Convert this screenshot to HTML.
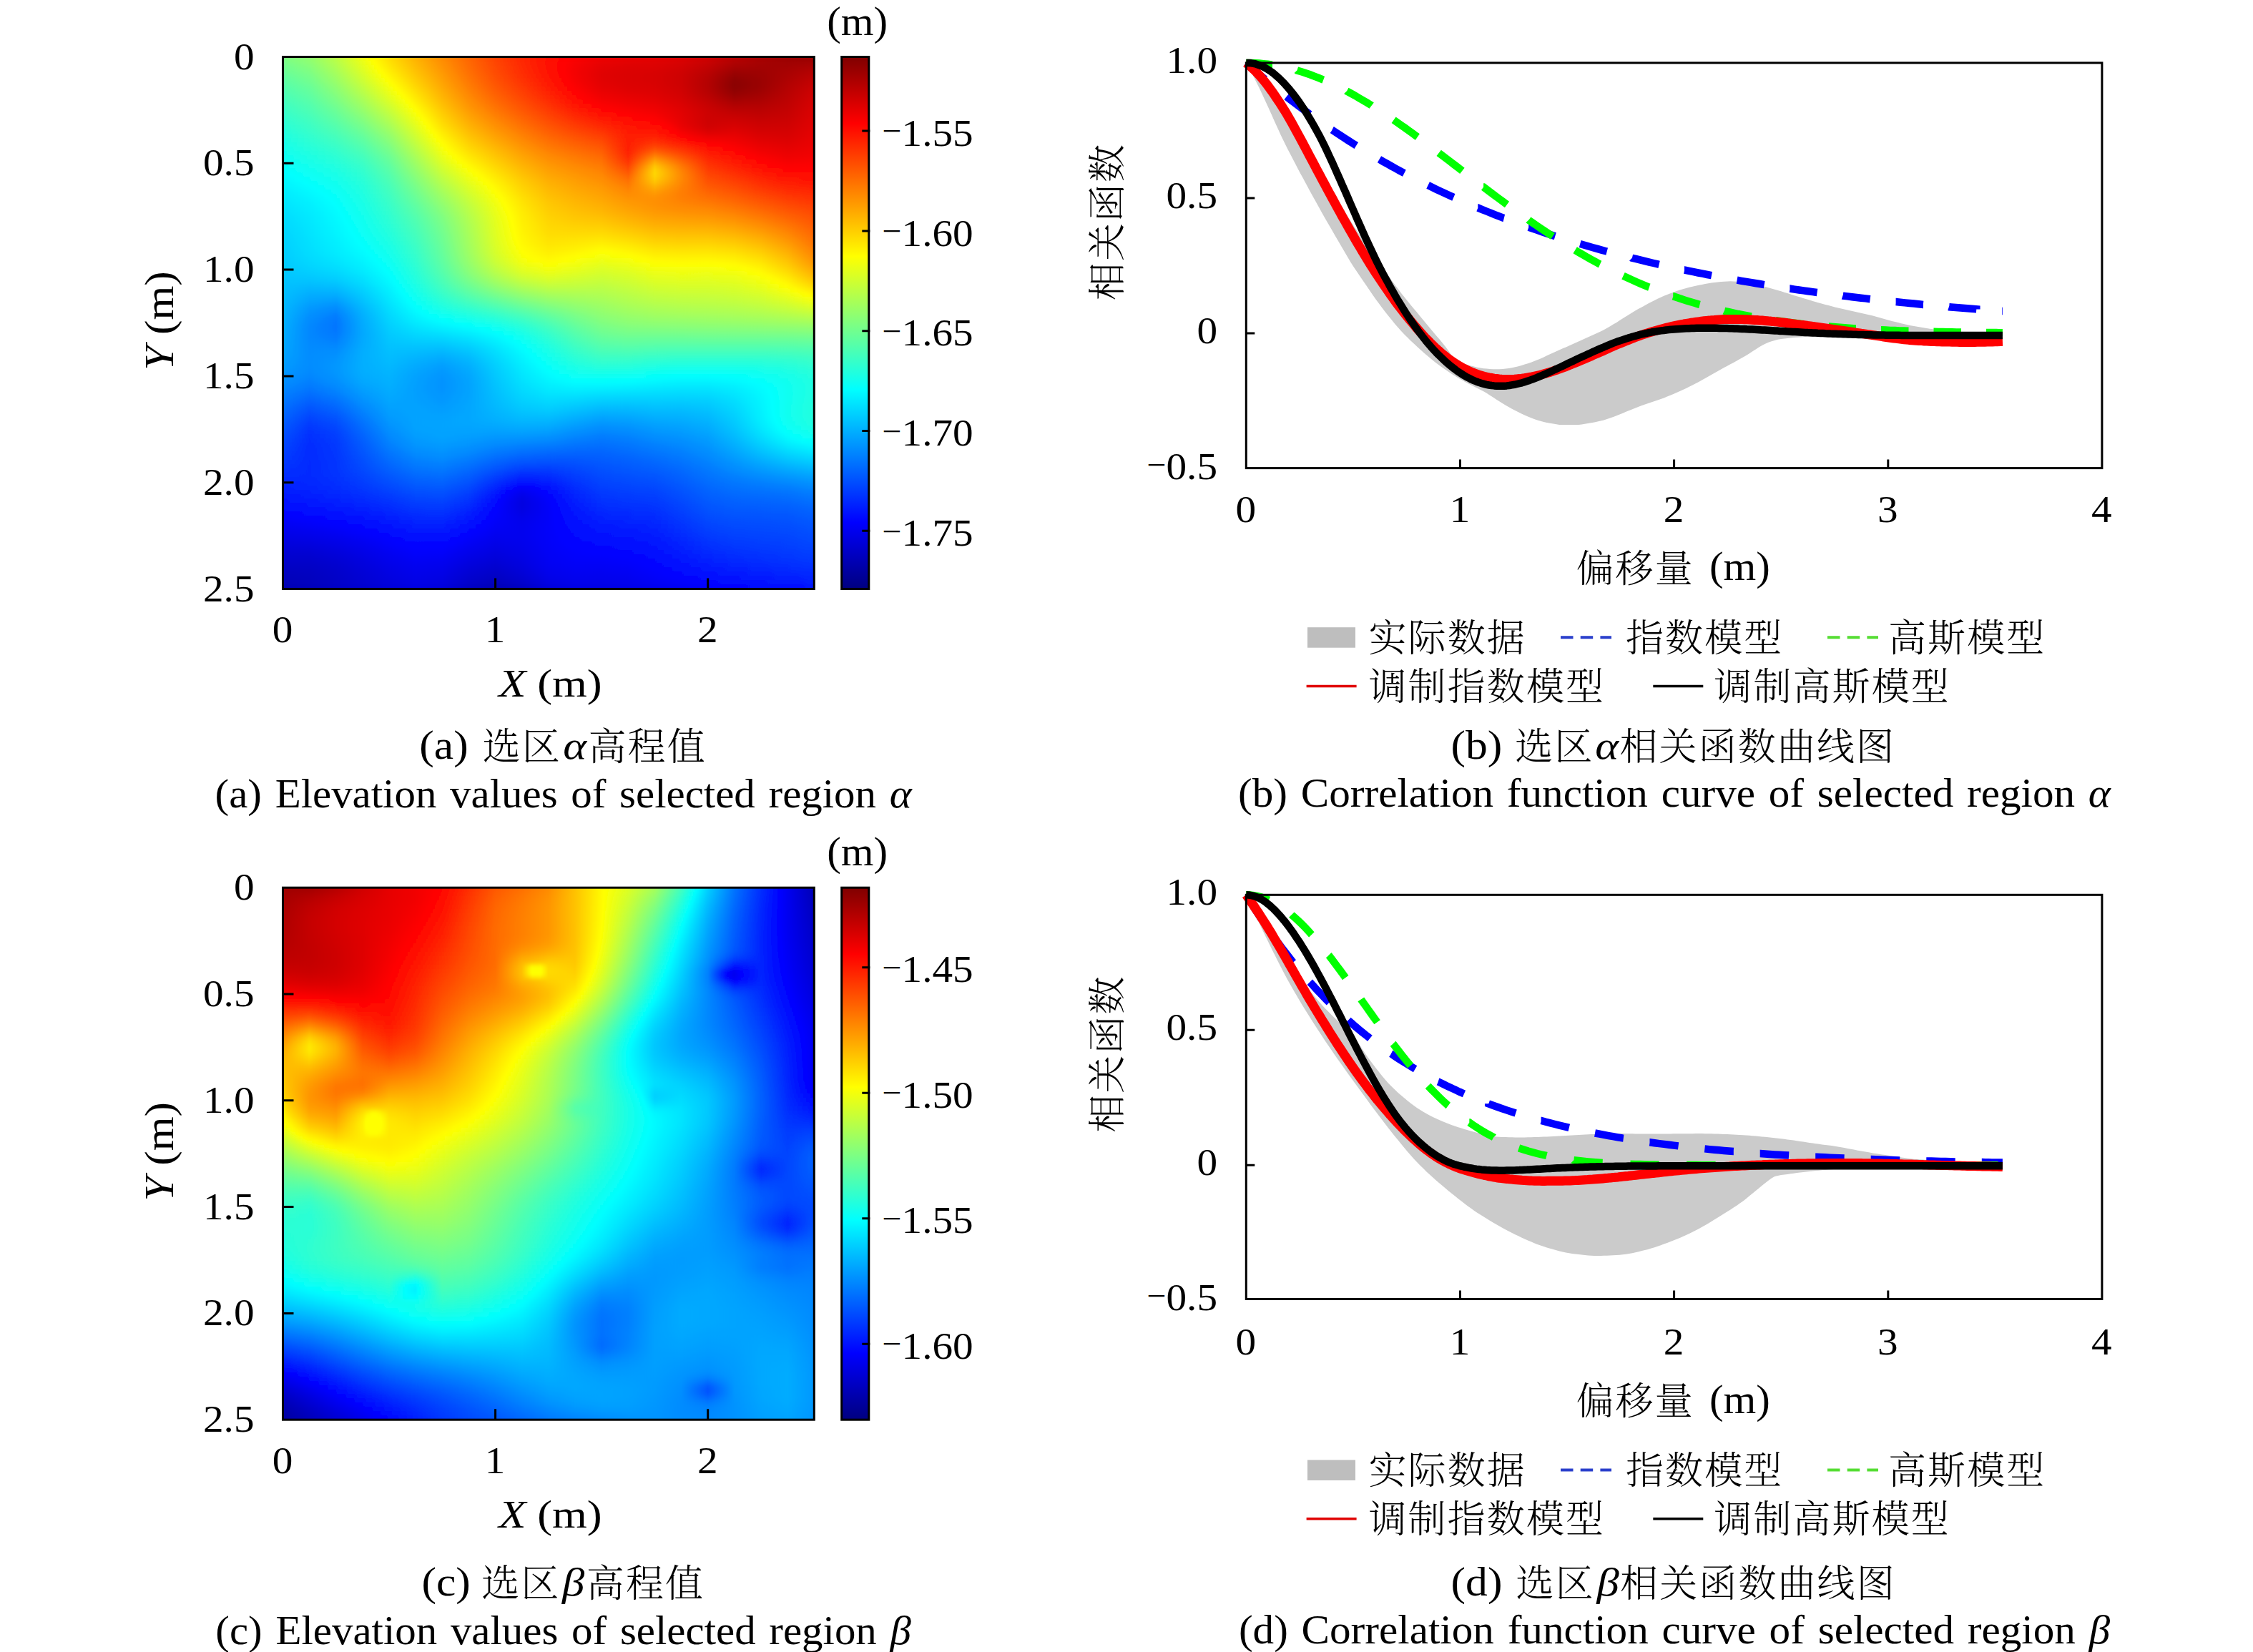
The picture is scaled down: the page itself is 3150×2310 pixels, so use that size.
<!DOCTYPE html>
<html lang="zh"><head><meta charset="utf-8"><title>Figure</title>
<style>html,body{margin:0;padding:0;background:#fff}svg{display:block}text{font-family:"Liberation Serif","Noto Serif CJK SC",serif;font-size:56px;fill:#000}.cj{font-family:"Noto Serif CJK SC","Liberation Serif",serif;font-size:53px;letter-spacing:2.1px;font-weight:300}</style></head><body>
<svg width="3150" height="2310" viewBox="0 0 3150 2310">
<rect width="3150" height="2310" fill="#fff"/>
<defs><linearGradient id="jetv" x1="0" y1="0" x2="0" y2="1"><stop offset="0" stop-color="#800000"/><stop offset="0.0312" stop-color="#9f0000"/><stop offset="0.0625" stop-color="#bf0000"/><stop offset="0.0938" stop-color="#df0000"/><stop offset="0.125" stop-color="#f00"/><stop offset="0.1562" stop-color="#ff2000"/><stop offset="0.1875" stop-color="#ff4000"/><stop offset="0.2188" stop-color="#ff6000"/><stop offset="0.25" stop-color="#ff8000"/><stop offset="0.2812" stop-color="#ff9f00"/><stop offset="0.3125" stop-color="#ffbf00"/><stop offset="0.3438" stop-color="#ffdf00"/><stop offset="0.375" stop-color="#ff0"/><stop offset="0.4062" stop-color="#dfff20"/><stop offset="0.4375" stop-color="#bfff40"/><stop offset="0.4688" stop-color="#9fff60"/><stop offset="0.5" stop-color="#80ff80"/><stop offset="0.5312" stop-color="#60ff9f"/><stop offset="0.5625" stop-color="#40ffbf"/><stop offset="0.5938" stop-color="#20ffdf"/><stop offset="0.625" stop-color="#0ff"/><stop offset="0.6562" stop-color="#00dfff"/><stop offset="0.6875" stop-color="#00bfff"/><stop offset="0.7188" stop-color="#009fff"/><stop offset="0.75" stop-color="#0080ff"/><stop offset="0.7812" stop-color="#0060ff"/><stop offset="0.8125" stop-color="#0040ff"/><stop offset="0.8438" stop-color="#0020ff"/><stop offset="0.875" stop-color="#00f"/><stop offset="0.9062" stop-color="#0000df"/><stop offset="0.9375" stop-color="#0000bf"/><stop offset="0.9688" stop-color="#00009f"/><stop offset="1" stop-color="#000080"/></linearGradient></defs>
<defs><linearGradient id="a0"><stop offset="0" stop-color="#7cff83"/><stop offset="0.05" stop-color="#90ff6f"/><stop offset="0.1" stop-color="#baff45"/><stop offset="0.15" stop-color="#edff12"/><stop offset="0.167" stop-color="#ff0"/><stop offset="0.2" stop-color="#ffde00"/><stop offset="0.25" stop-color="#ffb200"/><stop offset="0.3" stop-color="#ff8b00"/><stop offset="0.35" stop-color="#f60"/><stop offset="0.4" stop-color="#ff4300"/><stop offset="0.45" stop-color="#ff2600"/><stop offset="0.5" stop-color="#ff0f00"/><stop offset="0.536" stop-color="#f00"/><stop offset="0.55" stop-color="#fa0000"/><stop offset="0.6" stop-color="#ec0000"/><stop offset="0.65" stop-color="#e60000"/><stop offset="0.7" stop-color="#e30000"/><stop offset="0.75" stop-color="#db0000"/><stop offset="0.8" stop-color="#c00"/><stop offset="0.85" stop-color="#b60000"/><stop offset="0.9" stop-color="#a60000"/><stop offset="0.95" stop-color="#9b0000"/><stop offset="1" stop-color="#900"/></linearGradient><linearGradient id="a1"><stop offset="0" stop-color="#75ff8a"/><stop offset="0.05" stop-color="#8aff75"/><stop offset="0.1" stop-color="#b3ff4c"/><stop offset="0.15" stop-color="#e7ff18"/><stop offset="0.172" stop-color="#ff0"/><stop offset="0.2" stop-color="#ffe300"/><stop offset="0.25" stop-color="#ffb700"/><stop offset="0.3" stop-color="#ff8f00"/><stop offset="0.35" stop-color="#ff6800"/><stop offset="0.4" stop-color="#f40"/><stop offset="0.45" stop-color="#ff2700"/><stop offset="0.5" stop-color="#ff0e00"/><stop offset="0.531" stop-color="#f00"/><stop offset="0.55" stop-color="#f70000"/><stop offset="0.6" stop-color="#e70000"/><stop offset="0.65" stop-color="#e10000"/><stop offset="0.7" stop-color="#de0000"/><stop offset="0.75" stop-color="#d60000"/><stop offset="0.8" stop-color="#c60000"/><stop offset="0.85" stop-color="#ae0000"/><stop offset="0.9" stop-color="#a40000"/><stop offset="0.95" stop-color="#9f0000"/><stop offset="1" stop-color="#a30000"/></linearGradient><linearGradient id="a2"><stop offset="0" stop-color="#6fff90"/><stop offset="0.05" stop-color="#83ff7c"/><stop offset="0.1" stop-color="#adff52"/><stop offset="0.15" stop-color="#e1ff1e"/><stop offset="0.178" stop-color="#ff0"/><stop offset="0.2" stop-color="#ffe900"/><stop offset="0.25" stop-color="#ffbc00"/><stop offset="0.3" stop-color="#ff9300"/><stop offset="0.35" stop-color="#ff6b00"/><stop offset="0.4" stop-color="#ff4700"/><stop offset="0.45" stop-color="#ff2900"/><stop offset="0.5" stop-color="#ff0f00"/><stop offset="0.529" stop-color="#f00"/><stop offset="0.55" stop-color="#f50000"/><stop offset="0.6" stop-color="#e30000"/><stop offset="0.65" stop-color="#d00"/><stop offset="0.7" stop-color="#db0000"/><stop offset="0.75" stop-color="#d20000"/><stop offset="0.8" stop-color="#c00000"/><stop offset="0.85" stop-color="#a60000"/><stop offset="0.9" stop-color="#a10000"/><stop offset="0.95" stop-color="#a30000"/><stop offset="1" stop-color="#ac0000"/></linearGradient><linearGradient id="a3"><stop offset="0" stop-color="#69ff96"/><stop offset="0.05" stop-color="#7dff82"/><stop offset="0.1" stop-color="#a6ff59"/><stop offset="0.15" stop-color="#daff25"/><stop offset="0.184" stop-color="#ff0"/><stop offset="0.2" stop-color="#ffef00"/><stop offset="0.25" stop-color="#ffc100"/><stop offset="0.3" stop-color="#ff9700"/><stop offset="0.35" stop-color="#ff6e00"/><stop offset="0.4" stop-color="#ff4900"/><stop offset="0.45" stop-color="#ff2b00"/><stop offset="0.5" stop-color="#ff1000"/><stop offset="0.529" stop-color="#f00"/><stop offset="0.55" stop-color="#f40000"/><stop offset="0.6" stop-color="#e10000"/><stop offset="0.65" stop-color="#db0000"/><stop offset="0.7" stop-color="#d80000"/><stop offset="0.75" stop-color="#cf0000"/><stop offset="0.8" stop-color="#b00"/><stop offset="0.85" stop-color="#9c0000"/><stop offset="0.9" stop-color="#9e0000"/><stop offset="0.95" stop-color="#a70000"/><stop offset="1" stop-color="#b40000"/></linearGradient><linearGradient id="a4"><stop offset="0" stop-color="#62ff9d"/><stop offset="0.05" stop-color="#7f8"/><stop offset="0.1" stop-color="#9fff60"/><stop offset="0.15" stop-color="#d3ff2c"/><stop offset="0.191" stop-color="#ff0"/><stop offset="0.2" stop-color="#fff600"/><stop offset="0.25" stop-color="#ffc700"/><stop offset="0.3" stop-color="#ff9c00"/><stop offset="0.35" stop-color="#ff7200"/><stop offset="0.4" stop-color="#ff4d00"/><stop offset="0.45" stop-color="#ff2e00"/><stop offset="0.5" stop-color="#ff1200"/><stop offset="0.531" stop-color="#f00"/><stop offset="0.55" stop-color="#f50000"/><stop offset="0.6" stop-color="#e00000"/><stop offset="0.65" stop-color="#da0000"/><stop offset="0.7" stop-color="#d70000"/><stop offset="0.75" stop-color="#cd0000"/><stop offset="0.8" stop-color="#b60000"/><stop offset="0.85" stop-color="#930000"/><stop offset="0.9" stop-color="#9c0000"/><stop offset="0.95" stop-color="#a00"/><stop offset="1" stop-color="#b00"/></linearGradient><linearGradient id="a5"><stop offset="0" stop-color="#5cffa3"/><stop offset="0.05" stop-color="#71ff8e"/><stop offset="0.1" stop-color="#9f6"/><stop offset="0.15" stop-color="#cf3"/><stop offset="0.198" stop-color="#ff0"/><stop offset="0.2" stop-color="#fffd00"/><stop offset="0.25" stop-color="#ffcd00"/><stop offset="0.3" stop-color="#ffa000"/><stop offset="0.35" stop-color="#ff7600"/><stop offset="0.4" stop-color="#ff5000"/><stop offset="0.45" stop-color="#ff3100"/><stop offset="0.5" stop-color="#ff1500"/><stop offset="0.535" stop-color="#f00"/><stop offset="0.55" stop-color="#f60000"/><stop offset="0.6" stop-color="#e10000"/><stop offset="0.65" stop-color="#da0000"/><stop offset="0.7" stop-color="#d70000"/><stop offset="0.75" stop-color="#cd0000"/><stop offset="0.8" stop-color="#b40000"/><stop offset="0.85" stop-color="#8d0000"/><stop offset="0.9" stop-color="#9a0000"/><stop offset="0.95" stop-color="#ad0000"/><stop offset="1" stop-color="#c10000"/></linearGradient><linearGradient id="a6"><stop offset="0" stop-color="#57ffa8"/><stop offset="0.05" stop-color="#6bff94"/><stop offset="0.1" stop-color="#92ff6d"/><stop offset="0.15" stop-color="#c4ff3b"/><stop offset="0.2" stop-color="#f9ff06"/><stop offset="0.206" stop-color="#ff0"/><stop offset="0.25" stop-color="#ffd300"/><stop offset="0.3" stop-color="#ffa500"/><stop offset="0.35" stop-color="#ff7a00"/><stop offset="0.4" stop-color="#f50"/><stop offset="0.45" stop-color="#ff3500"/><stop offset="0.5" stop-color="#ff1800"/><stop offset="0.54" stop-color="#f00"/><stop offset="0.55" stop-color="#f90000"/><stop offset="0.6" stop-color="#e30000"/><stop offset="0.65" stop-color="#dc0000"/><stop offset="0.7" stop-color="#d80000"/><stop offset="0.75" stop-color="#cd0000"/><stop offset="0.8" stop-color="#b30000"/><stop offset="0.85" stop-color="#8a0000"/><stop offset="0.9" stop-color="#9a0000"/><stop offset="0.95" stop-color="#b10000"/><stop offset="1" stop-color="#c60000"/></linearGradient><linearGradient id="a7"><stop offset="0" stop-color="#51ffae"/><stop offset="0.05" stop-color="#65ff9a"/><stop offset="0.1" stop-color="#8bff74"/><stop offset="0.15" stop-color="#bcff43"/><stop offset="0.2" stop-color="#f1ff0e"/><stop offset="0.213" stop-color="#ff0"/><stop offset="0.25" stop-color="#ffda00"/><stop offset="0.3" stop-color="#fa0"/><stop offset="0.35" stop-color="#ff7f00"/><stop offset="0.4" stop-color="#ff5900"/><stop offset="0.45" stop-color="#ff3a00"/><stop offset="0.5" stop-color="#ff1c00"/><stop offset="0.546" stop-color="#f00"/><stop offset="0.55" stop-color="#fd0000"/><stop offset="0.6" stop-color="#e60000"/><stop offset="0.65" stop-color="#de0000"/><stop offset="0.7" stop-color="#da0000"/><stop offset="0.75" stop-color="#cf0000"/><stop offset="0.8" stop-color="#b40000"/><stop offset="0.85" stop-color="#8c0000"/><stop offset="0.9" stop-color="#9c0000"/><stop offset="0.95" stop-color="#b40000"/><stop offset="1" stop-color="#cb0000"/></linearGradient><linearGradient id="a8"><stop offset="0" stop-color="#4cffb3"/><stop offset="0.05" stop-color="#60ff9f"/><stop offset="0.1" stop-color="#85ff7a"/><stop offset="0.15" stop-color="#b5ff4a"/><stop offset="0.2" stop-color="#e9ff16"/><stop offset="0.221" stop-color="#ff0"/><stop offset="0.25" stop-color="#ffe100"/><stop offset="0.3" stop-color="#ffb000"/><stop offset="0.35" stop-color="#ff8400"/><stop offset="0.4" stop-color="#ff5e00"/><stop offset="0.45" stop-color="#ff3f00"/><stop offset="0.5" stop-color="#ff2100"/><stop offset="0.55" stop-color="#ff0300"/><stop offset="0.555" stop-color="#f00"/><stop offset="0.6" stop-color="#eb0000"/><stop offset="0.65" stop-color="#e20000"/><stop offset="0.7" stop-color="#d00"/><stop offset="0.75" stop-color="#d10000"/><stop offset="0.8" stop-color="#b70000"/><stop offset="0.85" stop-color="#930000"/><stop offset="0.9" stop-color="#a10000"/><stop offset="0.95" stop-color="#b70000"/><stop offset="1" stop-color="#cf0000"/></linearGradient><linearGradient id="a9"><stop offset="0" stop-color="#47ffb8"/><stop offset="0.05" stop-color="#5bffa4"/><stop offset="0.1" stop-color="#7eff81"/><stop offset="0.15" stop-color="#acff53"/><stop offset="0.2" stop-color="#e1ff1e"/><stop offset="0.228" stop-color="#ff0"/><stop offset="0.25" stop-color="#ffe800"/><stop offset="0.3" stop-color="#ffb500"/><stop offset="0.35" stop-color="#ff8900"/><stop offset="0.4" stop-color="#ff6400"/><stop offset="0.45" stop-color="#f40"/><stop offset="0.5" stop-color="#ff2600"/><stop offset="0.55" stop-color="#ff0800"/><stop offset="0.565" stop-color="#f00"/><stop offset="0.6" stop-color="#f00000"/><stop offset="0.65" stop-color="#e70000"/><stop offset="0.7" stop-color="#e10000"/><stop offset="0.75" stop-color="#d40000"/><stop offset="0.8" stop-color="#bc0000"/><stop offset="0.85" stop-color="#9c0000"/><stop offset="0.9" stop-color="#a70000"/><stop offset="0.95" stop-color="#ba0000"/><stop offset="1" stop-color="#d20000"/></linearGradient><linearGradient id="a10"><stop offset="0" stop-color="#42ffbd"/><stop offset="0.05" stop-color="#5fa"/><stop offset="0.1" stop-color="#78ff87"/><stop offset="0.15" stop-color="#a4ff5b"/><stop offset="0.2" stop-color="#d8ff27"/><stop offset="0.236" stop-color="#ff0"/><stop offset="0.25" stop-color="#ffef00"/><stop offset="0.3" stop-color="#fb0"/><stop offset="0.35" stop-color="#ff8f00"/><stop offset="0.4" stop-color="#ff6900"/><stop offset="0.45" stop-color="#ff4a00"/><stop offset="0.5" stop-color="#ff2c00"/><stop offset="0.55" stop-color="#ff0e00"/><stop offset="0.577" stop-color="#f00"/><stop offset="0.6" stop-color="#f60000"/><stop offset="0.65" stop-color="#ec0000"/><stop offset="0.7" stop-color="#e50000"/><stop offset="0.75" stop-color="#d80000"/><stop offset="0.8" stop-color="#c20000"/><stop offset="0.85" stop-color="#a80000"/><stop offset="0.9" stop-color="#ad0000"/><stop offset="0.95" stop-color="#bd0000"/><stop offset="1" stop-color="#d50000"/></linearGradient><linearGradient id="a11"><stop offset="0" stop-color="#3dffc2"/><stop offset="0.05" stop-color="#50ffaf"/><stop offset="0.1" stop-color="#71ff8e"/><stop offset="0.15" stop-color="#9cff63"/><stop offset="0.2" stop-color="#cfff30"/><stop offset="0.243" stop-color="#ff0"/><stop offset="0.25" stop-color="#fff700"/><stop offset="0.3" stop-color="#ffc100"/><stop offset="0.35" stop-color="#ff9400"/><stop offset="0.4" stop-color="#ff7000"/><stop offset="0.45" stop-color="#ff5000"/><stop offset="0.5" stop-color="#ff3200"/><stop offset="0.55" stop-color="#ff1500"/><stop offset="0.595" stop-color="#f00"/><stop offset="0.6" stop-color="#fd0000"/><stop offset="0.65" stop-color="#f20000"/><stop offset="0.7" stop-color="#eb0000"/><stop offset="0.75" stop-color="#dc0000"/><stop offset="0.8" stop-color="#c70000"/><stop offset="0.85" stop-color="#b20000"/><stop offset="0.9" stop-color="#b40000"/><stop offset="0.95" stop-color="#c00000"/><stop offset="1" stop-color="#d80000"/></linearGradient><linearGradient id="a12"><stop offset="0" stop-color="#38ffc7"/><stop offset="0.05" stop-color="#4cffb3"/><stop offset="0.1" stop-color="#6aff95"/><stop offset="0.15" stop-color="#94ff6b"/><stop offset="0.2" stop-color="#c6ff39"/><stop offset="0.25" stop-color="#ff0"/><stop offset="0.3" stop-color="#ffc800"/><stop offset="0.35" stop-color="#ff9a00"/><stop offset="0.4" stop-color="#ff7600"/><stop offset="0.45" stop-color="#ff5600"/><stop offset="0.5" stop-color="#ff3900"/><stop offset="0.55" stop-color="#ff1c00"/><stop offset="0.6" stop-color="#ff0600"/><stop offset="0.62" stop-color="#f00"/><stop offset="0.65" stop-color="#f90000"/><stop offset="0.7" stop-color="#f00000"/><stop offset="0.75" stop-color="#e00000"/><stop offset="0.8" stop-color="#cb0000"/><stop offset="0.85" stop-color="#bc0000"/><stop offset="0.9" stop-color="#ba0000"/><stop offset="0.95" stop-color="#c30000"/><stop offset="1" stop-color="#da0000"/></linearGradient><linearGradient id="a13"><stop offset="0" stop-color="#34ffcb"/><stop offset="0.05" stop-color="#47ffb8"/><stop offset="0.1" stop-color="#64ff9b"/><stop offset="0.15" stop-color="#8bff74"/><stop offset="0.2" stop-color="#bdff42"/><stop offset="0.25" stop-color="#f7ff08"/><stop offset="0.256" stop-color="#feff01"/><stop offset="0.3" stop-color="#ffce00"/><stop offset="0.35" stop-color="#ffa100"/><stop offset="0.4" stop-color="#ff7d00"/><stop offset="0.45" stop-color="#ff5d00"/><stop offset="0.5" stop-color="#ff4000"/><stop offset="0.55" stop-color="#ff2400"/><stop offset="0.6" stop-color="#ff0e00"/><stop offset="0.65" stop-color="#ff0100"/><stop offset="0.654" stop-color="#f00"/><stop offset="0.7" stop-color="#f60000"/><stop offset="0.75" stop-color="#e20000"/><stop offset="0.8" stop-color="#cd0000"/><stop offset="0.85" stop-color="#c40000"/><stop offset="0.9" stop-color="#bf0000"/><stop offset="0.95" stop-color="#c60000"/><stop offset="1" stop-color="#dc0000"/></linearGradient><linearGradient id="a14"><stop offset="0" stop-color="#2fffd0"/><stop offset="0.05" stop-color="#42ffbd"/><stop offset="0.1" stop-color="#5effa1"/><stop offset="0.15" stop-color="#83ff7c"/><stop offset="0.2" stop-color="#b4ff4b"/><stop offset="0.25" stop-color="#efff10"/><stop offset="0.263" stop-color="#ff0"/><stop offset="0.3" stop-color="#ffd500"/><stop offset="0.35" stop-color="#ffa700"/><stop offset="0.4" stop-color="#ff8400"/><stop offset="0.45" stop-color="#ff6400"/><stop offset="0.5" stop-color="#ff4700"/><stop offset="0.55" stop-color="#ff2c00"/><stop offset="0.6" stop-color="#ff1700"/><stop offset="0.65" stop-color="#ff0800"/><stop offset="0.691" stop-color="#f00"/><stop offset="0.7" stop-color="#fd0000"/><stop offset="0.75" stop-color="#e40000"/><stop offset="0.8" stop-color="#cd0000"/><stop offset="0.85" stop-color="#c00"/><stop offset="0.9" stop-color="#c50000"/><stop offset="0.95" stop-color="#c90000"/><stop offset="1" stop-color="#de0000"/></linearGradient><linearGradient id="a15"><stop offset="0" stop-color="#2bffd4"/><stop offset="0.05" stop-color="#3dffc2"/><stop offset="0.1" stop-color="#57ffa8"/><stop offset="0.15" stop-color="#7bff84"/><stop offset="0.2" stop-color="#abff54"/><stop offset="0.25" stop-color="#e7ff18"/><stop offset="0.269" stop-color="#ff0"/><stop offset="0.3" stop-color="#ffdb00"/><stop offset="0.35" stop-color="#ffae00"/><stop offset="0.4" stop-color="#ff8b00"/><stop offset="0.45" stop-color="#ff6b00"/><stop offset="0.5" stop-color="#ff4e00"/><stop offset="0.55" stop-color="#ff3500"/><stop offset="0.6" stop-color="#ff2000"/><stop offset="0.65" stop-color="#ff0e00"/><stop offset="0.7" stop-color="#ff0500"/><stop offset="0.715" stop-color="#f00"/><stop offset="0.75" stop-color="#e60000"/><stop offset="0.8" stop-color="#ce0000"/><stop offset="0.85" stop-color="#d20000"/><stop offset="0.9" stop-color="#ca0000"/><stop offset="0.95" stop-color="#cd0000"/><stop offset="1" stop-color="#e00000"/></linearGradient><linearGradient id="a16"><stop offset="0" stop-color="#27ffd8"/><stop offset="0.05" stop-color="#39ffc6"/><stop offset="0.1" stop-color="#51ffae"/><stop offset="0.15" stop-color="#73ff8c"/><stop offset="0.2" stop-color="#a2ff5d"/><stop offset="0.25" stop-color="#dfff20"/><stop offset="0.275" stop-color="#ff0"/><stop offset="0.3" stop-color="#ffe200"/><stop offset="0.35" stop-color="#ffb500"/><stop offset="0.4" stop-color="#ff9200"/><stop offset="0.45" stop-color="#ff7200"/><stop offset="0.5" stop-color="#ff5600"/><stop offset="0.55" stop-color="#ff3d00"/><stop offset="0.6" stop-color="#ff2900"/><stop offset="0.65" stop-color="#ff1400"/><stop offset="0.7" stop-color="#ff0c00"/><stop offset="0.729" stop-color="#f00"/><stop offset="0.75" stop-color="#eb0000"/><stop offset="0.8" stop-color="#d10000"/><stop offset="0.85" stop-color="#d90000"/><stop offset="0.9" stop-color="#cf0000"/><stop offset="0.95" stop-color="#d00000"/><stop offset="1" stop-color="#e20000"/></linearGradient><linearGradient id="a17"><stop offset="0" stop-color="#2fd"/><stop offset="0.05" stop-color="#35ffca"/><stop offset="0.1" stop-color="#4bffb4"/><stop offset="0.15" stop-color="#6bff94"/><stop offset="0.2" stop-color="#9f6"/><stop offset="0.25" stop-color="#d7ff28"/><stop offset="0.282" stop-color="#fffe00"/><stop offset="0.3" stop-color="#ffea00"/><stop offset="0.35" stop-color="#ffbc00"/><stop offset="0.4" stop-color="#f90"/><stop offset="0.45" stop-color="#ff7a00"/><stop offset="0.5" stop-color="#ff5d00"/><stop offset="0.55" stop-color="#ff4600"/><stop offset="0.6" stop-color="#f30"/><stop offset="0.65" stop-color="#ff1800"/><stop offset="0.7" stop-color="#ff1400"/><stop offset="0.74" stop-color="#f00"/><stop offset="0.75" stop-color="#f40000"/><stop offset="0.8" stop-color="#da0000"/><stop offset="0.85" stop-color="#e00000"/><stop offset="0.9" stop-color="#d40000"/><stop offset="0.95" stop-color="#d40000"/><stop offset="1" stop-color="#e40000"/></linearGradient><linearGradient id="a18"><stop offset="0" stop-color="#1effe1"/><stop offset="0.05" stop-color="#30ffcf"/><stop offset="0.1" stop-color="#45ffba"/><stop offset="0.15" stop-color="#63ff9c"/><stop offset="0.2" stop-color="#90ff6f"/><stop offset="0.25" stop-color="#cfff30"/><stop offset="0.288" stop-color="#ff0"/><stop offset="0.3" stop-color="#fff100"/><stop offset="0.35" stop-color="#ffc300"/><stop offset="0.4" stop-color="#ffa100"/><stop offset="0.45" stop-color="#ff8100"/><stop offset="0.5" stop-color="#ff6500"/><stop offset="0.55" stop-color="#ff4f00"/><stop offset="0.6" stop-color="#ff3c00"/><stop offset="0.65" stop-color="#ff1b00"/><stop offset="0.7" stop-color="#ff1e00"/><stop offset="0.75" stop-color="#ff0100"/><stop offset="0.751" stop-color="#f00"/><stop offset="0.8" stop-color="#e70000"/><stop offset="0.85" stop-color="#e70000"/><stop offset="0.9" stop-color="#da0000"/><stop offset="0.95" stop-color="#d70000"/><stop offset="1" stop-color="#e60000"/></linearGradient><linearGradient id="a19"><stop offset="0" stop-color="#1affe5"/><stop offset="0.05" stop-color="#2cffd3"/><stop offset="0.1" stop-color="#3fffc0"/><stop offset="0.15" stop-color="#5cffa3"/><stop offset="0.2" stop-color="#8f7"/><stop offset="0.25" stop-color="#c7ff38"/><stop offset="0.294" stop-color="#ff0"/><stop offset="0.3" stop-color="#fff900"/><stop offset="0.35" stop-color="#ffcb00"/><stop offset="0.4" stop-color="#ffa800"/><stop offset="0.45" stop-color="#f80"/><stop offset="0.5" stop-color="#ff6d00"/><stop offset="0.55" stop-color="#ff5800"/><stop offset="0.6" stop-color="#ff4600"/><stop offset="0.65" stop-color="#ff1c00"/><stop offset="0.7" stop-color="#ff2a00"/><stop offset="0.75" stop-color="#ff1000"/><stop offset="0.768" stop-color="#f00"/><stop offset="0.8" stop-color="#f60000"/><stop offset="0.85" stop-color="#ef0000"/><stop offset="0.9" stop-color="#e00000"/><stop offset="0.95" stop-color="#dc0000"/><stop offset="1" stop-color="#e80000"/></linearGradient><linearGradient id="a20"><stop offset="0" stop-color="#16ffe9"/><stop offset="0.05" stop-color="#28ffd7"/><stop offset="0.1" stop-color="#3affc5"/><stop offset="0.15" stop-color="#5fa"/><stop offset="0.2" stop-color="#80ff7f"/><stop offset="0.25" stop-color="#bfff40"/><stop offset="0.3" stop-color="#feff01"/><stop offset="0.301" stop-color="#ff0"/><stop offset="0.35" stop-color="#ffd200"/><stop offset="0.4" stop-color="#ffb000"/><stop offset="0.45" stop-color="#ff9000"/><stop offset="0.5" stop-color="#ff7400"/><stop offset="0.55" stop-color="#ff6100"/><stop offset="0.6" stop-color="#ff4f00"/><stop offset="0.65" stop-color="#ff1d00"/><stop offset="0.7" stop-color="#ff3900"/><stop offset="0.75" stop-color="#ff1f00"/><stop offset="0.8" stop-color="#ff0500"/><stop offset="0.823" stop-color="#f00"/><stop offset="0.85" stop-color="#f60000"/><stop offset="0.9" stop-color="#e60000"/><stop offset="0.95" stop-color="#e00000"/><stop offset="1" stop-color="#ea0000"/></linearGradient><linearGradient id="a21"><stop offset="0" stop-color="#13ffec"/><stop offset="0.05" stop-color="#23ffdc"/><stop offset="0.1" stop-color="#34ffcb"/><stop offset="0.15" stop-color="#4effb1"/><stop offset="0.2" stop-color="#78ff87"/><stop offset="0.25" stop-color="#b7ff48"/><stop offset="0.3" stop-color="#f6ff09"/><stop offset="0.308" stop-color="#ff0"/><stop offset="0.35" stop-color="#ffda00"/><stop offset="0.4" stop-color="#ffb800"/><stop offset="0.45" stop-color="#ff9700"/><stop offset="0.5" stop-color="#ff7c00"/><stop offset="0.55" stop-color="#ff6900"/><stop offset="0.6" stop-color="#ff5800"/><stop offset="0.65" stop-color="#ff1e00"/><stop offset="0.7" stop-color="#ff4e00"/><stop offset="0.75" stop-color="#ff3000"/><stop offset="0.8" stop-color="#ff1000"/><stop offset="0.848" stop-color="#f00"/><stop offset="0.85" stop-color="#fe0000"/><stop offset="0.9" stop-color="#ed0000"/><stop offset="0.95" stop-color="#e50000"/><stop offset="1" stop-color="#ed0000"/></linearGradient><linearGradient id="a22"><stop offset="0" stop-color="#0ffff0"/><stop offset="0.05" stop-color="#1fffe0"/><stop offset="0.1" stop-color="#2fffd0"/><stop offset="0.15" stop-color="#47ffb8"/><stop offset="0.2" stop-color="#71ff8e"/><stop offset="0.25" stop-color="#afff50"/><stop offset="0.3" stop-color="#ef1"/><stop offset="0.316" stop-color="#ff0"/><stop offset="0.35" stop-color="#ffe200"/><stop offset="0.4" stop-color="#ffc000"/><stop offset="0.45" stop-color="#ff9f00"/><stop offset="0.5" stop-color="#ff8400"/><stop offset="0.55" stop-color="#ff7200"/><stop offset="0.6" stop-color="#ff6100"/><stop offset="0.65" stop-color="#f20"/><stop offset="0.7" stop-color="#ff6900"/><stop offset="0.75" stop-color="#ff4100"/><stop offset="0.8" stop-color="#ff1a00"/><stop offset="0.85" stop-color="#ff0700"/><stop offset="0.867" stop-color="#f00"/><stop offset="0.9" stop-color="#f30000"/><stop offset="0.95" stop-color="#ea0000"/><stop offset="1" stop-color="#f00000"/></linearGradient><linearGradient id="a23"><stop offset="0" stop-color="#0bfff4"/><stop offset="0.05" stop-color="#1bffe4"/><stop offset="0.1" stop-color="#2affd5"/><stop offset="0.15" stop-color="#41ffbe"/><stop offset="0.2" stop-color="#69ff96"/><stop offset="0.25" stop-color="#a7ff58"/><stop offset="0.3" stop-color="#e6ff19"/><stop offset="0.325" stop-color="#ff0"/><stop offset="0.35" stop-color="#ffea00"/><stop offset="0.4" stop-color="#ffc700"/><stop offset="0.45" stop-color="#ffa600"/><stop offset="0.5" stop-color="#ff8b00"/><stop offset="0.55" stop-color="#ff7a00"/><stop offset="0.6" stop-color="#ff6900"/><stop offset="0.65" stop-color="#ff2900"/><stop offset="0.7" stop-color="#ff8900"/><stop offset="0.75" stop-color="#ff5400"/><stop offset="0.8" stop-color="#ff2300"/><stop offset="0.85" stop-color="#ff0f00"/><stop offset="0.887" stop-color="#f00"/><stop offset="0.9" stop-color="#fb0000"/><stop offset="0.95" stop-color="#ef0000"/><stop offset="1" stop-color="#f40000"/></linearGradient><linearGradient id="a24"><stop offset="0" stop-color="#07fff8"/><stop offset="0.05" stop-color="#17ffe8"/><stop offset="0.1" stop-color="#25ffda"/><stop offset="0.15" stop-color="#3bffc4"/><stop offset="0.2" stop-color="#63ff9c"/><stop offset="0.25" stop-color="#9fff60"/><stop offset="0.3" stop-color="#deff21"/><stop offset="0.334" stop-color="#ff0"/><stop offset="0.35" stop-color="#fff200"/><stop offset="0.4" stop-color="#ffcf00"/><stop offset="0.45" stop-color="#ffad00"/><stop offset="0.5" stop-color="#ff9200"/><stop offset="0.55" stop-color="#ff8100"/><stop offset="0.6" stop-color="#ff7100"/><stop offset="0.65" stop-color="#f30"/><stop offset="0.7" stop-color="#ffa800"/><stop offset="0.75" stop-color="#ff6700"/><stop offset="0.8" stop-color="#ff2c00"/><stop offset="0.85" stop-color="#ff1700"/><stop offset="0.9" stop-color="#ff0300"/><stop offset="0.908" stop-color="#f00"/><stop offset="0.95" stop-color="#f50000"/><stop offset="1" stop-color="#f80000"/></linearGradient><linearGradient id="a25"><stop offset="0" stop-color="#03fffc"/><stop offset="0.05" stop-color="#12ffed"/><stop offset="0.1" stop-color="#20ffdf"/><stop offset="0.15" stop-color="#36ffc9"/><stop offset="0.2" stop-color="#5dffa2"/><stop offset="0.25" stop-color="#98ff67"/><stop offset="0.3" stop-color="#d5ff2a"/><stop offset="0.344" stop-color="#ff0"/><stop offset="0.35" stop-color="#fffa00"/><stop offset="0.4" stop-color="#ffd600"/><stop offset="0.45" stop-color="#ffb400"/><stop offset="0.5" stop-color="#f90"/><stop offset="0.55" stop-color="#f80"/><stop offset="0.6" stop-color="#ff7900"/><stop offset="0.65" stop-color="#ff4000"/><stop offset="0.7" stop-color="#ffc300"/><stop offset="0.75" stop-color="#f70"/><stop offset="0.8" stop-color="#ff3400"/><stop offset="0.85" stop-color="#ff1f00"/><stop offset="0.9" stop-color="#ff0a00"/><stop offset="0.934" stop-color="#f00"/><stop offset="0.95" stop-color="#fc0000"/><stop offset="1" stop-color="#fd0000"/></linearGradient><linearGradient id="a26"><stop offset="0" stop-color="#00feff"/><stop offset="0.003" stop-color="#0ff"/><stop offset="0.05" stop-color="#0efff1"/><stop offset="0.1" stop-color="#1cffe3"/><stop offset="0.15" stop-color="#31ffce"/><stop offset="0.2" stop-color="#57ffa8"/><stop offset="0.25" stop-color="#91ff6e"/><stop offset="0.3" stop-color="#cdff32"/><stop offset="0.35" stop-color="#fbff04"/><stop offset="0.355" stop-color="#ff0"/><stop offset="0.4" stop-color="#ffde00"/><stop offset="0.45" stop-color="#fb0"/><stop offset="0.5" stop-color="#ff9f00"/><stop offset="0.55" stop-color="#ff8f00"/><stop offset="0.6" stop-color="#ff8000"/><stop offset="0.65" stop-color="#ff4f00"/><stop offset="0.7" stop-color="#ffd300"/><stop offset="0.75" stop-color="#ff8200"/><stop offset="0.8" stop-color="#ff3c00"/><stop offset="0.85" stop-color="#ff2700"/><stop offset="0.9" stop-color="#ff1200"/><stop offset="0.95" stop-color="#ff0400"/><stop offset="1" stop-color="#ff0300"/></linearGradient><linearGradient id="a27"><stop offset="0" stop-color="#00fbff"/><stop offset="0.015" stop-color="#0ff"/><stop offset="0.05" stop-color="#0afff5"/><stop offset="0.1" stop-color="#18ffe7"/><stop offset="0.15" stop-color="#2dffd2"/><stop offset="0.2" stop-color="#52ffad"/><stop offset="0.25" stop-color="#8aff75"/><stop offset="0.3" stop-color="#c5ff3a"/><stop offset="0.35" stop-color="#f3ff0c"/><stop offset="0.365" stop-color="#ff0"/><stop offset="0.4" stop-color="#ffe500"/><stop offset="0.45" stop-color="#ffc100"/><stop offset="0.5" stop-color="#ffa500"/><stop offset="0.55" stop-color="#ff9500"/><stop offset="0.6" stop-color="#ff8600"/><stop offset="0.65" stop-color="#ff5d00"/><stop offset="0.7" stop-color="#ffd600"/><stop offset="0.75" stop-color="#ff8700"/><stop offset="0.8" stop-color="#f40"/><stop offset="0.85" stop-color="#ff3000"/><stop offset="0.9" stop-color="#ff1a00"/><stop offset="0.95" stop-color="#ff0b00"/><stop offset="1" stop-color="#ff0900"/></linearGradient><linearGradient id="a28"><stop offset="0" stop-color="#00f7ff"/><stop offset="0.028" stop-color="#0ff"/><stop offset="0.05" stop-color="#06fff9"/><stop offset="0.1" stop-color="#14ffeb"/><stop offset="0.15" stop-color="#29ffd6"/><stop offset="0.2" stop-color="#4dffb2"/><stop offset="0.25" stop-color="#83ff7c"/><stop offset="0.3" stop-color="#bcff43"/><stop offset="0.35" stop-color="#ebff14"/><stop offset="0.375" stop-color="#ff0"/><stop offset="0.4" stop-color="#ffec00"/><stop offset="0.45" stop-color="#ffc800"/><stop offset="0.5" stop-color="#ffab00"/><stop offset="0.55" stop-color="#ff9b00"/><stop offset="0.6" stop-color="#ff8c00"/><stop offset="0.65" stop-color="#ff6b00"/><stop offset="0.7" stop-color="#ffcd00"/><stop offset="0.75" stop-color="#ff8700"/><stop offset="0.8" stop-color="#ff4c00"/><stop offset="0.85" stop-color="#ff3800"/><stop offset="0.9" stop-color="#ff2300"/><stop offset="0.95" stop-color="#ff1300"/><stop offset="1" stop-color="#ff1000"/></linearGradient><linearGradient id="a29"><stop offset="0" stop-color="#00f3ff"/><stop offset="0.043" stop-color="#0ff"/><stop offset="0.05" stop-color="#02fffd"/><stop offset="0.1" stop-color="#10ffef"/><stop offset="0.15" stop-color="#25ffda"/><stop offset="0.2" stop-color="#48ffb7"/><stop offset="0.25" stop-color="#7cff83"/><stop offset="0.3" stop-color="#b4ff4b"/><stop offset="0.35" stop-color="#e3ff1c"/><stop offset="0.384" stop-color="#ff0"/><stop offset="0.4" stop-color="#fff300"/><stop offset="0.45" stop-color="#ffce00"/><stop offset="0.5" stop-color="#ffb100"/><stop offset="0.55" stop-color="#ffa000"/><stop offset="0.6" stop-color="#ff9200"/><stop offset="0.65" stop-color="#ff7600"/><stop offset="0.7" stop-color="#ffbd00"/><stop offset="0.75" stop-color="#ff8400"/><stop offset="0.8" stop-color="#ff5300"/><stop offset="0.85" stop-color="#ff4100"/><stop offset="0.9" stop-color="#ff2c00"/><stop offset="0.95" stop-color="#ff1b00"/><stop offset="1" stop-color="#ff1700"/></linearGradient><linearGradient id="a30"><stop offset="0" stop-color="#00f0ff"/><stop offset="0.05" stop-color="#00fdff"/><stop offset="0.058" stop-color="#0ff"/><stop offset="0.1" stop-color="#0dfff2"/><stop offset="0.15" stop-color="#2fd"/><stop offset="0.2" stop-color="#4fb"/><stop offset="0.25" stop-color="#76ff89"/><stop offset="0.3" stop-color="#acff53"/><stop offset="0.35" stop-color="#dbff24"/><stop offset="0.393" stop-color="#ff0"/><stop offset="0.4" stop-color="#fff900"/><stop offset="0.45" stop-color="#ffd300"/><stop offset="0.5" stop-color="#ffb600"/><stop offset="0.55" stop-color="#ffa500"/><stop offset="0.6" stop-color="#ff9800"/><stop offset="0.65" stop-color="#ff7f00"/><stop offset="0.7" stop-color="#ffab00"/><stop offset="0.75" stop-color="#ff8000"/><stop offset="0.8" stop-color="#ff5b00"/><stop offset="0.85" stop-color="#ff4900"/><stop offset="0.9" stop-color="#ff3400"/><stop offset="0.95" stop-color="#ff2400"/><stop offset="1" stop-color="#ff1e00"/></linearGradient><linearGradient id="a31"><stop offset="0" stop-color="#00ecff"/><stop offset="0.05" stop-color="#00f9ff"/><stop offset="0.071" stop-color="#0ff"/><stop offset="0.1" stop-color="#09fff6"/><stop offset="0.15" stop-color="#1fffe0"/><stop offset="0.2" stop-color="#40ffbf"/><stop offset="0.25" stop-color="#70ff8f"/><stop offset="0.3" stop-color="#a4ff5b"/><stop offset="0.35" stop-color="#d4ff2b"/><stop offset="0.4" stop-color="#ff0"/><stop offset="0.45" stop-color="#ffd800"/><stop offset="0.5" stop-color="#fb0"/><stop offset="0.55" stop-color="#fa0"/><stop offset="0.6" stop-color="#ff9d00"/><stop offset="0.65" stop-color="#ff8700"/><stop offset="0.7" stop-color="#ff9c00"/><stop offset="0.75" stop-color="#ff7d00"/><stop offset="0.8" stop-color="#ff6300"/><stop offset="0.85" stop-color="#ff5200"/><stop offset="0.9" stop-color="#ff3d00"/><stop offset="0.95" stop-color="#ff2c00"/><stop offset="1" stop-color="#ff2500"/></linearGradient><linearGradient id="a32"><stop offset="0" stop-color="#00e9ff"/><stop offset="0.05" stop-color="#00f6ff"/><stop offset="0.082" stop-color="#0ff"/><stop offset="0.1" stop-color="#06fff9"/><stop offset="0.15" stop-color="#1cffe3"/><stop offset="0.2" stop-color="#3dffc2"/><stop offset="0.25" stop-color="#6aff95"/><stop offset="0.3" stop-color="#9dff62"/><stop offset="0.35" stop-color="#cdff32"/><stop offset="0.4" stop-color="#f9ff06"/><stop offset="0.407" stop-color="#ff0"/><stop offset="0.45" stop-color="#fd0"/><stop offset="0.5" stop-color="#ffbf00"/><stop offset="0.55" stop-color="#ffaf00"/><stop offset="0.6" stop-color="#ffa200"/><stop offset="0.65" stop-color="#ff8e00"/><stop offset="0.7" stop-color="#ff9200"/><stop offset="0.75" stop-color="#ff7d00"/><stop offset="0.8" stop-color="#ff6b00"/><stop offset="0.85" stop-color="#ff5b00"/><stop offset="0.9" stop-color="#ff4700"/><stop offset="0.95" stop-color="#ff3500"/><stop offset="1" stop-color="#ff2c00"/></linearGradient><linearGradient id="a33"><stop offset="0" stop-color="#00e6ff"/><stop offset="0.05" stop-color="#00f2ff"/><stop offset="0.091" stop-color="#0ff"/><stop offset="0.1" stop-color="#03fffc"/><stop offset="0.15" stop-color="#1affe5"/><stop offset="0.2" stop-color="#39ffc6"/><stop offset="0.25" stop-color="#65ff9a"/><stop offset="0.3" stop-color="#96ff69"/><stop offset="0.35" stop-color="#c6ff39"/><stop offset="0.4" stop-color="#f4ff0b"/><stop offset="0.413" stop-color="#ff0"/><stop offset="0.45" stop-color="#ffe200"/><stop offset="0.5" stop-color="#ffc400"/><stop offset="0.55" stop-color="#ffb400"/><stop offset="0.6" stop-color="#ffa700"/><stop offset="0.65" stop-color="#ff9500"/><stop offset="0.7" stop-color="#ff8f00"/><stop offset="0.75" stop-color="#ff8000"/><stop offset="0.8" stop-color="#ff7300"/><stop offset="0.85" stop-color="#ff6400"/><stop offset="0.9" stop-color="#ff5000"/><stop offset="0.95" stop-color="#ff3e00"/><stop offset="1" stop-color="#f30"/></linearGradient><linearGradient id="a34"><stop offset="0" stop-color="#00e3ff"/><stop offset="0.05" stop-color="#00efff"/><stop offset="0.098" stop-color="#0ff"/><stop offset="0.1" stop-color="#01fffe"/><stop offset="0.15" stop-color="#17ffe8"/><stop offset="0.2" stop-color="#36ffc9"/><stop offset="0.25" stop-color="#5fffa0"/><stop offset="0.3" stop-color="#8fff70"/><stop offset="0.35" stop-color="#c0ff3f"/><stop offset="0.4" stop-color="#efff10"/><stop offset="0.418" stop-color="#ff0"/><stop offset="0.45" stop-color="#ffe500"/><stop offset="0.5" stop-color="#ffc800"/><stop offset="0.55" stop-color="#ffb800"/><stop offset="0.6" stop-color="#ffad00"/><stop offset="0.65" stop-color="#ff9b00"/><stop offset="0.7" stop-color="#ff9000"/><stop offset="0.75" stop-color="#ff8500"/><stop offset="0.8" stop-color="#ff7c00"/><stop offset="0.85" stop-color="#ff6d00"/><stop offset="0.9" stop-color="#ff5a00"/><stop offset="0.95" stop-color="#ff4700"/><stop offset="1" stop-color="#ff3b00"/></linearGradient><linearGradient id="a35"><stop offset="0" stop-color="#00e0ff"/><stop offset="0.05" stop-color="#00edff"/><stop offset="0.1" stop-color="#00fdff"/><stop offset="0.104" stop-color="#0ff"/><stop offset="0.15" stop-color="#15ffea"/><stop offset="0.2" stop-color="#3fc"/><stop offset="0.25" stop-color="#5affa5"/><stop offset="0.3" stop-color="#89ff76"/><stop offset="0.35" stop-color="#bf4"/><stop offset="0.4" stop-color="#ebff14"/><stop offset="0.422" stop-color="#ff0"/><stop offset="0.45" stop-color="#ffe900"/><stop offset="0.5" stop-color="#ffcb00"/><stop offset="0.55" stop-color="#ffbd00"/><stop offset="0.6" stop-color="#ffb200"/><stop offset="0.65" stop-color="#ffa100"/><stop offset="0.7" stop-color="#ff9400"/><stop offset="0.75" stop-color="#ff8b00"/><stop offset="0.8" stop-color="#ff8500"/><stop offset="0.85" stop-color="#f70"/><stop offset="0.9" stop-color="#ff6400"/><stop offset="0.95" stop-color="#ff5000"/><stop offset="1" stop-color="#ff4200"/></linearGradient><linearGradient id="a36"><stop offset="0" stop-color="#00deff"/><stop offset="0.05" stop-color="#00eaff"/><stop offset="0.1" stop-color="#00fbff"/><stop offset="0.109" stop-color="#0ff"/><stop offset="0.15" stop-color="#13ffec"/><stop offset="0.2" stop-color="#30ffcf"/><stop offset="0.25" stop-color="#56ffa9"/><stop offset="0.3" stop-color="#83ff7c"/><stop offset="0.35" stop-color="#b6ff49"/><stop offset="0.4" stop-color="#e8ff17"/><stop offset="0.426" stop-color="#ff0"/><stop offset="0.45" stop-color="#ffec00"/><stop offset="0.5" stop-color="#ffcf00"/><stop offset="0.55" stop-color="#ffc200"/><stop offset="0.6" stop-color="#ffb800"/><stop offset="0.65" stop-color="#ffa800"/><stop offset="0.7" stop-color="#ff9a00"/><stop offset="0.75" stop-color="#ff9300"/><stop offset="0.8" stop-color="#ff8d00"/><stop offset="0.85" stop-color="#ff8100"/><stop offset="0.9" stop-color="#ff6e00"/><stop offset="0.95" stop-color="#ff5a00"/><stop offset="1" stop-color="#ff4900"/></linearGradient><linearGradient id="a37"><stop offset="0" stop-color="#00dbff"/><stop offset="0.05" stop-color="#00e8ff"/><stop offset="0.1" stop-color="#00f9ff"/><stop offset="0.114" stop-color="#0ff"/><stop offset="0.15" stop-color="#10ffef"/><stop offset="0.2" stop-color="#2dffd2"/><stop offset="0.25" stop-color="#51ffae"/><stop offset="0.3" stop-color="#7eff81"/><stop offset="0.35" stop-color="#b2ff4d"/><stop offset="0.4" stop-color="#e5ff1a"/><stop offset="0.429" stop-color="#ff0"/><stop offset="0.45" stop-color="#fe0"/><stop offset="0.5" stop-color="#ffd200"/><stop offset="0.55" stop-color="#ffc600"/><stop offset="0.6" stop-color="#ffbf00"/><stop offset="0.65" stop-color="#ffaf00"/><stop offset="0.7" stop-color="#ffa100"/><stop offset="0.75" stop-color="#ff9b00"/><stop offset="0.8" stop-color="#ff9700"/><stop offset="0.85" stop-color="#ff8b00"/><stop offset="0.9" stop-color="#ff7800"/><stop offset="0.95" stop-color="#ff6300"/><stop offset="1" stop-color="#ff4f00"/></linearGradient><linearGradient id="a38"><stop offset="0" stop-color="#00d9ff"/><stop offset="0.05" stop-color="#00e7ff"/><stop offset="0.1" stop-color="#00f8ff"/><stop offset="0.118" stop-color="#0ff"/><stop offset="0.15" stop-color="#0efff1"/><stop offset="0.2" stop-color="#2affd5"/><stop offset="0.25" stop-color="#4dffb2"/><stop offset="0.3" stop-color="#7aff85"/><stop offset="0.35" stop-color="#aeff51"/><stop offset="0.4" stop-color="#e2ff1d"/><stop offset="0.431" stop-color="#ff0"/><stop offset="0.45" stop-color="#fff000"/><stop offset="0.5" stop-color="#ffd500"/><stop offset="0.55" stop-color="#ffcb00"/><stop offset="0.6" stop-color="#ffc600"/><stop offset="0.65" stop-color="#ffb700"/><stop offset="0.7" stop-color="#ffa900"/><stop offset="0.75" stop-color="#ffa400"/><stop offset="0.8" stop-color="#ffa000"/><stop offset="0.85" stop-color="#ff9500"/><stop offset="0.9" stop-color="#ff8300"/><stop offset="0.95" stop-color="#ff6c00"/><stop offset="1" stop-color="#f50"/></linearGradient><linearGradient id="a39"><stop offset="0" stop-color="#00d7ff"/><stop offset="0.05" stop-color="#00e5ff"/><stop offset="0.1" stop-color="#00f6ff"/><stop offset="0.123" stop-color="#0ff"/><stop offset="0.15" stop-color="#0cfff3"/><stop offset="0.2" stop-color="#27ffd8"/><stop offset="0.25" stop-color="#4affb5"/><stop offset="0.3" stop-color="#76ff89"/><stop offset="0.35" stop-color="#abff54"/><stop offset="0.4" stop-color="#e1ff1e"/><stop offset="0.433" stop-color="#ff0"/><stop offset="0.45" stop-color="#fff200"/><stop offset="0.5" stop-color="#ffd800"/><stop offset="0.55" stop-color="#ffd100"/><stop offset="0.6" stop-color="#ffcd00"/><stop offset="0.65" stop-color="#ffbf00"/><stop offset="0.7" stop-color="#ffb100"/><stop offset="0.75" stop-color="#ffac00"/><stop offset="0.8" stop-color="#fa0"/><stop offset="0.85" stop-color="#ffa000"/><stop offset="0.9" stop-color="#ff8d00"/><stop offset="0.95" stop-color="#ff7600"/><stop offset="1" stop-color="#ff5b00"/></linearGradient><linearGradient id="a40"><stop offset="0" stop-color="#00d5ff"/><stop offset="0.05" stop-color="#00e4ff"/><stop offset="0.1" stop-color="#00f5ff"/><stop offset="0.127" stop-color="#0ff"/><stop offset="0.15" stop-color="#0afff5"/><stop offset="0.2" stop-color="#24ffdb"/><stop offset="0.25" stop-color="#46ffb9"/><stop offset="0.3" stop-color="#73ff8c"/><stop offset="0.35" stop-color="#a9ff56"/><stop offset="0.4" stop-color="#dfff20"/><stop offset="0.435" stop-color="#ff0"/><stop offset="0.45" stop-color="#fff300"/><stop offset="0.5" stop-color="#ffda00"/><stop offset="0.55" stop-color="#ffd600"/><stop offset="0.6" stop-color="#ffd500"/><stop offset="0.65" stop-color="#ffc800"/><stop offset="0.7" stop-color="#ffba00"/><stop offset="0.75" stop-color="#ffb600"/><stop offset="0.8" stop-color="#ffb400"/><stop offset="0.85" stop-color="#fa0"/><stop offset="0.9" stop-color="#ff9800"/><stop offset="0.95" stop-color="#ff7f00"/><stop offset="1" stop-color="#ff6100"/></linearGradient><linearGradient id="a41"><stop offset="0" stop-color="#00d3ff"/><stop offset="0.05" stop-color="#00e3ff"/><stop offset="0.1" stop-color="#00f3ff"/><stop offset="0.132" stop-color="#0ff"/><stop offset="0.15" stop-color="#08fff7"/><stop offset="0.2" stop-color="#21ffde"/><stop offset="0.25" stop-color="#43ffbc"/><stop offset="0.3" stop-color="#6fff90"/><stop offset="0.35" stop-color="#a6ff59"/><stop offset="0.4" stop-color="#deff21"/><stop offset="0.437" stop-color="#ff0"/><stop offset="0.45" stop-color="#fff500"/><stop offset="0.5" stop-color="#fd0"/><stop offset="0.55" stop-color="#ffdc00"/><stop offset="0.6" stop-color="#fd0"/><stop offset="0.65" stop-color="#ffd100"/><stop offset="0.7" stop-color="#ffc300"/><stop offset="0.75" stop-color="#ffbf00"/><stop offset="0.8" stop-color="#ffbe00"/><stop offset="0.85" stop-color="#ffb500"/><stop offset="0.9" stop-color="#ffa300"/><stop offset="0.95" stop-color="#f80"/><stop offset="1" stop-color="#ff6700"/></linearGradient><linearGradient id="a42"><stop offset="0" stop-color="#00d2ff"/><stop offset="0.05" stop-color="#00e1ff"/><stop offset="0.1" stop-color="#00f1ff"/><stop offset="0.138" stop-color="#0ff"/><stop offset="0.15" stop-color="#05fffa"/><stop offset="0.2" stop-color="#1effe1"/><stop offset="0.25" stop-color="#40ffbf"/><stop offset="0.3" stop-color="#6dff92"/><stop offset="0.35" stop-color="#a4ff5b"/><stop offset="0.4" stop-color="#dcff23"/><stop offset="0.439" stop-color="#ff0"/><stop offset="0.45" stop-color="#fff700"/><stop offset="0.5" stop-color="#ffe100"/><stop offset="0.55" stop-color="#ffe200"/><stop offset="0.6" stop-color="#ffe500"/><stop offset="0.65" stop-color="#ffda00"/><stop offset="0.7" stop-color="#fc0"/><stop offset="0.75" stop-color="#ffc800"/><stop offset="0.8" stop-color="#ffc800"/><stop offset="0.85" stop-color="#ffc000"/><stop offset="0.9" stop-color="#ffae00"/><stop offset="0.95" stop-color="#ff9100"/><stop offset="1" stop-color="#ff6d00"/></linearGradient><linearGradient id="a43"><stop offset="0" stop-color="#00d0ff"/><stop offset="0.05" stop-color="#00e0ff"/><stop offset="0.1" stop-color="#00efff"/><stop offset="0.144" stop-color="#0ff"/><stop offset="0.15" stop-color="#02fffd"/><stop offset="0.2" stop-color="#1bffe4"/><stop offset="0.25" stop-color="#3cffc3"/><stop offset="0.3" stop-color="#6aff95"/><stop offset="0.35" stop-color="#a2ff5d"/><stop offset="0.4" stop-color="#daff25"/><stop offset="0.442" stop-color="#ff0"/><stop offset="0.45" stop-color="#fff900"/><stop offset="0.5" stop-color="#ffe400"/><stop offset="0.55" stop-color="#ffe800"/><stop offset="0.6" stop-color="#fe0"/><stop offset="0.65" stop-color="#ffe400"/><stop offset="0.7" stop-color="#ffd500"/><stop offset="0.75" stop-color="#ffd200"/><stop offset="0.8" stop-color="#ffd200"/><stop offset="0.85" stop-color="#ffca00"/><stop offset="0.9" stop-color="#ffb800"/><stop offset="0.95" stop-color="#ff9b00"/><stop offset="1" stop-color="#ff7300"/></linearGradient><linearGradient id="a44"><stop offset="0" stop-color="#00cfff"/><stop offset="0.05" stop-color="#00dfff"/><stop offset="0.1" stop-color="#00edff"/><stop offset="0.15" stop-color="#0ff"/><stop offset="0.151" stop-color="#0ff"/><stop offset="0.2" stop-color="#17ffe8"/><stop offset="0.25" stop-color="#39ffc6"/><stop offset="0.3" stop-color="#67ff98"/><stop offset="0.35" stop-color="#a0ff5f"/><stop offset="0.4" stop-color="#d8ff27"/><stop offset="0.446" stop-color="#ff0"/><stop offset="0.45" stop-color="#fffc00"/><stop offset="0.5" stop-color="#ffe900"/><stop offset="0.55" stop-color="#fe0"/><stop offset="0.6" stop-color="#fff700"/><stop offset="0.65" stop-color="#ffed00"/><stop offset="0.7" stop-color="#ffdf00"/><stop offset="0.75" stop-color="#ffdb00"/><stop offset="0.8" stop-color="#ffdc00"/><stop offset="0.85" stop-color="#ffd500"/><stop offset="0.9" stop-color="#ffc300"/><stop offset="0.95" stop-color="#ffa400"/><stop offset="1" stop-color="#ff7a00"/></linearGradient><linearGradient id="a45"><stop offset="0" stop-color="#00cdff"/><stop offset="0.05" stop-color="#0df"/><stop offset="0.1" stop-color="#00ebff"/><stop offset="0.15" stop-color="#00fbff"/><stop offset="0.159" stop-color="#0ff"/><stop offset="0.2" stop-color="#14ffeb"/><stop offset="0.25" stop-color="#36ffc9"/><stop offset="0.3" stop-color="#65ff9a"/><stop offset="0.35" stop-color="#9dff62"/><stop offset="0.4" stop-color="#d5ff2a"/><stop offset="0.45" stop-color="#feff01"/><stop offset="0.451" stop-color="#ff0"/><stop offset="0.5" stop-color="#fe0"/><stop offset="0.55" stop-color="#fff500"/><stop offset="0.592" stop-color="#ff0"/><stop offset="0.6" stop-color="#feff01"/><stop offset="0.613" stop-color="#ff0"/><stop offset="0.65" stop-color="#fff600"/><stop offset="0.7" stop-color="#ffe800"/><stop offset="0.75" stop-color="#ffe500"/><stop offset="0.8" stop-color="#ffe500"/><stop offset="0.85" stop-color="#ffdf00"/><stop offset="0.9" stop-color="#ffcd00"/><stop offset="0.95" stop-color="#ffae00"/><stop offset="1" stop-color="#ff8100"/></linearGradient><linearGradient id="a46"><stop offset="0" stop-color="#0cf"/><stop offset="0.05" stop-color="#00dbff"/><stop offset="0.1" stop-color="#00e8ff"/><stop offset="0.15" stop-color="#00f8ff"/><stop offset="0.167" stop-color="#0ff"/><stop offset="0.2" stop-color="#1fe"/><stop offset="0.25" stop-color="#3fc"/><stop offset="0.3" stop-color="#62ff9d"/><stop offset="0.35" stop-color="#9aff65"/><stop offset="0.4" stop-color="#d1ff2e"/><stop offset="0.45" stop-color="#faff05"/><stop offset="0.46" stop-color="#ff0"/><stop offset="0.5" stop-color="#fff300"/><stop offset="0.55" stop-color="#fffd00"/><stop offset="0.557" stop-color="#ff0"/><stop offset="0.6" stop-color="#f6ff09"/><stop offset="0.65" stop-color="#feff01"/><stop offset="0.652" stop-color="#ff0"/><stop offset="0.7" stop-color="#fff100"/><stop offset="0.75" stop-color="#fe0"/><stop offset="0.8" stop-color="#ffef00"/><stop offset="0.85" stop-color="#ffe900"/><stop offset="0.9" stop-color="#ffd700"/><stop offset="0.95" stop-color="#ffb700"/><stop offset="1" stop-color="#ff8900"/></linearGradient><linearGradient id="a47"><stop offset="0" stop-color="#00caff"/><stop offset="0.05" stop-color="#00d8ff"/><stop offset="0.1" stop-color="#00e4ff"/><stop offset="0.15" stop-color="#00f4ff"/><stop offset="0.175" stop-color="#0ff"/><stop offset="0.2" stop-color="#0dfff2"/><stop offset="0.25" stop-color="#30ffcf"/><stop offset="0.3" stop-color="#5fffa0"/><stop offset="0.35" stop-color="#96ff69"/><stop offset="0.4" stop-color="#cf3"/><stop offset="0.45" stop-color="#f4ff0b"/><stop offset="0.474" stop-color="#ff0"/><stop offset="0.5" stop-color="#fffa00"/><stop offset="0.532" stop-color="#ff0"/><stop offset="0.55" stop-color="#f9ff06"/><stop offset="0.6" stop-color="#edff12"/><stop offset="0.65" stop-color="#f5ff0a"/><stop offset="0.68" stop-color="#ff0"/><stop offset="0.7" stop-color="#fffa00"/><stop offset="0.75" stop-color="#fff700"/><stop offset="0.8" stop-color="#fff800"/><stop offset="0.85" stop-color="#fff200"/><stop offset="0.9" stop-color="#ffe100"/><stop offset="0.95" stop-color="#ffc100"/><stop offset="1" stop-color="#ff9100"/></linearGradient><linearGradient id="a48"><stop offset="0" stop-color="#00c9ff"/><stop offset="0.05" stop-color="#00d5ff"/><stop offset="0.1" stop-color="#00e0ff"/><stop offset="0.15" stop-color="#00f0ff"/><stop offset="0.183" stop-color="#0ff"/><stop offset="0.2" stop-color="#09fff6"/><stop offset="0.25" stop-color="#2dffd2"/><stop offset="0.3" stop-color="#5bffa4"/><stop offset="0.35" stop-color="#91ff6e"/><stop offset="0.4" stop-color="#c5ff3a"/><stop offset="0.45" stop-color="#ecff13"/><stop offset="0.5" stop-color="#fcff03"/><stop offset="0.55" stop-color="#f1ff0e"/><stop offset="0.6" stop-color="#e4ff1b"/><stop offset="0.65" stop-color="#edff12"/><stop offset="0.7" stop-color="#fbff04"/><stop offset="0.75" stop-color="#feff01"/><stop offset="0.8" stop-color="#fdff02"/><stop offset="0.83" stop-color="#ff0"/><stop offset="0.85" stop-color="#fffc00"/><stop offset="0.9" stop-color="#ffeb00"/><stop offset="0.95" stop-color="#ffca00"/><stop offset="1" stop-color="#ff9a00"/></linearGradient><linearGradient id="a49"><stop offset="0" stop-color="#00c7ff"/><stop offset="0.05" stop-color="#00d1ff"/><stop offset="0.1" stop-color="#00dbff"/><stop offset="0.15" stop-color="#00ecff"/><stop offset="0.191" stop-color="#0ff"/><stop offset="0.2" stop-color="#05fffa"/><stop offset="0.25" stop-color="#29ffd6"/><stop offset="0.3" stop-color="#57ffa8"/><stop offset="0.35" stop-color="#8bff74"/><stop offset="0.4" stop-color="#bdff42"/><stop offset="0.45" stop-color="#e3ff1c"/><stop offset="0.5" stop-color="#f3ff0c"/><stop offset="0.55" stop-color="#e8ff17"/><stop offset="0.6" stop-color="#dcff23"/><stop offset="0.65" stop-color="#e4ff1b"/><stop offset="0.7" stop-color="#f3ff0c"/><stop offset="0.75" stop-color="#f6ff09"/><stop offset="0.8" stop-color="#f5ff0a"/><stop offset="0.85" stop-color="#faff05"/><stop offset="0.871" stop-color="#ff0"/><stop offset="0.9" stop-color="#fff400"/><stop offset="0.95" stop-color="#ffd400"/><stop offset="1" stop-color="#ffa500"/></linearGradient><linearGradient id="a50"><stop offset="0" stop-color="#00c6ff"/><stop offset="0.05" stop-color="#0cf"/><stop offset="0.1" stop-color="#00d5ff"/><stop offset="0.15" stop-color="#00e7ff"/><stop offset="0.198" stop-color="#0ff"/><stop offset="0.2" stop-color="#01fffe"/><stop offset="0.25" stop-color="#26ffd9"/><stop offset="0.3" stop-color="#53ffac"/><stop offset="0.35" stop-color="#85ff7a"/><stop offset="0.4" stop-color="#b4ff4b"/><stop offset="0.45" stop-color="#d9ff26"/><stop offset="0.5" stop-color="#e8ff17"/><stop offset="0.55" stop-color="#dfff20"/><stop offset="0.6" stop-color="#d4ff2b"/><stop offset="0.65" stop-color="#dcff23"/><stop offset="0.7" stop-color="#eaff15"/><stop offset="0.75" stop-color="#ef1"/><stop offset="0.8" stop-color="#edff12"/><stop offset="0.85" stop-color="#f1ff0e"/><stop offset="0.895" stop-color="#ff0"/><stop offset="0.9" stop-color="#fffd00"/><stop offset="0.95" stop-color="#ffde00"/><stop offset="1" stop-color="#ffb000"/></linearGradient><linearGradient id="a51"><stop offset="0" stop-color="#00c4ff"/><stop offset="0.05" stop-color="#00c7ff"/><stop offset="0.1" stop-color="#00cfff"/><stop offset="0.15" stop-color="#00e1ff"/><stop offset="0.2" stop-color="#00fcff"/><stop offset="0.204" stop-color="#0ff"/><stop offset="0.25" stop-color="#2fd"/><stop offset="0.3" stop-color="#4dffb2"/><stop offset="0.35" stop-color="#7dff82"/><stop offset="0.4" stop-color="#a9ff56"/><stop offset="0.45" stop-color="#cdff32"/><stop offset="0.5" stop-color="#dcff23"/><stop offset="0.55" stop-color="#d5ff2a"/><stop offset="0.6" stop-color="#cf3"/><stop offset="0.65" stop-color="#d5ff2a"/><stop offset="0.7" stop-color="#e3ff1c"/><stop offset="0.75" stop-color="#e6ff19"/><stop offset="0.8" stop-color="#e5ff1a"/><stop offset="0.85" stop-color="#eaff15"/><stop offset="0.9" stop-color="#f9ff06"/><stop offset="0.914" stop-color="#ff0"/><stop offset="0.95" stop-color="#ffe900"/><stop offset="1" stop-color="#ffbc00"/></linearGradient><linearGradient id="a52"><stop offset="0" stop-color="#00c2ff"/><stop offset="0.05" stop-color="#00c1ff"/><stop offset="0.1" stop-color="#00c7ff"/><stop offset="0.15" stop-color="#00dcff"/><stop offset="0.2" stop-color="#00f8ff"/><stop offset="0.21" stop-color="#0ff"/><stop offset="0.25" stop-color="#1effe1"/><stop offset="0.3" stop-color="#48ffb7"/><stop offset="0.35" stop-color="#74ff8b"/><stop offset="0.4" stop-color="#9eff61"/><stop offset="0.45" stop-color="#bfff40"/><stop offset="0.5" stop-color="#d0ff2f"/><stop offset="0.55" stop-color="#cbff34"/><stop offset="0.6" stop-color="#c5ff3a"/><stop offset="0.65" stop-color="#ceff31"/><stop offset="0.7" stop-color="#dbff24"/><stop offset="0.75" stop-color="#dfff20"/><stop offset="0.8" stop-color="#deff21"/><stop offset="0.85" stop-color="#e2ff1d"/><stop offset="0.9" stop-color="#f0ff0f"/><stop offset="0.931" stop-color="#ff0"/><stop offset="0.95" stop-color="#fff300"/><stop offset="1" stop-color="#ffc900"/></linearGradient><linearGradient id="a53"><stop offset="0" stop-color="#00c0ff"/><stop offset="0.05" stop-color="#00baff"/><stop offset="0.1" stop-color="#00beff"/><stop offset="0.15" stop-color="#00d6ff"/><stop offset="0.2" stop-color="#00f4ff"/><stop offset="0.216" stop-color="#0ff"/><stop offset="0.25" stop-color="#19ffe6"/><stop offset="0.3" stop-color="#42ffbd"/><stop offset="0.35" stop-color="#6aff95"/><stop offset="0.4" stop-color="#91ff6e"/><stop offset="0.45" stop-color="#b1ff4e"/><stop offset="0.5" stop-color="#c2ff3d"/><stop offset="0.55" stop-color="#c1ff3e"/><stop offset="0.6" stop-color="#bdff42"/><stop offset="0.65" stop-color="#c7ff38"/><stop offset="0.7" stop-color="#d3ff2c"/><stop offset="0.75" stop-color="#d7ff28"/><stop offset="0.8" stop-color="#d7ff28"/><stop offset="0.85" stop-color="#dbff24"/><stop offset="0.9" stop-color="#e8ff17"/><stop offset="0.947" stop-color="#ff0"/><stop offset="0.95" stop-color="#fffd00"/><stop offset="1" stop-color="#ffd700"/></linearGradient><linearGradient id="a54"><stop offset="0" stop-color="#00bfff"/><stop offset="0.05" stop-color="#00b3ff"/><stop offset="0.1" stop-color="#00b5ff"/><stop offset="0.15" stop-color="#00cfff"/><stop offset="0.2" stop-color="#00efff"/><stop offset="0.222" stop-color="#0ff"/><stop offset="0.25" stop-color="#15ffea"/><stop offset="0.3" stop-color="#3bffc4"/><stop offset="0.35" stop-color="#60ff9f"/><stop offset="0.4" stop-color="#83ff7c"/><stop offset="0.45" stop-color="#a1ff5e"/><stop offset="0.5" stop-color="#b4ff4b"/><stop offset="0.55" stop-color="#b6ff49"/><stop offset="0.6" stop-color="#b6ff49"/><stop offset="0.65" stop-color="#c0ff3f"/><stop offset="0.7" stop-color="#cf3"/><stop offset="0.75" stop-color="#d0ff2f"/><stop offset="0.8" stop-color="#d0ff2f"/><stop offset="0.85" stop-color="#d4ff2b"/><stop offset="0.9" stop-color="#e0ff1f"/><stop offset="0.95" stop-color="#f6ff09"/><stop offset="0.965" stop-color="#ff0"/><stop offset="1" stop-color="#ffe600"/></linearGradient><linearGradient id="a55"><stop offset="0" stop-color="#00bdff"/><stop offset="0.05" stop-color="#00acff"/><stop offset="0.1" stop-color="#00abff"/><stop offset="0.15" stop-color="#00c9ff"/><stop offset="0.2" stop-color="#00ebff"/><stop offset="0.228" stop-color="#0ff"/><stop offset="0.25" stop-color="#10ffef"/><stop offset="0.3" stop-color="#34ffcb"/><stop offset="0.35" stop-color="#5fa"/><stop offset="0.4" stop-color="#75ff8a"/><stop offset="0.45" stop-color="#92ff6d"/><stop offset="0.5" stop-color="#a5ff5a"/><stop offset="0.55" stop-color="#abff54"/><stop offset="0.6" stop-color="#afff50"/><stop offset="0.65" stop-color="#b9ff46"/><stop offset="0.7" stop-color="#c4ff3b"/><stop offset="0.75" stop-color="#c8ff37"/><stop offset="0.8" stop-color="#c9ff36"/><stop offset="0.85" stop-color="#cdff32"/><stop offset="0.9" stop-color="#d7ff28"/><stop offset="0.95" stop-color="#ebff14"/><stop offset="0.984" stop-color="#ff0"/><stop offset="1" stop-color="#fff500"/></linearGradient><linearGradient id="a56"><stop offset="0" stop-color="#0bf"/><stop offset="0.05" stop-color="#00a6ff"/><stop offset="0.1" stop-color="#00a1ff"/><stop offset="0.15" stop-color="#00c3ff"/><stop offset="0.2" stop-color="#00e7ff"/><stop offset="0.235" stop-color="#0ff"/><stop offset="0.25" stop-color="#0bfff4"/><stop offset="0.3" stop-color="#2cffd3"/><stop offset="0.35" stop-color="#4affb5"/><stop offset="0.4" stop-color="#6f9"/><stop offset="0.45" stop-color="#82ff7d"/><stop offset="0.5" stop-color="#97ff68"/><stop offset="0.55" stop-color="#a1ff5e"/><stop offset="0.6" stop-color="#a8ff57"/><stop offset="0.65" stop-color="#b3ff4c"/><stop offset="0.7" stop-color="#bdff42"/><stop offset="0.75" stop-color="#c1ff3e"/><stop offset="0.8" stop-color="#c2ff3d"/><stop offset="0.85" stop-color="#c6ff39"/><stop offset="0.9" stop-color="#cfff30"/><stop offset="0.95" stop-color="#e0ff1f"/><stop offset="1" stop-color="#f9ff06"/></linearGradient><linearGradient id="a57"><stop offset="0" stop-color="#00b9ff"/><stop offset="0.05" stop-color="#009fff"/><stop offset="0.1" stop-color="#0096ff"/><stop offset="0.15" stop-color="#00bdff"/><stop offset="0.2" stop-color="#00e2ff"/><stop offset="0.242" stop-color="#0ff"/><stop offset="0.25" stop-color="#06fff9"/><stop offset="0.3" stop-color="#24ffdb"/><stop offset="0.35" stop-color="#3effc1"/><stop offset="0.4" stop-color="#57ffa8"/><stop offset="0.45" stop-color="#72ff8d"/><stop offset="0.5" stop-color="#8f7"/><stop offset="0.55" stop-color="#96ff69"/><stop offset="0.6" stop-color="#a0ff5f"/><stop offset="0.65" stop-color="#acff53"/><stop offset="0.7" stop-color="#b5ff4a"/><stop offset="0.75" stop-color="#b9ff46"/><stop offset="0.8" stop-color="#bf4"/><stop offset="0.85" stop-color="#beff41"/><stop offset="0.9" stop-color="#c6ff39"/><stop offset="0.95" stop-color="#d4ff2b"/><stop offset="1" stop-color="#eaff15"/></linearGradient><linearGradient id="a58"><stop offset="0" stop-color="#00b7ff"/><stop offset="0.05" stop-color="#0098ff"/><stop offset="0.1" stop-color="#008cff"/><stop offset="0.15" stop-color="#00b7ff"/><stop offset="0.2" stop-color="#00deff"/><stop offset="0.25" stop-color="#0ff"/><stop offset="0.3" stop-color="#1cffe3"/><stop offset="0.35" stop-color="#32ffcd"/><stop offset="0.4" stop-color="#49ffb6"/><stop offset="0.45" stop-color="#62ff9d"/><stop offset="0.5" stop-color="#7aff85"/><stop offset="0.55" stop-color="#8cff73"/><stop offset="0.6" stop-color="#9f6"/><stop offset="0.65" stop-color="#a5ff5a"/><stop offset="0.7" stop-color="#adff52"/><stop offset="0.75" stop-color="#b1ff4e"/><stop offset="0.8" stop-color="#b3ff4c"/><stop offset="0.85" stop-color="#b6ff49"/><stop offset="0.9" stop-color="#bdff42"/><stop offset="0.95" stop-color="#c9ff36"/><stop offset="1" stop-color="#daff25"/></linearGradient><linearGradient id="a59"><stop offset="0" stop-color="#00b5ff"/><stop offset="0.05" stop-color="#0093ff"/><stop offset="0.1" stop-color="#0083ff"/><stop offset="0.15" stop-color="#00b2ff"/><stop offset="0.2" stop-color="#00daff"/><stop offset="0.25" stop-color="#00f9ff"/><stop offset="0.261" stop-color="#0ff"/><stop offset="0.3" stop-color="#13ffec"/><stop offset="0.35" stop-color="#26ffd9"/><stop offset="0.4" stop-color="#3affc5"/><stop offset="0.45" stop-color="#53ffac"/><stop offset="0.5" stop-color="#6cff93"/><stop offset="0.55" stop-color="#81ff7e"/><stop offset="0.6" stop-color="#92ff6d"/><stop offset="0.65" stop-color="#9eff61"/><stop offset="0.7" stop-color="#a5ff5a"/><stop offset="0.75" stop-color="#a9ff56"/><stop offset="0.8" stop-color="#abff54"/><stop offset="0.85" stop-color="#aeff51"/><stop offset="0.9" stop-color="#b3ff4c"/><stop offset="0.95" stop-color="#bdff42"/><stop offset="1" stop-color="#caff35"/></linearGradient><linearGradient id="a60"><stop offset="0" stop-color="#00b3ff"/><stop offset="0.05" stop-color="#008eff"/><stop offset="0.1" stop-color="#007cff"/><stop offset="0.15" stop-color="#00aeff"/><stop offset="0.2" stop-color="#00d6ff"/><stop offset="0.25" stop-color="#00f3ff"/><stop offset="0.276" stop-color="#0ff"/><stop offset="0.3" stop-color="#09fff6"/><stop offset="0.35" stop-color="#1bffe4"/><stop offset="0.4" stop-color="#2dffd2"/><stop offset="0.45" stop-color="#4fb"/><stop offset="0.5" stop-color="#5fffa0"/><stop offset="0.55" stop-color="#7f8"/><stop offset="0.6" stop-color="#8bff74"/><stop offset="0.65" stop-color="#96ff69"/><stop offset="0.7" stop-color="#9dff62"/><stop offset="0.75" stop-color="#a0ff5f"/><stop offset="0.8" stop-color="#a2ff5d"/><stop offset="0.85" stop-color="#a5ff5a"/><stop offset="0.9" stop-color="#a9ff56"/><stop offset="0.95" stop-color="#b0ff4f"/><stop offset="1" stop-color="#baff45"/></linearGradient><linearGradient id="a61"><stop offset="0" stop-color="#00b1ff"/><stop offset="0.05" stop-color="#008aff"/><stop offset="0.1" stop-color="#07f"/><stop offset="0.15" stop-color="#00abff"/><stop offset="0.2" stop-color="#00d3ff"/><stop offset="0.25" stop-color="#00edff"/><stop offset="0.3" stop-color="#0ff"/><stop offset="0.35" stop-color="#0ffff0"/><stop offset="0.4" stop-color="#20ffdf"/><stop offset="0.45" stop-color="#37ffc8"/><stop offset="0.5" stop-color="#52ffad"/><stop offset="0.55" stop-color="#6eff91"/><stop offset="0.6" stop-color="#83ff7c"/><stop offset="0.65" stop-color="#8fff70"/><stop offset="0.7" stop-color="#94ff6b"/><stop offset="0.75" stop-color="#96ff69"/><stop offset="0.8" stop-color="#9f6"/><stop offset="0.85" stop-color="#9bff64"/><stop offset="0.9" stop-color="#9fff60"/><stop offset="0.95" stop-color="#a4ff5b"/><stop offset="1" stop-color="#abff54"/></linearGradient><linearGradient id="a62"><stop offset="0" stop-color="#00afff"/><stop offset="0.05" stop-color="#0087ff"/><stop offset="0.1" stop-color="#0075ff"/><stop offset="0.15" stop-color="#00a9ff"/><stop offset="0.2" stop-color="#00cfff"/><stop offset="0.25" stop-color="#00e6ff"/><stop offset="0.3" stop-color="#00f5ff"/><stop offset="0.339" stop-color="#0ff"/><stop offset="0.35" stop-color="#03fffc"/><stop offset="0.4" stop-color="#14ffeb"/><stop offset="0.45" stop-color="#2bffd4"/><stop offset="0.5" stop-color="#47ffb8"/><stop offset="0.55" stop-color="#65ff9a"/><stop offset="0.6" stop-color="#7cff83"/><stop offset="0.65" stop-color="#86ff79"/><stop offset="0.7" stop-color="#8aff75"/><stop offset="0.75" stop-color="#8cff73"/><stop offset="0.8" stop-color="#8fff70"/><stop offset="0.85" stop-color="#91ff6e"/><stop offset="0.9" stop-color="#93ff6c"/><stop offset="0.95" stop-color="#97ff68"/><stop offset="1" stop-color="#9bff64"/></linearGradient><linearGradient id="a63"><stop offset="0" stop-color="#00adff"/><stop offset="0.05" stop-color="#0086ff"/><stop offset="0.1" stop-color="#0075ff"/><stop offset="0.15" stop-color="#00a8ff"/><stop offset="0.2" stop-color="#0cf"/><stop offset="0.25" stop-color="#00dfff"/><stop offset="0.3" stop-color="#00ebff"/><stop offset="0.35" stop-color="#00f7ff"/><stop offset="0.376" stop-color="#0ff"/><stop offset="0.4" stop-color="#09fff6"/><stop offset="0.45" stop-color="#20ffdf"/><stop offset="0.5" stop-color="#3dffc2"/><stop offset="0.55" stop-color="#5cffa3"/><stop offset="0.6" stop-color="#74ff8b"/><stop offset="0.65" stop-color="#7eff81"/><stop offset="0.7" stop-color="#80ff7f"/><stop offset="0.75" stop-color="#82ff7d"/><stop offset="0.8" stop-color="#84ff7b"/><stop offset="0.85" stop-color="#85ff7a"/><stop offset="0.9" stop-color="#87ff78"/><stop offset="0.95" stop-color="#89ff76"/><stop offset="1" stop-color="#8dff72"/></linearGradient><linearGradient id="a64"><stop offset="0" stop-color="#00acff"/><stop offset="0.05" stop-color="#0086ff"/><stop offset="0.1" stop-color="#0078ff"/><stop offset="0.15" stop-color="#00a7ff"/><stop offset="0.2" stop-color="#00c9ff"/><stop offset="0.25" stop-color="#00d8ff"/><stop offset="0.3" stop-color="#00e0ff"/><stop offset="0.35" stop-color="#00ecff"/><stop offset="0.4" stop-color="#00feff"/><stop offset="0.403" stop-color="#0ff"/><stop offset="0.45" stop-color="#17ffe8"/><stop offset="0.5" stop-color="#34ffcb"/><stop offset="0.55" stop-color="#54ffab"/><stop offset="0.6" stop-color="#6cff93"/><stop offset="0.65" stop-color="#75ff8a"/><stop offset="0.7" stop-color="#75ff8a"/><stop offset="0.75" stop-color="#76ff89"/><stop offset="0.8" stop-color="#78ff87"/><stop offset="0.85" stop-color="#79ff86"/><stop offset="0.9" stop-color="#7aff85"/><stop offset="0.95" stop-color="#7cff83"/><stop offset="1" stop-color="#7fff80"/></linearGradient><linearGradient id="a65"><stop offset="0" stop-color="#0af"/><stop offset="0.05" stop-color="#0086ff"/><stop offset="0.1" stop-color="#007cff"/><stop offset="0.15" stop-color="#00a8ff"/><stop offset="0.2" stop-color="#00c6ff"/><stop offset="0.25" stop-color="#00d1ff"/><stop offset="0.3" stop-color="#00d6ff"/><stop offset="0.35" stop-color="#00e2ff"/><stop offset="0.4" stop-color="#00f5ff"/><stop offset="0.422" stop-color="#0ff"/><stop offset="0.45" stop-color="#0ffff0"/><stop offset="0.5" stop-color="#2cffd3"/><stop offset="0.55" stop-color="#4cffb3"/><stop offset="0.6" stop-color="#64ff9b"/><stop offset="0.65" stop-color="#6bff94"/><stop offset="0.7" stop-color="#6aff95"/><stop offset="0.75" stop-color="#6bff94"/><stop offset="0.8" stop-color="#6cff93"/><stop offset="0.85" stop-color="#6dff92"/><stop offset="0.9" stop-color="#6dff92"/><stop offset="0.95" stop-color="#6eff91"/><stop offset="1" stop-color="#71ff8e"/></linearGradient><linearGradient id="a66"><stop offset="0" stop-color="#00a8ff"/><stop offset="0.05" stop-color="#08f"/><stop offset="0.1" stop-color="#0081ff"/><stop offset="0.15" stop-color="#00a9ff"/><stop offset="0.2" stop-color="#00c4ff"/><stop offset="0.25" stop-color="#00caff"/><stop offset="0.3" stop-color="#0cf"/><stop offset="0.35" stop-color="#00d8ff"/><stop offset="0.4" stop-color="#00edff"/><stop offset="0.436" stop-color="#0ff"/><stop offset="0.45" stop-color="#07fff8"/><stop offset="0.5" stop-color="#25ffda"/><stop offset="0.55" stop-color="#4fb"/><stop offset="0.6" stop-color="#5bffa4"/><stop offset="0.65" stop-color="#61ff9e"/><stop offset="0.7" stop-color="#5fffa0"/><stop offset="0.75" stop-color="#5fffa0"/><stop offset="0.8" stop-color="#60ff9f"/><stop offset="0.85" stop-color="#60ff9f"/><stop offset="0.9" stop-color="#60ff9f"/><stop offset="0.95" stop-color="#61ff9e"/><stop offset="1" stop-color="#64ff9b"/></linearGradient><linearGradient id="a67"><stop offset="0" stop-color="#00a6ff"/><stop offset="0.05" stop-color="#0089ff"/><stop offset="0.1" stop-color="#0086ff"/><stop offset="0.15" stop-color="#0af"/><stop offset="0.2" stop-color="#00c1ff"/><stop offset="0.25" stop-color="#00c3ff"/><stop offset="0.3" stop-color="#00c2ff"/><stop offset="0.35" stop-color="#00cfff"/><stop offset="0.4" stop-color="#00e6ff"/><stop offset="0.448" stop-color="#0ff"/><stop offset="0.45" stop-color="#01fffe"/><stop offset="0.5" stop-color="#1effe1"/><stop offset="0.55" stop-color="#3dffc2"/><stop offset="0.6" stop-color="#52ffad"/><stop offset="0.65" stop-color="#57ffa8"/><stop offset="0.7" stop-color="#54ffab"/><stop offset="0.75" stop-color="#52ffad"/><stop offset="0.8" stop-color="#53ffac"/><stop offset="0.85" stop-color="#53ffac"/><stop offset="0.9" stop-color="#53ffac"/><stop offset="0.95" stop-color="#5fa"/><stop offset="1" stop-color="#58ffa7"/></linearGradient><linearGradient id="a68"><stop offset="0" stop-color="#00a4ff"/><stop offset="0.05" stop-color="#008aff"/><stop offset="0.1" stop-color="#008cff"/><stop offset="0.15" stop-color="#00acff"/><stop offset="0.2" stop-color="#00bfff"/><stop offset="0.25" stop-color="#00bdff"/><stop offset="0.3" stop-color="#00b9ff"/><stop offset="0.35" stop-color="#00c6ff"/><stop offset="0.4" stop-color="#00dfff"/><stop offset="0.45" stop-color="#00fbff"/><stop offset="0.458" stop-color="#0ff"/><stop offset="0.5" stop-color="#18ffe7"/><stop offset="0.55" stop-color="#35ffca"/><stop offset="0.6" stop-color="#4affb5"/><stop offset="0.65" stop-color="#4dffb2"/><stop offset="0.7" stop-color="#48ffb7"/><stop offset="0.75" stop-color="#46ffb9"/><stop offset="0.8" stop-color="#46ffb9"/><stop offset="0.85" stop-color="#46ffb9"/><stop offset="0.9" stop-color="#47ffb8"/><stop offset="0.95" stop-color="#48ffb7"/><stop offset="1" stop-color="#4dffb2"/></linearGradient><linearGradient id="a69"><stop offset="0" stop-color="#00a2ff"/><stop offset="0.05" stop-color="#008bff"/><stop offset="0.1" stop-color="#0090ff"/><stop offset="0.15" stop-color="#00adff"/><stop offset="0.2" stop-color="#00bdff"/><stop offset="0.25" stop-color="#00b7ff"/><stop offset="0.3" stop-color="#00b0ff"/><stop offset="0.35" stop-color="#00beff"/><stop offset="0.4" stop-color="#00daff"/><stop offset="0.45" stop-color="#00f6ff"/><stop offset="0.467" stop-color="#0ff"/><stop offset="0.5" stop-color="#13ffec"/><stop offset="0.55" stop-color="#2effd1"/><stop offset="0.6" stop-color="#40ffbf"/><stop offset="0.65" stop-color="#42ffbd"/><stop offset="0.7" stop-color="#3cffc3"/><stop offset="0.75" stop-color="#3affc5"/><stop offset="0.8" stop-color="#3affc5"/><stop offset="0.85" stop-color="#3affc5"/><stop offset="0.9" stop-color="#3affc5"/><stop offset="0.95" stop-color="#3dffc2"/><stop offset="1" stop-color="#43ffbc"/></linearGradient><linearGradient id="a70"><stop offset="0" stop-color="#009fff"/><stop offset="0.05" stop-color="#008bff"/><stop offset="0.1" stop-color="#0093ff"/><stop offset="0.15" stop-color="#00adff"/><stop offset="0.2" stop-color="#0bf"/><stop offset="0.25" stop-color="#00b1ff"/><stop offset="0.3" stop-color="#00a8ff"/><stop offset="0.35" stop-color="#00b7ff"/><stop offset="0.4" stop-color="#00d5ff"/><stop offset="0.45" stop-color="#00f2ff"/><stop offset="0.475" stop-color="#0ff"/><stop offset="0.5" stop-color="#0efff1"/><stop offset="0.55" stop-color="#27ffd8"/><stop offset="0.6" stop-color="#37ffc8"/><stop offset="0.65" stop-color="#37ffc8"/><stop offset="0.7" stop-color="#31ffce"/><stop offset="0.75" stop-color="#2effd1"/><stop offset="0.8" stop-color="#2dffd2"/><stop offset="0.85" stop-color="#2dffd2"/><stop offset="0.9" stop-color="#2effd1"/><stop offset="0.95" stop-color="#32ffcd"/><stop offset="1" stop-color="#3affc5"/></linearGradient><linearGradient id="a71"><stop offset="0" stop-color="#009cff"/><stop offset="0.05" stop-color="#008bff"/><stop offset="0.1" stop-color="#0095ff"/><stop offset="0.15" stop-color="#00adff"/><stop offset="0.2" stop-color="#00b9ff"/><stop offset="0.25" stop-color="#00acff"/><stop offset="0.3" stop-color="#00a1ff"/><stop offset="0.35" stop-color="#00b1ff"/><stop offset="0.4" stop-color="#00d0ff"/><stop offset="0.45" stop-color="#0ef"/><stop offset="0.483" stop-color="#0ff"/><stop offset="0.5" stop-color="#09fff6"/><stop offset="0.55" stop-color="#20ffdf"/><stop offset="0.6" stop-color="#2dffd2"/><stop offset="0.65" stop-color="#2cffd3"/><stop offset="0.7" stop-color="#25ffda"/><stop offset="0.75" stop-color="#2fd"/><stop offset="0.8" stop-color="#21ffde"/><stop offset="0.85" stop-color="#21ffde"/><stop offset="0.9" stop-color="#24ffdb"/><stop offset="0.95" stop-color="#29ffd6"/><stop offset="1" stop-color="#32ffcd"/></linearGradient><linearGradient id="a72"><stop offset="0" stop-color="#09f"/><stop offset="0.05" stop-color="#008aff"/><stop offset="0.1" stop-color="#0096ff"/><stop offset="0.15" stop-color="#00adff"/><stop offset="0.2" stop-color="#00b6ff"/><stop offset="0.25" stop-color="#00a8ff"/><stop offset="0.3" stop-color="#009bff"/><stop offset="0.35" stop-color="#00acff"/><stop offset="0.4" stop-color="#00cdff"/><stop offset="0.45" stop-color="#00eaff"/><stop offset="0.491" stop-color="#0ff"/><stop offset="0.5" stop-color="#04fffb"/><stop offset="0.55" stop-color="#18ffe7"/><stop offset="0.6" stop-color="#23ffdc"/><stop offset="0.65" stop-color="#21ffde"/><stop offset="0.7" stop-color="#1affe5"/><stop offset="0.75" stop-color="#16ffe9"/><stop offset="0.8" stop-color="#15ffea"/><stop offset="0.85" stop-color="#16ffe9"/><stop offset="0.9" stop-color="#1affe5"/><stop offset="0.95" stop-color="#21ffde"/><stop offset="1" stop-color="#2cffd3"/></linearGradient><linearGradient id="a73"><stop offset="0" stop-color="#0096ff"/><stop offset="0.05" stop-color="#08f"/><stop offset="0.1" stop-color="#0095ff"/><stop offset="0.15" stop-color="#00acff"/><stop offset="0.2" stop-color="#00b4ff"/><stop offset="0.25" stop-color="#00a4ff"/><stop offset="0.3" stop-color="#0097ff"/><stop offset="0.35" stop-color="#00a8ff"/><stop offset="0.4" stop-color="#00c9ff"/><stop offset="0.45" stop-color="#00e7ff"/><stop offset="0.5" stop-color="#00feff"/><stop offset="0.502" stop-color="#0ff"/><stop offset="0.55" stop-color="#1fe"/><stop offset="0.6" stop-color="#19ffe6"/><stop offset="0.65" stop-color="#16ffe9"/><stop offset="0.7" stop-color="#0ffff0"/><stop offset="0.75" stop-color="#0afff5"/><stop offset="0.8" stop-color="#0afff5"/><stop offset="0.85" stop-color="#0cfff3"/><stop offset="0.9" stop-color="#1fe"/><stop offset="0.95" stop-color="#1affe5"/><stop offset="1" stop-color="#27ffd8"/></linearGradient><linearGradient id="a74"><stop offset="0" stop-color="#0092ff"/><stop offset="0.05" stop-color="#0085ff"/><stop offset="0.1" stop-color="#0093ff"/><stop offset="0.15" stop-color="#0af"/><stop offset="0.2" stop-color="#00b2ff"/><stop offset="0.25" stop-color="#00a1ff"/><stop offset="0.3" stop-color="#0094ff"/><stop offset="0.35" stop-color="#00a5ff"/><stop offset="0.4" stop-color="#00c7ff"/><stop offset="0.45" stop-color="#00e4ff"/><stop offset="0.5" stop-color="#00f9ff"/><stop offset="0.517" stop-color="#0ff"/><stop offset="0.55" stop-color="#09fff6"/><stop offset="0.6" stop-color="#0efff1"/><stop offset="0.65" stop-color="#0bfff4"/><stop offset="0.7" stop-color="#04fffb"/><stop offset="0.744" stop-color="#0ff"/><stop offset="0.75" stop-color="#0ff"/><stop offset="0.8" stop-color="#00feff"/><stop offset="0.822" stop-color="#0ff"/><stop offset="0.85" stop-color="#02fffd"/><stop offset="0.9" stop-color="#0afff5"/><stop offset="0.95" stop-color="#15ffea"/><stop offset="1" stop-color="#23ffdc"/></linearGradient><linearGradient id="a75"><stop offset="0" stop-color="#008eff"/><stop offset="0.05" stop-color="#0080ff"/><stop offset="0.1" stop-color="#008fff"/><stop offset="0.15" stop-color="#00a7ff"/><stop offset="0.2" stop-color="#00b0ff"/><stop offset="0.25" stop-color="#00a0ff"/><stop offset="0.3" stop-color="#0092ff"/><stop offset="0.35" stop-color="#00a3ff"/><stop offset="0.4" stop-color="#00c4ff"/><stop offset="0.45" stop-color="#00e1ff"/><stop offset="0.5" stop-color="#00f4ff"/><stop offset="0.548" stop-color="#0ff"/><stop offset="0.55" stop-color="#0ff"/><stop offset="0.6" stop-color="#03fffc"/><stop offset="0.647" stop-color="#0ff"/><stop offset="0.65" stop-color="#0ff"/><stop offset="0.7" stop-color="#00f9ff"/><stop offset="0.75" stop-color="#00f4ff"/><stop offset="0.8" stop-color="#00f4ff"/><stop offset="0.85" stop-color="#00f9ff"/><stop offset="0.883" stop-color="#0ff"/><stop offset="0.9" stop-color="#04fffb"/><stop offset="0.95" stop-color="#1fe"/><stop offset="1" stop-color="#20ffdf"/></linearGradient><linearGradient id="a76"><stop offset="0" stop-color="#0089ff"/><stop offset="0.05" stop-color="#007bff"/><stop offset="0.1" stop-color="#008aff"/><stop offset="0.15" stop-color="#00a3ff"/><stop offset="0.2" stop-color="#00aeff"/><stop offset="0.25" stop-color="#009fff"/><stop offset="0.3" stop-color="#0092ff"/><stop offset="0.35" stop-color="#00a2ff"/><stop offset="0.4" stop-color="#00c2ff"/><stop offset="0.45" stop-color="#0df"/><stop offset="0.5" stop-color="#00efff"/><stop offset="0.55" stop-color="#00f7ff"/><stop offset="0.6" stop-color="#00f7ff"/><stop offset="0.65" stop-color="#00f4ff"/><stop offset="0.7" stop-color="#00efff"/><stop offset="0.75" stop-color="#00ebff"/><stop offset="0.8" stop-color="#00ebff"/><stop offset="0.85" stop-color="#00f2ff"/><stop offset="0.9" stop-color="#00feff"/><stop offset="0.903" stop-color="#0ff"/><stop offset="0.95" stop-color="#0ffff0"/><stop offset="1" stop-color="#1fffe0"/></linearGradient><linearGradient id="a77"><stop offset="0" stop-color="#0085ff"/><stop offset="0.05" stop-color="#0075ff"/><stop offset="0.1" stop-color="#0084ff"/><stop offset="0.15" stop-color="#009eff"/><stop offset="0.2" stop-color="#00acff"/><stop offset="0.25" stop-color="#009eff"/><stop offset="0.3" stop-color="#0092ff"/><stop offset="0.35" stop-color="#00a2ff"/><stop offset="0.4" stop-color="#00c0ff"/><stop offset="0.45" stop-color="#00daff"/><stop offset="0.5" stop-color="#00e9ff"/><stop offset="0.55" stop-color="#0ef"/><stop offset="0.6" stop-color="#00ecff"/><stop offset="0.65" stop-color="#00e9ff"/><stop offset="0.7" stop-color="#00e5ff"/><stop offset="0.75" stop-color="#00e2ff"/><stop offset="0.8" stop-color="#00e2ff"/><stop offset="0.85" stop-color="#00ebff"/><stop offset="0.9" stop-color="#00fbff"/><stop offset="0.913" stop-color="#0ff"/><stop offset="0.95" stop-color="#0efff1"/><stop offset="1" stop-color="#1fffe0"/></linearGradient><linearGradient id="a78"><stop offset="0" stop-color="#007fff"/><stop offset="0.05" stop-color="#006dff"/><stop offset="0.1" stop-color="#007eff"/><stop offset="0.15" stop-color="#09f"/><stop offset="0.2" stop-color="#00a9ff"/><stop offset="0.25" stop-color="#009fff"/><stop offset="0.3" stop-color="#0094ff"/><stop offset="0.35" stop-color="#00a2ff"/><stop offset="0.4" stop-color="#00beff"/><stop offset="0.45" stop-color="#00d6ff"/><stop offset="0.5" stop-color="#00e4ff"/><stop offset="0.55" stop-color="#00e5ff"/><stop offset="0.6" stop-color="#00e0ff"/><stop offset="0.65" stop-color="#00deff"/><stop offset="0.7" stop-color="#00dcff"/><stop offset="0.75" stop-color="#00d9ff"/><stop offset="0.8" stop-color="#00dbff"/><stop offset="0.85" stop-color="#00e6ff"/><stop offset="0.9" stop-color="#00f8ff"/><stop offset="0.917" stop-color="#0ff"/><stop offset="0.95" stop-color="#0efff1"/><stop offset="1" stop-color="#1fffe0"/></linearGradient><linearGradient id="a79"><stop offset="0" stop-color="#007aff"/><stop offset="0.05" stop-color="#06f"/><stop offset="0.1" stop-color="#0076ff"/><stop offset="0.15" stop-color="#0094ff"/><stop offset="0.2" stop-color="#00a7ff"/><stop offset="0.25" stop-color="#009fff"/><stop offset="0.3" stop-color="#0096ff"/><stop offset="0.35" stop-color="#00a3ff"/><stop offset="0.4" stop-color="#00bcff"/><stop offset="0.45" stop-color="#00d2ff"/><stop offset="0.5" stop-color="#0df"/><stop offset="0.55" stop-color="#00dbff"/><stop offset="0.6" stop-color="#00d5ff"/><stop offset="0.65" stop-color="#00d3ff"/><stop offset="0.7" stop-color="#00d3ff"/><stop offset="0.75" stop-color="#00d1ff"/><stop offset="0.8" stop-color="#00d3ff"/><stop offset="0.85" stop-color="#00e1ff"/><stop offset="0.9" stop-color="#00f6ff"/><stop offset="0.92" stop-color="#0ff"/><stop offset="0.95" stop-color="#0efff1"/><stop offset="1" stop-color="#20ffdf"/></linearGradient><linearGradient id="a80"><stop offset="0" stop-color="#0075ff"/><stop offset="0.05" stop-color="#005eff"/><stop offset="0.1" stop-color="#006eff"/><stop offset="0.15" stop-color="#008eff"/><stop offset="0.2" stop-color="#00a4ff"/><stop offset="0.25" stop-color="#00a0ff"/><stop offset="0.3" stop-color="#0098ff"/><stop offset="0.35" stop-color="#00a4ff"/><stop offset="0.4" stop-color="#00baff"/><stop offset="0.45" stop-color="#00ceff"/><stop offset="0.5" stop-color="#00d7ff"/><stop offset="0.55" stop-color="#00d2ff"/><stop offset="0.6" stop-color="#00caff"/><stop offset="0.65" stop-color="#00c9ff"/><stop offset="0.7" stop-color="#00caff"/><stop offset="0.75" stop-color="#00c9ff"/><stop offset="0.8" stop-color="#0cf"/><stop offset="0.85" stop-color="#00dcff"/><stop offset="0.9" stop-color="#00f4ff"/><stop offset="0.921" stop-color="#0ff"/><stop offset="0.95" stop-color="#0efff1"/><stop offset="1" stop-color="#21ffde"/></linearGradient><linearGradient id="a81"><stop offset="0" stop-color="#006fff"/><stop offset="0.05" stop-color="#0056ff"/><stop offset="0.1" stop-color="#0067ff"/><stop offset="0.15" stop-color="#08f"/><stop offset="0.2" stop-color="#00a1ff"/><stop offset="0.25" stop-color="#00a1ff"/><stop offset="0.3" stop-color="#009bff"/><stop offset="0.35" stop-color="#00a5ff"/><stop offset="0.4" stop-color="#00b8ff"/><stop offset="0.45" stop-color="#00c9ff"/><stop offset="0.5" stop-color="#00d0ff"/><stop offset="0.55" stop-color="#00c8ff"/><stop offset="0.6" stop-color="#00bfff"/><stop offset="0.65" stop-color="#00beff"/><stop offset="0.7" stop-color="#00c2ff"/><stop offset="0.75" stop-color="#00c1ff"/><stop offset="0.8" stop-color="#00c6ff"/><stop offset="0.85" stop-color="#00d8ff"/><stop offset="0.9" stop-color="#00f3ff"/><stop offset="0.922" stop-color="#0ff"/><stop offset="0.95" stop-color="#0ffff0"/><stop offset="1" stop-color="#2fd"/></linearGradient><linearGradient id="a82"><stop offset="0" stop-color="#006aff"/><stop offset="0.05" stop-color="#004fff"/><stop offset="0.1" stop-color="#005fff"/><stop offset="0.15" stop-color="#0082ff"/><stop offset="0.2" stop-color="#009eff"/><stop offset="0.25" stop-color="#00a2ff"/><stop offset="0.3" stop-color="#009dff"/><stop offset="0.35" stop-color="#00a5ff"/><stop offset="0.4" stop-color="#00b5ff"/><stop offset="0.45" stop-color="#00c4ff"/><stop offset="0.5" stop-color="#00c9ff"/><stop offset="0.55" stop-color="#00bfff"/><stop offset="0.6" stop-color="#00b4ff"/><stop offset="0.65" stop-color="#00b5ff"/><stop offset="0.7" stop-color="#00baff"/><stop offset="0.75" stop-color="#00baff"/><stop offset="0.8" stop-color="#00c0ff"/><stop offset="0.85" stop-color="#00d4ff"/><stop offset="0.9" stop-color="#00f1ff"/><stop offset="0.922" stop-color="#0ff"/><stop offset="0.95" stop-color="#0ffff0"/><stop offset="1" stop-color="#2fd"/></linearGradient><linearGradient id="a83"><stop offset="0" stop-color="#0065ff"/><stop offset="0.05" stop-color="#0047ff"/><stop offset="0.1" stop-color="#0057ff"/><stop offset="0.15" stop-color="#007cff"/><stop offset="0.2" stop-color="#009bff"/><stop offset="0.25" stop-color="#00a2ff"/><stop offset="0.3" stop-color="#00a0ff"/><stop offset="0.35" stop-color="#00a6ff"/><stop offset="0.4" stop-color="#00b2ff"/><stop offset="0.45" stop-color="#00beff"/><stop offset="0.5" stop-color="#00c1ff"/><stop offset="0.55" stop-color="#00b5ff"/><stop offset="0.6" stop-color="#00a9ff"/><stop offset="0.65" stop-color="#00abff"/><stop offset="0.7" stop-color="#00b2ff"/><stop offset="0.75" stop-color="#00b3ff"/><stop offset="0.8" stop-color="#00baff"/><stop offset="0.85" stop-color="#00d0ff"/><stop offset="0.9" stop-color="#00f0ff"/><stop offset="0.924" stop-color="#0ff"/><stop offset="0.95" stop-color="#0ffff0"/><stop offset="1" stop-color="#2fd"/></linearGradient><linearGradient id="a84"><stop offset="0" stop-color="#005fff"/><stop offset="0.05" stop-color="#0041ff"/><stop offset="0.1" stop-color="#0050ff"/><stop offset="0.15" stop-color="#0076ff"/><stop offset="0.2" stop-color="#0098ff"/><stop offset="0.25" stop-color="#00a2ff"/><stop offset="0.3" stop-color="#00a2ff"/><stop offset="0.35" stop-color="#00a6ff"/><stop offset="0.4" stop-color="#00afff"/><stop offset="0.45" stop-color="#00b8ff"/><stop offset="0.5" stop-color="#00b8ff"/><stop offset="0.55" stop-color="#00abff"/><stop offset="0.6" stop-color="#009fff"/><stop offset="0.65" stop-color="#00a2ff"/><stop offset="0.7" stop-color="#0af"/><stop offset="0.75" stop-color="#00adff"/><stop offset="0.8" stop-color="#00b5ff"/><stop offset="0.85" stop-color="#0cf"/><stop offset="0.9" stop-color="#0ef"/><stop offset="0.926" stop-color="#0ff"/><stop offset="0.95" stop-color="#0efff1"/><stop offset="1" stop-color="#21ffde"/></linearGradient><linearGradient id="a85"><stop offset="0" stop-color="#005aff"/><stop offset="0.05" stop-color="#003aff"/><stop offset="0.1" stop-color="#0049ff"/><stop offset="0.15" stop-color="#0070ff"/><stop offset="0.2" stop-color="#0094ff"/><stop offset="0.25" stop-color="#00a2ff"/><stop offset="0.3" stop-color="#00a3ff"/><stop offset="0.35" stop-color="#00a5ff"/><stop offset="0.4" stop-color="#0af"/><stop offset="0.45" stop-color="#00b1ff"/><stop offset="0.5" stop-color="#00afff"/><stop offset="0.55" stop-color="#00a1ff"/><stop offset="0.6" stop-color="#0095ff"/><stop offset="0.65" stop-color="#09f"/><stop offset="0.7" stop-color="#00a2ff"/><stop offset="0.75" stop-color="#00a6ff"/><stop offset="0.8" stop-color="#00afff"/><stop offset="0.85" stop-color="#00c8ff"/><stop offset="0.9" stop-color="#00ebff"/><stop offset="0.93" stop-color="#0ff"/><stop offset="0.95" stop-color="#0cfff3"/><stop offset="1" stop-color="#1fffe0"/></linearGradient><linearGradient id="a86"><stop offset="0" stop-color="#05f"/><stop offset="0.05" stop-color="#0035ff"/><stop offset="0.1" stop-color="#04f"/><stop offset="0.15" stop-color="#006bff"/><stop offset="0.2" stop-color="#0090ff"/><stop offset="0.25" stop-color="#00a1ff"/><stop offset="0.3" stop-color="#00a3ff"/><stop offset="0.35" stop-color="#00a3ff"/><stop offset="0.4" stop-color="#00a5ff"/><stop offset="0.45" stop-color="#00a9ff"/><stop offset="0.5" stop-color="#00a6ff"/><stop offset="0.55" stop-color="#0098ff"/><stop offset="0.6" stop-color="#008cff"/><stop offset="0.65" stop-color="#0091ff"/><stop offset="0.7" stop-color="#009bff"/><stop offset="0.75" stop-color="#00a0ff"/><stop offset="0.8" stop-color="#0af"/><stop offset="0.85" stop-color="#00c4ff"/><stop offset="0.9" stop-color="#00e7ff"/><stop offset="0.936" stop-color="#0ff"/><stop offset="0.95" stop-color="#08fff7"/><stop offset="1" stop-color="#1bffe4"/></linearGradient><linearGradient id="a87"><stop offset="0" stop-color="#0051ff"/><stop offset="0.05" stop-color="#0031ff"/><stop offset="0.1" stop-color="#003fff"/><stop offset="0.15" stop-color="#06f"/><stop offset="0.2" stop-color="#008cff"/><stop offset="0.25" stop-color="#009fff"/><stop offset="0.3" stop-color="#00a2ff"/><stop offset="0.35" stop-color="#00a1ff"/><stop offset="0.4" stop-color="#009fff"/><stop offset="0.45" stop-color="#00a0ff"/><stop offset="0.5" stop-color="#009cff"/><stop offset="0.55" stop-color="#008eff"/><stop offset="0.6" stop-color="#0084ff"/><stop offset="0.65" stop-color="#0089ff"/><stop offset="0.7" stop-color="#0094ff"/><stop offset="0.75" stop-color="#009aff"/><stop offset="0.8" stop-color="#00a5ff"/><stop offset="0.85" stop-color="#00bfff"/><stop offset="0.9" stop-color="#00e2ff"/><stop offset="0.944" stop-color="#0ff"/><stop offset="0.95" stop-color="#03fffc"/><stop offset="1" stop-color="#15ffea"/></linearGradient><linearGradient id="a88"><stop offset="0" stop-color="#004cff"/><stop offset="0.05" stop-color="#002eff"/><stop offset="0.1" stop-color="#003cff"/><stop offset="0.15" stop-color="#0061ff"/><stop offset="0.2" stop-color="#0087ff"/><stop offset="0.25" stop-color="#009cff"/><stop offset="0.3" stop-color="#00a1ff"/><stop offset="0.35" stop-color="#009dff"/><stop offset="0.4" stop-color="#0098ff"/><stop offset="0.45" stop-color="#0096ff"/><stop offset="0.5" stop-color="#0092ff"/><stop offset="0.55" stop-color="#0085ff"/><stop offset="0.6" stop-color="#007cff"/><stop offset="0.65" stop-color="#0082ff"/><stop offset="0.7" stop-color="#008dff"/><stop offset="0.75" stop-color="#0094ff"/><stop offset="0.8" stop-color="#009fff"/><stop offset="0.85" stop-color="#00baff"/><stop offset="0.9" stop-color="#00dcff"/><stop offset="0.95" stop-color="#00fbff"/><stop offset="0.957" stop-color="#0ff"/><stop offset="1" stop-color="#0efff1"/></linearGradient><linearGradient id="a89"><stop offset="0" stop-color="#0048ff"/><stop offset="0.05" stop-color="#002cff"/><stop offset="0.1" stop-color="#0039ff"/><stop offset="0.15" stop-color="#005dff"/><stop offset="0.2" stop-color="#0083ff"/><stop offset="0.25" stop-color="#0098ff"/><stop offset="0.3" stop-color="#009eff"/><stop offset="0.35" stop-color="#0098ff"/><stop offset="0.4" stop-color="#0090ff"/><stop offset="0.45" stop-color="#008cff"/><stop offset="0.5" stop-color="#0087ff"/><stop offset="0.55" stop-color="#007cff"/><stop offset="0.6" stop-color="#0075ff"/><stop offset="0.65" stop-color="#007bff"/><stop offset="0.7" stop-color="#0086ff"/><stop offset="0.75" stop-color="#008eff"/><stop offset="0.8" stop-color="#009aff"/><stop offset="0.85" stop-color="#00b4ff"/><stop offset="0.9" stop-color="#00d5ff"/><stop offset="0.95" stop-color="#00f3ff"/><stop offset="0.978" stop-color="#0ff"/><stop offset="1" stop-color="#05fffa"/></linearGradient><linearGradient id="a90"><stop offset="0" stop-color="#04f"/><stop offset="0.05" stop-color="#002aff"/><stop offset="0.1" stop-color="#0037ff"/><stop offset="0.15" stop-color="#0059ff"/><stop offset="0.2" stop-color="#007eff"/><stop offset="0.25" stop-color="#0094ff"/><stop offset="0.3" stop-color="#009aff"/><stop offset="0.35" stop-color="#0093ff"/><stop offset="0.4" stop-color="#08f"/><stop offset="0.45" stop-color="#0081ff"/><stop offset="0.5" stop-color="#007cff"/><stop offset="0.55" stop-color="#0073ff"/><stop offset="0.6" stop-color="#006eff"/><stop offset="0.65" stop-color="#0075ff"/><stop offset="0.7" stop-color="#007fff"/><stop offset="0.75" stop-color="#08f"/><stop offset="0.8" stop-color="#0095ff"/><stop offset="0.85" stop-color="#00aeff"/><stop offset="0.9" stop-color="#00cdff"/><stop offset="0.95" stop-color="#00eaff"/><stop offset="1" stop-color="#00faff"/></linearGradient><linearGradient id="a91"><stop offset="0" stop-color="#0041ff"/><stop offset="0.05" stop-color="#0029ff"/><stop offset="0.1" stop-color="#0036ff"/><stop offset="0.15" stop-color="#0056ff"/><stop offset="0.2" stop-color="#0079ff"/><stop offset="0.25" stop-color="#008fff"/><stop offset="0.3" stop-color="#0095ff"/><stop offset="0.35" stop-color="#008cff"/><stop offset="0.4" stop-color="#007fff"/><stop offset="0.45" stop-color="#0076ff"/><stop offset="0.5" stop-color="#0070ff"/><stop offset="0.55" stop-color="#006aff"/><stop offset="0.6" stop-color="#0068ff"/><stop offset="0.65" stop-color="#006fff"/><stop offset="0.7" stop-color="#0079ff"/><stop offset="0.75" stop-color="#0082ff"/><stop offset="0.8" stop-color="#0090ff"/><stop offset="0.85" stop-color="#00a8ff"/><stop offset="0.9" stop-color="#00c5ff"/><stop offset="0.95" stop-color="#00dfff"/><stop offset="1" stop-color="#00efff"/></linearGradient><linearGradient id="a92"><stop offset="0" stop-color="#003dff"/><stop offset="0.05" stop-color="#0029ff"/><stop offset="0.1" stop-color="#0035ff"/><stop offset="0.15" stop-color="#0053ff"/><stop offset="0.2" stop-color="#0073ff"/><stop offset="0.25" stop-color="#0089ff"/><stop offset="0.3" stop-color="#0090ff"/><stop offset="0.35" stop-color="#0086ff"/><stop offset="0.4" stop-color="#0076ff"/><stop offset="0.45" stop-color="#006bff"/><stop offset="0.5" stop-color="#0065ff"/><stop offset="0.55" stop-color="#0062ff"/><stop offset="0.6" stop-color="#0062ff"/><stop offset="0.65" stop-color="#0069ff"/><stop offset="0.7" stop-color="#0073ff"/><stop offset="0.75" stop-color="#007dff"/><stop offset="0.8" stop-color="#008bff"/><stop offset="0.85" stop-color="#00a1ff"/><stop offset="0.9" stop-color="#00bcff"/><stop offset="0.95" stop-color="#00d4ff"/><stop offset="1" stop-color="#00e3ff"/></linearGradient><linearGradient id="a93"><stop offset="0" stop-color="#0039ff"/><stop offset="0.05" stop-color="#0029ff"/><stop offset="0.1" stop-color="#0034ff"/><stop offset="0.15" stop-color="#004fff"/><stop offset="0.2" stop-color="#006eff"/><stop offset="0.25" stop-color="#0083ff"/><stop offset="0.3" stop-color="#008aff"/><stop offset="0.35" stop-color="#007eff"/><stop offset="0.4" stop-color="#006cff"/><stop offset="0.45" stop-color="#005fff"/><stop offset="0.5" stop-color="#005aff"/><stop offset="0.55" stop-color="#0059ff"/><stop offset="0.6" stop-color="#005dff"/><stop offset="0.65" stop-color="#0063ff"/><stop offset="0.7" stop-color="#006cff"/><stop offset="0.75" stop-color="#07f"/><stop offset="0.8" stop-color="#0086ff"/><stop offset="0.85" stop-color="#009bff"/><stop offset="0.9" stop-color="#00b3ff"/><stop offset="0.95" stop-color="#00c9ff"/><stop offset="1" stop-color="#00d7ff"/></linearGradient><linearGradient id="a94"><stop offset="0" stop-color="#0036ff"/><stop offset="0.05" stop-color="#0028ff"/><stop offset="0.1" stop-color="#03f"/><stop offset="0.15" stop-color="#004cff"/><stop offset="0.2" stop-color="#0068ff"/><stop offset="0.25" stop-color="#007dff"/><stop offset="0.3" stop-color="#0083ff"/><stop offset="0.35" stop-color="#0076ff"/><stop offset="0.4" stop-color="#0062ff"/><stop offset="0.45" stop-color="#0053ff"/><stop offset="0.5" stop-color="#004fff"/><stop offset="0.55" stop-color="#0051ff"/><stop offset="0.6" stop-color="#0058ff"/><stop offset="0.65" stop-color="#005eff"/><stop offset="0.7" stop-color="#06f"/><stop offset="0.75" stop-color="#0072ff"/><stop offset="0.8" stop-color="#0081ff"/><stop offset="0.85" stop-color="#0094ff"/><stop offset="0.9" stop-color="#00a9ff"/><stop offset="0.95" stop-color="#00bdff"/><stop offset="1" stop-color="#00cbff"/></linearGradient><linearGradient id="a95"><stop offset="0" stop-color="#0032ff"/><stop offset="0.05" stop-color="#0028ff"/><stop offset="0.1" stop-color="#03f"/><stop offset="0.15" stop-color="#0049ff"/><stop offset="0.2" stop-color="#0063ff"/><stop offset="0.25" stop-color="#07f"/><stop offset="0.3" stop-color="#007cff"/><stop offset="0.35" stop-color="#006eff"/><stop offset="0.4" stop-color="#0058ff"/><stop offset="0.45" stop-color="#0046ff"/><stop offset="0.5" stop-color="#0043ff"/><stop offset="0.55" stop-color="#004aff"/><stop offset="0.6" stop-color="#0053ff"/><stop offset="0.65" stop-color="#0059ff"/><stop offset="0.7" stop-color="#0061ff"/><stop offset="0.75" stop-color="#006cff"/><stop offset="0.8" stop-color="#007cff"/><stop offset="0.85" stop-color="#008eff"/><stop offset="0.9" stop-color="#00a0ff"/><stop offset="0.95" stop-color="#00b1ff"/><stop offset="1" stop-color="#00beff"/></linearGradient><linearGradient id="a96"><stop offset="0" stop-color="#002eff"/><stop offset="0.05" stop-color="#0028ff"/><stop offset="0.1" stop-color="#0032ff"/><stop offset="0.15" stop-color="#0046ff"/><stop offset="0.2" stop-color="#005dff"/><stop offset="0.25" stop-color="#0070ff"/><stop offset="0.3" stop-color="#0075ff"/><stop offset="0.35" stop-color="#06f"/><stop offset="0.4" stop-color="#004dff"/><stop offset="0.45" stop-color="#0038ff"/><stop offset="0.5" stop-color="#0038ff"/><stop offset="0.55" stop-color="#0043ff"/><stop offset="0.6" stop-color="#004eff"/><stop offset="0.65" stop-color="#05f"/><stop offset="0.7" stop-color="#005bff"/><stop offset="0.75" stop-color="#0067ff"/><stop offset="0.8" stop-color="#07f"/><stop offset="0.85" stop-color="#08f"/><stop offset="0.9" stop-color="#0097ff"/><stop offset="0.95" stop-color="#00a5ff"/><stop offset="1" stop-color="#00b2ff"/></linearGradient><linearGradient id="a97"><stop offset="0" stop-color="#002aff"/><stop offset="0.05" stop-color="#0028ff"/><stop offset="0.1" stop-color="#0031ff"/><stop offset="0.15" stop-color="#0042ff"/><stop offset="0.2" stop-color="#0057ff"/><stop offset="0.25" stop-color="#0069ff"/><stop offset="0.3" stop-color="#006eff"/><stop offset="0.35" stop-color="#005eff"/><stop offset="0.4" stop-color="#0042ff"/><stop offset="0.45" stop-color="#0029ff"/><stop offset="0.5" stop-color="#002dff"/><stop offset="0.55" stop-color="#003cff"/><stop offset="0.6" stop-color="#004aff"/><stop offset="0.65" stop-color="#0050ff"/><stop offset="0.7" stop-color="#05f"/><stop offset="0.75" stop-color="#0062ff"/><stop offset="0.8" stop-color="#0073ff"/><stop offset="0.85" stop-color="#0081ff"/><stop offset="0.9" stop-color="#008eff"/><stop offset="0.95" stop-color="#009aff"/><stop offset="1" stop-color="#00a6ff"/></linearGradient><linearGradient id="a98"><stop offset="0" stop-color="#0026ff"/><stop offset="0.05" stop-color="#0026ff"/><stop offset="0.1" stop-color="#002fff"/><stop offset="0.15" stop-color="#003eff"/><stop offset="0.2" stop-color="#0051ff"/><stop offset="0.25" stop-color="#0062ff"/><stop offset="0.3" stop-color="#06f"/><stop offset="0.35" stop-color="#0056ff"/><stop offset="0.4" stop-color="#0037ff"/><stop offset="0.45" stop-color="#001aff"/><stop offset="0.5" stop-color="#02f"/><stop offset="0.55" stop-color="#0036ff"/><stop offset="0.6" stop-color="#0045ff"/><stop offset="0.65" stop-color="#004bff"/><stop offset="0.7" stop-color="#0050ff"/><stop offset="0.75" stop-color="#005eff"/><stop offset="0.8" stop-color="#006eff"/><stop offset="0.85" stop-color="#007bff"/><stop offset="0.9" stop-color="#0085ff"/><stop offset="0.95" stop-color="#008fff"/><stop offset="1" stop-color="#009bff"/></linearGradient><linearGradient id="a99"><stop offset="0" stop-color="#02f"/><stop offset="0.05" stop-color="#0025ff"/><stop offset="0.1" stop-color="#002dff"/><stop offset="0.15" stop-color="#003aff"/><stop offset="0.2" stop-color="#004bff"/><stop offset="0.25" stop-color="#005bff"/><stop offset="0.3" stop-color="#005fff"/><stop offset="0.35" stop-color="#004eff"/><stop offset="0.4" stop-color="#002cff"/><stop offset="0.45" stop-color="#000bff"/><stop offset="0.5" stop-color="#0018ff"/><stop offset="0.55" stop-color="#0030ff"/><stop offset="0.6" stop-color="#0041ff"/><stop offset="0.65" stop-color="#0047ff"/><stop offset="0.7" stop-color="#004bff"/><stop offset="0.75" stop-color="#0059ff"/><stop offset="0.8" stop-color="#006aff"/><stop offset="0.85" stop-color="#0075ff"/><stop offset="0.9" stop-color="#007dff"/><stop offset="0.95" stop-color="#0085ff"/><stop offset="1" stop-color="#0090ff"/></linearGradient><linearGradient id="a100"><stop offset="0" stop-color="#001eff"/><stop offset="0.05" stop-color="#02f"/><stop offset="0.1" stop-color="#002aff"/><stop offset="0.15" stop-color="#0036ff"/><stop offset="0.2" stop-color="#0045ff"/><stop offset="0.25" stop-color="#0054ff"/><stop offset="0.3" stop-color="#0057ff"/><stop offset="0.35" stop-color="#0046ff"/><stop offset="0.4" stop-color="#02f"/><stop offset="0.44" stop-color="#00f"/><stop offset="0.45" stop-color="#0000fb"/><stop offset="0.474" stop-color="#00f"/><stop offset="0.5" stop-color="#000fff"/><stop offset="0.55" stop-color="#002aff"/><stop offset="0.6" stop-color="#003dff"/><stop offset="0.65" stop-color="#0042ff"/><stop offset="0.7" stop-color="#0046ff"/><stop offset="0.75" stop-color="#0054ff"/><stop offset="0.8" stop-color="#0065ff"/><stop offset="0.85" stop-color="#0070ff"/><stop offset="0.9" stop-color="#0076ff"/><stop offset="0.95" stop-color="#007cff"/><stop offset="1" stop-color="#0087ff"/></linearGradient><linearGradient id="a101"><stop offset="0" stop-color="#0019ff"/><stop offset="0.05" stop-color="#001fff"/><stop offset="0.1" stop-color="#0027ff"/><stop offset="0.15" stop-color="#0031ff"/><stop offset="0.2" stop-color="#003fff"/><stop offset="0.25" stop-color="#004dff"/><stop offset="0.3" stop-color="#0050ff"/><stop offset="0.35" stop-color="#003fff"/><stop offset="0.4" stop-color="#0019ff"/><stop offset="0.424" stop-color="#00f"/><stop offset="0.45" stop-color="#0000ef"/><stop offset="0.49" stop-color="#00f"/><stop offset="0.5" stop-color="#0007ff"/><stop offset="0.55" stop-color="#0025ff"/><stop offset="0.6" stop-color="#0038ff"/><stop offset="0.65" stop-color="#003eff"/><stop offset="0.7" stop-color="#0041ff"/><stop offset="0.75" stop-color="#0050ff"/><stop offset="0.8" stop-color="#0061ff"/><stop offset="0.85" stop-color="#006bff"/><stop offset="0.9" stop-color="#006fff"/><stop offset="0.95" stop-color="#0074ff"/><stop offset="1" stop-color="#007eff"/></linearGradient><linearGradient id="a102"><stop offset="0" stop-color="#0015ff"/><stop offset="0.05" stop-color="#001bff"/><stop offset="0.1" stop-color="#0023ff"/><stop offset="0.15" stop-color="#002cff"/><stop offset="0.2" stop-color="#0038ff"/><stop offset="0.25" stop-color="#0046ff"/><stop offset="0.3" stop-color="#0049ff"/><stop offset="0.35" stop-color="#0037ff"/><stop offset="0.4" stop-color="#01f"/><stop offset="0.416" stop-color="#00f"/><stop offset="0.45" stop-color="#0000e6"/><stop offset="0.499" stop-color="#00f"/><stop offset="0.5" stop-color="#0001ff"/><stop offset="0.55" stop-color="#0021ff"/><stop offset="0.6" stop-color="#0034ff"/><stop offset="0.65" stop-color="#0039ff"/><stop offset="0.7" stop-color="#003dff"/><stop offset="0.75" stop-color="#004cff"/><stop offset="0.8" stop-color="#005dff"/><stop offset="0.85" stop-color="#06f"/><stop offset="0.9" stop-color="#0069ff"/><stop offset="0.95" stop-color="#006dff"/><stop offset="1" stop-color="#07f"/></linearGradient><linearGradient id="a103"><stop offset="0" stop-color="#0010ff"/><stop offset="0.05" stop-color="#0017ff"/><stop offset="0.1" stop-color="#001eff"/><stop offset="0.15" stop-color="#0027ff"/><stop offset="0.2" stop-color="#0032ff"/><stop offset="0.25" stop-color="#003fff"/><stop offset="0.3" stop-color="#0042ff"/><stop offset="0.35" stop-color="#0030ff"/><stop offset="0.4" stop-color="#000bff"/><stop offset="0.41" stop-color="#00f"/><stop offset="0.45" stop-color="#0000e1"/><stop offset="0.5" stop-color="#0000fc"/><stop offset="0.504" stop-color="#00f"/><stop offset="0.55" stop-color="#001dff"/><stop offset="0.6" stop-color="#0030ff"/><stop offset="0.65" stop-color="#0035ff"/><stop offset="0.7" stop-color="#0038ff"/><stop offset="0.75" stop-color="#0048ff"/><stop offset="0.8" stop-color="#0059ff"/><stop offset="0.85" stop-color="#0061ff"/><stop offset="0.9" stop-color="#0064ff"/><stop offset="0.95" stop-color="#0067ff"/><stop offset="1" stop-color="#0070ff"/></linearGradient><linearGradient id="a104"><stop offset="0" stop-color="#000bff"/><stop offset="0.05" stop-color="#0012ff"/><stop offset="0.1" stop-color="#001aff"/><stop offset="0.15" stop-color="#02f"/><stop offset="0.2" stop-color="#002cff"/><stop offset="0.25" stop-color="#0039ff"/><stop offset="0.3" stop-color="#003bff"/><stop offset="0.35" stop-color="#002aff"/><stop offset="0.4" stop-color="#0006ff"/><stop offset="0.406" stop-color="#00f"/><stop offset="0.45" stop-color="#0000e0"/><stop offset="0.5" stop-color="#0000fa"/><stop offset="0.507" stop-color="#00f"/><stop offset="0.55" stop-color="#0019ff"/><stop offset="0.6" stop-color="#002cff"/><stop offset="0.65" stop-color="#0031ff"/><stop offset="0.7" stop-color="#0034ff"/><stop offset="0.75" stop-color="#0043ff"/><stop offset="0.8" stop-color="#05f"/><stop offset="0.85" stop-color="#005dff"/><stop offset="0.9" stop-color="#005eff"/><stop offset="0.95" stop-color="#0061ff"/><stop offset="1" stop-color="#006aff"/></linearGradient><linearGradient id="a105"><stop offset="0" stop-color="#0006ff"/><stop offset="0.05" stop-color="#000dff"/><stop offset="0.1" stop-color="#0014ff"/><stop offset="0.15" stop-color="#001cff"/><stop offset="0.2" stop-color="#0027ff"/><stop offset="0.25" stop-color="#03f"/><stop offset="0.3" stop-color="#0035ff"/><stop offset="0.35" stop-color="#0023ff"/><stop offset="0.4" stop-color="#0002ff"/><stop offset="0.403" stop-color="#00f"/><stop offset="0.45" stop-color="#0000e2"/><stop offset="0.5" stop-color="#0000f9"/><stop offset="0.51" stop-color="#00f"/><stop offset="0.55" stop-color="#0016ff"/><stop offset="0.6" stop-color="#0028ff"/><stop offset="0.65" stop-color="#002cff"/><stop offset="0.7" stop-color="#0030ff"/><stop offset="0.75" stop-color="#0040ff"/><stop offset="0.8" stop-color="#0051ff"/><stop offset="0.85" stop-color="#0058ff"/><stop offset="0.9" stop-color="#005aff"/><stop offset="0.95" stop-color="#005cff"/><stop offset="1" stop-color="#0064ff"/></linearGradient><linearGradient id="a106"><stop offset="0" stop-color="#0001ff"/><stop offset="0.05" stop-color="#0008ff"/><stop offset="0.1" stop-color="#000fff"/><stop offset="0.15" stop-color="#0017ff"/><stop offset="0.2" stop-color="#0021ff"/><stop offset="0.25" stop-color="#002cff"/><stop offset="0.3" stop-color="#002eff"/><stop offset="0.35" stop-color="#001dff"/><stop offset="0.399" stop-color="#00f"/><stop offset="0.4" stop-color="#00f"/><stop offset="0.45" stop-color="#0000e5"/><stop offset="0.5" stop-color="#0000f9"/><stop offset="0.511" stop-color="#00f"/><stop offset="0.55" stop-color="#0013ff"/><stop offset="0.6" stop-color="#0023ff"/><stop offset="0.65" stop-color="#0028ff"/><stop offset="0.7" stop-color="#002cff"/><stop offset="0.75" stop-color="#003cff"/><stop offset="0.8" stop-color="#004dff"/><stop offset="0.85" stop-color="#0054ff"/><stop offset="0.9" stop-color="#05f"/><stop offset="0.95" stop-color="#0057ff"/><stop offset="1" stop-color="#0060ff"/></linearGradient><linearGradient id="a107"><stop offset="0" stop-color="#0000fb"/><stop offset="0.033" stop-color="#00f"/><stop offset="0.05" stop-color="#0002ff"/><stop offset="0.1" stop-color="#0009ff"/><stop offset="0.15" stop-color="#01f"/><stop offset="0.2" stop-color="#001bff"/><stop offset="0.25" stop-color="#0026ff"/><stop offset="0.3" stop-color="#0028ff"/><stop offset="0.35" stop-color="#0017ff"/><stop offset="0.395" stop-color="#00f"/><stop offset="0.4" stop-color="#0000fc"/><stop offset="0.45" stop-color="#0000e9"/><stop offset="0.5" stop-color="#0000f9"/><stop offset="0.512" stop-color="#00f"/><stop offset="0.55" stop-color="#0010ff"/><stop offset="0.6" stop-color="#001fff"/><stop offset="0.65" stop-color="#0024ff"/><stop offset="0.7" stop-color="#0028ff"/><stop offset="0.75" stop-color="#0038ff"/><stop offset="0.8" stop-color="#0049ff"/><stop offset="0.85" stop-color="#0050ff"/><stop offset="0.9" stop-color="#0051ff"/><stop offset="0.95" stop-color="#0053ff"/><stop offset="1" stop-color="#005bff"/></linearGradient><linearGradient id="a108"><stop offset="0" stop-color="#0000f6"/><stop offset="0.05" stop-color="#0000fb"/><stop offset="0.077" stop-color="#00f"/><stop offset="0.1" stop-color="#0003ff"/><stop offset="0.15" stop-color="#000bff"/><stop offset="0.2" stop-color="#0015ff"/><stop offset="0.25" stop-color="#0020ff"/><stop offset="0.3" stop-color="#0021ff"/><stop offset="0.35" stop-color="#01f"/><stop offset="0.388" stop-color="#00f"/><stop offset="0.4" stop-color="#0000f9"/><stop offset="0.45" stop-color="#0000ec"/><stop offset="0.5" stop-color="#0000f9"/><stop offset="0.514" stop-color="#00f"/><stop offset="0.55" stop-color="#000eff"/><stop offset="0.6" stop-color="#001bff"/><stop offset="0.65" stop-color="#0020ff"/><stop offset="0.7" stop-color="#0025ff"/><stop offset="0.75" stop-color="#0034ff"/><stop offset="0.8" stop-color="#0045ff"/><stop offset="0.85" stop-color="#004cff"/><stop offset="0.9" stop-color="#004dff"/><stop offset="0.95" stop-color="#004fff"/><stop offset="1" stop-color="#0057ff"/></linearGradient><linearGradient id="a109"><stop offset="0" stop-color="#0000f0"/><stop offset="0.05" stop-color="#0000f5"/><stop offset="0.1" stop-color="#0000fc"/><stop offset="0.118" stop-color="#00f"/><stop offset="0.15" stop-color="#0006ff"/><stop offset="0.2" stop-color="#0010ff"/><stop offset="0.25" stop-color="#001bff"/><stop offset="0.3" stop-color="#001bff"/><stop offset="0.35" stop-color="#000cff"/><stop offset="0.378" stop-color="#00f"/><stop offset="0.4" stop-color="#0000f6"/><stop offset="0.45" stop-color="#0000ed"/><stop offset="0.5" stop-color="#0000fa"/><stop offset="0.515" stop-color="#00f"/><stop offset="0.55" stop-color="#000bff"/><stop offset="0.6" stop-color="#0017ff"/><stop offset="0.65" stop-color="#001bff"/><stop offset="0.7" stop-color="#0021ff"/><stop offset="0.75" stop-color="#0030ff"/><stop offset="0.8" stop-color="#0041ff"/><stop offset="0.85" stop-color="#0048ff"/><stop offset="0.9" stop-color="#004aff"/><stop offset="0.95" stop-color="#004cff"/><stop offset="1" stop-color="#0053ff"/></linearGradient><linearGradient id="a110"><stop offset="0" stop-color="#0000eb"/><stop offset="0.05" stop-color="#0000ef"/><stop offset="0.1" stop-color="#0000f6"/><stop offset="0.15" stop-color="#00f"/><stop offset="0.2" stop-color="#000bff"/><stop offset="0.25" stop-color="#0015ff"/><stop offset="0.3" stop-color="#0016ff"/><stop offset="0.35" stop-color="#0006ff"/><stop offset="0.365" stop-color="#00f"/><stop offset="0.4" stop-color="#0000f3"/><stop offset="0.45" stop-color="#00e"/><stop offset="0.5" stop-color="#0000fa"/><stop offset="0.518" stop-color="#00f"/><stop offset="0.55" stop-color="#0009ff"/><stop offset="0.6" stop-color="#0014ff"/><stop offset="0.65" stop-color="#0017ff"/><stop offset="0.7" stop-color="#001dff"/><stop offset="0.75" stop-color="#002dff"/><stop offset="0.8" stop-color="#003dff"/><stop offset="0.85" stop-color="#04f"/><stop offset="0.9" stop-color="#0046ff"/><stop offset="0.95" stop-color="#0048ff"/><stop offset="1" stop-color="#0050ff"/></linearGradient><linearGradient id="a111"><stop offset="0" stop-color="#0000e6"/><stop offset="0.05" stop-color="#0000e9"/><stop offset="0.1" stop-color="#0000f0"/><stop offset="0.15" stop-color="#0000fa"/><stop offset="0.175" stop-color="#00f"/><stop offset="0.2" stop-color="#0006ff"/><stop offset="0.25" stop-color="#0010ff"/><stop offset="0.3" stop-color="#0010ff"/><stop offset="0.35" stop-color="#0001ff"/><stop offset="0.351" stop-color="#00f"/><stop offset="0.4" stop-color="#0000ef"/><stop offset="0.45" stop-color="#00e"/><stop offset="0.5" stop-color="#0000f9"/><stop offset="0.522" stop-color="#00f"/><stop offset="0.55" stop-color="#0007ff"/><stop offset="0.6" stop-color="#0010ff"/><stop offset="0.65" stop-color="#0014ff"/><stop offset="0.7" stop-color="#001aff"/><stop offset="0.75" stop-color="#0029ff"/><stop offset="0.8" stop-color="#0039ff"/><stop offset="0.85" stop-color="#0040ff"/><stop offset="0.9" stop-color="#0043ff"/><stop offset="0.95" stop-color="#0045ff"/><stop offset="1" stop-color="#004cff"/></linearGradient><linearGradient id="a112"><stop offset="0" stop-color="#0000e1"/><stop offset="0.05" stop-color="#0000e4"/><stop offset="0.1" stop-color="#0000ea"/><stop offset="0.15" stop-color="#0000f4"/><stop offset="0.197" stop-color="#00f"/><stop offset="0.2" stop-color="#0001ff"/><stop offset="0.25" stop-color="#000bff"/><stop offset="0.3" stop-color="#000aff"/><stop offset="0.337" stop-color="#00f"/><stop offset="0.35" stop-color="#0000fa"/><stop offset="0.4" stop-color="#0000eb"/><stop offset="0.45" stop-color="#0000ed"/><stop offset="0.5" stop-color="#0000f9"/><stop offset="0.526" stop-color="#00f"/><stop offset="0.55" stop-color="#0005ff"/><stop offset="0.6" stop-color="#000cff"/><stop offset="0.65" stop-color="#0010ff"/><stop offset="0.7" stop-color="#0016ff"/><stop offset="0.75" stop-color="#0025ff"/><stop offset="0.8" stop-color="#0034ff"/><stop offset="0.85" stop-color="#003cff"/><stop offset="0.9" stop-color="#003fff"/><stop offset="0.95" stop-color="#0042ff"/><stop offset="1" stop-color="#0049ff"/></linearGradient><linearGradient id="a113"><stop offset="0" stop-color="#0000dc"/><stop offset="0.05" stop-color="#0000de"/><stop offset="0.1" stop-color="#0000e5"/><stop offset="0.15" stop-color="#0000ef"/><stop offset="0.2" stop-color="#0000fb"/><stop offset="0.218" stop-color="#00f"/><stop offset="0.25" stop-color="#0006ff"/><stop offset="0.3" stop-color="#0005ff"/><stop offset="0.321" stop-color="#00f"/><stop offset="0.35" stop-color="#0000f5"/><stop offset="0.4" stop-color="#0000e7"/><stop offset="0.45" stop-color="#0000eb"/><stop offset="0.5" stop-color="#0000f8"/><stop offset="0.534" stop-color="#00f"/><stop offset="0.55" stop-color="#0003ff"/><stop offset="0.6" stop-color="#0008ff"/><stop offset="0.65" stop-color="#000cff"/><stop offset="0.7" stop-color="#0013ff"/><stop offset="0.75" stop-color="#0021ff"/><stop offset="0.8" stop-color="#0030ff"/><stop offset="0.85" stop-color="#0038ff"/><stop offset="0.9" stop-color="#003cff"/><stop offset="0.95" stop-color="#003fff"/><stop offset="1" stop-color="#0046ff"/></linearGradient><linearGradient id="a114"><stop offset="0" stop-color="#0000d7"/><stop offset="0.05" stop-color="#0000d8"/><stop offset="0.1" stop-color="#0000e0"/><stop offset="0.15" stop-color="#0000ea"/><stop offset="0.2" stop-color="#0000f7"/><stop offset="0.242" stop-color="#00f"/><stop offset="0.25" stop-color="#0001ff"/><stop offset="0.3" stop-color="#00f"/><stop offset="0.35" stop-color="#0000f0"/><stop offset="0.4" stop-color="#0000e3"/><stop offset="0.45" stop-color="#0000e9"/><stop offset="0.5" stop-color="#0000f7"/><stop offset="0.545" stop-color="#00f"/><stop offset="0.55" stop-color="#0001ff"/><stop offset="0.6" stop-color="#0005ff"/><stop offset="0.65" stop-color="#0008ff"/><stop offset="0.7" stop-color="#0010ff"/><stop offset="0.75" stop-color="#001eff"/><stop offset="0.8" stop-color="#002cff"/><stop offset="0.85" stop-color="#0034ff"/><stop offset="0.9" stop-color="#0038ff"/><stop offset="0.95" stop-color="#003cff"/><stop offset="1" stop-color="#0042ff"/></linearGradient><linearGradient id="a115"><stop offset="0" stop-color="#0000d2"/><stop offset="0.05" stop-color="#0000d3"/><stop offset="0.1" stop-color="#0000db"/><stop offset="0.15" stop-color="#0000e6"/><stop offset="0.2" stop-color="#0000f2"/><stop offset="0.25" stop-color="#0000fc"/><stop offset="0.3" stop-color="#0000fa"/><stop offset="0.35" stop-color="#0000eb"/><stop offset="0.4" stop-color="#0000df"/><stop offset="0.45" stop-color="#0000e7"/><stop offset="0.5" stop-color="#0000f6"/><stop offset="0.55" stop-color="#0000fd"/><stop offset="0.577" stop-color="#00f"/><stop offset="0.6" stop-color="#0001ff"/><stop offset="0.65" stop-color="#0005ff"/><stop offset="0.7" stop-color="#000dff"/><stop offset="0.75" stop-color="#001aff"/><stop offset="0.8" stop-color="#0027ff"/><stop offset="0.85" stop-color="#002fff"/><stop offset="0.9" stop-color="#0034ff"/><stop offset="0.95" stop-color="#0038ff"/><stop offset="1" stop-color="#003fff"/></linearGradient><linearGradient id="a116"><stop offset="0" stop-color="#0000ce"/><stop offset="0.05" stop-color="#0000ce"/><stop offset="0.1" stop-color="#0000d6"/><stop offset="0.15" stop-color="#0000e2"/><stop offset="0.2" stop-color="#00e"/><stop offset="0.25" stop-color="#0000f8"/><stop offset="0.3" stop-color="#0000f6"/><stop offset="0.35" stop-color="#0000e6"/><stop offset="0.4" stop-color="#0000db"/><stop offset="0.45" stop-color="#0000e4"/><stop offset="0.5" stop-color="#0000f4"/><stop offset="0.55" stop-color="#0000fb"/><stop offset="0.6" stop-color="#0000fd"/><stop offset="0.64" stop-color="#00f"/><stop offset="0.65" stop-color="#0001ff"/><stop offset="0.7" stop-color="#0009ff"/><stop offset="0.75" stop-color="#0016ff"/><stop offset="0.8" stop-color="#0023ff"/><stop offset="0.85" stop-color="#002bff"/><stop offset="0.9" stop-color="#0030ff"/><stop offset="0.95" stop-color="#0035ff"/><stop offset="1" stop-color="#003bff"/></linearGradient><linearGradient id="a117"><stop offset="0" stop-color="#0000ca"/><stop offset="0.05" stop-color="#0000ca"/><stop offset="0.1" stop-color="#0000d2"/><stop offset="0.15" stop-color="#0000de"/><stop offset="0.2" stop-color="#0000eb"/><stop offset="0.25" stop-color="#0000f4"/><stop offset="0.3" stop-color="#0000f1"/><stop offset="0.35" stop-color="#0000e1"/><stop offset="0.4" stop-color="#0000d6"/><stop offset="0.45" stop-color="#0000e1"/><stop offset="0.5" stop-color="#0000f3"/><stop offset="0.55" stop-color="#0000f9"/><stop offset="0.6" stop-color="#0000f9"/><stop offset="0.65" stop-color="#0000fd"/><stop offset="0.667" stop-color="#00f"/><stop offset="0.7" stop-color="#0006ff"/><stop offset="0.75" stop-color="#0012ff"/><stop offset="0.8" stop-color="#001eff"/><stop offset="0.85" stop-color="#0026ff"/><stop offset="0.9" stop-color="#002cff"/><stop offset="0.95" stop-color="#0031ff"/><stop offset="1" stop-color="#0037ff"/></linearGradient><linearGradient id="a118"><stop offset="0" stop-color="#0000c5"/><stop offset="0.05" stop-color="#0000c6"/><stop offset="0.1" stop-color="#0000ce"/><stop offset="0.15" stop-color="#0000db"/><stop offset="0.2" stop-color="#0000e7"/><stop offset="0.25" stop-color="#0000f0"/><stop offset="0.3" stop-color="#0000ed"/><stop offset="0.35" stop-color="#0000dc"/><stop offset="0.4" stop-color="#0000d1"/><stop offset="0.45" stop-color="#0000de"/><stop offset="0.5" stop-color="#0000f1"/><stop offset="0.55" stop-color="#0000f6"/><stop offset="0.6" stop-color="#0000f6"/><stop offset="0.65" stop-color="#0000f9"/><stop offset="0.686" stop-color="#00f"/><stop offset="0.7" stop-color="#0003ff"/><stop offset="0.75" stop-color="#000eff"/><stop offset="0.8" stop-color="#0019ff"/><stop offset="0.85" stop-color="#0021ff"/><stop offset="0.9" stop-color="#0027ff"/><stop offset="0.95" stop-color="#002cff"/><stop offset="1" stop-color="#0032ff"/></linearGradient><linearGradient id="a119"><stop offset="0" stop-color="#0000c1"/><stop offset="0.05" stop-color="#0000c3"/><stop offset="0.1" stop-color="#0000cb"/><stop offset="0.15" stop-color="#0000d8"/><stop offset="0.2" stop-color="#0000e4"/><stop offset="0.25" stop-color="#0000ed"/><stop offset="0.3" stop-color="#0000e9"/><stop offset="0.35" stop-color="#0000d7"/><stop offset="0.4" stop-color="#00c"/><stop offset="0.45" stop-color="#0000da"/><stop offset="0.5" stop-color="#00e"/><stop offset="0.55" stop-color="#0000f4"/><stop offset="0.6" stop-color="#0000f3"/><stop offset="0.65" stop-color="#0000f6"/><stop offset="0.7" stop-color="#00f"/><stop offset="0.702" stop-color="#00f"/><stop offset="0.75" stop-color="#000aff"/><stop offset="0.8" stop-color="#0014ff"/><stop offset="0.85" stop-color="#001cff"/><stop offset="0.9" stop-color="#02f"/><stop offset="0.95" stop-color="#0028ff"/><stop offset="1" stop-color="#002dff"/></linearGradient><linearGradient id="a120"><stop offset="0" stop-color="#0000be"/><stop offset="0.05" stop-color="#0000c0"/><stop offset="0.1" stop-color="#0000c9"/><stop offset="0.15" stop-color="#0000d5"/><stop offset="0.2" stop-color="#0000e2"/><stop offset="0.25" stop-color="#0000ea"/><stop offset="0.3" stop-color="#0000e6"/><stop offset="0.35" stop-color="#0000d3"/><stop offset="0.4" stop-color="#0000c7"/><stop offset="0.45" stop-color="#0000d6"/><stop offset="0.5" stop-color="#0000eb"/><stop offset="0.55" stop-color="#0000f1"/><stop offset="0.6" stop-color="#0000f0"/><stop offset="0.65" stop-color="#0000f3"/><stop offset="0.7" stop-color="#0000fb"/><stop offset="0.72" stop-color="#00f"/><stop offset="0.75" stop-color="#0006ff"/><stop offset="0.8" stop-color="#000fff"/><stop offset="0.85" stop-color="#0016ff"/><stop offset="0.9" stop-color="#001dff"/><stop offset="0.95" stop-color="#02f"/><stop offset="1" stop-color="#0028ff"/></linearGradient><linearGradient id="a121"><stop offset="0" stop-color="#0000ba"/><stop offset="0.05" stop-color="#0000be"/><stop offset="0.1" stop-color="#0000c7"/><stop offset="0.15" stop-color="#0000d3"/><stop offset="0.2" stop-color="#0000df"/><stop offset="0.25" stop-color="#0000e7"/><stop offset="0.3" stop-color="#0000e2"/><stop offset="0.35" stop-color="#0000ce"/><stop offset="0.4" stop-color="#0000c2"/><stop offset="0.45" stop-color="#0000d1"/><stop offset="0.5" stop-color="#0000e7"/><stop offset="0.55" stop-color="#00e"/><stop offset="0.6" stop-color="#0000ed"/><stop offset="0.65" stop-color="#0000f0"/><stop offset="0.7" stop-color="#0000f8"/><stop offset="0.741" stop-color="#00f"/><stop offset="0.75" stop-color="#0001ff"/><stop offset="0.8" stop-color="#0009ff"/><stop offset="0.85" stop-color="#0010ff"/><stop offset="0.9" stop-color="#0017ff"/><stop offset="0.95" stop-color="#001cff"/><stop offset="1" stop-color="#02f"/></linearGradient><linearGradient id="a122"><stop offset="0" stop-color="#0000b7"/><stop offset="0.05" stop-color="#0000bd"/><stop offset="0.1" stop-color="#0000c6"/><stop offset="0.15" stop-color="#0000d2"/><stop offset="0.2" stop-color="#00d"/><stop offset="0.25" stop-color="#0000e5"/><stop offset="0.3" stop-color="#0000df"/><stop offset="0.35" stop-color="#0000ca"/><stop offset="0.4" stop-color="#0000bc"/><stop offset="0.45" stop-color="#00c"/><stop offset="0.5" stop-color="#0000e3"/><stop offset="0.55" stop-color="#0000ea"/><stop offset="0.6" stop-color="#0000ea"/><stop offset="0.65" stop-color="#0000ed"/><stop offset="0.7" stop-color="#0000f5"/><stop offset="0.75" stop-color="#0000fc"/><stop offset="0.772" stop-color="#00f"/><stop offset="0.8" stop-color="#0004ff"/><stop offset="0.85" stop-color="#000aff"/><stop offset="0.9" stop-color="#0010ff"/><stop offset="0.95" stop-color="#0016ff"/><stop offset="1" stop-color="#001bff"/></linearGradient><linearGradient id="a123"><stop offset="0" stop-color="#0000b4"/><stop offset="0.05" stop-color="#0000bc"/><stop offset="0.1" stop-color="#0000c7"/><stop offset="0.15" stop-color="#0000d1"/><stop offset="0.2" stop-color="#0000dc"/><stop offset="0.25" stop-color="#0000e3"/><stop offset="0.3" stop-color="#00d"/><stop offset="0.35" stop-color="#0000c5"/><stop offset="0.4" stop-color="#0000b6"/><stop offset="0.45" stop-color="#0000c5"/><stop offset="0.5" stop-color="#0000de"/><stop offset="0.55" stop-color="#0000e7"/><stop offset="0.6" stop-color="#0000e7"/><stop offset="0.65" stop-color="#0000eb"/><stop offset="0.7" stop-color="#0000f1"/><stop offset="0.75" stop-color="#0000f7"/><stop offset="0.8" stop-color="#0000fd"/><stop offset="0.819" stop-color="#00f"/><stop offset="0.85" stop-color="#0003ff"/><stop offset="0.9" stop-color="#0009ff"/><stop offset="0.95" stop-color="#000eff"/><stop offset="1" stop-color="#0013ff"/></linearGradient><clipPath id="ac"><rect x="395.5" y="79.5" width="742.8" height="744"/></clipPath><filter id="af" filterUnits="userSpaceOnUse" x="395.5" y="65.5" width="742.8" height="772"><feGaussianBlur stdDeviation="0 3"/></filter></defs>
<g clip-path="url(#ac)"><g filter="url(#af)"><rect x="395.5" y="65.2" width="742.8" height="20.6" fill="url(#a0)"/><rect x="395.5" y="85.2" width="742.8" height="6.6" fill="url(#a1)"/><rect x="395.5" y="91.2" width="742.8" height="6.6" fill="url(#a2)"/><rect x="395.5" y="97.2" width="742.8" height="6.6" fill="url(#a3)"/><rect x="395.5" y="103.2" width="742.8" height="6.6" fill="url(#a4)"/><rect x="395.5" y="109.2" width="742.8" height="6.6" fill="url(#a5)"/><rect x="395.5" y="115.2" width="742.8" height="6.6" fill="url(#a6)"/><rect x="395.5" y="121.2" width="742.8" height="6.6" fill="url(#a7)"/><rect x="395.5" y="127.2" width="742.8" height="6.6" fill="url(#a8)"/><rect x="395.5" y="133.2" width="742.8" height="6.6" fill="url(#a9)"/><rect x="395.5" y="139.2" width="742.8" height="6.6" fill="url(#a10)"/><rect x="395.5" y="145.2" width="742.8" height="6.6" fill="url(#a11)"/><rect x="395.5" y="151.2" width="742.8" height="6.6" fill="url(#a12)"/><rect x="395.5" y="157.2" width="742.8" height="6.6" fill="url(#a13)"/><rect x="395.5" y="163.2" width="742.8" height="6.6" fill="url(#a14)"/><rect x="395.5" y="169.2" width="742.8" height="6.6" fill="url(#a15)"/><rect x="395.5" y="175.2" width="742.8" height="6.6" fill="url(#a16)"/><rect x="395.5" y="181.2" width="742.8" height="6.6" fill="url(#a17)"/><rect x="395.5" y="187.2" width="742.8" height="6.6" fill="url(#a18)"/><rect x="395.5" y="193.2" width="742.8" height="6.6" fill="url(#a19)"/><rect x="395.5" y="199.2" width="742.8" height="6.6" fill="url(#a20)"/><rect x="395.5" y="205.2" width="742.8" height="6.6" fill="url(#a21)"/><rect x="395.5" y="211.2" width="742.8" height="6.6" fill="url(#a22)"/><rect x="395.5" y="217.2" width="742.8" height="6.6" fill="url(#a23)"/><rect x="395.5" y="223.2" width="742.8" height="6.6" fill="url(#a24)"/><rect x="395.5" y="229.2" width="742.8" height="6.6" fill="url(#a25)"/><rect x="395.5" y="235.2" width="742.8" height="6.6" fill="url(#a26)"/><rect x="395.5" y="241.2" width="742.8" height="6.6" fill="url(#a27)"/><rect x="395.5" y="247.2" width="742.8" height="6.6" fill="url(#a28)"/><rect x="395.5" y="253.2" width="742.8" height="6.6" fill="url(#a29)"/><rect x="395.5" y="259.2" width="742.8" height="6.6" fill="url(#a30)"/><rect x="395.5" y="265.2" width="742.8" height="6.6" fill="url(#a31)"/><rect x="395.5" y="271.2" width="742.8" height="6.6" fill="url(#a32)"/><rect x="395.5" y="277.2" width="742.8" height="6.6" fill="url(#a33)"/><rect x="395.5" y="283.2" width="742.8" height="6.6" fill="url(#a34)"/><rect x="395.5" y="289.2" width="742.8" height="6.6" fill="url(#a35)"/><rect x="395.5" y="295.2" width="742.8" height="6.6" fill="url(#a36)"/><rect x="395.5" y="301.2" width="742.8" height="6.6" fill="url(#a37)"/><rect x="395.5" y="307.2" width="742.8" height="6.6" fill="url(#a38)"/><rect x="395.5" y="313.2" width="742.8" height="6.6" fill="url(#a39)"/><rect x="395.5" y="319.2" width="742.8" height="6.6" fill="url(#a40)"/><rect x="395.5" y="325.2" width="742.8" height="6.6" fill="url(#a41)"/><rect x="395.5" y="331.2" width="742.8" height="6.6" fill="url(#a42)"/><rect x="395.5" y="337.2" width="742.8" height="6.6" fill="url(#a43)"/><rect x="395.5" y="343.2" width="742.8" height="6.6" fill="url(#a44)"/><rect x="395.5" y="349.2" width="742.8" height="6.6" fill="url(#a45)"/><rect x="395.5" y="355.2" width="742.8" height="6.6" fill="url(#a46)"/><rect x="395.5" y="361.2" width="742.8" height="6.6" fill="url(#a47)"/><rect x="395.5" y="367.2" width="742.8" height="6.6" fill="url(#a48)"/><rect x="395.5" y="373.2" width="742.8" height="6.6" fill="url(#a49)"/><rect x="395.5" y="379.2" width="742.8" height="6.6" fill="url(#a50)"/><rect x="395.5" y="385.2" width="742.8" height="6.6" fill="url(#a51)"/><rect x="395.5" y="391.2" width="742.8" height="6.6" fill="url(#a52)"/><rect x="395.5" y="397.2" width="742.8" height="6.6" fill="url(#a53)"/><rect x="395.5" y="403.2" width="742.8" height="6.6" fill="url(#a54)"/><rect x="395.5" y="409.2" width="742.8" height="6.6" fill="url(#a55)"/><rect x="395.5" y="415.2" width="742.8" height="6.6" fill="url(#a56)"/><rect x="395.5" y="421.2" width="742.8" height="6.6" fill="url(#a57)"/><rect x="395.5" y="427.2" width="742.8" height="6.6" fill="url(#a58)"/><rect x="395.5" y="433.2" width="742.8" height="6.6" fill="url(#a59)"/><rect x="395.5" y="439.2" width="742.8" height="6.6" fill="url(#a60)"/><rect x="395.5" y="445.2" width="742.8" height="6.6" fill="url(#a61)"/><rect x="395.5" y="451.2" width="742.8" height="6.6" fill="url(#a62)"/><rect x="395.5" y="457.2" width="742.8" height="6.6" fill="url(#a63)"/><rect x="395.5" y="463.2" width="742.8" height="6.6" fill="url(#a64)"/><rect x="395.5" y="469.2" width="742.8" height="6.6" fill="url(#a65)"/><rect x="395.5" y="475.2" width="742.8" height="6.6" fill="url(#a66)"/><rect x="395.5" y="481.2" width="742.8" height="6.6" fill="url(#a67)"/><rect x="395.5" y="487.2" width="742.8" height="6.6" fill="url(#a68)"/><rect x="395.5" y="493.2" width="742.8" height="6.6" fill="url(#a69)"/><rect x="395.5" y="499.2" width="742.8" height="6.6" fill="url(#a70)"/><rect x="395.5" y="505.2" width="742.8" height="6.6" fill="url(#a71)"/><rect x="395.5" y="511.2" width="742.8" height="6.6" fill="url(#a72)"/><rect x="395.5" y="517.2" width="742.8" height="6.6" fill="url(#a73)"/><rect x="395.5" y="523.2" width="742.8" height="6.6" fill="url(#a74)"/><rect x="395.5" y="529.2" width="742.8" height="6.6" fill="url(#a75)"/><rect x="395.5" y="535.2" width="742.8" height="6.6" fill="url(#a76)"/><rect x="395.5" y="541.2" width="742.8" height="6.6" fill="url(#a77)"/><rect x="395.5" y="547.2" width="742.8" height="6.6" fill="url(#a78)"/><rect x="395.5" y="553.2" width="742.8" height="6.6" fill="url(#a79)"/><rect x="395.5" y="559.2" width="742.8" height="6.6" fill="url(#a80)"/><rect x="395.5" y="565.2" width="742.8" height="6.6" fill="url(#a81)"/><rect x="395.5" y="571.2" width="742.8" height="6.6" fill="url(#a82)"/><rect x="395.5" y="577.2" width="742.8" height="6.6" fill="url(#a83)"/><rect x="395.5" y="583.2" width="742.8" height="6.6" fill="url(#a84)"/><rect x="395.5" y="589.2" width="742.8" height="6.6" fill="url(#a85)"/><rect x="395.5" y="595.2" width="742.8" height="6.6" fill="url(#a86)"/><rect x="395.5" y="601.2" width="742.8" height="6.6" fill="url(#a87)"/><rect x="395.5" y="607.2" width="742.8" height="6.6" fill="url(#a88)"/><rect x="395.5" y="613.2" width="742.8" height="6.6" fill="url(#a89)"/><rect x="395.5" y="619.2" width="742.8" height="6.6" fill="url(#a90)"/><rect x="395.5" y="625.2" width="742.8" height="6.6" fill="url(#a91)"/><rect x="395.5" y="631.2" width="742.8" height="6.6" fill="url(#a92)"/><rect x="395.5" y="637.2" width="742.8" height="6.6" fill="url(#a93)"/><rect x="395.5" y="643.2" width="742.8" height="6.6" fill="url(#a94)"/><rect x="395.5" y="649.2" width="742.8" height="6.6" fill="url(#a95)"/><rect x="395.5" y="655.2" width="742.8" height="6.6" fill="url(#a96)"/><rect x="395.5" y="661.2" width="742.8" height="6.6" fill="url(#a97)"/><rect x="395.5" y="667.2" width="742.8" height="6.6" fill="url(#a98)"/><rect x="395.5" y="673.2" width="742.8" height="6.6" fill="url(#a99)"/><rect x="395.5" y="679.2" width="742.8" height="6.6" fill="url(#a100)"/><rect x="395.5" y="685.2" width="742.8" height="6.6" fill="url(#a101)"/><rect x="395.5" y="691.2" width="742.8" height="6.6" fill="url(#a102)"/><rect x="395.5" y="697.2" width="742.8" height="6.6" fill="url(#a103)"/><rect x="395.5" y="703.2" width="742.8" height="6.6" fill="url(#a104)"/><rect x="395.5" y="709.2" width="742.8" height="6.6" fill="url(#a105)"/><rect x="395.5" y="715.2" width="742.8" height="6.6" fill="url(#a106)"/><rect x="395.5" y="721.2" width="742.8" height="6.6" fill="url(#a107)"/><rect x="395.5" y="727.2" width="742.8" height="6.6" fill="url(#a108)"/><rect x="395.5" y="733.2" width="742.8" height="6.6" fill="url(#a109)"/><rect x="395.5" y="739.2" width="742.8" height="6.6" fill="url(#a110)"/><rect x="395.5" y="745.2" width="742.8" height="6.6" fill="url(#a111)"/><rect x="395.5" y="751.2" width="742.8" height="6.6" fill="url(#a112)"/><rect x="395.5" y="757.2" width="742.8" height="6.6" fill="url(#a113)"/><rect x="395.5" y="763.2" width="742.8" height="6.6" fill="url(#a114)"/><rect x="395.5" y="769.2" width="742.8" height="6.6" fill="url(#a115)"/><rect x="395.5" y="775.2" width="742.8" height="6.6" fill="url(#a116)"/><rect x="395.5" y="781.2" width="742.8" height="6.6" fill="url(#a117)"/><rect x="395.5" y="787.2" width="742.8" height="6.6" fill="url(#a118)"/><rect x="395.5" y="793.2" width="742.8" height="6.6" fill="url(#a119)"/><rect x="395.5" y="799.2" width="742.8" height="6.6" fill="url(#a120)"/><rect x="395.5" y="805.2" width="742.8" height="6.6" fill="url(#a121)"/><rect x="395.5" y="811.2" width="742.8" height="6.6" fill="url(#a122)"/><rect x="395.5" y="817.2" width="742.8" height="20.6" fill="url(#a123)"/></g></g>
<rect x="395.5" y="79.5" width="742.8" height="744" fill="none" stroke="#000" stroke-width="3"/>
<text transform="translate(355.5 96.5) scale(1.09 1)" text-anchor="end" style="font-size:52.5px">0</text>
<text transform="translate(355.5 245.3) scale(1.09 1)" text-anchor="end" style="font-size:52.5px">0.5</text>
<text transform="translate(355.5 394.1) scale(1.09 1)" text-anchor="end" style="font-size:52.5px">1.0</text>
<text transform="translate(355.5 542.9) scale(1.09 1)" text-anchor="end" style="font-size:52.5px">1.5</text>
<text transform="translate(355.5 691.7) scale(1.09 1)" text-anchor="end" style="font-size:52.5px">2.0</text>
<text transform="translate(355.5 840.5) scale(1.09 1)" text-anchor="end" style="font-size:52.5px">2.5</text>
<text transform="translate(395 898) scale(1.09 1)" text-anchor="middle" style="font-size:52.5px">0</text>
<text transform="translate(692.1 898) scale(1.09 1)" text-anchor="middle" style="font-size:52.5px">1</text>
<text transform="translate(989.2 898) scale(1.09 1)" text-anchor="middle" style="font-size:52.5px">2</text>
<rect x="1176.7" y="79.5" width="38.1" height="744" fill="url(#jetv)"/>
<rect x="1176.7" y="79.5" width="38.1" height="744" fill="none" stroke="#000" stroke-width="3"/>
<text transform="translate(1233.5 203.8) scale(1.09 1)" style="font-size:52.5px"><tspan font-size="44" dy="-5.5">−</tspan><tspan dy="5.5">1.55</tspan></text>
<text transform="translate(1233.5 343.6) scale(1.09 1)" style="font-size:52.5px"><tspan font-size="44" dy="-5.5">−</tspan><tspan dy="5.5">1.60</tspan></text>
<text transform="translate(1233.5 483.4) scale(1.09 1)" style="font-size:52.5px"><tspan font-size="44" dy="-5.5">−</tspan><tspan dy="5.5">1.65</tspan></text>
<text transform="translate(1233.5 623.2) scale(1.09 1)" style="font-size:52.5px"><tspan font-size="44" dy="-5.5">−</tspan><tspan dy="5.5">1.70</tspan></text>
<text transform="translate(1233.5 763) scale(1.09 1)" style="font-size:52.5px"><tspan font-size="44" dy="-5.5">−</tspan><tspan dy="5.5">1.75</tspan></text>
<path d="M395.5 228.3h15M395.5 377.1h15M395.5 525.9h15M395.5 674.7h15M692.6 823.5v-15M989.7 823.5v-15M1216.3 183.1h-11M1216.3 322.9h-11M1216.3 462.7h-11M1216.3 602.5h-11M1216.3 742.3h-11" stroke="#000" stroke-width="3" fill="none"/>
<text transform="translate(1198.7 48.5) scale(1.05 1)" text-anchor="middle">(m)</text>
<text transform="translate(769.5 974) scale(1.12 1)" text-anchor="middle"><tspan font-style="italic">X</tspan> (m)</text>
<text transform="translate(242 448.5) rotate(-90) scale(1.10 1)" text-anchor="middle"><tspan font-style="italic">Y</tspan> (m)</text>
<text transform="translate(586.3 1061) scale(1.1 1)">(a)</text>
<text x="674.8" y="1062.5" class="cj">选区</text>
<text transform="translate(787.3 1061) scale(1.12 1)" font-style="italic">α</text>
<text x="822.5" y="1062.5" class="cj">高程值</text>
<text transform="translate(787.6 1129) scale(1.052 1)" text-anchor="middle" word-spacing="3.8">(a) Elevation values of selected region <tspan font-style="italic">α</tspan></text>
<polygon points="1742.3,87.9 1746.7,91.6 1751.2,95.7 1755.6,100 1760,104.6 1764.4,109.4 1768.9,114.4 1773.3,119.7 1777.7,125.1 1782.1,130.8 1786.6,137 1791,143.6 1795.4,150.5 1799.8,157.6 1804.3,164.8 1808.7,172.2 1813.1,179.6 1817.5,186.9 1822,194.3 1826.4,202 1830.8,209.7 1835.2,217.6 1839.7,225.5 1844.1,233.4 1848.5,241.2 1852.9,249 1857.4,256.6 1861.8,264.3 1866.2,271.9 1870.6,279.6 1875.1,287.1 1879.5,294.6 1883.9,302 1888.3,309.1 1892.8,316.1 1897.2,322.8 1901.6,329.4 1906,335.8 1910.5,342.1 1914.9,348.4 1919.3,354.7 1923.7,361 1928.2,367.3 1932.6,373.6 1937,379.9 1941.4,386.1 1945.9,392.2 1950.3,398.2 1954.7,404.1 1959.1,409.9 1963.6,415.6 1968,421.1 1972.4,426.6 1976.8,431.8 1981.3,437.1 1985.7,442.4 1990.1,447.7 1994.5,453 1999,458.4 2003.4,463.7 2007.8,468.9 2012.2,474.1 2016.7,479.4 2021.1,484.9 2025.5,491 2029.9,497.2 2034.4,501.7 2038.8,505 2043.2,507.1 2047.6,508.8 2052.1,510.2 2056.5,511.4 2060.9,512.6 2065.3,513.7 2069.8,514.6 2074.2,515.3 2078.6,515.6 2083,515.9 2087.5,516.2 2091.9,516.3 2096.3,516.3 2100.7,516 2105.2,515.5 2109.6,514.9 2114,514.3 2118.4,513.3 2122.9,512.2 2127.3,510.9 2131.7,509.6 2136.2,508.2 2140.6,506.7 2145,505.1 2149.4,503.3 2153.9,501.4 2158.3,499.4 2162.7,497.3 2167.1,495.3 2171.6,493.3 2176,491.3 2180.4,489.3 2184.8,487.3 2189.3,485.4 2193.7,483.4 2198.1,481.4 2202.5,479.4 2207,477.4 2211.4,475.4 2215.8,473.4 2220.2,471.4 2224.7,469.5 2229.1,467.5 2233.5,465.6 2237.9,463.5 2242.4,461.2 2246.8,458.8 2251.2,456.3 2255.6,453.6 2260.1,450.9 2264.5,448.1 2268.9,445.3 2273.3,442.4 2277.8,439.7 2282.2,436.9 2286.6,434.3 2291,431.8 2295.5,429.4 2299.9,427 2304.3,424.6 2308.7,422.2 2313.2,420 2317.6,417.8 2322,415.7 2326.4,413.8 2330.9,412 2335.3,410.3 2339.7,408.7 2344.1,407.1 2348.6,405.6 2353,404.2 2357.4,402.9 2361.8,401.7 2366.3,400.7 2370.7,399.7 2375.1,398.8 2379.5,397.9 2384,397 2388.4,396.3 2392.8,395.6 2397.2,395 2401.7,394.6 2406.1,394.1 2410.5,393.7 2414.9,393.5 2419.4,393.3 2423.8,393.4 2428.2,393.7 2432.6,394.1 2437.1,394.5 2441.5,395 2445.9,395.7 2450.3,396.6 2454.8,397.6 2459.2,398.7 2463.6,399.9 2468,401.1 2472.5,402.3 2476.9,403.5 2481.3,404.7 2485.7,406 2490.2,407.3 2494.6,408.7 2499,410.1 2503.5,411.5 2507.9,412.9 2512.3,414.2 2516.7,415.6 2521.2,416.9 2525.6,418.3 2530,419.6 2534.4,421 2538.9,422.3 2543.3,423.6 2547.7,424.8 2552.1,426 2556.6,427.1 2561,428.2 2565.4,429.4 2569.8,430.4 2574.3,431.5 2578.7,432.6 2583.1,433.6 2587.5,434.6 2592,435.6 2596.4,436.6 2600.8,437.6 2605.2,438.5 2609.7,439.5 2614.1,440.5 2618.5,441.6 2622.9,442.7 2627.4,443.9 2631.8,445.2 2636.2,446.5 2640.6,447.7 2645.1,448.9 2649.5,450 2653.9,451.1 2658.3,452.2 2662.8,453.3 2667.2,454.2 2671.6,455.2 2676,456 2680.5,456.8 2684.9,457.6 2689.3,458.3 2693.7,459 2698.2,459.7 2702.6,460.3 2707,461 2711.4,461.6 2715.9,462.2 2720.3,462.7 2724.7,463.2 2729.1,463.5 2733.6,463.8 2738,464.1 2742.4,464.4 2746.8,464.7 2751.3,464.9 2755.7,465.1 2760.1,465.2 2764.5,465.3 2769,465.5 2773.4,465.6 2777.8,465.7 2782.2,465.8 2786.7,465.8 2791.1,465.9 2795.5,465.9 2799.9,466 2799.9,469 2795.5,469 2791.1,469 2786.7,469 2782.2,469 2777.8,469 2773.4,469 2769,469 2764.5,469 2760.1,469 2755.7,469 2751.3,469 2746.8,469 2742.4,469 2738,469 2733.6,469 2729.1,469 2724.7,469 2720.3,469 2715.9,469 2711.4,469 2707,469 2702.6,469 2698.2,469 2693.7,469 2689.3,469 2684.9,469 2680.5,469 2676,469 2671.6,469 2667.2,469 2662.8,469 2658.3,469 2653.9,469 2649.5,469 2645.1,469 2640.6,469 2636.2,469 2631.8,469 2627.4,469 2622.9,469.1 2618.5,469.1 2614.1,469.2 2609.7,469.2 2605.2,469.3 2600.8,469.4 2596.4,469.4 2592,469.5 2587.5,469.6 2583.1,469.7 2578.7,469.8 2574.3,469.8 2569.8,469.9 2565.4,470 2561,470.1 2556.6,470.1 2552.1,470.2 2547.7,470.3 2543.3,470.5 2538.9,470.6 2534.4,470.7 2530,470.9 2525.6,471 2521.2,471.2 2516.7,471.5 2512.3,471.7 2507.9,472.1 2503.5,472.4 2499,472.9 2494.6,473.4 2490.2,473.9 2485.7,474.8 2481.3,475.9 2476.9,477.3 2472.5,478.8 2468,480.7 2463.6,483 2459.2,485.6 2454.8,488.4 2450.3,491.3 2445.9,494.2 2441.5,497 2437.1,499.5 2432.6,502 2428.2,504.5 2423.8,506.9 2419.4,509.3 2414.9,511.7 2410.5,514.1 2406.1,516.6 2401.7,519 2397.2,521.4 2392.8,523.9 2388.4,526.5 2384,529 2379.5,531.5 2375.1,533.9 2370.7,536.3 2366.3,538.5 2361.8,540.7 2357.4,542.9 2353,545 2348.6,547 2344.1,549 2339.7,551 2335.3,552.8 2330.9,554.6 2326.4,556.4 2322,558 2317.6,559.6 2313.2,561.1 2308.7,562.6 2304.3,564.1 2299.9,565.6 2295.5,567.1 2291,568.7 2286.6,570.4 2282.2,572.2 2277.8,574 2273.3,575.8 2268.9,577.7 2264.5,579.5 2260.1,581.3 2255.6,583 2251.2,584.6 2246.8,586.1 2242.4,587.4 2237.9,588.5 2233.5,589.5 2229.1,590.4 2224.7,591.2 2220.2,591.9 2215.8,592.7 2211.4,593.4 2207,593.9 2202.5,594.1 2198.1,594.1 2193.7,594.1 2189.3,594.1 2184.8,594.1 2180.4,593.9 2176,593.3 2171.6,592.6 2167.1,591.8 2162.7,591 2158.3,589.9 2153.9,588.8 2149.4,587.5 2145,586 2140.6,584.3 2136.2,582.4 2131.7,580.5 2127.3,578.5 2122.9,576.3 2118.4,574.1 2114,571.8 2109.6,569.3 2105.2,566.7 2100.7,564 2096.3,561.3 2091.9,558.5 2087.5,555.6 2083,552.7 2078.6,549.8 2074.2,547.2 2069.8,544.9 2065.3,542.7 2060.9,540.6 2056.5,538.3 2052.1,536 2047.6,533.6 2043.2,531.1 2038.8,528.5 2034.4,525.8 2029.9,523 2025.5,520.1 2021.1,517 2016.7,513.9 2012.2,510.7 2007.8,507.4 2003.4,503.9 1999,500.3 1994.5,496.6 1990.1,492.8 1985.7,488.8 1981.3,484.8 1976.8,480.6 1972.4,476.4 1968,472.1 1963.6,467.7 1959.1,463 1954.7,458.1 1950.3,452.9 1945.9,447.6 1941.4,442 1937,436.4 1932.6,430.7 1928.2,424.7 1923.7,418.7 1919.3,412.4 1914.9,406 1910.5,399.5 1906,393.1 1901.6,386.6 1897.2,380.1 1892.8,373.4 1888.3,366.4 1883.9,359.1 1879.5,351.6 1875.1,343.9 1870.6,336.3 1866.2,328.7 1861.8,321.1 1857.4,313.5 1852.9,305.7 1848.5,297.9 1844.1,290 1839.7,282 1835.2,274 1830.8,265.9 1826.4,257.8 1822,249.6 1817.5,241.4 1813.1,233.1 1808.7,224.6 1804.3,216 1799.8,207.4 1795.4,198.5 1791,189.4 1786.6,179.8 1782.1,170 1777.7,160 1773.3,150.3 1768.9,140.7 1764.4,131.1 1760,121.8 1755.6,112.9 1751.2,104.3 1746.7,96 1742.3,87.9" fill="#cbcbcb"/>
<path d="M1742.3 87.9L1742.7 88.2L1746.9 92L1751.1 95.7L1755.3 99.4L1759.6 103.1L1763.8 106.7L1768 110.3L1768.9 111M1798.7 135.2L1798.7 135.2L1804 139.4L1809.3 143.4L1814.6 147.4L1819.9 151.4L1825.2 155.3L1830.5 159.2L1831.3 159.8M1862.4 181.6L1862.6 181.7L1868.2 185.5L1873.8 189.2L1879.5 192.9L1885.1 196.5L1890.8 200.1L1896.3 203.5M1928.5 222.8L1928.5 222.8L1934.2 226.1L1939.8 229.2L1945.4 232.4L1951.1 235.5L1956.7 238.6L1962.4 241.6L1963.4 242.1M1996.6 259.1L1996.6 259.1L2002.6 262L2008.6 264.9L2014.6 267.7L2020.6 270.5L2026.5 273.3L2032.4 275.9M2066.3 290.6L2066.4 290.6L2072.4 293.1L2078.4 295.5L2084.4 297.9L2090.4 300.3L2096.4 302.7L2102.4 305L2102.8 305.1M2137.2 317.7L2137.3 317.7L2143.3 319.8L2149.3 321.9L2155.3 323.9L2161.3 325.9L2167.3 327.9L2173.3 329.9L2174.3 330.2M2209.2 341L2209.2 341L2215.2 342.7L2221.2 344.5L2227.2 346.2L2233.2 347.9L2239.2 349.6L2245.2 351.2L2246.7 351.6M2281.8 360.7L2281.9 360.8L2287.9 362.2L2293.9 363.7L2299.9 365.1L2305.9 366.6L2311.9 368L2317.9 369.4L2319.6 369.8M2355 377.5L2355.2 377.5L2361.6 378.9L2367.9 380.2L2374.3 381.5L2380.6 382.7L2387 384L2393 385.1M2428.6 391.7L2428.6 391.7L2434.9 392.8L2441.3 393.9L2447.6 394.9L2454 396L2460.3 397L2466.7 398.1L2466.7 398.1M2502.4 403.6L2502.6 403.6L2509 404.6L2515.3 405.5L2521.7 406.4L2528 407.3L2534.4 408.1L2540.6 409M2576.4 413.6L2576.7 413.7L2583.1 414.4L2589.4 415.2L2595.8 416L2602.1 416.7L2608.4 417.4L2614.7 418.2M2650.6 422.1L2650.8 422.1L2657.1 422.7L2663.5 423.4L2669.8 424L2676.2 424.6L2682.5 425.3L2688.9 425.9L2689 425.9M2724.9 429.1L2725.2 429.2L2731.5 429.7L2737.9 430.3L2744.2 430.8L2750.6 431.3L2756.9 431.8L2763.3 432.3L2763.3 432.4M2799.2 435.1L2799.2 435.1L2799.6 435.1L2799.9 435.1" fill="none" stroke="#0000ff" stroke-width="10.5"/>
<path d="M1742.3 87.9L1742.7 87.9L1748.6 88L1754.6 88.2L1760.6 88.6L1766.6 89.1L1772.6 89.8L1778.6 90.7L1779 90.7M1813.4 98.4L1813.5 98.5L1819.5 100.3L1825.5 102.2L1831.5 104.3L1837.5 106.6L1843.5 108.9L1849.5 111.4L1850.3 111.7M1882.9 127.4L1883 127.5L1888.7 130.5L1894.3 133.6L1899.9 136.9L1905.6 140.2L1911.2 143.6L1916.9 147L1917.7 147.6M1948.6 167.8L1948.6 167.8L1953.9 171.5L1959.2 175.2L1964.5 178.9L1969.8 182.7L1975.1 186.5L1980.3 190.4L1981.9 191.5M2011.7 213.8L2011.7 213.8L2017 217.9L2022.3 221.9L2027.6 225.9L2032.9 230L2038.2 234L2043.5 238.1L2044.4 238.8M2074.1 261.5L2074.2 261.5L2079.4 265.5L2084.7 269.5L2090 273.4L2095.3 277.4L2100.6 281.3L2105.9 285.2L2107 286M2137.2 307.6L2137.3 307.7L2142.9 311.6L2148.6 315.5L2154.2 319.3L2159.9 323.1L2165.5 326.8L2171 330.4M2202.2 349.8L2202.2 349.8L2207.8 353.2L2213.5 356.4L2219.1 359.7L2224.7 362.8L2230.4 365.9L2236 369L2237.1 369.5M2269.5 385.8L2269.5 385.8L2275.5 388.6L2281.5 391.3L2287.5 394L2293.5 396.6L2299.5 399.1L2305.5 401.6L2305.8 401.7M2339.2 414.2L2339.4 414.2L2345.4 416.3L2351.4 418.3L2357.3 420.2L2363.3 422L2369.3 423.8L2375.3 425.6L2376.5 425.9M2410.8 434.7L2411 434.8L2417.3 436.2L2423.7 437.6L2430 439L2436.3 440.2L2442.7 441.5L2448.7 442.6M2483.4 448.3L2483.6 448.3L2490 449.3L2496.3 450.1L2502.6 450.9L2509 451.7L2515.3 452.5L2521.7 453.2L2521.7 453.2M2556.6 456.6L2556.6 456.6L2563 457.1L2569.3 457.6L2575.6 458.1L2582 458.6L2588.3 459L2594.7 459.4L2595 459.4M2630 461.3L2630.3 461.3L2636.7 461.6L2643 461.9L2649.4 462.1L2655.7 462.4L2662.1 462.6L2668.4 462.8L2668.5 462.8M2703.5 463.8L2703.7 463.8L2710 463.9L2716.4 464.1L2722.7 464.2L2729.1 464.3L2735.4 464.4L2741.8 464.5L2742 464.5M2777 465L2777 465L2780.5 465L2784.1 465.1L2787.6 465.1L2791.1 465.1L2794.7 465.2L2798.2 465.2L2799.9 465.2" fill="none" stroke="#00ff00" stroke-width="10.5"/>
<polyline points="1742.3,87.9 1745.8,90.8 1749.4,93.9 1752.9,97.2 1756.4,100.7 1760,104.5 1763.5,108.5 1767.1,112.8 1770.6,117.2 1774.1,121.9 1777.7,126.8 1781.2,131.8 1784.7,137 1788.3,142.3 1791.8,147.8 1795.4,153.4 1798.9,159.2 1802.4,165.2 1806,171.5 1809.5,177.9 1813,184.3 1816.6,190.8 1820.1,197.4 1823.7,204.1 1827.2,210.8 1830.7,217.5 1834.3,224.1 1837.8,230.8 1841.3,237.5 1844.9,244.1 1848.4,250.8 1852,257.4 1855.5,264 1859,270.5 1862.6,277 1866.1,283.5 1869.6,290 1873.2,296.4 1876.7,302.8 1880.3,309.1 1883.8,315.4 1887.3,321.6 1890.9,327.8 1894.4,333.9 1897.9,340 1901.5,346 1905,352 1908.6,357.9 1912.1,363.7 1915.6,369.4 1919.2,374.9 1922.7,380.4 1926.2,385.8 1929.8,391.1 1933.3,396.3 1936.9,401.5 1940.4,406.7 1943.9,411.7 1947.5,416.7 1951,421.6 1954.5,426.4 1958.1,431 1961.6,435.6 1965.1,440 1968.7,444.4 1972.2,448.6 1975.8,452.9 1979.3,457.1 1982.8,461.1 1986.4,465.1 1989.9,469 1993.4,472.8 1997,476.4 2000.5,480 2004.1,483.4 2007.6,486.8 2011.1,490 2014.7,493.1 2018.2,496.1 2021.7,498.9 2025.3,501.6 2028.8,504.2 2032.4,506.6 2035.9,508.9 2039.4,511.1 2043,513.2 2046.5,515.1 2050,516.9 2053.6,518.6 2057.1,520.2 2060.7,521.6 2064.2,522.9 2067.7,524.1 2071.3,525.2 2074.8,526.2 2078.3,527.1 2081.9,527.9 2085.4,528.5 2089,529.1 2092.5,529.5 2096,529.9 2099.6,530.2 2103.1,530.4 2106.6,530.4 2110.2,530.4 2113.7,530.4 2117.3,530.2 2120.8,529.9 2124.3,529.6 2127.9,529.2 2131.4,528.7 2134.9,528.1 2138.5,527.5 2142,526.9 2145.5,526.1 2149.1,525.3 2152.6,524.5 2156.2,523.6 2159.7,522.6 2163.2,521.6 2166.8,520.5 2170.3,519.4 2173.8,518.2 2177.4,517 2180.9,515.7 2184.5,514.4 2188,513.1 2191.5,511.7 2195.1,510.3 2198.6,508.8 2202.1,507.4 2205.7,505.9 2209.2,504.5 2212.8,503 2216.3,501.5 2219.8,500 2223.4,498.5 2226.9,496.9 2230.4,495.4 2234,493.8 2237.5,492.3 2241.1,490.7 2244.6,489.1 2248.1,487.5 2251.7,485.9 2255.2,484.3 2258.7,482.8 2262.3,481.3 2265.8,479.9 2269.4,478.4 2272.9,477 2276.4,475.6 2280,474.2 2283.5,472.8 2287,471.5 2290.6,470.2 2294.1,468.9 2297.7,467.7 2301.2,466.5 2304.7,465.4 2308.3,464.3 2311.8,463.2 2315.3,462.2 2318.9,461.2 2322.4,460.2 2326,459.3 2329.5,458.4 2333,457.5 2336.6,456.7 2340.1,455.9 2343.6,455.1 2347.2,454.4 2350.7,453.7 2354.2,453 2357.8,452.4 2361.3,451.8 2364.9,451.2 2368.4,450.7 2371.9,450.1 2375.5,449.7 2379,449.2 2382.5,448.8 2386.1,448.4 2389.6,448.1 2393.2,447.7 2396.7,447.5 2400.2,447.2 2403.8,447 2407.3,446.8 2410.8,446.6 2414.4,446.5 2417.9,446.4 2421.5,446.4 2425,446.4 2428.5,446.4 2432.1,446.5 2435.6,446.6 2439.1,446.7 2442.7,446.8 2446.2,447 2449.8,447.2 2453.3,447.4 2456.8,447.6 2460.4,447.9 2463.9,448.1 2467.4,448.4 2471,448.7 2474.5,449.1 2478.1,449.4 2481.6,449.8 2485.1,450.1 2488.7,450.5 2492.2,450.9 2495.7,451.3 2499.3,451.8 2502.8,452.2 2506.4,452.7 2509.9,453.1 2513.4,453.6 2517,454.1 2520.5,454.5 2524,455 2527.6,455.5 2531.1,455.9 2534.6,456.4 2538.2,456.9 2541.7,457.4 2545.3,457.9 2548.8,458.4 2552.3,458.9 2555.9,459.4 2559.4,459.9 2562.9,460.4 2566.5,460.9 2570,461.4 2573.6,461.9 2577.1,462.4 2580.6,462.9 2584.2,463.5 2587.7,464 2591.2,464.5 2594.8,465.1 2598.3,465.6 2601.9,466.2 2605.4,466.7 2608.9,467.2 2612.5,467.8 2616,468.3 2619.5,468.8 2623.1,469.3 2626.6,469.9 2630.2,470.4 2633.7,471 2637.2,471.5 2640.8,472 2644.3,472.5 2647.8,473 2651.4,473.4 2654.9,473.9 2658.5,474.3 2662,474.7 2665.5,475 2669.1,475.4 2672.6,475.7 2676.1,475.9 2679.7,476.2 2683.2,476.4 2686.8,476.6 2690.3,476.9 2693.8,477 2697.4,477.2 2700.9,477.4 2704.4,477.6 2708,477.7 2711.5,477.8 2715.1,477.9 2718.6,478 2722.1,478.1 2725.7,478.1 2729.2,478.2 2732.7,478.3 2736.3,478.3 2739.8,478.4 2743.3,478.4 2746.9,478.4 2750.4,478.4 2754,478.4 2757.5,478.4 2761,478.4 2764.6,478.3 2768.1,478.3 2771.6,478.2 2775.2,478.2 2778.7,478.1 2782.3,478 2785.8,477.9 2789.3,477.8 2792.9,477.7 2796.4,477.6 2799.9,477.5" fill="none" stroke="#ff0000" stroke-width="13" stroke-linejoin="round"/>
<polyline points="1742.3,87.9 1745.8,88 1749.4,88.3 1752.9,88.9 1756.4,89.7 1760,90.9 1763.5,92.3 1767.1,93.9 1770.6,95.9 1774.1,98.1 1777.7,100.5 1781.2,103.2 1784.7,106.2 1788.3,109.4 1791.8,112.9 1795.4,116.5 1798.9,120.4 1802.4,124.5 1806,128.8 1809.5,133.3 1813,138 1816.6,142.9 1820.1,148.1 1823.7,153.5 1827.2,159.2 1830.7,165 1834.3,171 1837.8,177.2 1841.3,183.5 1844.9,190.1 1848.4,196.9 1852,204.1 1855.5,211.5 1859,219.1 1862.6,226.8 1866.1,234.6 1869.6,242.5 1873.2,250.5 1876.7,258.6 1880.3,266.6 1883.8,274.7 1887.3,282.8 1890.9,291 1894.4,299 1897.9,307.1 1901.5,315.2 1905,323.2 1908.6,331.1 1912.1,338.7 1915.6,346.3 1919.2,353.8 1922.7,361.2 1926.2,368.4 1929.8,375.4 1933.3,382.1 1936.9,388.7 1940.4,395.1 1943.9,401.5 1947.5,407.7 1951,413.8 1954.5,419.8 1958.1,425.6 1961.6,431.3 1965.1,436.9 1968.7,442.3 1972.2,447.6 1975.8,452.7 1979.3,457.7 1982.8,462.6 1986.4,467.3 1989.9,471.9 1993.4,476.3 1997,480.6 2000.5,484.7 2004.1,488.7 2007.6,492.5 2011.1,496.1 2014.7,499.6 2018.2,502.9 2021.7,506.2 2025.3,509.3 2028.8,512.2 2032.4,515 2035.9,517.7 2039.4,520.2 2043,522.5 2046.5,524.7 2050,526.8 2053.6,528.7 2057.1,530.5 2060.7,532.1 2064.2,533.5 2067.7,534.8 2071.3,535.9 2074.8,536.9 2078.3,537.8 2081.9,538.5 2085.4,539 2089,539.4 2092.5,539.7 2096,539.8 2099.6,539.8 2103.1,539.7 2106.6,539.4 2110.2,539 2113.7,538.4 2117.3,537.8 2120.8,537 2124.3,536.2 2127.9,535.3 2131.4,534.2 2134.9,533.1 2138.5,531.9 2142,530.6 2145.5,529.3 2149.1,527.9 2152.6,526.4 2156.2,524.9 2159.7,523.4 2163.2,521.8 2166.8,520.2 2170.3,518.6 2173.8,516.9 2177.4,515.3 2180.9,513.6 2184.5,511.9 2188,510.2 2191.5,508.5 2195.1,506.8 2198.6,505.2 2202.1,503.5 2205.7,501.8 2209.2,500.1 2212.8,498.5 2216.3,496.9 2219.8,495.3 2223.4,493.7 2226.9,492.1 2230.4,490.5 2234,488.9 2237.5,487.4 2241.1,485.9 2244.6,484.3 2248.1,482.8 2251.7,481.3 2255.2,479.9 2258.7,478.6 2262.3,477.3 2265.8,476.1 2269.4,474.9 2272.9,473.8 2276.4,472.6 2280,471.6 2283.5,470.5 2287,469.6 2290.6,468.6 2294.1,467.7 2297.7,466.9 2301.2,466.1 2304.7,465.3 2308.3,464.7 2311.8,464 2315.3,463.5 2318.9,462.9 2322.4,462.4 2326,462 2329.5,461.5 2333,461.1 2336.6,460.8 2340.1,460.5 2343.6,460.2 2347.2,459.9 2350.7,459.7 2354.2,459.5 2357.8,459.3 2361.3,459.2 2364.9,459 2368.4,458.9 2371.9,458.8 2375.5,458.8 2379,458.7 2382.5,458.7 2386.1,458.7 2389.6,458.7 2393.2,458.7 2396.7,458.8 2400.2,458.8 2403.8,458.9 2407.3,458.9 2410.8,459 2414.4,459.1 2417.9,459.2 2421.5,459.3 2425,459.5 2428.5,459.6 2432.1,459.8 2435.6,459.9 2439.1,460.1 2442.7,460.3 2446.2,460.4 2449.8,460.6 2453.3,460.8 2456.8,461 2460.4,461.2 2463.9,461.4 2467.4,461.6 2471,461.8 2474.5,462 2478.1,462.2 2481.6,462.4 2485.1,462.6 2488.7,462.9 2492.2,463.1 2495.7,463.3 2499.3,463.5 2502.8,463.7 2506.4,463.9 2509.9,464.1 2513.4,464.3 2517,464.5 2520.5,464.7 2524,464.9 2527.6,465.1 2531.1,465.2 2534.6,465.4 2538.2,465.6 2541.7,465.8 2545.3,465.9 2548.8,466.1 2552.3,466.3 2555.9,466.4 2559.4,466.6 2562.9,466.7 2566.5,466.8 2570,467 2573.6,467.1 2577.1,467.2 2580.6,467.3 2584.2,467.5 2587.7,467.6 2591.2,467.7 2594.8,467.8 2598.3,467.9 2601.9,468 2605.4,468.1 2608.9,468.2 2612.5,468.2 2616,468.3 2619.5,468.4 2623.1,468.4 2626.6,468.5 2630.2,468.6 2633.7,468.6 2637.2,468.7 2640.8,468.7 2644.3,468.7 2647.8,468.8 2651.4,468.8 2654.9,468.8 2658.5,468.9 2662,468.9 2665.5,468.9 2669.1,468.9 2672.6,469 2676.1,469 2679.7,469 2683.2,469 2686.8,469 2690.3,469 2693.8,469 2697.4,469 2700.9,469 2704.4,469 2708,469 2711.5,469.1 2715.1,469.1 2718.6,469.1 2722.1,469.1 2725.7,469 2729.2,469 2732.7,469 2736.3,469 2739.8,469 2743.3,469 2746.9,469 2750.4,469 2754,469 2757.5,469 2761,469 2764.6,469 2768.1,469 2771.6,469 2775.2,469 2778.7,469 2782.3,469 2785.8,469 2789.3,469 2792.9,469 2796.4,469 2799.9,469" fill="none" stroke="#000" stroke-width="10.5" stroke-linejoin="round"/>
<rect x="1742.3" y="87.9" width="1196.6" height="566.7" fill="none" stroke="#000" stroke-width="3"/>
<text transform="translate(1702 101.5) scale(1.09 1)" text-anchor="end" style="font-size:52.5px">1.0</text>
<text transform="translate(1702 290.5) scale(1.09 1)" text-anchor="end" style="font-size:52.5px">0.5</text>
<text transform="translate(1702 479.6) scale(1.09 1)" text-anchor="end" style="font-size:52.5px">0</text>
<text transform="translate(1702 670.2) scale(1.09 1)" text-anchor="end" style="font-size:52.5px"><tspan font-size="44" dy="-5.5">−</tspan><tspan dy="5.5">0.5</tspan></text>
<text transform="translate(1741.8 730.3) scale(1.09 1)" text-anchor="middle" style="font-size:52.5px">0</text>
<text transform="translate(2041 730.3) scale(1.09 1)" text-anchor="middle" style="font-size:52.5px">1</text>
<text transform="translate(2340.1 730.3) scale(1.09 1)" text-anchor="middle" style="font-size:52.5px">2</text>
<text transform="translate(2639.2 730.3) scale(1.09 1)" text-anchor="middle" style="font-size:52.5px">3</text>
<text transform="translate(2938.4 730.3) scale(1.09 1)" text-anchor="middle" style="font-size:52.5px">4</text>
<path d="M1742.3 276.9h12M1742.3 466h12M2041.5 654.6v-12M2340.6 654.6v-12M2639.8 654.6v-12" stroke="#000" stroke-width="3" fill="none"/>
<text transform="translate(1567 310) rotate(-90)" text-anchor="middle" class="cj">相关函数</text>
<text x="2203.5" y="813.5" class="cj">偏移量</text>
<text transform="translate(2390 811.4) scale(1.05 1)">(m)</text>
<rect x="1828" y="877.2" width="67" height="28.5" fill="#bebebe"/>
<text x="1913.5" y="911" class="cj">实际数据</text>
<path d="M2182 891.3h71" stroke="#2a3fcc" stroke-width="4" stroke-dasharray="17.5 10.2" fill="none"/>
<text x="2273" y="911" class="cj">指数模型</text>
<path d="M2555 891.3h71" stroke="#55dd33" stroke-width="4" stroke-dasharray="17.5 10.2" fill="none"/>
<text x="2640" y="911" class="cj">高斯模型</text>
<path d="M1826.6 959.4h70" stroke="#e00000" stroke-width="3.5" fill="none"/>
<text x="1913.5" y="979" class="cj">调制指数模型</text>
<path d="M2311.3 959.4h70" stroke="#000" stroke-width="3.5" fill="none"/>
<text x="2396.3" y="979" class="cj">调制高斯模型</text>
<text transform="translate(2028.5 1061) scale(1.1 1)">(b)</text>
<text x="2118.3" y="1062.5" class="cj">选区</text>
<text transform="translate(2230.3 1061) scale(1.12 1)" font-style="italic">α</text>
<text x="2264.5" y="1062.5" class="cj">相关函数曲线图</text>
<text transform="translate(2341 1128) scale(1.056 1)" text-anchor="middle" word-spacing="3.8">(b) Correlation function curve of selected region <tspan font-style="italic">α</tspan></text>
<defs><linearGradient id="c0"><stop offset="0" stop-color="#9f0000"/><stop offset="0.05" stop-color="#a30000"/><stop offset="0.1" stop-color="#b70000"/><stop offset="0.15" stop-color="#d10000"/><stop offset="0.2" stop-color="#e60000"/><stop offset="0.25" stop-color="#f20000"/><stop offset="0.289" stop-color="#f00"/><stop offset="0.3" stop-color="#ff0600"/><stop offset="0.35" stop-color="#ff2f00"/><stop offset="0.4" stop-color="#ff5900"/><stop offset="0.45" stop-color="#ff7000"/><stop offset="0.5" stop-color="#ff8c00"/><stop offset="0.55" stop-color="#ffc100"/><stop offset="0.6" stop-color="#fffa00"/><stop offset="0.605" stop-color="#ff0"/><stop offset="0.65" stop-color="#dbff24"/><stop offset="0.7" stop-color="#a3ff5c"/><stop offset="0.75" stop-color="#40ffbf"/><stop offset="0.778" stop-color="#0ff"/><stop offset="0.8" stop-color="#00ceff"/><stop offset="0.85" stop-color="#0073ff"/><stop offset="0.9" stop-color="#002dff"/><stop offset="0.937" stop-color="#00f"/><stop offset="0.95" stop-color="#0000f0"/><stop offset="1" stop-color="#0000b6"/></linearGradient><linearGradient id="c1"><stop offset="0" stop-color="#a30000"/><stop offset="0.05" stop-color="#ad0000"/><stop offset="0.1" stop-color="#bf0000"/><stop offset="0.15" stop-color="#d50000"/><stop offset="0.2" stop-color="#e60000"/><stop offset="0.25" stop-color="#f20000"/><stop offset="0.286" stop-color="#f00"/><stop offset="0.3" stop-color="#ff0800"/><stop offset="0.35" stop-color="#ff3200"/><stop offset="0.4" stop-color="#ff5d00"/><stop offset="0.45" stop-color="#ff7500"/><stop offset="0.5" stop-color="#ff8f00"/><stop offset="0.55" stop-color="#ffc200"/><stop offset="0.6" stop-color="#fffa00"/><stop offset="0.605" stop-color="#ff0"/><stop offset="0.65" stop-color="#d6ff29"/><stop offset="0.7" stop-color="#9aff65"/><stop offset="0.75" stop-color="#37ffc8"/><stop offset="0.775" stop-color="#00feff"/><stop offset="0.8" stop-color="#00c9ff"/><stop offset="0.85" stop-color="#0070ff"/><stop offset="0.9" stop-color="#002cff"/><stop offset="0.937" stop-color="#00f"/><stop offset="0.95" stop-color="#0000f0"/><stop offset="1" stop-color="#0000b8"/></linearGradient><linearGradient id="c2"><stop offset="0" stop-color="#a50000"/><stop offset="0.05" stop-color="#b40000"/><stop offset="0.1" stop-color="#c60000"/><stop offset="0.15" stop-color="#d80000"/><stop offset="0.2" stop-color="#e70000"/><stop offset="0.25" stop-color="#f20000"/><stop offset="0.282" stop-color="#f00"/><stop offset="0.3" stop-color="#ff0a00"/><stop offset="0.35" stop-color="#ff3500"/><stop offset="0.4" stop-color="#ff6000"/><stop offset="0.45" stop-color="#ff7800"/><stop offset="0.5" stop-color="#ff9200"/><stop offset="0.55" stop-color="#ffc200"/><stop offset="0.6" stop-color="#fffb00"/><stop offset="0.604" stop-color="#ff0"/><stop offset="0.65" stop-color="#d1ff2e"/><stop offset="0.7" stop-color="#91ff6e"/><stop offset="0.75" stop-color="#2fffd0"/><stop offset="0.772" stop-color="#00feff"/><stop offset="0.8" stop-color="#00c4ff"/><stop offset="0.85" stop-color="#006eff"/><stop offset="0.9" stop-color="#002bff"/><stop offset="0.937" stop-color="#00f"/><stop offset="0.95" stop-color="#0000f0"/><stop offset="1" stop-color="#0000ba"/></linearGradient><linearGradient id="c3"><stop offset="0" stop-color="#a70000"/><stop offset="0.05" stop-color="#ba0000"/><stop offset="0.1" stop-color="#cb0000"/><stop offset="0.15" stop-color="#da0000"/><stop offset="0.2" stop-color="#e70000"/><stop offset="0.25" stop-color="#f30000"/><stop offset="0.279" stop-color="#f00"/><stop offset="0.3" stop-color="#ff0d00"/><stop offset="0.35" stop-color="#ff3800"/><stop offset="0.4" stop-color="#ff6300"/><stop offset="0.45" stop-color="#ff7b00"/><stop offset="0.5" stop-color="#ff9400"/><stop offset="0.55" stop-color="#ffc200"/><stop offset="0.6" stop-color="#fffb00"/><stop offset="0.603" stop-color="#fffe00"/><stop offset="0.65" stop-color="#cdff32"/><stop offset="0.7" stop-color="#89ff76"/><stop offset="0.75" stop-color="#27ffd8"/><stop offset="0.768" stop-color="#01fffe"/><stop offset="0.8" stop-color="#00bfff"/><stop offset="0.85" stop-color="#006bff"/><stop offset="0.9" stop-color="#0029ff"/><stop offset="0.936" stop-color="#0001ff"/><stop offset="0.95" stop-color="#0000f0"/><stop offset="1" stop-color="#00b"/></linearGradient><linearGradient id="c4"><stop offset="0" stop-color="#a90000"/><stop offset="0.05" stop-color="#be0000"/><stop offset="0.1" stop-color="#cf0000"/><stop offset="0.15" stop-color="#dc0000"/><stop offset="0.2" stop-color="#e80000"/><stop offset="0.25" stop-color="#f50000"/><stop offset="0.275" stop-color="#f00"/><stop offset="0.3" stop-color="#ff0f00"/><stop offset="0.35" stop-color="#ff3b00"/><stop offset="0.4" stop-color="#ff6500"/><stop offset="0.45" stop-color="#ff7d00"/><stop offset="0.5" stop-color="#ff9500"/><stop offset="0.55" stop-color="#ffc200"/><stop offset="0.6" stop-color="#fffc00"/><stop offset="0.603" stop-color="#ff0"/><stop offset="0.65" stop-color="#c9ff36"/><stop offset="0.7" stop-color="#81ff7e"/><stop offset="0.75" stop-color="#20ffdf"/><stop offset="0.765" stop-color="#01fffe"/><stop offset="0.8" stop-color="#00baff"/><stop offset="0.85" stop-color="#0069ff"/><stop offset="0.9" stop-color="#0028ff"/><stop offset="0.936" stop-color="#00f"/><stop offset="0.95" stop-color="#0000f0"/><stop offset="1" stop-color="#0000bd"/></linearGradient><linearGradient id="c5"><stop offset="0" stop-color="#ab0000"/><stop offset="0.05" stop-color="#c10000"/><stop offset="0.1" stop-color="#d20000"/><stop offset="0.15" stop-color="#de0000"/><stop offset="0.2" stop-color="#e90000"/><stop offset="0.25" stop-color="#f60000"/><stop offset="0.271" stop-color="#f00"/><stop offset="0.3" stop-color="#f10"/><stop offset="0.35" stop-color="#ff3d00"/><stop offset="0.4" stop-color="#ff6700"/><stop offset="0.45" stop-color="#ff7e00"/><stop offset="0.5" stop-color="#ff9600"/><stop offset="0.55" stop-color="#ffc200"/><stop offset="0.6" stop-color="#fffc00"/><stop offset="0.602" stop-color="#fffe00"/><stop offset="0.65" stop-color="#c4ff3b"/><stop offset="0.7" stop-color="#79ff86"/><stop offset="0.75" stop-color="#19ffe6"/><stop offset="0.762" stop-color="#01fffe"/><stop offset="0.8" stop-color="#00b6ff"/><stop offset="0.85" stop-color="#06f"/><stop offset="0.9" stop-color="#0027ff"/><stop offset="0.936" stop-color="#00f"/><stop offset="0.95" stop-color="#0000f1"/><stop offset="1" stop-color="#0000bf"/></linearGradient><linearGradient id="c6"><stop offset="0" stop-color="#ac0000"/><stop offset="0.05" stop-color="#c30000"/><stop offset="0.1" stop-color="#d30000"/><stop offset="0.15" stop-color="#df0000"/><stop offset="0.2" stop-color="#e90000"/><stop offset="0.25" stop-color="#f80000"/><stop offset="0.267" stop-color="#f00"/><stop offset="0.3" stop-color="#ff1400"/><stop offset="0.35" stop-color="#ff3f00"/><stop offset="0.4" stop-color="#ff6800"/><stop offset="0.45" stop-color="#ff7f00"/><stop offset="0.5" stop-color="#ff9600"/><stop offset="0.55" stop-color="#ffc200"/><stop offset="0.6" stop-color="#fffd00"/><stop offset="0.602" stop-color="#ff0"/><stop offset="0.65" stop-color="#c0ff3f"/><stop offset="0.7" stop-color="#72ff8d"/><stop offset="0.75" stop-color="#12ffed"/><stop offset="0.759" stop-color="#0ff"/><stop offset="0.8" stop-color="#00b2ff"/><stop offset="0.85" stop-color="#0064ff"/><stop offset="0.9" stop-color="#0026ff"/><stop offset="0.936" stop-color="#00f"/><stop offset="0.95" stop-color="#0000f1"/><stop offset="1" stop-color="#0000c0"/></linearGradient><linearGradient id="c7"><stop offset="0" stop-color="#ad0000"/><stop offset="0.05" stop-color="#c50000"/><stop offset="0.1" stop-color="#d40000"/><stop offset="0.15" stop-color="#df0000"/><stop offset="0.2" stop-color="#ea0000"/><stop offset="0.25" stop-color="#fa0000"/><stop offset="0.262" stop-color="#f00"/><stop offset="0.3" stop-color="#ff1600"/><stop offset="0.35" stop-color="#ff4100"/><stop offset="0.4" stop-color="#ff6900"/><stop offset="0.45" stop-color="#ff8000"/><stop offset="0.5" stop-color="#ff9600"/><stop offset="0.55" stop-color="#ffc200"/><stop offset="0.6" stop-color="#fffd00"/><stop offset="0.601" stop-color="#ff0"/><stop offset="0.65" stop-color="#bcff43"/><stop offset="0.7" stop-color="#6bff94"/><stop offset="0.75" stop-color="#0cfff3"/><stop offset="0.756" stop-color="#0ff"/><stop offset="0.8" stop-color="#00aeff"/><stop offset="0.85" stop-color="#0062ff"/><stop offset="0.9" stop-color="#0026ff"/><stop offset="0.936" stop-color="#00f"/><stop offset="0.95" stop-color="#0000f1"/><stop offset="1" stop-color="#0000c2"/></linearGradient><linearGradient id="c8"><stop offset="0" stop-color="#ae0000"/><stop offset="0.05" stop-color="#c50000"/><stop offset="0.1" stop-color="#d40000"/><stop offset="0.15" stop-color="#e00000"/><stop offset="0.2" stop-color="#eb0000"/><stop offset="0.25" stop-color="#fc0000"/><stop offset="0.258" stop-color="#f00"/><stop offset="0.3" stop-color="#ff1900"/><stop offset="0.35" stop-color="#ff4300"/><stop offset="0.4" stop-color="#ff6a00"/><stop offset="0.45" stop-color="#ff8000"/><stop offset="0.5" stop-color="#ff9600"/><stop offset="0.55" stop-color="#ffc100"/><stop offset="0.6" stop-color="#fffe00"/><stop offset="0.601" stop-color="#feff01"/><stop offset="0.65" stop-color="#b8ff47"/><stop offset="0.7" stop-color="#64ff9b"/><stop offset="0.75" stop-color="#06fff9"/><stop offset="0.753" stop-color="#0ff"/><stop offset="0.8" stop-color="#0af"/><stop offset="0.85" stop-color="#0060ff"/><stop offset="0.9" stop-color="#0025ff"/><stop offset="0.936" stop-color="#00f"/><stop offset="0.95" stop-color="#0000f1"/><stop offset="1" stop-color="#0000c3"/></linearGradient><linearGradient id="c9"><stop offset="0" stop-color="#af0000"/><stop offset="0.05" stop-color="#c50000"/><stop offset="0.1" stop-color="#d40000"/><stop offset="0.15" stop-color="#e00000"/><stop offset="0.2" stop-color="#ec0000"/><stop offset="0.25" stop-color="#fe0000"/><stop offset="0.253" stop-color="#f00"/><stop offset="0.3" stop-color="#ff1c00"/><stop offset="0.35" stop-color="#ff4500"/><stop offset="0.4" stop-color="#ff6b00"/><stop offset="0.45" stop-color="#ff8000"/><stop offset="0.5" stop-color="#ff9600"/><stop offset="0.55" stop-color="#ffc100"/><stop offset="0.6" stop-color="#ff0"/><stop offset="0.65" stop-color="#b4ff4b"/><stop offset="0.7" stop-color="#5effa1"/><stop offset="0.75" stop-color="#0ff"/><stop offset="0.8" stop-color="#00a7ff"/><stop offset="0.85" stop-color="#005fff"/><stop offset="0.9" stop-color="#0025ff"/><stop offset="0.936" stop-color="#00f"/><stop offset="0.95" stop-color="#0000f2"/><stop offset="1" stop-color="#0000c5"/></linearGradient><linearGradient id="c10"><stop offset="0" stop-color="#b00000"/><stop offset="0.05" stop-color="#c40000"/><stop offset="0.1" stop-color="#d30000"/><stop offset="0.15" stop-color="#e00000"/><stop offset="0.2" stop-color="#ed0000"/><stop offset="0.247" stop-color="#f00"/><stop offset="0.25" stop-color="#ff0100"/><stop offset="0.3" stop-color="#ff1e00"/><stop offset="0.35" stop-color="#ff4700"/><stop offset="0.4" stop-color="#ff6b00"/><stop offset="0.45" stop-color="#ff8000"/><stop offset="0.5" stop-color="#ff9600"/><stop offset="0.55" stop-color="#ffc100"/><stop offset="0.599" stop-color="#ff0"/><stop offset="0.6" stop-color="#fdff02"/><stop offset="0.65" stop-color="#afff50"/><stop offset="0.7" stop-color="#58ffa7"/><stop offset="0.747" stop-color="#01fffe"/><stop offset="0.75" stop-color="#00faff"/><stop offset="0.8" stop-color="#00a4ff"/><stop offset="0.85" stop-color="#005dff"/><stop offset="0.9" stop-color="#0024ff"/><stop offset="0.936" stop-color="#00f"/><stop offset="0.95" stop-color="#0000f2"/><stop offset="1" stop-color="#0000c6"/></linearGradient><linearGradient id="c11"><stop offset="0" stop-color="#b20000"/><stop offset="0.05" stop-color="#c40000"/><stop offset="0.1" stop-color="#d20000"/><stop offset="0.15" stop-color="#df0000"/><stop offset="0.2" stop-color="#ef0000"/><stop offset="0.242" stop-color="#f00"/><stop offset="0.25" stop-color="#ff0400"/><stop offset="0.3" stop-color="#ff2100"/><stop offset="0.35" stop-color="#ff4800"/><stop offset="0.4" stop-color="#ff6b00"/><stop offset="0.45" stop-color="#ff8100"/><stop offset="0.5" stop-color="#ff9700"/><stop offset="0.55" stop-color="#ffc100"/><stop offset="0.598" stop-color="#ff0"/><stop offset="0.6" stop-color="#fcff03"/><stop offset="0.65" stop-color="#abff54"/><stop offset="0.7" stop-color="#52ffad"/><stop offset="0.744" stop-color="#01fffe"/><stop offset="0.75" stop-color="#00f5ff"/><stop offset="0.8" stop-color="#00a1ff"/><stop offset="0.85" stop-color="#005cff"/><stop offset="0.9" stop-color="#0024ff"/><stop offset="0.937" stop-color="#00f"/><stop offset="0.95" stop-color="#0000f3"/><stop offset="1" stop-color="#0000c7"/></linearGradient><linearGradient id="c12"><stop offset="0" stop-color="#b30000"/><stop offset="0.05" stop-color="#c30000"/><stop offset="0.1" stop-color="#d10000"/><stop offset="0.15" stop-color="#df0000"/><stop offset="0.2" stop-color="#f00000"/><stop offset="0.237" stop-color="#f00"/><stop offset="0.25" stop-color="#ff0600"/><stop offset="0.3" stop-color="#ff2400"/><stop offset="0.35" stop-color="#ff4a00"/><stop offset="0.4" stop-color="#ff6b00"/><stop offset="0.45" stop-color="#ff8400"/><stop offset="0.5" stop-color="#ff9a00"/><stop offset="0.55" stop-color="#ffc100"/><stop offset="0.596" stop-color="#fffe00"/><stop offset="0.6" stop-color="#faff05"/><stop offset="0.65" stop-color="#a7ff58"/><stop offset="0.7" stop-color="#4cffb3"/><stop offset="0.742" stop-color="#00feff"/><stop offset="0.75" stop-color="#00f0ff"/><stop offset="0.8" stop-color="#009eff"/><stop offset="0.85" stop-color="#005aff"/><stop offset="0.9" stop-color="#0024ff"/><stop offset="0.937" stop-color="#00f"/><stop offset="0.95" stop-color="#0000f3"/><stop offset="1" stop-color="#0000c9"/></linearGradient><linearGradient id="c13"><stop offset="0" stop-color="#b50000"/><stop offset="0.05" stop-color="#c20000"/><stop offset="0.1" stop-color="#d00000"/><stop offset="0.15" stop-color="#df0000"/><stop offset="0.2" stop-color="#f10000"/><stop offset="0.232" stop-color="#f00"/><stop offset="0.25" stop-color="#ff0900"/><stop offset="0.3" stop-color="#ff2700"/><stop offset="0.35" stop-color="#ff4c00"/><stop offset="0.4" stop-color="#ff6b00"/><stop offset="0.45" stop-color="#ff8900"/><stop offset="0.5" stop-color="#ff9f00"/><stop offset="0.55" stop-color="#ffc200"/><stop offset="0.595" stop-color="#ff0"/><stop offset="0.6" stop-color="#f7ff08"/><stop offset="0.65" stop-color="#a2ff5d"/><stop offset="0.7" stop-color="#46ffb9"/><stop offset="0.739" stop-color="#0ff"/><stop offset="0.75" stop-color="#00ebff"/><stop offset="0.8" stop-color="#009bff"/><stop offset="0.85" stop-color="#0059ff"/><stop offset="0.9" stop-color="#0024ff"/><stop offset="0.938" stop-color="#00f"/><stop offset="0.95" stop-color="#0000f4"/><stop offset="1" stop-color="#0000ca"/></linearGradient><linearGradient id="c14"><stop offset="0" stop-color="#b80000"/><stop offset="0.05" stop-color="#c20000"/><stop offset="0.1" stop-color="#cf0000"/><stop offset="0.15" stop-color="#df0000"/><stop offset="0.2" stop-color="#f30000"/><stop offset="0.227" stop-color="#f00"/><stop offset="0.25" stop-color="#ff0c00"/><stop offset="0.3" stop-color="#ff2a00"/><stop offset="0.35" stop-color="#ff4d00"/><stop offset="0.4" stop-color="#ff6c00"/><stop offset="0.45" stop-color="#ff9100"/><stop offset="0.5" stop-color="#ffa800"/><stop offset="0.55" stop-color="#ffc300"/><stop offset="0.594" stop-color="#feff01"/><stop offset="0.6" stop-color="#f5ff0a"/><stop offset="0.65" stop-color="#9eff61"/><stop offset="0.7" stop-color="#41ffbe"/><stop offset="0.736" stop-color="#0ff"/><stop offset="0.75" stop-color="#00e7ff"/><stop offset="0.8" stop-color="#0098ff"/><stop offset="0.85" stop-color="#0056ff"/><stop offset="0.9" stop-color="#0024ff"/><stop offset="0.939" stop-color="#00f"/><stop offset="0.95" stop-color="#0000f5"/><stop offset="1" stop-color="#00c"/></linearGradient><linearGradient id="c15"><stop offset="0" stop-color="#b00"/><stop offset="0.05" stop-color="#c20000"/><stop offset="0.1" stop-color="#ce0000"/><stop offset="0.15" stop-color="#df0000"/><stop offset="0.2" stop-color="#f40000"/><stop offset="0.223" stop-color="#f00"/><stop offset="0.25" stop-color="#ff0f00"/><stop offset="0.3" stop-color="#ff2d00"/><stop offset="0.35" stop-color="#ff4f00"/><stop offset="0.4" stop-color="#ff6c00"/><stop offset="0.45" stop-color="#ff9c00"/><stop offset="0.5" stop-color="#ffb300"/><stop offset="0.55" stop-color="#ffc400"/><stop offset="0.592" stop-color="#ff0"/><stop offset="0.6" stop-color="#f2ff0d"/><stop offset="0.65" stop-color="#9f6"/><stop offset="0.7" stop-color="#3bffc4"/><stop offset="0.733" stop-color="#0ff"/><stop offset="0.75" stop-color="#00e3ff"/><stop offset="0.8" stop-color="#0095ff"/><stop offset="0.85" stop-color="#004fff"/><stop offset="0.9" stop-color="#0024ff"/><stop offset="0.939" stop-color="#00f"/><stop offset="0.95" stop-color="#0000f6"/><stop offset="1" stop-color="#0000cd"/></linearGradient><linearGradient id="c16"><stop offset="0" stop-color="#be0000"/><stop offset="0.05" stop-color="#c20000"/><stop offset="0.1" stop-color="#ce0000"/><stop offset="0.15" stop-color="#df0000"/><stop offset="0.2" stop-color="#f50000"/><stop offset="0.219" stop-color="#f00"/><stop offset="0.25" stop-color="#f10"/><stop offset="0.3" stop-color="#ff3000"/><stop offset="0.35" stop-color="#ff5100"/><stop offset="0.4" stop-color="#ff6c00"/><stop offset="0.45" stop-color="#ffa900"/><stop offset="0.5" stop-color="#ffc100"/><stop offset="0.55" stop-color="#ffc600"/><stop offset="0.59" stop-color="#ff0"/><stop offset="0.6" stop-color="#ef1"/><stop offset="0.65" stop-color="#94ff6b"/><stop offset="0.7" stop-color="#36ffc9"/><stop offset="0.73" stop-color="#01fffe"/><stop offset="0.75" stop-color="#00dfff"/><stop offset="0.8" stop-color="#0092ff"/><stop offset="0.85" stop-color="#0040ff"/><stop offset="0.9" stop-color="#0024ff"/><stop offset="0.94" stop-color="#00f"/><stop offset="0.95" stop-color="#0000f7"/><stop offset="1" stop-color="#0000cf"/></linearGradient><linearGradient id="c17"><stop offset="0" stop-color="#c20000"/><stop offset="0.05" stop-color="#c40000"/><stop offset="0.1" stop-color="#ce0000"/><stop offset="0.15" stop-color="#e00000"/><stop offset="0.2" stop-color="#f70000"/><stop offset="0.215" stop-color="#f00"/><stop offset="0.25" stop-color="#ff1400"/><stop offset="0.3" stop-color="#f30"/><stop offset="0.35" stop-color="#ff5300"/><stop offset="0.4" stop-color="#ff6d00"/><stop offset="0.45" stop-color="#ffb500"/><stop offset="0.5" stop-color="#ffce00"/><stop offset="0.55" stop-color="#ffc800"/><stop offset="0.588" stop-color="#feff01"/><stop offset="0.6" stop-color="#eaff15"/><stop offset="0.65" stop-color="#8fff70"/><stop offset="0.7" stop-color="#30ffcf"/><stop offset="0.728" stop-color="#00feff"/><stop offset="0.75" stop-color="#00dbff"/><stop offset="0.8" stop-color="#008dff"/><stop offset="0.85" stop-color="#0029ff"/><stop offset="0.9" stop-color="#0024ff"/><stop offset="0.942" stop-color="#00f"/><stop offset="0.95" stop-color="#0000f8"/><stop offset="1" stop-color="#0000d0"/></linearGradient><linearGradient id="c18"><stop offset="0" stop-color="#c70000"/><stop offset="0.05" stop-color="#c60000"/><stop offset="0.1" stop-color="#cf0000"/><stop offset="0.15" stop-color="#e00000"/><stop offset="0.2" stop-color="#f90000"/><stop offset="0.211" stop-color="#f00"/><stop offset="0.25" stop-color="#ff1700"/><stop offset="0.3" stop-color="#ff3700"/><stop offset="0.35" stop-color="#ff5600"/><stop offset="0.4" stop-color="#ff6e00"/><stop offset="0.45" stop-color="#ffbe00"/><stop offset="0.469" stop-color="#feff01"/><stop offset="0.485" stop-color="#feff01"/><stop offset="0.5" stop-color="#ffd700"/><stop offset="0.55" stop-color="#ffcb00"/><stop offset="0.585" stop-color="#ff0"/><stop offset="0.6" stop-color="#e6ff19"/><stop offset="0.65" stop-color="#89ff76"/><stop offset="0.7" stop-color="#2bffd4"/><stop offset="0.725" stop-color="#0ff"/><stop offset="0.75" stop-color="#00d7ff"/><stop offset="0.8" stop-color="#0087ff"/><stop offset="0.85" stop-color="#000dff"/><stop offset="0.9" stop-color="#0024ff"/><stop offset="0.943" stop-color="#00f"/><stop offset="0.95" stop-color="#0000f9"/><stop offset="1" stop-color="#0000d2"/></linearGradient><linearGradient id="c19"><stop offset="0" stop-color="#c00"/><stop offset="0.05" stop-color="#c90000"/><stop offset="0.1" stop-color="#d10000"/><stop offset="0.15" stop-color="#e20000"/><stop offset="0.2" stop-color="#fa0000"/><stop offset="0.208" stop-color="#f00"/><stop offset="0.25" stop-color="#ff1a00"/><stop offset="0.3" stop-color="#ff3a00"/><stop offset="0.35" stop-color="#ff5800"/><stop offset="0.4" stop-color="#ff7000"/><stop offset="0.45" stop-color="#ffc100"/><stop offset="0.467" stop-color="#feff01"/><stop offset="0.487" stop-color="#feff01"/><stop offset="0.5" stop-color="#ffdb00"/><stop offset="0.55" stop-color="#ffcf00"/><stop offset="0.582" stop-color="#fffe00"/><stop offset="0.6" stop-color="#e1ff1e"/><stop offset="0.65" stop-color="#83ff7c"/><stop offset="0.7" stop-color="#25ffda"/><stop offset="0.722" stop-color="#0ff"/><stop offset="0.75" stop-color="#00d3ff"/><stop offset="0.8" stop-color="#0082ff"/><stop offset="0.838" stop-color="#0000fe"/><stop offset="0.85" stop-color="#0000f4"/><stop offset="0.859" stop-color="#00f"/><stop offset="0.9" stop-color="#0024ff"/><stop offset="0.944" stop-color="#00f"/><stop offset="0.95" stop-color="#0000fa"/><stop offset="1" stop-color="#0000d3"/></linearGradient><linearGradient id="c20"><stop offset="0" stop-color="#d30000"/><stop offset="0.05" stop-color="#ce0000"/><stop offset="0.1" stop-color="#d40000"/><stop offset="0.15" stop-color="#e40000"/><stop offset="0.2" stop-color="#fc0000"/><stop offset="0.205" stop-color="#f00"/><stop offset="0.25" stop-color="#ff1c00"/><stop offset="0.3" stop-color="#ff3d00"/><stop offset="0.35" stop-color="#ff5b00"/><stop offset="0.4" stop-color="#ff7200"/><stop offset="0.45" stop-color="#ffbe00"/><stop offset="0.47" stop-color="#ff0"/><stop offset="0.484" stop-color="#ff0"/><stop offset="0.5" stop-color="#ffd800"/><stop offset="0.55" stop-color="#ffd300"/><stop offset="0.579" stop-color="#ff0"/><stop offset="0.6" stop-color="#dcff23"/><stop offset="0.65" stop-color="#7dff82"/><stop offset="0.7" stop-color="#1fffe0"/><stop offset="0.719" stop-color="#00feff"/><stop offset="0.75" stop-color="#00cfff"/><stop offset="0.8" stop-color="#0080ff"/><stop offset="0.835" stop-color="#00f"/><stop offset="0.85" stop-color="#0000ed"/><stop offset="0.862" stop-color="#0001ff"/><stop offset="0.9" stop-color="#0025ff"/><stop offset="0.946" stop-color="#00f"/><stop offset="0.95" stop-color="#0000fc"/><stop offset="1" stop-color="#0000d5"/></linearGradient><linearGradient id="c21"><stop offset="0" stop-color="#da0000"/><stop offset="0.05" stop-color="#d40000"/><stop offset="0.1" stop-color="#d80000"/><stop offset="0.15" stop-color="#e60000"/><stop offset="0.2" stop-color="#fe0000"/><stop offset="0.202" stop-color="#f00"/><stop offset="0.25" stop-color="#ff1f00"/><stop offset="0.3" stop-color="#ff4100"/><stop offset="0.35" stop-color="#ff5e00"/><stop offset="0.4" stop-color="#ff7400"/><stop offset="0.45" stop-color="#ffb600"/><stop offset="0.5" stop-color="#ffd200"/><stop offset="0.55" stop-color="#ffd800"/><stop offset="0.576" stop-color="#ff0"/><stop offset="0.6" stop-color="#d5ff2a"/><stop offset="0.65" stop-color="#76ff89"/><stop offset="0.7" stop-color="#1affe5"/><stop offset="0.715" stop-color="#01fffe"/><stop offset="0.75" stop-color="#0cf"/><stop offset="0.8" stop-color="#0081ff"/><stop offset="0.841" stop-color="#00f"/><stop offset="0.85" stop-color="#0000fb"/><stop offset="0.855" stop-color="#00f"/><stop offset="0.9" stop-color="#0026ff"/><stop offset="0.948" stop-color="#00f"/><stop offset="0.95" stop-color="#0000fd"/><stop offset="1" stop-color="#0000d7"/></linearGradient><linearGradient id="c22"><stop offset="0" stop-color="#e20000"/><stop offset="0.05" stop-color="#dc0000"/><stop offset="0.1" stop-color="#d00"/><stop offset="0.15" stop-color="#e90000"/><stop offset="0.199" stop-color="#f00"/><stop offset="0.2" stop-color="#ff0100"/><stop offset="0.25" stop-color="#ff2100"/><stop offset="0.3" stop-color="#f40"/><stop offset="0.35" stop-color="#ff6100"/><stop offset="0.4" stop-color="#f70"/><stop offset="0.45" stop-color="#ffac00"/><stop offset="0.5" stop-color="#ffca00"/><stop offset="0.55" stop-color="#ffde00"/><stop offset="0.572" stop-color="#ff0"/><stop offset="0.6" stop-color="#cfff30"/><stop offset="0.65" stop-color="#70ff8f"/><stop offset="0.7" stop-color="#14ffeb"/><stop offset="0.712" stop-color="#0ff"/><stop offset="0.75" stop-color="#00c8ff"/><stop offset="0.8" stop-color="#0083ff"/><stop offset="0.85" stop-color="#0017ff"/><stop offset="0.9" stop-color="#0028ff"/><stop offset="0.95" stop-color="#00f"/><stop offset="1" stop-color="#0000d9"/></linearGradient><linearGradient id="c23"><stop offset="0" stop-color="#ec0000"/><stop offset="0.05" stop-color="#e50000"/><stop offset="0.1" stop-color="#e40000"/><stop offset="0.15" stop-color="#ed0000"/><stop offset="0.195" stop-color="#f00"/><stop offset="0.2" stop-color="#ff0300"/><stop offset="0.25" stop-color="#ff2400"/><stop offset="0.3" stop-color="#ff4800"/><stop offset="0.35" stop-color="#ff6500"/><stop offset="0.4" stop-color="#ff7a00"/><stop offset="0.45" stop-color="#ffa400"/><stop offset="0.5" stop-color="#ffc300"/><stop offset="0.55" stop-color="#ffe400"/><stop offset="0.568" stop-color="#feff01"/><stop offset="0.6" stop-color="#c7ff38"/><stop offset="0.65" stop-color="#68ff97"/><stop offset="0.7" stop-color="#0dfff2"/><stop offset="0.708" stop-color="#01fffe"/><stop offset="0.75" stop-color="#00c4ff"/><stop offset="0.8" stop-color="#0086ff"/><stop offset="0.85" stop-color="#03f"/><stop offset="0.9" stop-color="#002bff"/><stop offset="0.95" stop-color="#0002ff"/><stop offset="0.952" stop-color="#00f"/><stop offset="1" stop-color="#0000da"/></linearGradient><linearGradient id="c24"><stop offset="0" stop-color="#f60000"/><stop offset="0.05" stop-color="#f00000"/><stop offset="0.1" stop-color="#ed0000"/><stop offset="0.15" stop-color="#f10000"/><stop offset="0.191" stop-color="#f00"/><stop offset="0.2" stop-color="#ff0500"/><stop offset="0.25" stop-color="#ff2600"/><stop offset="0.3" stop-color="#ff4b00"/><stop offset="0.35" stop-color="#ff6900"/><stop offset="0.4" stop-color="#ff7e00"/><stop offset="0.45" stop-color="#ffa000"/><stop offset="0.5" stop-color="#ffc000"/><stop offset="0.55" stop-color="#ffec00"/><stop offset="0.563" stop-color="#feff01"/><stop offset="0.6" stop-color="#bfff40"/><stop offset="0.65" stop-color="#60ff9f"/><stop offset="0.7" stop-color="#07fff8"/><stop offset="0.704" stop-color="#01fffe"/><stop offset="0.75" stop-color="#00c1ff"/><stop offset="0.8" stop-color="#08f"/><stop offset="0.85" stop-color="#0048ff"/><stop offset="0.9" stop-color="#002dff"/><stop offset="0.95" stop-color="#0004ff"/><stop offset="0.955" stop-color="#00f"/><stop offset="1" stop-color="#0000dc"/></linearGradient><linearGradient id="c25"><stop offset="0" stop-color="#ff0300"/><stop offset="0.041" stop-color="#f00"/><stop offset="0.05" stop-color="#fe0000"/><stop offset="0.1" stop-color="#f70000"/><stop offset="0.15" stop-color="#f70000"/><stop offset="0.185" stop-color="#f00"/><stop offset="0.2" stop-color="#ff0600"/><stop offset="0.25" stop-color="#ff2800"/><stop offset="0.3" stop-color="#ff4f00"/><stop offset="0.35" stop-color="#ff6d00"/><stop offset="0.4" stop-color="#ff8300"/><stop offset="0.45" stop-color="#ff9f00"/><stop offset="0.5" stop-color="#ffc000"/><stop offset="0.55" stop-color="#fff500"/><stop offset="0.557" stop-color="#ff0"/><stop offset="0.6" stop-color="#b6ff49"/><stop offset="0.65" stop-color="#58ffa7"/><stop offset="0.7" stop-color="#0ff"/><stop offset="0.75" stop-color="#00bdff"/><stop offset="0.8" stop-color="#08f"/><stop offset="0.85" stop-color="#0054ff"/><stop offset="0.9" stop-color="#002fff"/><stop offset="0.95" stop-color="#0006ff"/><stop offset="0.957" stop-color="#00f"/><stop offset="1" stop-color="#0000de"/></linearGradient><linearGradient id="c26"><stop offset="0" stop-color="#ff1000"/><stop offset="0.05" stop-color="#ff0e00"/><stop offset="0.1" stop-color="#ff0400"/><stop offset="0.123" stop-color="#f00"/><stop offset="0.15" stop-color="#fd0000"/><stop offset="0.172" stop-color="#f00"/><stop offset="0.2" stop-color="#ff0900"/><stop offset="0.25" stop-color="#ff2a00"/><stop offset="0.3" stop-color="#ff5300"/><stop offset="0.35" stop-color="#ff7200"/><stop offset="0.4" stop-color="#ff8900"/><stop offset="0.45" stop-color="#ffa200"/><stop offset="0.5" stop-color="#ffc500"/><stop offset="0.55" stop-color="#fffe00"/><stop offset="0.551" stop-color="#feff01"/><stop offset="0.6" stop-color="#adff52"/><stop offset="0.65" stop-color="#50ffaf"/><stop offset="0.696" stop-color="#0ff"/><stop offset="0.7" stop-color="#00f9ff"/><stop offset="0.75" stop-color="#00b9ff"/><stop offset="0.8" stop-color="#08f"/><stop offset="0.85" stop-color="#005aff"/><stop offset="0.9" stop-color="#0031ff"/><stop offset="0.95" stop-color="#0008ff"/><stop offset="0.96" stop-color="#00f"/><stop offset="1" stop-color="#0000e0"/></linearGradient><linearGradient id="c27"><stop offset="0" stop-color="#ff1e00"/><stop offset="0.05" stop-color="#ff1f00"/><stop offset="0.1" stop-color="#f10"/><stop offset="0.15" stop-color="#ff0500"/><stop offset="0.2" stop-color="#ff0b00"/><stop offset="0.25" stop-color="#ff2c00"/><stop offset="0.3" stop-color="#ff5600"/><stop offset="0.35" stop-color="#f70"/><stop offset="0.4" stop-color="#ff8f00"/><stop offset="0.45" stop-color="#ffa800"/><stop offset="0.5" stop-color="#fc0"/><stop offset="0.544" stop-color="#feff01"/><stop offset="0.55" stop-color="#f6ff09"/><stop offset="0.6" stop-color="#a3ff5c"/><stop offset="0.65" stop-color="#47ffb8"/><stop offset="0.691" stop-color="#0ff"/><stop offset="0.7" stop-color="#00f2ff"/><stop offset="0.75" stop-color="#00b5ff"/><stop offset="0.8" stop-color="#08f"/><stop offset="0.85" stop-color="#005dff"/><stop offset="0.9" stop-color="#03f"/><stop offset="0.95" stop-color="#000aff"/><stop offset="0.963" stop-color="#00f"/><stop offset="1" stop-color="#0000e2"/></linearGradient><linearGradient id="c28"><stop offset="0" stop-color="#ff2d00"/><stop offset="0.05" stop-color="#ff3200"/><stop offset="0.1" stop-color="#ff2000"/><stop offset="0.15" stop-color="#ff0c00"/><stop offset="0.2" stop-color="#ff0d00"/><stop offset="0.25" stop-color="#ff2e00"/><stop offset="0.3" stop-color="#ff5a00"/><stop offset="0.35" stop-color="#ff7c00"/><stop offset="0.4" stop-color="#ff9500"/><stop offset="0.45" stop-color="#ffaf00"/><stop offset="0.5" stop-color="#ffd500"/><stop offset="0.536" stop-color="#ff0"/><stop offset="0.55" stop-color="#ebff14"/><stop offset="0.6" stop-color="#9f6"/><stop offset="0.65" stop-color="#3effc1"/><stop offset="0.686" stop-color="#01fffe"/><stop offset="0.7" stop-color="#00ebff"/><stop offset="0.75" stop-color="#00b2ff"/><stop offset="0.8" stop-color="#08f"/><stop offset="0.85" stop-color="#005fff"/><stop offset="0.9" stop-color="#0036ff"/><stop offset="0.95" stop-color="#000dff"/><stop offset="0.965" stop-color="#00f"/><stop offset="1" stop-color="#0000e5"/></linearGradient><linearGradient id="c29"><stop offset="0" stop-color="#ff3c00"/><stop offset="0.05" stop-color="#ff4600"/><stop offset="0.1" stop-color="#ff3000"/><stop offset="0.15" stop-color="#ff1400"/><stop offset="0.2" stop-color="#ff1000"/><stop offset="0.25" stop-color="#ff3000"/><stop offset="0.3" stop-color="#ff5e00"/><stop offset="0.35" stop-color="#ff8100"/><stop offset="0.4" stop-color="#ff9c00"/><stop offset="0.45" stop-color="#ffb700"/><stop offset="0.5" stop-color="#ffe000"/><stop offset="0.527" stop-color="#ff0"/><stop offset="0.55" stop-color="#e0ff1f"/><stop offset="0.6" stop-color="#8fff70"/><stop offset="0.65" stop-color="#35ffca"/><stop offset="0.682" stop-color="#0ff"/><stop offset="0.7" stop-color="#00e5ff"/><stop offset="0.75" stop-color="#00afff"/><stop offset="0.8" stop-color="#08f"/><stop offset="0.85" stop-color="#0061ff"/><stop offset="0.9" stop-color="#0038ff"/><stop offset="0.95" stop-color="#000fff"/><stop offset="0.968" stop-color="#00f"/><stop offset="1" stop-color="#0000e7"/></linearGradient><linearGradient id="c30"><stop offset="0" stop-color="#ff4b00"/><stop offset="0.05" stop-color="#ff5c00"/><stop offset="0.1" stop-color="#ff4100"/><stop offset="0.15" stop-color="#ff1d00"/><stop offset="0.2" stop-color="#ff1300"/><stop offset="0.25" stop-color="#ff3200"/><stop offset="0.3" stop-color="#ff6200"/><stop offset="0.35" stop-color="#ff8700"/><stop offset="0.4" stop-color="#ffa300"/><stop offset="0.45" stop-color="#ffc100"/><stop offset="0.5" stop-color="#ffea00"/><stop offset="0.518" stop-color="#ff0"/><stop offset="0.55" stop-color="#d5ff2a"/><stop offset="0.6" stop-color="#84ff7b"/><stop offset="0.65" stop-color="#2cffd3"/><stop offset="0.677" stop-color="#0ff"/><stop offset="0.7" stop-color="#00deff"/><stop offset="0.75" stop-color="#00acff"/><stop offset="0.8" stop-color="#08f"/><stop offset="0.85" stop-color="#0063ff"/><stop offset="0.9" stop-color="#003bff"/><stop offset="0.95" stop-color="#01f"/><stop offset="0.971" stop-color="#00f"/><stop offset="1" stop-color="#0000e9"/></linearGradient><linearGradient id="c31"><stop offset="0" stop-color="#ff5a00"/><stop offset="0.05" stop-color="#ff7500"/><stop offset="0.1" stop-color="#ff5400"/><stop offset="0.15" stop-color="#ff2500"/><stop offset="0.2" stop-color="#ff1700"/><stop offset="0.25" stop-color="#ff3500"/><stop offset="0.3" stop-color="#f60"/><stop offset="0.35" stop-color="#ff8c00"/><stop offset="0.4" stop-color="#fa0"/><stop offset="0.45" stop-color="#ffca00"/><stop offset="0.5" stop-color="#fff500"/><stop offset="0.509" stop-color="#ff0"/><stop offset="0.55" stop-color="#caff35"/><stop offset="0.6" stop-color="#7aff85"/><stop offset="0.65" stop-color="#24ffdb"/><stop offset="0.672" stop-color="#0ff"/><stop offset="0.7" stop-color="#00d9ff"/><stop offset="0.75" stop-color="#00a9ff"/><stop offset="0.8" stop-color="#08f"/><stop offset="0.85" stop-color="#0065ff"/><stop offset="0.9" stop-color="#003dff"/><stop offset="0.95" stop-color="#0014ff"/><stop offset="0.973" stop-color="#00f"/><stop offset="1" stop-color="#0000ea"/></linearGradient><linearGradient id="c32"><stop offset="0" stop-color="#ff6900"/><stop offset="0.05" stop-color="#ff8f00"/><stop offset="0.1" stop-color="#ff6800"/><stop offset="0.15" stop-color="#ff2e00"/><stop offset="0.2" stop-color="#ff1b00"/><stop offset="0.25" stop-color="#ff3800"/><stop offset="0.3" stop-color="#ff6a00"/><stop offset="0.35" stop-color="#ff9200"/><stop offset="0.4" stop-color="#ffb200"/><stop offset="0.45" stop-color="#ffd300"/><stop offset="0.499" stop-color="#ff0"/><stop offset="0.5" stop-color="#feff01"/><stop offset="0.55" stop-color="#bfff40"/><stop offset="0.6" stop-color="#71ff8e"/><stop offset="0.65" stop-color="#1cffe3"/><stop offset="0.668" stop-color="#0ff"/><stop offset="0.7" stop-color="#00d3ff"/><stop offset="0.75" stop-color="#00a8ff"/><stop offset="0.8" stop-color="#0089ff"/><stop offset="0.85" stop-color="#0067ff"/><stop offset="0.9" stop-color="#0040ff"/><stop offset="0.95" stop-color="#0016ff"/><stop offset="0.976" stop-color="#00f"/><stop offset="1" stop-color="#0000ec"/></linearGradient><linearGradient id="c33"><stop offset="0" stop-color="#f70"/><stop offset="0.05" stop-color="#fa0"/><stop offset="0.1" stop-color="#ff7d00"/><stop offset="0.15" stop-color="#ff3700"/><stop offset="0.2" stop-color="#ff2000"/><stop offset="0.25" stop-color="#ff3c00"/><stop offset="0.3" stop-color="#ff6f00"/><stop offset="0.35" stop-color="#ff9800"/><stop offset="0.4" stop-color="#ffb900"/><stop offset="0.45" stop-color="#fd0"/><stop offset="0.488" stop-color="#ff0"/><stop offset="0.5" stop-color="#f3ff0c"/><stop offset="0.55" stop-color="#b4ff4b"/><stop offset="0.6" stop-color="#67ff98"/><stop offset="0.65" stop-color="#15ffea"/><stop offset="0.664" stop-color="#00feff"/><stop offset="0.7" stop-color="#00cfff"/><stop offset="0.75" stop-color="#00a6ff"/><stop offset="0.8" stop-color="#008bff"/><stop offset="0.85" stop-color="#006aff"/><stop offset="0.9" stop-color="#0043ff"/><stop offset="0.95" stop-color="#0018ff"/><stop offset="0.978" stop-color="#00f"/><stop offset="1" stop-color="#00e"/></linearGradient><linearGradient id="c34"><stop offset="0" stop-color="#ff8400"/><stop offset="0.05" stop-color="#ffc400"/><stop offset="0.1" stop-color="#ff9100"/><stop offset="0.15" stop-color="#ff3f00"/><stop offset="0.2" stop-color="#ff2500"/><stop offset="0.25" stop-color="#ff4000"/><stop offset="0.3" stop-color="#ff7300"/><stop offset="0.35" stop-color="#ff9d00"/><stop offset="0.4" stop-color="#ffc000"/><stop offset="0.45" stop-color="#ffe600"/><stop offset="0.478" stop-color="#ff0"/><stop offset="0.5" stop-color="#e9ff16"/><stop offset="0.55" stop-color="#af5"/><stop offset="0.6" stop-color="#5fffa0"/><stop offset="0.65" stop-color="#0ffff0"/><stop offset="0.66" stop-color="#0ff"/><stop offset="0.7" stop-color="#00cbff"/><stop offset="0.75" stop-color="#00a6ff"/><stop offset="0.8" stop-color="#008dff"/><stop offset="0.85" stop-color="#006dff"/><stop offset="0.9" stop-color="#0045ff"/><stop offset="0.95" stop-color="#001aff"/><stop offset="0.98" stop-color="#00f"/><stop offset="1" stop-color="#0000ef"/></linearGradient><linearGradient id="c35"><stop offset="0" stop-color="#ff9100"/><stop offset="0.05" stop-color="#ffd800"/><stop offset="0.1" stop-color="#ffa100"/><stop offset="0.15" stop-color="#ff4800"/><stop offset="0.2" stop-color="#ff2c00"/><stop offset="0.25" stop-color="#ff4500"/><stop offset="0.3" stop-color="#f70"/><stop offset="0.35" stop-color="#ffa200"/><stop offset="0.4" stop-color="#ffc700"/><stop offset="0.45" stop-color="#fe0"/><stop offset="0.469" stop-color="#ff0"/><stop offset="0.5" stop-color="#dfff20"/><stop offset="0.55" stop-color="#a1ff5e"/><stop offset="0.6" stop-color="#57ffa8"/><stop offset="0.65" stop-color="#09fff6"/><stop offset="0.656" stop-color="#0ff"/><stop offset="0.7" stop-color="#00c9ff"/><stop offset="0.75" stop-color="#00a6ff"/><stop offset="0.8" stop-color="#008fff"/><stop offset="0.85" stop-color="#0070ff"/><stop offset="0.9" stop-color="#0048ff"/><stop offset="0.95" stop-color="#001cff"/><stop offset="0.981" stop-color="#00f"/><stop offset="1" stop-color="#0000f0"/></linearGradient><linearGradient id="c36"><stop offset="0" stop-color="#ff9c00"/><stop offset="0.05" stop-color="#ffe500"/><stop offset="0.1" stop-color="#ffac00"/><stop offset="0.15" stop-color="#ff5000"/><stop offset="0.2" stop-color="#f30"/><stop offset="0.25" stop-color="#ff4b00"/><stop offset="0.3" stop-color="#ff7c00"/><stop offset="0.35" stop-color="#ffa700"/><stop offset="0.4" stop-color="#ffcd00"/><stop offset="0.45" stop-color="#fff600"/><stop offset="0.46" stop-color="#ff0"/><stop offset="0.5" stop-color="#d7ff28"/><stop offset="0.55" stop-color="#9f6"/><stop offset="0.6" stop-color="#51ffae"/><stop offset="0.65" stop-color="#05fffa"/><stop offset="0.654" stop-color="#00feff"/><stop offset="0.7" stop-color="#00c7ff"/><stop offset="0.75" stop-color="#00a7ff"/><stop offset="0.8" stop-color="#0092ff"/><stop offset="0.85" stop-color="#0073ff"/><stop offset="0.9" stop-color="#004bff"/><stop offset="0.95" stop-color="#001eff"/><stop offset="0.982" stop-color="#00f"/><stop offset="1" stop-color="#0000f1"/></linearGradient><linearGradient id="c37"><stop offset="0" stop-color="#ffa500"/><stop offset="0.05" stop-color="#ffe900"/><stop offset="0.1" stop-color="#ffb100"/><stop offset="0.15" stop-color="#ff5700"/><stop offset="0.2" stop-color="#ff3b00"/><stop offset="0.25" stop-color="#ff5100"/><stop offset="0.3" stop-color="#ff8100"/><stop offset="0.35" stop-color="#ffac00"/><stop offset="0.4" stop-color="#ffd300"/><stop offset="0.45" stop-color="#fffd00"/><stop offset="0.452" stop-color="#ff0"/><stop offset="0.5" stop-color="#cfff30"/><stop offset="0.55" stop-color="#91ff6e"/><stop offset="0.6" stop-color="#4bffb4"/><stop offset="0.65" stop-color="#02fffd"/><stop offset="0.651" stop-color="#01fffe"/><stop offset="0.7" stop-color="#00c7ff"/><stop offset="0.75" stop-color="#00a9ff"/><stop offset="0.8" stop-color="#0095ff"/><stop offset="0.85" stop-color="#0076ff"/><stop offset="0.9" stop-color="#004dff"/><stop offset="0.95" stop-color="#001fff"/><stop offset="0.983" stop-color="#00f"/><stop offset="1" stop-color="#0000f2"/></linearGradient><linearGradient id="c38"><stop offset="0" stop-color="#ffac00"/><stop offset="0.05" stop-color="#ffe500"/><stop offset="0.1" stop-color="#ffb000"/><stop offset="0.15" stop-color="#ff5e00"/><stop offset="0.2" stop-color="#ff4300"/><stop offset="0.25" stop-color="#ff5800"/><stop offset="0.3" stop-color="#ff8600"/><stop offset="0.35" stop-color="#ffb100"/><stop offset="0.4" stop-color="#ffd800"/><stop offset="0.446" stop-color="#ff0"/><stop offset="0.45" stop-color="#fbff04"/><stop offset="0.5" stop-color="#c8ff37"/><stop offset="0.55" stop-color="#8cff73"/><stop offset="0.6" stop-color="#47ffb8"/><stop offset="0.65" stop-color="#0ff"/><stop offset="0.7" stop-color="#00c8ff"/><stop offset="0.75" stop-color="#00acff"/><stop offset="0.8" stop-color="#09f"/><stop offset="0.85" stop-color="#007aff"/><stop offset="0.9" stop-color="#0050ff"/><stop offset="0.95" stop-color="#0020ff"/><stop offset="0.984" stop-color="#00f"/><stop offset="1" stop-color="#0000f2"/></linearGradient><linearGradient id="c39"><stop offset="0" stop-color="#ffb200"/><stop offset="0.05" stop-color="#ffdb00"/><stop offset="0.1" stop-color="#ffab00"/><stop offset="0.15" stop-color="#ff6500"/><stop offset="0.2" stop-color="#ff4d00"/><stop offset="0.25" stop-color="#ff6000"/><stop offset="0.3" stop-color="#ff8b00"/><stop offset="0.35" stop-color="#ffb500"/><stop offset="0.4" stop-color="#fd0"/><stop offset="0.44" stop-color="#ff0"/><stop offset="0.45" stop-color="#f6ff09"/><stop offset="0.5" stop-color="#c3ff3c"/><stop offset="0.55" stop-color="#87ff78"/><stop offset="0.6" stop-color="#43ffbc"/><stop offset="0.65" stop-color="#0ff"/><stop offset="0.7" stop-color="#00caff"/><stop offset="0.75" stop-color="#00b0ff"/><stop offset="0.8" stop-color="#009dff"/><stop offset="0.85" stop-color="#007eff"/><stop offset="0.9" stop-color="#0052ff"/><stop offset="0.95" stop-color="#0021ff"/><stop offset="0.984" stop-color="#00f"/><stop offset="1" stop-color="#0000f2"/></linearGradient><linearGradient id="c40"><stop offset="0" stop-color="#ffb600"/><stop offset="0.05" stop-color="#ffce00"/><stop offset="0.1" stop-color="#ffa400"/><stop offset="0.15" stop-color="#ff6b00"/><stop offset="0.2" stop-color="#ff5700"/><stop offset="0.25" stop-color="#ff6900"/><stop offset="0.3" stop-color="#ff9000"/><stop offset="0.35" stop-color="#ffb900"/><stop offset="0.4" stop-color="#ffe100"/><stop offset="0.435" stop-color="#ff0"/><stop offset="0.45" stop-color="#f1ff0e"/><stop offset="0.5" stop-color="#beff41"/><stop offset="0.55" stop-color="#83ff7c"/><stop offset="0.6" stop-color="#41ffbe"/><stop offset="0.65" stop-color="#0ff"/><stop offset="0.7" stop-color="#00cdff"/><stop offset="0.75" stop-color="#00b4ff"/><stop offset="0.8" stop-color="#00a2ff"/><stop offset="0.85" stop-color="#0082ff"/><stop offset="0.9" stop-color="#05f"/><stop offset="0.95" stop-color="#02f"/><stop offset="0.984" stop-color="#00f"/><stop offset="1" stop-color="#0000f2"/></linearGradient><linearGradient id="c41"><stop offset="0" stop-color="#ffba00"/><stop offset="0.05" stop-color="#ffc200"/><stop offset="0.1" stop-color="#ff9d00"/><stop offset="0.15" stop-color="#ff7000"/><stop offset="0.2" stop-color="#ff6200"/><stop offset="0.25" stop-color="#ff7200"/><stop offset="0.3" stop-color="#ff9600"/><stop offset="0.35" stop-color="#ffbd00"/><stop offset="0.4" stop-color="#ffe500"/><stop offset="0.43" stop-color="#ff0"/><stop offset="0.45" stop-color="#edff12"/><stop offset="0.5" stop-color="#bf4"/><stop offset="0.55" stop-color="#80ff7f"/><stop offset="0.6" stop-color="#40ffbf"/><stop offset="0.65" stop-color="#01fffe"/><stop offset="0.651" stop-color="#0ff"/><stop offset="0.7" stop-color="#00d1ff"/><stop offset="0.75" stop-color="#00b9ff"/><stop offset="0.8" stop-color="#00a7ff"/><stop offset="0.85" stop-color="#0085ff"/><stop offset="0.9" stop-color="#0057ff"/><stop offset="0.95" stop-color="#0023ff"/><stop offset="0.985" stop-color="#00f"/><stop offset="1" stop-color="#0000f2"/></linearGradient><linearGradient id="c42"><stop offset="0" stop-color="#ffbd00"/><stop offset="0.05" stop-color="#ffb600"/><stop offset="0.1" stop-color="#ff9500"/><stop offset="0.15" stop-color="#ff7400"/><stop offset="0.2" stop-color="#ff6d00"/><stop offset="0.25" stop-color="#ff7c00"/><stop offset="0.3" stop-color="#ff9b00"/><stop offset="0.35" stop-color="#ffc100"/><stop offset="0.4" stop-color="#ffe900"/><stop offset="0.426" stop-color="#ff0"/><stop offset="0.45" stop-color="#e9ff16"/><stop offset="0.5" stop-color="#b7ff48"/><stop offset="0.55" stop-color="#7dff82"/><stop offset="0.6" stop-color="#3fffc0"/><stop offset="0.65" stop-color="#03fffc"/><stop offset="0.653" stop-color="#0ff"/><stop offset="0.7" stop-color="#00d5ff"/><stop offset="0.75" stop-color="#00bfff"/><stop offset="0.8" stop-color="#00acff"/><stop offset="0.85" stop-color="#0089ff"/><stop offset="0.9" stop-color="#0059ff"/><stop offset="0.95" stop-color="#0024ff"/><stop offset="0.985" stop-color="#00f"/><stop offset="1" stop-color="#0000f3"/></linearGradient><linearGradient id="c43"><stop offset="0" stop-color="#ffc000"/><stop offset="0.05" stop-color="#ffad00"/><stop offset="0.1" stop-color="#ff8d00"/><stop offset="0.15" stop-color="#ff7500"/><stop offset="0.2" stop-color="#ff7800"/><stop offset="0.25" stop-color="#ff8500"/><stop offset="0.3" stop-color="#ffa100"/><stop offset="0.35" stop-color="#ffc500"/><stop offset="0.4" stop-color="#ffed00"/><stop offset="0.421" stop-color="#ff0"/><stop offset="0.45" stop-color="#e6ff19"/><stop offset="0.5" stop-color="#b5ff4a"/><stop offset="0.55" stop-color="#7cff83"/><stop offset="0.6" stop-color="#3fffc0"/><stop offset="0.65" stop-color="#05fffa"/><stop offset="0.655" stop-color="#0ff"/><stop offset="0.7" stop-color="#00d9ff"/><stop offset="0.75" stop-color="#00c4ff"/><stop offset="0.8" stop-color="#00b1ff"/><stop offset="0.85" stop-color="#008cff"/><stop offset="0.9" stop-color="#005bff"/><stop offset="0.95" stop-color="#0024ff"/><stop offset="0.986" stop-color="#00f"/><stop offset="1" stop-color="#0000f3"/></linearGradient><linearGradient id="c44"><stop offset="0" stop-color="#ffc300"/><stop offset="0.05" stop-color="#ffa500"/><stop offset="0.1" stop-color="#ff8500"/><stop offset="0.15" stop-color="#ff7300"/><stop offset="0.2" stop-color="#ff8300"/><stop offset="0.25" stop-color="#ff8f00"/><stop offset="0.3" stop-color="#ffa700"/><stop offset="0.35" stop-color="#ffc900"/><stop offset="0.4" stop-color="#fff000"/><stop offset="0.417" stop-color="#ff0"/><stop offset="0.45" stop-color="#e3ff1c"/><stop offset="0.5" stop-color="#b2ff4d"/><stop offset="0.55" stop-color="#7aff85"/><stop offset="0.6" stop-color="#3fffc0"/><stop offset="0.65" stop-color="#08fff7"/><stop offset="0.658" stop-color="#0ff"/><stop offset="0.7" stop-color="#0df"/><stop offset="0.75" stop-color="#00c9ff"/><stop offset="0.8" stop-color="#00b6ff"/><stop offset="0.85" stop-color="#0090ff"/><stop offset="0.9" stop-color="#005cff"/><stop offset="0.95" stop-color="#0025ff"/><stop offset="0.986" stop-color="#00f"/><stop offset="1" stop-color="#0000f4"/></linearGradient><linearGradient id="c45"><stop offset="0" stop-color="#ffc600"/><stop offset="0.05" stop-color="#ff9f00"/><stop offset="0.1" stop-color="#ff7d00"/><stop offset="0.15" stop-color="#ff7100"/><stop offset="0.2" stop-color="#ff8e00"/><stop offset="0.25" stop-color="#f90"/><stop offset="0.3" stop-color="#ffad00"/><stop offset="0.35" stop-color="#ffcd00"/><stop offset="0.4" stop-color="#fff400"/><stop offset="0.413" stop-color="#ff0"/><stop offset="0.45" stop-color="#e0ff1f"/><stop offset="0.5" stop-color="#b0ff4f"/><stop offset="0.55" stop-color="#79ff86"/><stop offset="0.6" stop-color="#40ffbf"/><stop offset="0.65" stop-color="#0bfff4"/><stop offset="0.662" stop-color="#0ff"/><stop offset="0.7" stop-color="#00dfff"/><stop offset="0.75" stop-color="#00cfff"/><stop offset="0.8" stop-color="#00baff"/><stop offset="0.85" stop-color="#0093ff"/><stop offset="0.9" stop-color="#005eff"/><stop offset="0.95" stop-color="#0026ff"/><stop offset="0.988" stop-color="#00f"/><stop offset="1" stop-color="#0000f6"/></linearGradient><linearGradient id="c46"><stop offset="0" stop-color="#ffc900"/><stop offset="0.05" stop-color="#ff9a00"/><stop offset="0.1" stop-color="#f70"/><stop offset="0.15" stop-color="#ff7300"/><stop offset="0.2" stop-color="#ff9a00"/><stop offset="0.25" stop-color="#ffa200"/><stop offset="0.3" stop-color="#ffb300"/><stop offset="0.35" stop-color="#ffd100"/><stop offset="0.4" stop-color="#fff800"/><stop offset="0.409" stop-color="#ff0"/><stop offset="0.45" stop-color="#df2"/><stop offset="0.5" stop-color="#afff50"/><stop offset="0.55" stop-color="#78ff87"/><stop offset="0.6" stop-color="#40ffbf"/><stop offset="0.65" stop-color="#0efff1"/><stop offset="0.667" stop-color="#0ff"/><stop offset="0.7" stop-color="#00dcff"/><stop offset="0.75" stop-color="#00d3ff"/><stop offset="0.8" stop-color="#00beff"/><stop offset="0.85" stop-color="#0095ff"/><stop offset="0.9" stop-color="#005fff"/><stop offset="0.95" stop-color="#0027ff"/><stop offset="0.99" stop-color="#00f"/><stop offset="1" stop-color="#0000f8"/></linearGradient><linearGradient id="c47"><stop offset="0" stop-color="#fc0"/><stop offset="0.05" stop-color="#ff9700"/><stop offset="0.1" stop-color="#ff7600"/><stop offset="0.15" stop-color="#ff7c00"/><stop offset="0.2" stop-color="#ffa500"/><stop offset="0.25" stop-color="#ffab00"/><stop offset="0.3" stop-color="#ffb900"/><stop offset="0.35" stop-color="#ffd600"/><stop offset="0.4" stop-color="#fffb00"/><stop offset="0.405" stop-color="#ff0"/><stop offset="0.45" stop-color="#daff25"/><stop offset="0.5" stop-color="#adff52"/><stop offset="0.55" stop-color="#75ff8a"/><stop offset="0.6" stop-color="#41ffbe"/><stop offset="0.65" stop-color="#1fe"/><stop offset="0.671" stop-color="#0ff"/><stop offset="0.7" stop-color="#00d5ff"/><stop offset="0.75" stop-color="#00d7ff"/><stop offset="0.8" stop-color="#00c2ff"/><stop offset="0.85" stop-color="#0097ff"/><stop offset="0.9" stop-color="#0060ff"/><stop offset="0.95" stop-color="#0028ff"/><stop offset="0.993" stop-color="#00f"/><stop offset="1" stop-color="#0000fc"/></linearGradient><linearGradient id="c48"><stop offset="0" stop-color="#ffd100"/><stop offset="0.05" stop-color="#ff9600"/><stop offset="0.1" stop-color="#ff7900"/><stop offset="0.15" stop-color="#ff8c00"/><stop offset="0.2" stop-color="#ffb100"/><stop offset="0.25" stop-color="#ffb400"/><stop offset="0.3" stop-color="#ffc000"/><stop offset="0.35" stop-color="#ffdb00"/><stop offset="0.399" stop-color="#ff0"/><stop offset="0.4" stop-color="#ff0"/><stop offset="0.45" stop-color="#d7ff28"/><stop offset="0.5" stop-color="#abff54"/><stop offset="0.55" stop-color="#70ff8f"/><stop offset="0.6" stop-color="#41ffbe"/><stop offset="0.65" stop-color="#14ffeb"/><stop offset="0.675" stop-color="#0ff"/><stop offset="0.7" stop-color="#00d0ff"/><stop offset="0.75" stop-color="#00daff"/><stop offset="0.8" stop-color="#00c5ff"/><stop offset="0.85" stop-color="#09f"/><stop offset="0.9" stop-color="#0061ff"/><stop offset="0.95" stop-color="#0029ff"/><stop offset="1" stop-color="#0001ff"/></linearGradient><linearGradient id="c49"><stop offset="0" stop-color="#ffd700"/><stop offset="0.05" stop-color="#ff9600"/><stop offset="0.1" stop-color="#ff7f00"/><stop offset="0.15" stop-color="#ffa200"/><stop offset="0.2" stop-color="#ffbd00"/><stop offset="0.25" stop-color="#ffbc00"/><stop offset="0.3" stop-color="#ffc600"/><stop offset="0.35" stop-color="#ffe000"/><stop offset="0.394" stop-color="#ff0"/><stop offset="0.4" stop-color="#faff05"/><stop offset="0.45" stop-color="#d4ff2b"/><stop offset="0.5" stop-color="#a9ff56"/><stop offset="0.55" stop-color="#6f9"/><stop offset="0.6" stop-color="#41ffbe"/><stop offset="0.65" stop-color="#16ffe9"/><stop offset="0.678" stop-color="#0ff"/><stop offset="0.7" stop-color="#00d3ff"/><stop offset="0.75" stop-color="#0df"/><stop offset="0.8" stop-color="#00c7ff"/><stop offset="0.85" stop-color="#009aff"/><stop offset="0.9" stop-color="#0061ff"/><stop offset="0.95" stop-color="#002bff"/><stop offset="1" stop-color="#0006ff"/></linearGradient><linearGradient id="c50"><stop offset="0" stop-color="#fd0"/><stop offset="0.05" stop-color="#ff9a00"/><stop offset="0.1" stop-color="#ff8700"/><stop offset="0.15" stop-color="#ffb900"/><stop offset="0.2" stop-color="#ffc900"/><stop offset="0.25" stop-color="#ffc300"/><stop offset="0.3" stop-color="#ffcd00"/><stop offset="0.35" stop-color="#ffe500"/><stop offset="0.387" stop-color="#ff0"/><stop offset="0.4" stop-color="#f6ff09"/><stop offset="0.45" stop-color="#d0ff2f"/><stop offset="0.5" stop-color="#a6ff59"/><stop offset="0.55" stop-color="#5cffa3"/><stop offset="0.6" stop-color="#40ffbf"/><stop offset="0.65" stop-color="#18ffe7"/><stop offset="0.681" stop-color="#0ff"/><stop offset="0.7" stop-color="#00dfff"/><stop offset="0.75" stop-color="#00e0ff"/><stop offset="0.8" stop-color="#00c8ff"/><stop offset="0.85" stop-color="#009aff"/><stop offset="0.9" stop-color="#0061ff"/><stop offset="0.95" stop-color="#002cff"/><stop offset="1" stop-color="#000cff"/></linearGradient><linearGradient id="c51"><stop offset="0" stop-color="#ffe500"/><stop offset="0.05" stop-color="#ff9f00"/><stop offset="0.1" stop-color="#ff9000"/><stop offset="0.15" stop-color="#ffce00"/><stop offset="0.2" stop-color="#ffd300"/><stop offset="0.25" stop-color="#ffca00"/><stop offset="0.3" stop-color="#ffd400"/><stop offset="0.35" stop-color="#ffec00"/><stop offset="0.38" stop-color="#ff0"/><stop offset="0.4" stop-color="#f1ff0e"/><stop offset="0.45" stop-color="#cf3"/><stop offset="0.5" stop-color="#a3ff5c"/><stop offset="0.55" stop-color="#56ffa9"/><stop offset="0.6" stop-color="#40ffbf"/><stop offset="0.65" stop-color="#19ffe6"/><stop offset="0.684" stop-color="#0ff"/><stop offset="0.7" stop-color="#00ecff"/><stop offset="0.75" stop-color="#00e3ff"/><stop offset="0.8" stop-color="#00c8ff"/><stop offset="0.85" stop-color="#09f"/><stop offset="0.9" stop-color="#0061ff"/><stop offset="0.95" stop-color="#002eff"/><stop offset="1" stop-color="#0013ff"/></linearGradient><linearGradient id="c52"><stop offset="0" stop-color="#fe0"/><stop offset="0.05" stop-color="#ffa700"/><stop offset="0.1" stop-color="#ff9800"/><stop offset="0.15" stop-color="#ffde00"/><stop offset="0.168" stop-color="#ff0"/><stop offset="0.175" stop-color="#ff0"/><stop offset="0.2" stop-color="#ffdc00"/><stop offset="0.25" stop-color="#ffd000"/><stop offset="0.3" stop-color="#ffda00"/><stop offset="0.35" stop-color="#fff200"/><stop offset="0.371" stop-color="#ff0"/><stop offset="0.4" stop-color="#ebff14"/><stop offset="0.45" stop-color="#c8ff37"/><stop offset="0.5" stop-color="#a0ff5f"/><stop offset="0.55" stop-color="#59ffa6"/><stop offset="0.6" stop-color="#3fffc0"/><stop offset="0.65" stop-color="#19ffe6"/><stop offset="0.688" stop-color="#0ff"/><stop offset="0.7" stop-color="#00f5ff"/><stop offset="0.75" stop-color="#00e4ff"/><stop offset="0.8" stop-color="#00c8ff"/><stop offset="0.85" stop-color="#0098ff"/><stop offset="0.9" stop-color="#0060ff"/><stop offset="0.95" stop-color="#0030ff"/><stop offset="1" stop-color="#001bff"/></linearGradient><linearGradient id="c53"><stop offset="0" stop-color="#fff800"/><stop offset="0.05" stop-color="#ffb100"/><stop offset="0.1" stop-color="#ffa100"/><stop offset="0.15" stop-color="#ffe900"/><stop offset="0.159" stop-color="#ff0"/><stop offset="0.184" stop-color="#ff0"/><stop offset="0.2" stop-color="#ffe300"/><stop offset="0.25" stop-color="#ffd600"/><stop offset="0.3" stop-color="#ffe100"/><stop offset="0.35" stop-color="#fff800"/><stop offset="0.361" stop-color="#ff0"/><stop offset="0.4" stop-color="#e6ff19"/><stop offset="0.45" stop-color="#c4ff3b"/><stop offset="0.5" stop-color="#9cff63"/><stop offset="0.55" stop-color="#60ff9f"/><stop offset="0.6" stop-color="#3fffc0"/><stop offset="0.65" stop-color="#19ffe6"/><stop offset="0.69" stop-color="#0ff"/><stop offset="0.7" stop-color="#00f9ff"/><stop offset="0.75" stop-color="#00e4ff"/><stop offset="0.8" stop-color="#00c7ff"/><stop offset="0.85" stop-color="#0097ff"/><stop offset="0.9" stop-color="#005fff"/><stop offset="0.95" stop-color="#03f"/><stop offset="1" stop-color="#0023ff"/></linearGradient><linearGradient id="c54"><stop offset="0" stop-color="#fbff04"/><stop offset="0.004" stop-color="#ff0"/><stop offset="0.05" stop-color="#ffbd00"/><stop offset="0.1" stop-color="#fa0"/><stop offset="0.15" stop-color="#ffef00"/><stop offset="0.156" stop-color="#fffe00"/><stop offset="0.186" stop-color="#feff01"/><stop offset="0.2" stop-color="#ffe700"/><stop offset="0.25" stop-color="#ffdb00"/><stop offset="0.3" stop-color="#ffe800"/><stop offset="0.35" stop-color="#ff0"/><stop offset="0.4" stop-color="#e0ff1f"/><stop offset="0.45" stop-color="#bfff40"/><stop offset="0.5" stop-color="#9f6"/><stop offset="0.55" stop-color="#65ff9a"/><stop offset="0.6" stop-color="#3fffc0"/><stop offset="0.65" stop-color="#19ffe6"/><stop offset="0.691" stop-color="#0ff"/><stop offset="0.7" stop-color="#00faff"/><stop offset="0.75" stop-color="#00e4ff"/><stop offset="0.8" stop-color="#00c6ff"/><stop offset="0.85" stop-color="#0095ff"/><stop offset="0.9" stop-color="#005eff"/><stop offset="0.95" stop-color="#0035ff"/><stop offset="1" stop-color="#002bff"/></linearGradient><linearGradient id="c55"><stop offset="0" stop-color="#f0ff0f"/><stop offset="0.01" stop-color="#ff0"/><stop offset="0.05" stop-color="#ffca00"/><stop offset="0.1" stop-color="#ffb500"/><stop offset="0.15" stop-color="#fff100"/><stop offset="0.156" stop-color="#ff0"/><stop offset="0.186" stop-color="#ff0"/><stop offset="0.2" stop-color="#ffe900"/><stop offset="0.25" stop-color="#ffe000"/><stop offset="0.3" stop-color="#ffef00"/><stop offset="0.336" stop-color="#ff0"/><stop offset="0.35" stop-color="#f8ff07"/><stop offset="0.4" stop-color="#daff25"/><stop offset="0.45" stop-color="#baff45"/><stop offset="0.5" stop-color="#95ff6a"/><stop offset="0.55" stop-color="#67ff98"/><stop offset="0.6" stop-color="#3dffc2"/><stop offset="0.65" stop-color="#18ffe7"/><stop offset="0.69" stop-color="#0ff"/><stop offset="0.7" stop-color="#00faff"/><stop offset="0.75" stop-color="#00e3ff"/><stop offset="0.8" stop-color="#00c4ff"/><stop offset="0.85" stop-color="#0093ff"/><stop offset="0.9" stop-color="#005dff"/><stop offset="0.95" stop-color="#0037ff"/><stop offset="1" stop-color="#0034ff"/></linearGradient><linearGradient id="c56"><stop offset="0" stop-color="#e4ff1b"/><stop offset="0.018" stop-color="#ff0"/><stop offset="0.05" stop-color="#ffd800"/><stop offset="0.1" stop-color="#ffc000"/><stop offset="0.15" stop-color="#fff000"/><stop offset="0.158" stop-color="#ff0"/><stop offset="0.184" stop-color="#ff0"/><stop offset="0.2" stop-color="#ffe900"/><stop offset="0.25" stop-color="#ffe500"/><stop offset="0.3" stop-color="#fff600"/><stop offset="0.322" stop-color="#ff0"/><stop offset="0.35" stop-color="#f1ff0e"/><stop offset="0.4" stop-color="#d4ff2b"/><stop offset="0.45" stop-color="#b5ff4a"/><stop offset="0.5" stop-color="#90ff6f"/><stop offset="0.55" stop-color="#6f9"/><stop offset="0.6" stop-color="#3cffc3"/><stop offset="0.65" stop-color="#17ffe8"/><stop offset="0.689" stop-color="#0ff"/><stop offset="0.7" stop-color="#00f9ff"/><stop offset="0.75" stop-color="#00e1ff"/><stop offset="0.8" stop-color="#00c2ff"/><stop offset="0.85" stop-color="#0090ff"/><stop offset="0.9" stop-color="#005cff"/><stop offset="0.95" stop-color="#003aff"/><stop offset="1" stop-color="#003dff"/></linearGradient><linearGradient id="c57"><stop offset="0" stop-color="#d8ff27"/><stop offset="0.028" stop-color="#ff0"/><stop offset="0.05" stop-color="#ffe800"/><stop offset="0.1" stop-color="#ffcd00"/><stop offset="0.15" stop-color="#fe0"/><stop offset="0.164" stop-color="#ff0"/><stop offset="0.177" stop-color="#ff0"/><stop offset="0.2" stop-color="#ffe900"/><stop offset="0.25" stop-color="#ffe900"/><stop offset="0.3" stop-color="#fffc00"/><stop offset="0.306" stop-color="#ff0"/><stop offset="0.35" stop-color="#eaff15"/><stop offset="0.4" stop-color="#ceff31"/><stop offset="0.45" stop-color="#afff50"/><stop offset="0.5" stop-color="#8cff73"/><stop offset="0.55" stop-color="#63ff9c"/><stop offset="0.6" stop-color="#3affc5"/><stop offset="0.65" stop-color="#16ffe9"/><stop offset="0.686" stop-color="#0ff"/><stop offset="0.7" stop-color="#00f8ff"/><stop offset="0.75" stop-color="#00dfff"/><stop offset="0.8" stop-color="#00bfff"/><stop offset="0.85" stop-color="#008eff"/><stop offset="0.9" stop-color="#005bff"/><stop offset="0.95" stop-color="#003cff"/><stop offset="1" stop-color="#0045ff"/></linearGradient><linearGradient id="c58"><stop offset="0" stop-color="#cbff34"/><stop offset="0.042" stop-color="#ff0"/><stop offset="0.05" stop-color="#fff800"/><stop offset="0.1" stop-color="#ffda00"/><stop offset="0.15" stop-color="#ffed00"/><stop offset="0.2" stop-color="#ffe900"/><stop offset="0.25" stop-color="#fe0"/><stop offset="0.292" stop-color="#ff0"/><stop offset="0.3" stop-color="#fbff04"/><stop offset="0.35" stop-color="#e3ff1c"/><stop offset="0.4" stop-color="#c8ff37"/><stop offset="0.45" stop-color="#af5"/><stop offset="0.5" stop-color="#87ff78"/><stop offset="0.55" stop-color="#5fffa0"/><stop offset="0.6" stop-color="#37ffc8"/><stop offset="0.65" stop-color="#14ffeb"/><stop offset="0.684" stop-color="#0ff"/><stop offset="0.7" stop-color="#00f6ff"/><stop offset="0.75" stop-color="#0df"/><stop offset="0.8" stop-color="#00bcff"/><stop offset="0.85" stop-color="#008bff"/><stop offset="0.9" stop-color="#005aff"/><stop offset="0.95" stop-color="#003eff"/><stop offset="1" stop-color="#004cff"/></linearGradient><linearGradient id="c59"><stop offset="0" stop-color="#bfff40"/><stop offset="0.05" stop-color="#f5ff0a"/><stop offset="0.062" stop-color="#ff0"/><stop offset="0.1" stop-color="#ffe900"/><stop offset="0.15" stop-color="#ffed00"/><stop offset="0.2" stop-color="#ffe900"/><stop offset="0.25" stop-color="#fff200"/><stop offset="0.278" stop-color="#ff0"/><stop offset="0.3" stop-color="#f5ff0a"/><stop offset="0.35" stop-color="#dcff23"/><stop offset="0.4" stop-color="#c2ff3d"/><stop offset="0.45" stop-color="#a4ff5b"/><stop offset="0.5" stop-color="#82ff7d"/><stop offset="0.55" stop-color="#5cffa3"/><stop offset="0.6" stop-color="#35ffca"/><stop offset="0.65" stop-color="#12ffed"/><stop offset="0.681" stop-color="#0ff"/><stop offset="0.7" stop-color="#00f4ff"/><stop offset="0.75" stop-color="#00dbff"/><stop offset="0.8" stop-color="#00baff"/><stop offset="0.85" stop-color="#0089ff"/><stop offset="0.9" stop-color="#0058ff"/><stop offset="0.95" stop-color="#0040ff"/><stop offset="1" stop-color="#0053ff"/></linearGradient><linearGradient id="c60"><stop offset="0" stop-color="#b2ff4d"/><stop offset="0.05" stop-color="#e4ff1b"/><stop offset="0.086" stop-color="#ff0"/><stop offset="0.1" stop-color="#fff700"/><stop offset="0.15" stop-color="#fff000"/><stop offset="0.2" stop-color="#ffeb00"/><stop offset="0.25" stop-color="#fff700"/><stop offset="0.267" stop-color="#ff0"/><stop offset="0.3" stop-color="#efff10"/><stop offset="0.35" stop-color="#d6ff29"/><stop offset="0.4" stop-color="#bcff43"/><stop offset="0.45" stop-color="#9eff61"/><stop offset="0.5" stop-color="#7dff82"/><stop offset="0.55" stop-color="#58ffa7"/><stop offset="0.6" stop-color="#32ffcd"/><stop offset="0.65" stop-color="#1fe"/><stop offset="0.678" stop-color="#0ff"/><stop offset="0.7" stop-color="#00f3ff"/><stop offset="0.75" stop-color="#00d9ff"/><stop offset="0.8" stop-color="#00b7ff"/><stop offset="0.85" stop-color="#0086ff"/><stop offset="0.9" stop-color="#05f"/><stop offset="0.95" stop-color="#0042ff"/><stop offset="1" stop-color="#0059ff"/></linearGradient><linearGradient id="c61"><stop offset="0" stop-color="#a6ff59"/><stop offset="0.05" stop-color="#d3ff2c"/><stop offset="0.1" stop-color="#f7ff08"/><stop offset="0.114" stop-color="#ff0"/><stop offset="0.15" stop-color="#fff600"/><stop offset="0.2" stop-color="#ffef00"/><stop offset="0.25" stop-color="#fffc00"/><stop offset="0.256" stop-color="#ff0"/><stop offset="0.3" stop-color="#e8ff17"/><stop offset="0.35" stop-color="#cfff30"/><stop offset="0.4" stop-color="#b6ff49"/><stop offset="0.45" stop-color="#9f6"/><stop offset="0.5" stop-color="#78ff87"/><stop offset="0.55" stop-color="#54ffab"/><stop offset="0.6" stop-color="#2fffd0"/><stop offset="0.65" stop-color="#0efff1"/><stop offset="0.674" stop-color="#0ff"/><stop offset="0.7" stop-color="#00f1ff"/><stop offset="0.75" stop-color="#00d6ff"/><stop offset="0.8" stop-color="#00b4ff"/><stop offset="0.85" stop-color="#0083ff"/><stop offset="0.9" stop-color="#0050ff"/><stop offset="0.95" stop-color="#0043ff"/><stop offset="1" stop-color="#005dff"/></linearGradient><linearGradient id="c62"><stop offset="0" stop-color="#9aff65"/><stop offset="0.05" stop-color="#c2ff3d"/><stop offset="0.1" stop-color="#e8ff17"/><stop offset="0.147" stop-color="#ff0"/><stop offset="0.15" stop-color="#fffe00"/><stop offset="0.2" stop-color="#fff400"/><stop offset="0.244" stop-color="#ff0"/><stop offset="0.25" stop-color="#fcff03"/><stop offset="0.3" stop-color="#e3ff1c"/><stop offset="0.35" stop-color="#c9ff36"/><stop offset="0.4" stop-color="#b0ff4f"/><stop offset="0.45" stop-color="#93ff6c"/><stop offset="0.5" stop-color="#73ff8c"/><stop offset="0.55" stop-color="#4fffb0"/><stop offset="0.6" stop-color="#2cffd3"/><stop offset="0.65" stop-color="#0cfff3"/><stop offset="0.671" stop-color="#0ff"/><stop offset="0.7" stop-color="#00efff"/><stop offset="0.75" stop-color="#00d4ff"/><stop offset="0.8" stop-color="#00b1ff"/><stop offset="0.85" stop-color="#0081ff"/><stop offset="0.9" stop-color="#0047ff"/><stop offset="0.95" stop-color="#04f"/><stop offset="1" stop-color="#0060ff"/></linearGradient><linearGradient id="c63"><stop offset="0" stop-color="#8fff70"/><stop offset="0.05" stop-color="#b1ff4e"/><stop offset="0.1" stop-color="#d8ff27"/><stop offset="0.15" stop-color="#f6ff09"/><stop offset="0.177" stop-color="#ff0"/><stop offset="0.2" stop-color="#fffb00"/><stop offset="0.228" stop-color="#ff0"/><stop offset="0.25" stop-color="#f7ff08"/><stop offset="0.3" stop-color="#df2"/><stop offset="0.35" stop-color="#c3ff3c"/><stop offset="0.4" stop-color="#af5"/><stop offset="0.45" stop-color="#8dff72"/><stop offset="0.5" stop-color="#6dff92"/><stop offset="0.55" stop-color="#4bffb4"/><stop offset="0.6" stop-color="#29ffd6"/><stop offset="0.65" stop-color="#0afff5"/><stop offset="0.667" stop-color="#0ff"/><stop offset="0.7" stop-color="#00edff"/><stop offset="0.75" stop-color="#00d1ff"/><stop offset="0.8" stop-color="#00afff"/><stop offset="0.85" stop-color="#007eff"/><stop offset="0.9" stop-color="#003bff"/><stop offset="0.95" stop-color="#0045ff"/><stop offset="1" stop-color="#0061ff"/></linearGradient><linearGradient id="c64"><stop offset="0" stop-color="#84ff7b"/><stop offset="0.05" stop-color="#a1ff5e"/><stop offset="0.1" stop-color="#c8ff37"/><stop offset="0.15" stop-color="#eaff15"/><stop offset="0.2" stop-color="#fbff04"/><stop offset="0.25" stop-color="#f1ff0e"/><stop offset="0.3" stop-color="#d8ff27"/><stop offset="0.35" stop-color="#beff41"/><stop offset="0.4" stop-color="#a4ff5b"/><stop offset="0.45" stop-color="#87ff78"/><stop offset="0.5" stop-color="#68ff97"/><stop offset="0.55" stop-color="#47ffb8"/><stop offset="0.6" stop-color="#26ffd9"/><stop offset="0.65" stop-color="#08fff7"/><stop offset="0.664" stop-color="#0ff"/><stop offset="0.7" stop-color="#00ebff"/><stop offset="0.75" stop-color="#00cfff"/><stop offset="0.8" stop-color="#00acff"/><stop offset="0.85" stop-color="#007cff"/><stop offset="0.9" stop-color="#002fff"/><stop offset="0.95" stop-color="#0046ff"/><stop offset="1" stop-color="#0061ff"/></linearGradient><linearGradient id="c65"><stop offset="0" stop-color="#79ff86"/><stop offset="0.05" stop-color="#91ff6e"/><stop offset="0.1" stop-color="#b8ff47"/><stop offset="0.15" stop-color="#deff21"/><stop offset="0.2" stop-color="#f3ff0c"/><stop offset="0.25" stop-color="#ebff14"/><stop offset="0.3" stop-color="#d2ff2d"/><stop offset="0.35" stop-color="#b9ff46"/><stop offset="0.4" stop-color="#9eff61"/><stop offset="0.45" stop-color="#81ff7e"/><stop offset="0.5" stop-color="#62ff9d"/><stop offset="0.55" stop-color="#42ffbd"/><stop offset="0.6" stop-color="#23ffdc"/><stop offset="0.65" stop-color="#06fff9"/><stop offset="0.66" stop-color="#0ff"/><stop offset="0.7" stop-color="#00e9ff"/><stop offset="0.75" stop-color="#00cdff"/><stop offset="0.8" stop-color="#0af"/><stop offset="0.85" stop-color="#007bff"/><stop offset="0.9" stop-color="#0029ff"/><stop offset="0.95" stop-color="#0046ff"/><stop offset="1" stop-color="#0060ff"/></linearGradient><linearGradient id="c66"><stop offset="0" stop-color="#6fff90"/><stop offset="0.05" stop-color="#82ff7d"/><stop offset="0.1" stop-color="#a9ff56"/><stop offset="0.15" stop-color="#d2ff2d"/><stop offset="0.2" stop-color="#e9ff16"/><stop offset="0.25" stop-color="#e4ff1b"/><stop offset="0.3" stop-color="#cdff32"/><stop offset="0.35" stop-color="#b4ff4b"/><stop offset="0.4" stop-color="#9f6"/><stop offset="0.45" stop-color="#7cff83"/><stop offset="0.5" stop-color="#5dffa2"/><stop offset="0.55" stop-color="#3effc1"/><stop offset="0.6" stop-color="#1fffe0"/><stop offset="0.65" stop-color="#03fffc"/><stop offset="0.656" stop-color="#0ff"/><stop offset="0.7" stop-color="#00e7ff"/><stop offset="0.75" stop-color="#00cbff"/><stop offset="0.8" stop-color="#00a8ff"/><stop offset="0.85" stop-color="#007aff"/><stop offset="0.9" stop-color="#002cff"/><stop offset="0.95" stop-color="#0047ff"/><stop offset="1" stop-color="#005eff"/></linearGradient><linearGradient id="c67"><stop offset="0" stop-color="#6f9"/><stop offset="0.05" stop-color="#74ff8b"/><stop offset="0.1" stop-color="#9aff65"/><stop offset="0.15" stop-color="#c5ff3a"/><stop offset="0.2" stop-color="#e0ff1f"/><stop offset="0.25" stop-color="#df2"/><stop offset="0.3" stop-color="#c8ff37"/><stop offset="0.35" stop-color="#afff50"/><stop offset="0.4" stop-color="#94ff6b"/><stop offset="0.45" stop-color="#76ff89"/><stop offset="0.5" stop-color="#58ffa7"/><stop offset="0.55" stop-color="#39ffc6"/><stop offset="0.6" stop-color="#1cffe3"/><stop offset="0.65" stop-color="#01fffe"/><stop offset="0.651" stop-color="#0ff"/><stop offset="0.7" stop-color="#00e5ff"/><stop offset="0.75" stop-color="#00c9ff"/><stop offset="0.8" stop-color="#00a7ff"/><stop offset="0.85" stop-color="#007aff"/><stop offset="0.9" stop-color="#0036ff"/><stop offset="0.95" stop-color="#0047ff"/><stop offset="1" stop-color="#005cff"/></linearGradient><linearGradient id="c68"><stop offset="0" stop-color="#5dffa2"/><stop offset="0.05" stop-color="#6f9"/><stop offset="0.1" stop-color="#8cff73"/><stop offset="0.15" stop-color="#b8ff47"/><stop offset="0.2" stop-color="#d6ff29"/><stop offset="0.25" stop-color="#d7ff28"/><stop offset="0.3" stop-color="#c4ff3b"/><stop offset="0.35" stop-color="#abff54"/><stop offset="0.4" stop-color="#8fff70"/><stop offset="0.45" stop-color="#71ff8e"/><stop offset="0.5" stop-color="#52ffad"/><stop offset="0.55" stop-color="#35ffca"/><stop offset="0.6" stop-color="#18ffe7"/><stop offset="0.646" stop-color="#0ff"/><stop offset="0.65" stop-color="#00fdff"/><stop offset="0.7" stop-color="#00e3ff"/><stop offset="0.75" stop-color="#00c7ff"/><stop offset="0.8" stop-color="#00a5ff"/><stop offset="0.85" stop-color="#007aff"/><stop offset="0.9" stop-color="#0043ff"/><stop offset="0.95" stop-color="#0048ff"/><stop offset="1" stop-color="#0059ff"/></linearGradient><linearGradient id="c69"><stop offset="0" stop-color="#5fa"/><stop offset="0.05" stop-color="#5affa5"/><stop offset="0.1" stop-color="#7eff81"/><stop offset="0.15" stop-color="#acff53"/><stop offset="0.2" stop-color="#cf3"/><stop offset="0.25" stop-color="#d0ff2f"/><stop offset="0.3" stop-color="#bfff40"/><stop offset="0.35" stop-color="#a6ff59"/><stop offset="0.4" stop-color="#8aff75"/><stop offset="0.45" stop-color="#6cff93"/><stop offset="0.5" stop-color="#4dffb2"/><stop offset="0.55" stop-color="#30ffcf"/><stop offset="0.6" stop-color="#15ffea"/><stop offset="0.641" stop-color="#0ff"/><stop offset="0.65" stop-color="#00faff"/><stop offset="0.7" stop-color="#00e0ff"/><stop offset="0.75" stop-color="#00c5ff"/><stop offset="0.8" stop-color="#00a3ff"/><stop offset="0.85" stop-color="#007bff"/><stop offset="0.9" stop-color="#004eff"/><stop offset="0.95" stop-color="#0048ff"/><stop offset="1" stop-color="#0056ff"/></linearGradient><linearGradient id="c70"><stop offset="0" stop-color="#4dffb2"/><stop offset="0.05" stop-color="#4fffb0"/><stop offset="0.1" stop-color="#72ff8d"/><stop offset="0.15" stop-color="#a0ff5f"/><stop offset="0.2" stop-color="#c2ff3d"/><stop offset="0.25" stop-color="#c9ff36"/><stop offset="0.3" stop-color="#baff45"/><stop offset="0.35" stop-color="#a2ff5d"/><stop offset="0.4" stop-color="#85ff7a"/><stop offset="0.45" stop-color="#67ff98"/><stop offset="0.5" stop-color="#48ffb7"/><stop offset="0.55" stop-color="#2cffd3"/><stop offset="0.6" stop-color="#12ffed"/><stop offset="0.635" stop-color="#0ff"/><stop offset="0.65" stop-color="#00f7ff"/><stop offset="0.7" stop-color="#00deff"/><stop offset="0.75" stop-color="#00c2ff"/><stop offset="0.8" stop-color="#00a2ff"/><stop offset="0.85" stop-color="#007cff"/><stop offset="0.9" stop-color="#05f"/><stop offset="0.95" stop-color="#0048ff"/><stop offset="1" stop-color="#0053ff"/></linearGradient><linearGradient id="c71"><stop offset="0" stop-color="#46ffb9"/><stop offset="0.05" stop-color="#45ffba"/><stop offset="0.1" stop-color="#6f9"/><stop offset="0.15" stop-color="#94ff6b"/><stop offset="0.2" stop-color="#b9ff46"/><stop offset="0.25" stop-color="#c2ff3d"/><stop offset="0.3" stop-color="#b6ff49"/><stop offset="0.35" stop-color="#9eff61"/><stop offset="0.4" stop-color="#81ff7e"/><stop offset="0.45" stop-color="#62ff9d"/><stop offset="0.5" stop-color="#4fb"/><stop offset="0.55" stop-color="#28ffd7"/><stop offset="0.6" stop-color="#0efff1"/><stop offset="0.629" stop-color="#0ff"/><stop offset="0.65" stop-color="#00f4ff"/><stop offset="0.7" stop-color="#00dbff"/><stop offset="0.75" stop-color="#00c0ff"/><stop offset="0.8" stop-color="#00a1ff"/><stop offset="0.85" stop-color="#007cff"/><stop offset="0.9" stop-color="#0059ff"/><stop offset="0.95" stop-color="#0048ff"/><stop offset="1" stop-color="#0051ff"/></linearGradient><linearGradient id="c72"><stop offset="0" stop-color="#40ffbf"/><stop offset="0.05" stop-color="#3cffc3"/><stop offset="0.1" stop-color="#5cffa3"/><stop offset="0.15" stop-color="#8aff75"/><stop offset="0.2" stop-color="#afff50"/><stop offset="0.25" stop-color="#bf4"/><stop offset="0.3" stop-color="#b1ff4e"/><stop offset="0.35" stop-color="#9aff65"/><stop offset="0.4" stop-color="#7dff82"/><stop offset="0.45" stop-color="#5dffa2"/><stop offset="0.5" stop-color="#3fffc0"/><stop offset="0.55" stop-color="#24ffdb"/><stop offset="0.6" stop-color="#0bfff4"/><stop offset="0.622" stop-color="#0ff"/><stop offset="0.65" stop-color="#00f1ff"/><stop offset="0.7" stop-color="#00d8ff"/><stop offset="0.75" stop-color="#00beff"/><stop offset="0.8" stop-color="#00a0ff"/><stop offset="0.85" stop-color="#007dff"/><stop offset="0.9" stop-color="#005bff"/><stop offset="0.95" stop-color="#0047ff"/><stop offset="1" stop-color="#004eff"/></linearGradient><linearGradient id="c73"><stop offset="0" stop-color="#3bffc4"/><stop offset="0.05" stop-color="#35ffca"/><stop offset="0.1" stop-color="#53ffac"/><stop offset="0.15" stop-color="#80ff7f"/><stop offset="0.2" stop-color="#a6ff59"/><stop offset="0.25" stop-color="#b4ff4b"/><stop offset="0.3" stop-color="#acff53"/><stop offset="0.35" stop-color="#96ff69"/><stop offset="0.4" stop-color="#79ff86"/><stop offset="0.45" stop-color="#59ffa6"/><stop offset="0.5" stop-color="#3bffc4"/><stop offset="0.55" stop-color="#21ffde"/><stop offset="0.6" stop-color="#08fff7"/><stop offset="0.616" stop-color="#0ff"/><stop offset="0.65" stop-color="#0ef"/><stop offset="0.7" stop-color="#00d4ff"/><stop offset="0.75" stop-color="#0bf"/><stop offset="0.8" stop-color="#009fff"/><stop offset="0.85" stop-color="#007eff"/><stop offset="0.9" stop-color="#005bff"/><stop offset="0.95" stop-color="#04f"/><stop offset="1" stop-color="#004dff"/></linearGradient><linearGradient id="c74"><stop offset="0" stop-color="#36ffc9"/><stop offset="0.05" stop-color="#30ffcf"/><stop offset="0.1" stop-color="#4cffb3"/><stop offset="0.15" stop-color="#7f8"/><stop offset="0.2" stop-color="#9dff62"/><stop offset="0.25" stop-color="#adff52"/><stop offset="0.3" stop-color="#a8ff57"/><stop offset="0.35" stop-color="#93ff6c"/><stop offset="0.4" stop-color="#75ff8a"/><stop offset="0.45" stop-color="#5fa"/><stop offset="0.5" stop-color="#38ffc7"/><stop offset="0.55" stop-color="#1effe1"/><stop offset="0.6" stop-color="#05fffa"/><stop offset="0.609" stop-color="#0ff"/><stop offset="0.65" stop-color="#00eaff"/><stop offset="0.7" stop-color="#00d1ff"/><stop offset="0.75" stop-color="#00b9ff"/><stop offset="0.8" stop-color="#009eff"/><stop offset="0.85" stop-color="#007fff"/><stop offset="0.9" stop-color="#0059ff"/><stop offset="0.95" stop-color="#003fff"/><stop offset="1" stop-color="#004cff"/></linearGradient><linearGradient id="c75"><stop offset="0" stop-color="#3fc"/><stop offset="0.05" stop-color="#2cffd3"/><stop offset="0.1" stop-color="#46ffb9"/><stop offset="0.15" stop-color="#70ff8f"/><stop offset="0.2" stop-color="#95ff6a"/><stop offset="0.25" stop-color="#a7ff58"/><stop offset="0.3" stop-color="#a3ff5c"/><stop offset="0.35" stop-color="#8fff70"/><stop offset="0.4" stop-color="#71ff8e"/><stop offset="0.45" stop-color="#52ffad"/><stop offset="0.5" stop-color="#35ffca"/><stop offset="0.55" stop-color="#1bffe4"/><stop offset="0.6" stop-color="#02fffd"/><stop offset="0.604" stop-color="#0ff"/><stop offset="0.65" stop-color="#00e6ff"/><stop offset="0.7" stop-color="#00cdff"/><stop offset="0.75" stop-color="#00b6ff"/><stop offset="0.8" stop-color="#009dff"/><stop offset="0.85" stop-color="#0080ff"/><stop offset="0.9" stop-color="#05f"/><stop offset="0.95" stop-color="#0037ff"/><stop offset="1" stop-color="#004cff"/></linearGradient><linearGradient id="c76"><stop offset="0" stop-color="#30ffcf"/><stop offset="0.05" stop-color="#2affd5"/><stop offset="0.1" stop-color="#43ffbc"/><stop offset="0.15" stop-color="#6aff95"/><stop offset="0.2" stop-color="#8eff71"/><stop offset="0.25" stop-color="#a0ff5f"/><stop offset="0.3" stop-color="#9eff61"/><stop offset="0.35" stop-color="#8bff74"/><stop offset="0.4" stop-color="#6eff91"/><stop offset="0.45" stop-color="#4fffb0"/><stop offset="0.5" stop-color="#32ffcd"/><stop offset="0.55" stop-color="#18ffe7"/><stop offset="0.598" stop-color="#0ff"/><stop offset="0.6" stop-color="#00feff"/><stop offset="0.65" stop-color="#00e2ff"/><stop offset="0.7" stop-color="#00c8ff"/><stop offset="0.75" stop-color="#00b3ff"/><stop offset="0.8" stop-color="#009dff"/><stop offset="0.85" stop-color="#0081ff"/><stop offset="0.9" stop-color="#0051ff"/><stop offset="0.95" stop-color="#002eff"/><stop offset="1" stop-color="#004dff"/></linearGradient><linearGradient id="c77"><stop offset="0" stop-color="#2dffd2"/><stop offset="0.05" stop-color="#29ffd6"/><stop offset="0.1" stop-color="#40ffbf"/><stop offset="0.15" stop-color="#64ff9b"/><stop offset="0.2" stop-color="#87ff78"/><stop offset="0.25" stop-color="#9aff65"/><stop offset="0.3" stop-color="#9aff65"/><stop offset="0.35" stop-color="#8f7"/><stop offset="0.4" stop-color="#6bff94"/><stop offset="0.45" stop-color="#4cffb3"/><stop offset="0.5" stop-color="#2fffd0"/><stop offset="0.55" stop-color="#16ffe9"/><stop offset="0.593" stop-color="#0ff"/><stop offset="0.6" stop-color="#00fbff"/><stop offset="0.65" stop-color="#00deff"/><stop offset="0.7" stop-color="#00c4ff"/><stop offset="0.75" stop-color="#00b0ff"/><stop offset="0.8" stop-color="#009cff"/><stop offset="0.85" stop-color="#0083ff"/><stop offset="0.9" stop-color="#004eff"/><stop offset="0.95" stop-color="#0027ff"/><stop offset="1" stop-color="#0050ff"/></linearGradient><linearGradient id="c78"><stop offset="0" stop-color="#2cffd3"/><stop offset="0.05" stop-color="#29ffd6"/><stop offset="0.1" stop-color="#3effc1"/><stop offset="0.15" stop-color="#60ff9f"/><stop offset="0.2" stop-color="#80ff7f"/><stop offset="0.25" stop-color="#93ff6c"/><stop offset="0.3" stop-color="#95ff6a"/><stop offset="0.35" stop-color="#84ff7b"/><stop offset="0.4" stop-color="#68ff97"/><stop offset="0.45" stop-color="#49ffb6"/><stop offset="0.5" stop-color="#2cffd3"/><stop offset="0.55" stop-color="#13ffec"/><stop offset="0.587" stop-color="#0ff"/><stop offset="0.6" stop-color="#00f8ff"/><stop offset="0.65" stop-color="#00daff"/><stop offset="0.7" stop-color="#00bfff"/><stop offset="0.75" stop-color="#00adff"/><stop offset="0.8" stop-color="#009cff"/><stop offset="0.85" stop-color="#0085ff"/><stop offset="0.9" stop-color="#004eff"/><stop offset="0.95" stop-color="#0025ff"/><stop offset="1" stop-color="#0052ff"/></linearGradient><linearGradient id="c79"><stop offset="0" stop-color="#2affd5"/><stop offset="0.05" stop-color="#29ffd6"/><stop offset="0.1" stop-color="#3dffc2"/><stop offset="0.15" stop-color="#5cffa3"/><stop offset="0.2" stop-color="#7aff85"/><stop offset="0.25" stop-color="#8dff72"/><stop offset="0.3" stop-color="#90ff6f"/><stop offset="0.35" stop-color="#80ff7f"/><stop offset="0.4" stop-color="#65ff9a"/><stop offset="0.45" stop-color="#47ffb8"/><stop offset="0.5" stop-color="#2affd5"/><stop offset="0.55" stop-color="#1fe"/><stop offset="0.582" stop-color="#0ff"/><stop offset="0.6" stop-color="#00f5ff"/><stop offset="0.65" stop-color="#00d6ff"/><stop offset="0.7" stop-color="#00baff"/><stop offset="0.75" stop-color="#0af"/><stop offset="0.8" stop-color="#009cff"/><stop offset="0.85" stop-color="#0086ff"/><stop offset="0.9" stop-color="#0052ff"/><stop offset="0.95" stop-color="#002aff"/><stop offset="1" stop-color="#0056ff"/></linearGradient><linearGradient id="c80"><stop offset="0" stop-color="#28ffd7"/><stop offset="0.05" stop-color="#2affd5"/><stop offset="0.1" stop-color="#3dffc2"/><stop offset="0.15" stop-color="#58ffa7"/><stop offset="0.2" stop-color="#74ff8b"/><stop offset="0.25" stop-color="#87ff78"/><stop offset="0.3" stop-color="#8bff74"/><stop offset="0.35" stop-color="#7cff83"/><stop offset="0.4" stop-color="#62ff9d"/><stop offset="0.45" stop-color="#4fb"/><stop offset="0.5" stop-color="#28ffd7"/><stop offset="0.55" stop-color="#0efff1"/><stop offset="0.576" stop-color="#0ff"/><stop offset="0.6" stop-color="#00f1ff"/><stop offset="0.65" stop-color="#00d1ff"/><stop offset="0.7" stop-color="#00b6ff"/><stop offset="0.75" stop-color="#00a7ff"/><stop offset="0.8" stop-color="#009cff"/><stop offset="0.85" stop-color="#08f"/><stop offset="0.9" stop-color="#005aff"/><stop offset="0.95" stop-color="#0036ff"/><stop offset="1" stop-color="#005aff"/></linearGradient><linearGradient id="c81"><stop offset="0" stop-color="#27ffd8"/><stop offset="0.05" stop-color="#2bffd4"/><stop offset="0.1" stop-color="#3dffc2"/><stop offset="0.15" stop-color="#5fa"/><stop offset="0.2" stop-color="#6eff91"/><stop offset="0.25" stop-color="#81ff7e"/><stop offset="0.3" stop-color="#86ff79"/><stop offset="0.35" stop-color="#79ff86"/><stop offset="0.4" stop-color="#5fffa0"/><stop offset="0.45" stop-color="#42ffbd"/><stop offset="0.5" stop-color="#25ffda"/><stop offset="0.55" stop-color="#0bfff4"/><stop offset="0.57" stop-color="#0ff"/><stop offset="0.6" stop-color="#0ef"/><stop offset="0.65" stop-color="#0cf"/><stop offset="0.7" stop-color="#00b1ff"/><stop offset="0.75" stop-color="#00a4ff"/><stop offset="0.8" stop-color="#009cff"/><stop offset="0.85" stop-color="#008aff"/><stop offset="0.9" stop-color="#0063ff"/><stop offset="0.95" stop-color="#0045ff"/><stop offset="1" stop-color="#005eff"/></linearGradient><linearGradient id="c82"><stop offset="0" stop-color="#25ffda"/><stop offset="0.05" stop-color="#2dffd2"/><stop offset="0.1" stop-color="#3dffc2"/><stop offset="0.15" stop-color="#52ffad"/><stop offset="0.2" stop-color="#69ff96"/><stop offset="0.25" stop-color="#7bff84"/><stop offset="0.3" stop-color="#81ff7e"/><stop offset="0.35" stop-color="#75ff8a"/><stop offset="0.4" stop-color="#5cffa3"/><stop offset="0.45" stop-color="#3fffc0"/><stop offset="0.5" stop-color="#23ffdc"/><stop offset="0.55" stop-color="#08fff7"/><stop offset="0.564" stop-color="#0ff"/><stop offset="0.6" stop-color="#00e9ff"/><stop offset="0.65" stop-color="#00c8ff"/><stop offset="0.7" stop-color="#00adff"/><stop offset="0.75" stop-color="#00a2ff"/><stop offset="0.8" stop-color="#009cff"/><stop offset="0.85" stop-color="#008cff"/><stop offset="0.9" stop-color="#006dff"/><stop offset="0.95" stop-color="#0054ff"/><stop offset="1" stop-color="#0063ff"/></linearGradient><linearGradient id="c83"><stop offset="0" stop-color="#24ffdb"/><stop offset="0.05" stop-color="#2dffd2"/><stop offset="0.1" stop-color="#3dffc2"/><stop offset="0.15" stop-color="#4fffb0"/><stop offset="0.2" stop-color="#63ff9c"/><stop offset="0.25" stop-color="#75ff8a"/><stop offset="0.3" stop-color="#7cff83"/><stop offset="0.35" stop-color="#71ff8e"/><stop offset="0.4" stop-color="#59ffa6"/><stop offset="0.45" stop-color="#3dffc2"/><stop offset="0.5" stop-color="#20ffdf"/><stop offset="0.55" stop-color="#04fffb"/><stop offset="0.557" stop-color="#0ff"/><stop offset="0.6" stop-color="#00e5ff"/><stop offset="0.65" stop-color="#00c3ff"/><stop offset="0.7" stop-color="#00a9ff"/><stop offset="0.75" stop-color="#00a0ff"/><stop offset="0.8" stop-color="#009cff"/><stop offset="0.85" stop-color="#008eff"/><stop offset="0.9" stop-color="#0075ff"/><stop offset="0.95" stop-color="#0061ff"/><stop offset="1" stop-color="#0067ff"/></linearGradient><linearGradient id="c84"><stop offset="0" stop-color="#21ffde"/><stop offset="0.05" stop-color="#2effd1"/><stop offset="0.1" stop-color="#3cffc3"/><stop offset="0.15" stop-color="#4cffb3"/><stop offset="0.2" stop-color="#5effa1"/><stop offset="0.25" stop-color="#6fff90"/><stop offset="0.3" stop-color="#7f8"/><stop offset="0.35" stop-color="#6cff93"/><stop offset="0.4" stop-color="#5fa"/><stop offset="0.45" stop-color="#3affc5"/><stop offset="0.5" stop-color="#1dffe2"/><stop offset="0.55" stop-color="#0ff"/><stop offset="0.6" stop-color="#00e0ff"/><stop offset="0.65" stop-color="#00beff"/><stop offset="0.7" stop-color="#00a5ff"/><stop offset="0.75" stop-color="#009eff"/><stop offset="0.8" stop-color="#009cff"/><stop offset="0.85" stop-color="#0090ff"/><stop offset="0.9" stop-color="#007aff"/><stop offset="0.95" stop-color="#0069ff"/><stop offset="1" stop-color="#006cff"/></linearGradient><linearGradient id="c85"><stop offset="0" stop-color="#1fffe0"/><stop offset="0.05" stop-color="#2dffd2"/><stop offset="0.1" stop-color="#3bffc4"/><stop offset="0.15" stop-color="#49ffb6"/><stop offset="0.2" stop-color="#59ffa6"/><stop offset="0.25" stop-color="#6aff95"/><stop offset="0.3" stop-color="#72ff8d"/><stop offset="0.35" stop-color="#68ff97"/><stop offset="0.4" stop-color="#52ffad"/><stop offset="0.45" stop-color="#37ffc8"/><stop offset="0.5" stop-color="#19ffe6"/><stop offset="0.542" stop-color="#0ff"/><stop offset="0.55" stop-color="#00faff"/><stop offset="0.6" stop-color="#00daff"/><stop offset="0.65" stop-color="#00b8ff"/><stop offset="0.7" stop-color="#00a2ff"/><stop offset="0.75" stop-color="#009dff"/><stop offset="0.8" stop-color="#009dff"/><stop offset="0.85" stop-color="#0092ff"/><stop offset="0.9" stop-color="#007eff"/><stop offset="0.95" stop-color="#006eff"/><stop offset="1" stop-color="#0070ff"/></linearGradient><linearGradient id="c86"><stop offset="0" stop-color="#1bffe4"/><stop offset="0.05" stop-color="#2cffd3"/><stop offset="0.1" stop-color="#39ffc6"/><stop offset="0.15" stop-color="#45ffba"/><stop offset="0.2" stop-color="#53ffac"/><stop offset="0.25" stop-color="#63ff9c"/><stop offset="0.3" stop-color="#6dff92"/><stop offset="0.35" stop-color="#63ff9c"/><stop offset="0.4" stop-color="#4effb1"/><stop offset="0.45" stop-color="#3fc"/><stop offset="0.5" stop-color="#16ffe9"/><stop offset="0.534" stop-color="#0ff"/><stop offset="0.55" stop-color="#00f5ff"/><stop offset="0.6" stop-color="#00d3ff"/><stop offset="0.65" stop-color="#00b3ff"/><stop offset="0.7" stop-color="#009fff"/><stop offset="0.75" stop-color="#009cff"/><stop offset="0.8" stop-color="#009eff"/><stop offset="0.85" stop-color="#0094ff"/><stop offset="0.9" stop-color="#007eff"/><stop offset="0.95" stop-color="#0070ff"/><stop offset="1" stop-color="#0074ff"/></linearGradient><linearGradient id="c87"><stop offset="0" stop-color="#17ffe8"/><stop offset="0.05" stop-color="#29ffd6"/><stop offset="0.1" stop-color="#36ffc9"/><stop offset="0.15" stop-color="#41ffbe"/><stop offset="0.2" stop-color="#4effb1"/><stop offset="0.25" stop-color="#5cffa3"/><stop offset="0.3" stop-color="#67ff98"/><stop offset="0.35" stop-color="#5fffa0"/><stop offset="0.4" stop-color="#4affb5"/><stop offset="0.45" stop-color="#2fffd0"/><stop offset="0.5" stop-color="#1fe"/><stop offset="0.526" stop-color="#0ff"/><stop offset="0.55" stop-color="#0ef"/><stop offset="0.6" stop-color="#0cf"/><stop offset="0.65" stop-color="#00aeff"/><stop offset="0.7" stop-color="#009dff"/><stop offset="0.75" stop-color="#009cff"/><stop offset="0.8" stop-color="#009fff"/><stop offset="0.85" stop-color="#0096ff"/><stop offset="0.9" stop-color="#007eff"/><stop offset="0.95" stop-color="#0071ff"/><stop offset="1" stop-color="#07f"/></linearGradient><linearGradient id="c88"><stop offset="0" stop-color="#13ffec"/><stop offset="0.05" stop-color="#25ffda"/><stop offset="0.1" stop-color="#31ffce"/><stop offset="0.15" stop-color="#3bffc4"/><stop offset="0.2" stop-color="#48ffb7"/><stop offset="0.25" stop-color="#51ffae"/><stop offset="0.3" stop-color="#62ff9d"/><stop offset="0.35" stop-color="#5affa5"/><stop offset="0.4" stop-color="#45ffba"/><stop offset="0.45" stop-color="#2bffd4"/><stop offset="0.5" stop-color="#0cfff3"/><stop offset="0.518" stop-color="#0ff"/><stop offset="0.55" stop-color="#00e7ff"/><stop offset="0.6" stop-color="#00c4ff"/><stop offset="0.65" stop-color="#00a9ff"/><stop offset="0.7" stop-color="#009bff"/><stop offset="0.75" stop-color="#009dff"/><stop offset="0.8" stop-color="#00a0ff"/><stop offset="0.85" stop-color="#0098ff"/><stop offset="0.9" stop-color="#007eff"/><stop offset="0.95" stop-color="#0072ff"/><stop offset="1" stop-color="#007aff"/></linearGradient><linearGradient id="c89"><stop offset="0" stop-color="#0dfff2"/><stop offset="0.05" stop-color="#20ffdf"/><stop offset="0.1" stop-color="#2cffd3"/><stop offset="0.15" stop-color="#36ffc9"/><stop offset="0.2" stop-color="#42ffbd"/><stop offset="0.25" stop-color="#42ffbd"/><stop offset="0.3" stop-color="#5dffa2"/><stop offset="0.35" stop-color="#5fa"/><stop offset="0.4" stop-color="#40ffbf"/><stop offset="0.45" stop-color="#27ffd8"/><stop offset="0.5" stop-color="#07fff8"/><stop offset="0.51" stop-color="#0ff"/><stop offset="0.55" stop-color="#00e0ff"/><stop offset="0.6" stop-color="#00bcff"/><stop offset="0.65" stop-color="#00a3ff"/><stop offset="0.7" stop-color="#009aff"/><stop offset="0.75" stop-color="#009dff"/><stop offset="0.8" stop-color="#00a1ff"/><stop offset="0.85" stop-color="#009aff"/><stop offset="0.9" stop-color="#0082ff"/><stop offset="0.95" stop-color="#0076ff"/><stop offset="1" stop-color="#007dff"/></linearGradient><linearGradient id="c90"><stop offset="0" stop-color="#06fff9"/><stop offset="0.05" stop-color="#19ffe6"/><stop offset="0.1" stop-color="#26ffd9"/><stop offset="0.15" stop-color="#30ffcf"/><stop offset="0.2" stop-color="#3cffc3"/><stop offset="0.25" stop-color="#2bffd4"/><stop offset="0.3" stop-color="#57ffa8"/><stop offset="0.35" stop-color="#4fffb0"/><stop offset="0.4" stop-color="#3bffc4"/><stop offset="0.45" stop-color="#2fd"/><stop offset="0.5" stop-color="#02fffd"/><stop offset="0.502" stop-color="#0ff"/><stop offset="0.55" stop-color="#00d8ff"/><stop offset="0.6" stop-color="#00b3ff"/><stop offset="0.65" stop-color="#009eff"/><stop offset="0.7" stop-color="#09f"/><stop offset="0.75" stop-color="#009eff"/><stop offset="0.8" stop-color="#00a2ff"/><stop offset="0.85" stop-color="#009bff"/><stop offset="0.9" stop-color="#08f"/><stop offset="0.95" stop-color="#007cff"/><stop offset="1" stop-color="#007fff"/></linearGradient><linearGradient id="c91"><stop offset="0" stop-color="#00feff"/><stop offset="0.003" stop-color="#0ff"/><stop offset="0.05" stop-color="#12ffed"/><stop offset="0.1" stop-color="#1effe1"/><stop offset="0.15" stop-color="#29ffd6"/><stop offset="0.2" stop-color="#35ffca"/><stop offset="0.25" stop-color="#1fe"/><stop offset="0.3" stop-color="#51ffae"/><stop offset="0.35" stop-color="#49ffb6"/><stop offset="0.4" stop-color="#36ffc9"/><stop offset="0.45" stop-color="#1dffe2"/><stop offset="0.495" stop-color="#0ff"/><stop offset="0.5" stop-color="#00fbff"/><stop offset="0.55" stop-color="#00d0ff"/><stop offset="0.6" stop-color="#0af"/><stop offset="0.65" stop-color="#09f"/><stop offset="0.7" stop-color="#09f"/><stop offset="0.75" stop-color="#00a0ff"/><stop offset="0.8" stop-color="#00a3ff"/><stop offset="0.85" stop-color="#009dff"/><stop offset="0.9" stop-color="#008dff"/><stop offset="0.95" stop-color="#0082ff"/><stop offset="1" stop-color="#0081ff"/></linearGradient><linearGradient id="c92"><stop offset="0" stop-color="#00f7ff"/><stop offset="0.022" stop-color="#0ff"/><stop offset="0.05" stop-color="#0afff5"/><stop offset="0.1" stop-color="#16ffe9"/><stop offset="0.15" stop-color="#21ffde"/><stop offset="0.2" stop-color="#2fffd0"/><stop offset="0.234" stop-color="#0ff"/><stop offset="0.25" stop-color="#00fbff"/><stop offset="0.252" stop-color="#0ff"/><stop offset="0.3" stop-color="#4bffb4"/><stop offset="0.35" stop-color="#4fb"/><stop offset="0.4" stop-color="#30ffcf"/><stop offset="0.45" stop-color="#18ffe7"/><stop offset="0.487" stop-color="#0ff"/><stop offset="0.5" stop-color="#00f5ff"/><stop offset="0.55" stop-color="#00c7ff"/><stop offset="0.6" stop-color="#00a1ff"/><stop offset="0.65" stop-color="#0095ff"/><stop offset="0.7" stop-color="#09f"/><stop offset="0.75" stop-color="#00a1ff"/><stop offset="0.8" stop-color="#00a5ff"/><stop offset="0.85" stop-color="#009eff"/><stop offset="0.9" stop-color="#0091ff"/><stop offset="0.95" stop-color="#0086ff"/><stop offset="1" stop-color="#0083ff"/></linearGradient><linearGradient id="c93"><stop offset="0" stop-color="#0ef"/><stop offset="0.049" stop-color="#0ff"/><stop offset="0.05" stop-color="#0ff"/><stop offset="0.1" stop-color="#0efff1"/><stop offset="0.15" stop-color="#1affe5"/><stop offset="0.2" stop-color="#28ffd7"/><stop offset="0.231" stop-color="#00feff"/><stop offset="0.25" stop-color="#00f1ff"/><stop offset="0.255" stop-color="#01fffe"/><stop offset="0.3" stop-color="#45ffba"/><stop offset="0.35" stop-color="#3dffc2"/><stop offset="0.4" stop-color="#2affd5"/><stop offset="0.45" stop-color="#13ffec"/><stop offset="0.48" stop-color="#0ff"/><stop offset="0.5" stop-color="#00efff"/><stop offset="0.55" stop-color="#00bfff"/><stop offset="0.6" stop-color="#09f"/><stop offset="0.65" stop-color="#0090ff"/><stop offset="0.7" stop-color="#009aff"/><stop offset="0.75" stop-color="#00a3ff"/><stop offset="0.8" stop-color="#00a6ff"/><stop offset="0.85" stop-color="#009fff"/><stop offset="0.9" stop-color="#0094ff"/><stop offset="0.95" stop-color="#0089ff"/><stop offset="1" stop-color="#0085ff"/></linearGradient><linearGradient id="c94"><stop offset="0" stop-color="#00e5ff"/><stop offset="0.05" stop-color="#00f5ff"/><stop offset="0.084" stop-color="#0ff"/><stop offset="0.1" stop-color="#04fffb"/><stop offset="0.15" stop-color="#1fe"/><stop offset="0.2" stop-color="#21ffde"/><stop offset="0.231" stop-color="#0ff"/><stop offset="0.25" stop-color="#00f4ff"/><stop offset="0.254" stop-color="#0ff"/><stop offset="0.3" stop-color="#3effc1"/><stop offset="0.35" stop-color="#37ffc8"/><stop offset="0.4" stop-color="#24ffdb"/><stop offset="0.45" stop-color="#0dfff2"/><stop offset="0.472" stop-color="#0ff"/><stop offset="0.5" stop-color="#00e9ff"/><stop offset="0.55" stop-color="#00b7ff"/><stop offset="0.6" stop-color="#0090ff"/><stop offset="0.65" stop-color="#008cff"/><stop offset="0.7" stop-color="#009aff"/><stop offset="0.75" stop-color="#00a5ff"/><stop offset="0.8" stop-color="#00a7ff"/><stop offset="0.85" stop-color="#00a1ff"/><stop offset="0.9" stop-color="#0096ff"/><stop offset="0.95" stop-color="#008cff"/><stop offset="1" stop-color="#0086ff"/></linearGradient><linearGradient id="c95"><stop offset="0" stop-color="#00dbff"/><stop offset="0.05" stop-color="#00ebff"/><stop offset="0.1" stop-color="#00f9ff"/><stop offset="0.12" stop-color="#0ff"/><stop offset="0.15" stop-color="#09fff6"/><stop offset="0.2" stop-color="#19ffe6"/><stop offset="0.235" stop-color="#0ff"/><stop offset="0.249" stop-color="#00feff"/><stop offset="0.25" stop-color="#01fffe"/><stop offset="0.3" stop-color="#37ffc8"/><stop offset="0.35" stop-color="#30ffcf"/><stop offset="0.4" stop-color="#1effe1"/><stop offset="0.45" stop-color="#08fff7"/><stop offset="0.464" stop-color="#0ff"/><stop offset="0.5" stop-color="#00e4ff"/><stop offset="0.55" stop-color="#00b0ff"/><stop offset="0.6" stop-color="#0089ff"/><stop offset="0.65" stop-color="#0089ff"/><stop offset="0.7" stop-color="#009bff"/><stop offset="0.75" stop-color="#00a6ff"/><stop offset="0.8" stop-color="#00a7ff"/><stop offset="0.85" stop-color="#00a2ff"/><stop offset="0.9" stop-color="#0098ff"/><stop offset="0.95" stop-color="#008eff"/><stop offset="1" stop-color="#0087ff"/></linearGradient><linearGradient id="c96"><stop offset="0" stop-color="#00d1ff"/><stop offset="0.05" stop-color="#00e0ff"/><stop offset="0.1" stop-color="#00efff"/><stop offset="0.15" stop-color="#0ff"/><stop offset="0.151" stop-color="#0ff"/><stop offset="0.2" stop-color="#12ffed"/><stop offset="0.25" stop-color="#0dfff2"/><stop offset="0.3" stop-color="#30ffcf"/><stop offset="0.35" stop-color="#29ffd6"/><stop offset="0.4" stop-color="#17ffe8"/><stop offset="0.45" stop-color="#02fffd"/><stop offset="0.454" stop-color="#0ff"/><stop offset="0.5" stop-color="#00deff"/><stop offset="0.55" stop-color="#00a9ff"/><stop offset="0.6" stop-color="#0082ff"/><stop offset="0.65" stop-color="#0086ff"/><stop offset="0.7" stop-color="#009cff"/><stop offset="0.75" stop-color="#00a8ff"/><stop offset="0.8" stop-color="#00a8ff"/><stop offset="0.85" stop-color="#00a2ff"/><stop offset="0.9" stop-color="#009aff"/><stop offset="0.95" stop-color="#0090ff"/><stop offset="1" stop-color="#08f"/></linearGradient><linearGradient id="c97"><stop offset="0" stop-color="#00c6ff"/><stop offset="0.05" stop-color="#00d4ff"/><stop offset="0.1" stop-color="#00e4ff"/><stop offset="0.15" stop-color="#00f5ff"/><stop offset="0.175" stop-color="#0ff"/><stop offset="0.2" stop-color="#0afff5"/><stop offset="0.25" stop-color="#12ffed"/><stop offset="0.3" stop-color="#28ffd7"/><stop offset="0.35" stop-color="#21ffde"/><stop offset="0.4" stop-color="#1fe"/><stop offset="0.443" stop-color="#0ff"/><stop offset="0.45" stop-color="#00fcff"/><stop offset="0.5" stop-color="#00d9ff"/><stop offset="0.55" stop-color="#00a3ff"/><stop offset="0.6" stop-color="#007cff"/><stop offset="0.65" stop-color="#0083ff"/><stop offset="0.7" stop-color="#009dff"/><stop offset="0.75" stop-color="#00a9ff"/><stop offset="0.8" stop-color="#00a8ff"/><stop offset="0.85" stop-color="#00a3ff"/><stop offset="0.9" stop-color="#009cff"/><stop offset="0.95" stop-color="#0092ff"/><stop offset="1" stop-color="#0089ff"/></linearGradient><linearGradient id="c98"><stop offset="0" stop-color="#0bf"/><stop offset="0.05" stop-color="#00c8ff"/><stop offset="0.1" stop-color="#00d9ff"/><stop offset="0.15" stop-color="#00ecff"/><stop offset="0.197" stop-color="#0ff"/><stop offset="0.2" stop-color="#01fffe"/><stop offset="0.25" stop-color="#1fe"/><stop offset="0.3" stop-color="#20ffdf"/><stop offset="0.35" stop-color="#1affe5"/><stop offset="0.4" stop-color="#0afff5"/><stop offset="0.429" stop-color="#0ff"/><stop offset="0.45" stop-color="#00f6ff"/><stop offset="0.5" stop-color="#00d4ff"/><stop offset="0.55" stop-color="#009eff"/><stop offset="0.6" stop-color="#0078ff"/><stop offset="0.65" stop-color="#0081ff"/><stop offset="0.7" stop-color="#009eff"/><stop offset="0.75" stop-color="#0af"/><stop offset="0.8" stop-color="#00a8ff"/><stop offset="0.85" stop-color="#00a4ff"/><stop offset="0.9" stop-color="#009dff"/><stop offset="0.95" stop-color="#0094ff"/><stop offset="1" stop-color="#008aff"/></linearGradient><linearGradient id="c99"><stop offset="0" stop-color="#00afff"/><stop offset="0.05" stop-color="#00bcff"/><stop offset="0.1" stop-color="#00ceff"/><stop offset="0.15" stop-color="#00e2ff"/><stop offset="0.2" stop-color="#00f7ff"/><stop offset="0.219" stop-color="#0ff"/><stop offset="0.25" stop-color="#0bfff4"/><stop offset="0.3" stop-color="#17ffe8"/><stop offset="0.35" stop-color="#1fe"/><stop offset="0.4" stop-color="#03fffc"/><stop offset="0.41" stop-color="#0ff"/><stop offset="0.45" stop-color="#00f1ff"/><stop offset="0.5" stop-color="#00d0ff"/><stop offset="0.55" stop-color="#009aff"/><stop offset="0.6" stop-color="#0075ff"/><stop offset="0.65" stop-color="#0080ff"/><stop offset="0.7" stop-color="#009eff"/><stop offset="0.75" stop-color="#0af"/><stop offset="0.8" stop-color="#00a8ff"/><stop offset="0.85" stop-color="#00a4ff"/><stop offset="0.9" stop-color="#009fff"/><stop offset="0.95" stop-color="#0096ff"/><stop offset="1" stop-color="#008bff"/></linearGradient><linearGradient id="c100"><stop offset="0" stop-color="#00a3ff"/><stop offset="0.05" stop-color="#00b0ff"/><stop offset="0.1" stop-color="#00c2ff"/><stop offset="0.15" stop-color="#00d7ff"/><stop offset="0.2" stop-color="#0ef"/><stop offset="0.243" stop-color="#0ff"/><stop offset="0.25" stop-color="#02fffd"/><stop offset="0.3" stop-color="#0dfff2"/><stop offset="0.35" stop-color="#09fff6"/><stop offset="0.385" stop-color="#0ff"/><stop offset="0.4" stop-color="#00fbff"/><stop offset="0.45" stop-color="#00ebff"/><stop offset="0.5" stop-color="#0cf"/><stop offset="0.55" stop-color="#0097ff"/><stop offset="0.6" stop-color="#0073ff"/><stop offset="0.65" stop-color="#0080ff"/><stop offset="0.7" stop-color="#009fff"/><stop offset="0.75" stop-color="#0af"/><stop offset="0.8" stop-color="#00a8ff"/><stop offset="0.85" stop-color="#00a4ff"/><stop offset="0.9" stop-color="#00a0ff"/><stop offset="0.95" stop-color="#0098ff"/><stop offset="1" stop-color="#008bff"/></linearGradient><linearGradient id="c101"><stop offset="0" stop-color="#0097ff"/><stop offset="0.05" stop-color="#00a4ff"/><stop offset="0.1" stop-color="#00b7ff"/><stop offset="0.15" stop-color="#00cdff"/><stop offset="0.2" stop-color="#00e4ff"/><stop offset="0.25" stop-color="#00f8ff"/><stop offset="0.275" stop-color="#0ff"/><stop offset="0.3" stop-color="#04fffb"/><stop offset="0.349" stop-color="#0ff"/><stop offset="0.35" stop-color="#0ff"/><stop offset="0.4" stop-color="#00f4ff"/><stop offset="0.45" stop-color="#00e6ff"/><stop offset="0.5" stop-color="#00c9ff"/><stop offset="0.55" stop-color="#0095ff"/><stop offset="0.6" stop-color="#0072ff"/><stop offset="0.65" stop-color="#0080ff"/><stop offset="0.7" stop-color="#009fff"/><stop offset="0.75" stop-color="#0af"/><stop offset="0.8" stop-color="#00a7ff"/><stop offset="0.85" stop-color="#00a4ff"/><stop offset="0.9" stop-color="#00a1ff"/><stop offset="0.95" stop-color="#009aff"/><stop offset="1" stop-color="#008cff"/></linearGradient><linearGradient id="c102"><stop offset="0" stop-color="#008aff"/><stop offset="0.05" stop-color="#0097ff"/><stop offset="0.1" stop-color="#00abff"/><stop offset="0.15" stop-color="#00c2ff"/><stop offset="0.2" stop-color="#00daff"/><stop offset="0.25" stop-color="#0ef"/><stop offset="0.3" stop-color="#00f8ff"/><stop offset="0.35" stop-color="#00f6ff"/><stop offset="0.4" stop-color="#00ecff"/><stop offset="0.45" stop-color="#00e1ff"/><stop offset="0.5" stop-color="#00c6ff"/><stop offset="0.55" stop-color="#0094ff"/><stop offset="0.6" stop-color="#0072ff"/><stop offset="0.65" stop-color="#0081ff"/><stop offset="0.7" stop-color="#00a0ff"/><stop offset="0.75" stop-color="#00a9ff"/><stop offset="0.8" stop-color="#00a6ff"/><stop offset="0.85" stop-color="#00a4ff"/><stop offset="0.9" stop-color="#00a2ff"/><stop offset="0.95" stop-color="#009cff"/><stop offset="1" stop-color="#008dff"/></linearGradient><linearGradient id="c103"><stop offset="0" stop-color="#007cff"/><stop offset="0.05" stop-color="#008bff"/><stop offset="0.1" stop-color="#009fff"/><stop offset="0.15" stop-color="#00b7ff"/><stop offset="0.2" stop-color="#00cfff"/><stop offset="0.25" stop-color="#00e3ff"/><stop offset="0.3" stop-color="#0ef"/><stop offset="0.35" stop-color="#00ecff"/><stop offset="0.4" stop-color="#00e5ff"/><stop offset="0.45" stop-color="#00dcff"/><stop offset="0.5" stop-color="#00c3ff"/><stop offset="0.55" stop-color="#0094ff"/><stop offset="0.6" stop-color="#0072ff"/><stop offset="0.65" stop-color="#0082ff"/><stop offset="0.7" stop-color="#00a0ff"/><stop offset="0.75" stop-color="#00a8ff"/><stop offset="0.8" stop-color="#00a4ff"/><stop offset="0.85" stop-color="#00a3ff"/><stop offset="0.9" stop-color="#00a3ff"/><stop offset="0.95" stop-color="#009eff"/><stop offset="1" stop-color="#008eff"/></linearGradient><linearGradient id="c104"><stop offset="0" stop-color="#006fff"/><stop offset="0.05" stop-color="#007eff"/><stop offset="0.1" stop-color="#0094ff"/><stop offset="0.15" stop-color="#00acff"/><stop offset="0.2" stop-color="#00c4ff"/><stop offset="0.25" stop-color="#00d8ff"/><stop offset="0.3" stop-color="#00e3ff"/><stop offset="0.35" stop-color="#00e3ff"/><stop offset="0.4" stop-color="#00deff"/><stop offset="0.45" stop-color="#00d7ff"/><stop offset="0.5" stop-color="#00c1ff"/><stop offset="0.55" stop-color="#0095ff"/><stop offset="0.6" stop-color="#0071ff"/><stop offset="0.65" stop-color="#0083ff"/><stop offset="0.7" stop-color="#00a0ff"/><stop offset="0.75" stop-color="#00a7ff"/><stop offset="0.8" stop-color="#00a2ff"/><stop offset="0.85" stop-color="#00a3ff"/><stop offset="0.9" stop-color="#00a4ff"/><stop offset="0.95" stop-color="#00a0ff"/><stop offset="1" stop-color="#008fff"/></linearGradient><linearGradient id="c105"><stop offset="0" stop-color="#0062ff"/><stop offset="0.05" stop-color="#0071ff"/><stop offset="0.1" stop-color="#08f"/><stop offset="0.15" stop-color="#00a1ff"/><stop offset="0.2" stop-color="#00baff"/><stop offset="0.25" stop-color="#00cdff"/><stop offset="0.3" stop-color="#00d8ff"/><stop offset="0.35" stop-color="#00d9ff"/><stop offset="0.4" stop-color="#00d6ff"/><stop offset="0.45" stop-color="#00d2ff"/><stop offset="0.5" stop-color="#00beff"/><stop offset="0.55" stop-color="#0096ff"/><stop offset="0.6" stop-color="#006eff"/><stop offset="0.65" stop-color="#0083ff"/><stop offset="0.7" stop-color="#00a0ff"/><stop offset="0.75" stop-color="#00a5ff"/><stop offset="0.8" stop-color="#00a1ff"/><stop offset="0.85" stop-color="#00a2ff"/><stop offset="0.9" stop-color="#00a5ff"/><stop offset="0.95" stop-color="#00a2ff"/><stop offset="1" stop-color="#0090ff"/></linearGradient><linearGradient id="c106"><stop offset="0" stop-color="#0054ff"/><stop offset="0.05" stop-color="#0065ff"/><stop offset="0.1" stop-color="#007cff"/><stop offset="0.15" stop-color="#0096ff"/><stop offset="0.2" stop-color="#00aeff"/><stop offset="0.25" stop-color="#00c1ff"/><stop offset="0.3" stop-color="#00cdff"/><stop offset="0.35" stop-color="#00cfff"/><stop offset="0.4" stop-color="#00cfff"/><stop offset="0.45" stop-color="#0cf"/><stop offset="0.5" stop-color="#00bcff"/><stop offset="0.55" stop-color="#0097ff"/><stop offset="0.6" stop-color="#006cff"/><stop offset="0.65" stop-color="#0084ff"/><stop offset="0.7" stop-color="#00a0ff"/><stop offset="0.75" stop-color="#00a4ff"/><stop offset="0.8" stop-color="#009fff"/><stop offset="0.85" stop-color="#00a1ff"/><stop offset="0.9" stop-color="#00a6ff"/><stop offset="0.95" stop-color="#00a4ff"/><stop offset="1" stop-color="#0091ff"/></linearGradient><linearGradient id="c107"><stop offset="0" stop-color="#0046ff"/><stop offset="0.05" stop-color="#0058ff"/><stop offset="0.1" stop-color="#0071ff"/><stop offset="0.15" stop-color="#008bff"/><stop offset="0.2" stop-color="#00a3ff"/><stop offset="0.25" stop-color="#00b6ff"/><stop offset="0.3" stop-color="#00c1ff"/><stop offset="0.35" stop-color="#00c6ff"/><stop offset="0.4" stop-color="#00c7ff"/><stop offset="0.45" stop-color="#00c7ff"/><stop offset="0.5" stop-color="#00baff"/><stop offset="0.55" stop-color="#09f"/><stop offset="0.6" stop-color="#006fff"/><stop offset="0.65" stop-color="#0086ff"/><stop offset="0.7" stop-color="#00a0ff"/><stop offset="0.75" stop-color="#00a2ff"/><stop offset="0.8" stop-color="#009dff"/><stop offset="0.85" stop-color="#00a0ff"/><stop offset="0.9" stop-color="#00a7ff"/><stop offset="0.95" stop-color="#00a5ff"/><stop offset="1" stop-color="#0092ff"/></linearGradient><linearGradient id="c108"><stop offset="0" stop-color="#0039ff"/><stop offset="0.05" stop-color="#004cff"/><stop offset="0.1" stop-color="#0065ff"/><stop offset="0.15" stop-color="#0080ff"/><stop offset="0.2" stop-color="#0098ff"/><stop offset="0.25" stop-color="#0af"/><stop offset="0.3" stop-color="#00b6ff"/><stop offset="0.35" stop-color="#00bcff"/><stop offset="0.4" stop-color="#00bfff"/><stop offset="0.45" stop-color="#00c2ff"/><stop offset="0.5" stop-color="#00b9ff"/><stop offset="0.55" stop-color="#009cff"/><stop offset="0.6" stop-color="#07f"/><stop offset="0.65" stop-color="#008aff"/><stop offset="0.7" stop-color="#009fff"/><stop offset="0.75" stop-color="#00a0ff"/><stop offset="0.8" stop-color="#009bff"/><stop offset="0.85" stop-color="#009fff"/><stop offset="0.9" stop-color="#00a7ff"/><stop offset="0.95" stop-color="#00a7ff"/><stop offset="1" stop-color="#0093ff"/></linearGradient><linearGradient id="c109"><stop offset="0" stop-color="#002cff"/><stop offset="0.05" stop-color="#0040ff"/><stop offset="0.1" stop-color="#005aff"/><stop offset="0.15" stop-color="#0075ff"/><stop offset="0.2" stop-color="#008dff"/><stop offset="0.25" stop-color="#009fff"/><stop offset="0.3" stop-color="#00abff"/><stop offset="0.35" stop-color="#00b2ff"/><stop offset="0.4" stop-color="#00b8ff"/><stop offset="0.45" stop-color="#00bdff"/><stop offset="0.5" stop-color="#00b7ff"/><stop offset="0.55" stop-color="#009eff"/><stop offset="0.6" stop-color="#0082ff"/><stop offset="0.65" stop-color="#008fff"/><stop offset="0.7" stop-color="#009fff"/><stop offset="0.75" stop-color="#009eff"/><stop offset="0.8" stop-color="#0098ff"/><stop offset="0.85" stop-color="#009eff"/><stop offset="0.9" stop-color="#00a8ff"/><stop offset="0.95" stop-color="#00a8ff"/><stop offset="1" stop-color="#0094ff"/></linearGradient><linearGradient id="c110"><stop offset="0" stop-color="#001eff"/><stop offset="0.05" stop-color="#0034ff"/><stop offset="0.1" stop-color="#004fff"/><stop offset="0.15" stop-color="#006aff"/><stop offset="0.2" stop-color="#0082ff"/><stop offset="0.25" stop-color="#0093ff"/><stop offset="0.3" stop-color="#00a0ff"/><stop offset="0.35" stop-color="#00a9ff"/><stop offset="0.4" stop-color="#00b0ff"/><stop offset="0.45" stop-color="#00b8ff"/><stop offset="0.5" stop-color="#00b5ff"/><stop offset="0.55" stop-color="#00a0ff"/><stop offset="0.6" stop-color="#008bff"/><stop offset="0.65" stop-color="#0093ff"/><stop offset="0.7" stop-color="#009fff"/><stop offset="0.75" stop-color="#009bff"/><stop offset="0.8" stop-color="#0096ff"/><stop offset="0.85" stop-color="#009dff"/><stop offset="0.9" stop-color="#00a8ff"/><stop offset="0.95" stop-color="#00a9ff"/><stop offset="1" stop-color="#0095ff"/></linearGradient><linearGradient id="c111"><stop offset="0" stop-color="#01f"/><stop offset="0.05" stop-color="#0028ff"/><stop offset="0.1" stop-color="#0043ff"/><stop offset="0.15" stop-color="#005fff"/><stop offset="0.2" stop-color="#0076ff"/><stop offset="0.25" stop-color="#08f"/><stop offset="0.3" stop-color="#0095ff"/><stop offset="0.35" stop-color="#009fff"/><stop offset="0.4" stop-color="#00a9ff"/><stop offset="0.45" stop-color="#00b3ff"/><stop offset="0.5" stop-color="#00b3ff"/><stop offset="0.55" stop-color="#00a2ff"/><stop offset="0.6" stop-color="#0092ff"/><stop offset="0.65" stop-color="#0097ff"/><stop offset="0.7" stop-color="#009eff"/><stop offset="0.75" stop-color="#09f"/><stop offset="0.8" stop-color="#0094ff"/><stop offset="0.85" stop-color="#009cff"/><stop offset="0.9" stop-color="#00a8ff"/><stop offset="0.95" stop-color="#0af"/><stop offset="1" stop-color="#0095ff"/></linearGradient><linearGradient id="c112"><stop offset="0" stop-color="#0005ff"/><stop offset="0.05" stop-color="#001dff"/><stop offset="0.1" stop-color="#0038ff"/><stop offset="0.15" stop-color="#0054ff"/><stop offset="0.2" stop-color="#006bff"/><stop offset="0.25" stop-color="#007dff"/><stop offset="0.3" stop-color="#008aff"/><stop offset="0.35" stop-color="#0096ff"/><stop offset="0.4" stop-color="#00a2ff"/><stop offset="0.45" stop-color="#00aeff"/><stop offset="0.5" stop-color="#00b0ff"/><stop offset="0.55" stop-color="#00a4ff"/><stop offset="0.6" stop-color="#0097ff"/><stop offset="0.65" stop-color="#009aff"/><stop offset="0.7" stop-color="#009eff"/><stop offset="0.75" stop-color="#0097ff"/><stop offset="0.8" stop-color="#0090ff"/><stop offset="0.85" stop-color="#009bff"/><stop offset="0.9" stop-color="#00a8ff"/><stop offset="0.95" stop-color="#00abff"/><stop offset="1" stop-color="#0096ff"/></linearGradient><linearGradient id="c113"><stop offset="0" stop-color="#0000f8"/><stop offset="0.017" stop-color="#00f"/><stop offset="0.05" stop-color="#0012ff"/><stop offset="0.1" stop-color="#002eff"/><stop offset="0.15" stop-color="#0049ff"/><stop offset="0.2" stop-color="#0061ff"/><stop offset="0.25" stop-color="#0072ff"/><stop offset="0.3" stop-color="#0080ff"/><stop offset="0.35" stop-color="#008dff"/><stop offset="0.4" stop-color="#009aff"/><stop offset="0.45" stop-color="#00a8ff"/><stop offset="0.5" stop-color="#00aeff"/><stop offset="0.55" stop-color="#00a6ff"/><stop offset="0.6" stop-color="#009cff"/><stop offset="0.65" stop-color="#009cff"/><stop offset="0.7" stop-color="#009dff"/><stop offset="0.75" stop-color="#0095ff"/><stop offset="0.8" stop-color="#008aff"/><stop offset="0.85" stop-color="#009aff"/><stop offset="0.9" stop-color="#00a8ff"/><stop offset="0.95" stop-color="#00acff"/><stop offset="1" stop-color="#0097ff"/></linearGradient><linearGradient id="c114"><stop offset="0" stop-color="#0000ec"/><stop offset="0.038" stop-color="#00f"/><stop offset="0.05" stop-color="#0007ff"/><stop offset="0.1" stop-color="#0023ff"/><stop offset="0.15" stop-color="#003fff"/><stop offset="0.2" stop-color="#0056ff"/><stop offset="0.25" stop-color="#0068ff"/><stop offset="0.3" stop-color="#0076ff"/><stop offset="0.35" stop-color="#0084ff"/><stop offset="0.4" stop-color="#0093ff"/><stop offset="0.45" stop-color="#00a3ff"/><stop offset="0.5" stop-color="#00abff"/><stop offset="0.55" stop-color="#00a6ff"/><stop offset="0.6" stop-color="#009fff"/><stop offset="0.65" stop-color="#009eff"/><stop offset="0.7" stop-color="#009cff"/><stop offset="0.75" stop-color="#0093ff"/><stop offset="0.8" stop-color="#007cff"/><stop offset="0.85" stop-color="#09f"/><stop offset="0.9" stop-color="#00a8ff"/><stop offset="0.95" stop-color="#00acff"/><stop offset="1" stop-color="#0097ff"/></linearGradient><linearGradient id="c115"><stop offset="0" stop-color="#0000e1"/><stop offset="0.05" stop-color="#0000fc"/><stop offset="0.056" stop-color="#00f"/><stop offset="0.1" stop-color="#0019ff"/><stop offset="0.15" stop-color="#0034ff"/><stop offset="0.2" stop-color="#004cff"/><stop offset="0.25" stop-color="#005eff"/><stop offset="0.3" stop-color="#006dff"/><stop offset="0.35" stop-color="#007cff"/><stop offset="0.4" stop-color="#008cff"/><stop offset="0.45" stop-color="#009dff"/><stop offset="0.5" stop-color="#00a8ff"/><stop offset="0.55" stop-color="#00a7ff"/><stop offset="0.6" stop-color="#00a2ff"/><stop offset="0.65" stop-color="#009fff"/><stop offset="0.7" stop-color="#009bff"/><stop offset="0.75" stop-color="#0091ff"/><stop offset="0.8" stop-color="#0068ff"/><stop offset="0.85" stop-color="#0098ff"/><stop offset="0.9" stop-color="#00a8ff"/><stop offset="0.95" stop-color="#00acff"/><stop offset="1" stop-color="#0097ff"/></linearGradient><linearGradient id="c116"><stop offset="0" stop-color="#0000d6"/><stop offset="0.05" stop-color="#0000f2"/><stop offset="0.073" stop-color="#00f"/><stop offset="0.1" stop-color="#000fff"/><stop offset="0.15" stop-color="#002aff"/><stop offset="0.2" stop-color="#0042ff"/><stop offset="0.25" stop-color="#0054ff"/><stop offset="0.3" stop-color="#0064ff"/><stop offset="0.35" stop-color="#0074ff"/><stop offset="0.4" stop-color="#0085ff"/><stop offset="0.45" stop-color="#0097ff"/><stop offset="0.5" stop-color="#00a4ff"/><stop offset="0.55" stop-color="#00a7ff"/><stop offset="0.6" stop-color="#00a3ff"/><stop offset="0.65" stop-color="#00a1ff"/><stop offset="0.7" stop-color="#009bff"/><stop offset="0.75" stop-color="#008fff"/><stop offset="0.8" stop-color="#0056ff"/><stop offset="0.85" stop-color="#0097ff"/><stop offset="0.9" stop-color="#00a7ff"/><stop offset="0.95" stop-color="#00acff"/><stop offset="1" stop-color="#0098ff"/></linearGradient><linearGradient id="c117"><stop offset="0" stop-color="#00c"/><stop offset="0.05" stop-color="#0000e8"/><stop offset="0.09" stop-color="#00f"/><stop offset="0.1" stop-color="#0006ff"/><stop offset="0.15" stop-color="#0021ff"/><stop offset="0.2" stop-color="#0038ff"/><stop offset="0.25" stop-color="#004bff"/><stop offset="0.3" stop-color="#005bff"/><stop offset="0.35" stop-color="#006cff"/><stop offset="0.4" stop-color="#007eff"/><stop offset="0.45" stop-color="#0091ff"/><stop offset="0.5" stop-color="#00a0ff"/><stop offset="0.55" stop-color="#00a5ff"/><stop offset="0.6" stop-color="#00a4ff"/><stop offset="0.65" stop-color="#00a1ff"/><stop offset="0.7" stop-color="#009aff"/><stop offset="0.75" stop-color="#008eff"/><stop offset="0.8" stop-color="#0052ff"/><stop offset="0.85" stop-color="#0096ff"/><stop offset="0.9" stop-color="#00a6ff"/><stop offset="0.95" stop-color="#00acff"/><stop offset="1" stop-color="#0098ff"/></linearGradient><linearGradient id="c118"><stop offset="0" stop-color="#0000c3"/><stop offset="0.05" stop-color="#0000df"/><stop offset="0.1" stop-color="#0000fc"/><stop offset="0.106" stop-color="#00f"/><stop offset="0.15" stop-color="#0017ff"/><stop offset="0.2" stop-color="#002fff"/><stop offset="0.25" stop-color="#0042ff"/><stop offset="0.3" stop-color="#0054ff"/><stop offset="0.35" stop-color="#0065ff"/><stop offset="0.4" stop-color="#0078ff"/><stop offset="0.45" stop-color="#008bff"/><stop offset="0.5" stop-color="#009bff"/><stop offset="0.55" stop-color="#00a3ff"/><stop offset="0.6" stop-color="#00a4ff"/><stop offset="0.65" stop-color="#00a1ff"/><stop offset="0.7" stop-color="#09f"/><stop offset="0.75" stop-color="#008dff"/><stop offset="0.8" stop-color="#005eff"/><stop offset="0.85" stop-color="#0095ff"/><stop offset="0.9" stop-color="#00a6ff"/><stop offset="0.95" stop-color="#00acff"/><stop offset="1" stop-color="#0098ff"/></linearGradient><linearGradient id="c119"><stop offset="0" stop-color="#0000ba"/><stop offset="0.05" stop-color="#0000d7"/><stop offset="0.1" stop-color="#0000f3"/><stop offset="0.122" stop-color="#00f"/><stop offset="0.15" stop-color="#000eff"/><stop offset="0.2" stop-color="#0026ff"/><stop offset="0.25" stop-color="#003aff"/><stop offset="0.3" stop-color="#004dff"/><stop offset="0.35" stop-color="#005fff"/><stop offset="0.4" stop-color="#0071ff"/><stop offset="0.45" stop-color="#0085ff"/><stop offset="0.5" stop-color="#0096ff"/><stop offset="0.55" stop-color="#00a0ff"/><stop offset="0.6" stop-color="#00a3ff"/><stop offset="0.65" stop-color="#00a0ff"/><stop offset="0.7" stop-color="#0098ff"/><stop offset="0.75" stop-color="#008cff"/><stop offset="0.8" stop-color="#0070ff"/><stop offset="0.85" stop-color="#0094ff"/><stop offset="0.9" stop-color="#00a5ff"/><stop offset="0.95" stop-color="#00abff"/><stop offset="1" stop-color="#0098ff"/></linearGradient><linearGradient id="c120"><stop offset="0" stop-color="#0000b3"/><stop offset="0.05" stop-color="#0000cf"/><stop offset="0.1" stop-color="#0000eb"/><stop offset="0.139" stop-color="#00f"/><stop offset="0.15" stop-color="#0006ff"/><stop offset="0.2" stop-color="#001eff"/><stop offset="0.25" stop-color="#03f"/><stop offset="0.3" stop-color="#0047ff"/><stop offset="0.35" stop-color="#0059ff"/><stop offset="0.4" stop-color="#006bff"/><stop offset="0.45" stop-color="#007fff"/><stop offset="0.5" stop-color="#0090ff"/><stop offset="0.55" stop-color="#009bff"/><stop offset="0.6" stop-color="#00a0ff"/><stop offset="0.65" stop-color="#009fff"/><stop offset="0.7" stop-color="#0097ff"/><stop offset="0.75" stop-color="#008cff"/><stop offset="0.8" stop-color="#007eff"/><stop offset="0.85" stop-color="#0093ff"/><stop offset="0.9" stop-color="#00a3ff"/><stop offset="0.95" stop-color="#00a9ff"/><stop offset="1" stop-color="#0097ff"/></linearGradient><linearGradient id="c121"><stop offset="0" stop-color="#0000ac"/><stop offset="0.05" stop-color="#0000c7"/><stop offset="0.1" stop-color="#0000e3"/><stop offset="0.15" stop-color="#0000fc"/><stop offset="0.155" stop-color="#00f"/><stop offset="0.2" stop-color="#0016ff"/><stop offset="0.25" stop-color="#002dff"/><stop offset="0.3" stop-color="#0041ff"/><stop offset="0.35" stop-color="#0053ff"/><stop offset="0.4" stop-color="#0065ff"/><stop offset="0.45" stop-color="#0078ff"/><stop offset="0.5" stop-color="#0089ff"/><stop offset="0.55" stop-color="#0096ff"/><stop offset="0.6" stop-color="#009cff"/><stop offset="0.65" stop-color="#009cff"/><stop offset="0.7" stop-color="#0096ff"/><stop offset="0.75" stop-color="#008cff"/><stop offset="0.8" stop-color="#0085ff"/><stop offset="0.85" stop-color="#0093ff"/><stop offset="0.9" stop-color="#00a2ff"/><stop offset="0.95" stop-color="#00a8ff"/><stop offset="1" stop-color="#0097ff"/></linearGradient><linearGradient id="c122"><stop offset="0" stop-color="#0000a6"/><stop offset="0.05" stop-color="#0000c1"/><stop offset="0.1" stop-color="#0000db"/><stop offset="0.15" stop-color="#0000f5"/><stop offset="0.171" stop-color="#00f"/><stop offset="0.2" stop-color="#000fff"/><stop offset="0.25" stop-color="#0027ff"/><stop offset="0.3" stop-color="#003dff"/><stop offset="0.35" stop-color="#004fff"/><stop offset="0.4" stop-color="#005fff"/><stop offset="0.45" stop-color="#0071ff"/><stop offset="0.5" stop-color="#0082ff"/><stop offset="0.55" stop-color="#008eff"/><stop offset="0.6" stop-color="#0096ff"/><stop offset="0.65" stop-color="#09f"/><stop offset="0.7" stop-color="#0095ff"/><stop offset="0.75" stop-color="#008cff"/><stop offset="0.8" stop-color="#08f"/><stop offset="0.85" stop-color="#0092ff"/><stop offset="0.9" stop-color="#00a1ff"/><stop offset="0.95" stop-color="#00a6ff"/><stop offset="1" stop-color="#0096ff"/></linearGradient><linearGradient id="c123"><stop offset="0" stop-color="#0000a1"/><stop offset="0.05" stop-color="#00b"/><stop offset="0.1" stop-color="#0000d4"/><stop offset="0.15" stop-color="#0000ed"/><stop offset="0.184" stop-color="#00f"/><stop offset="0.2" stop-color="#0008ff"/><stop offset="0.25" stop-color="#02f"/><stop offset="0.3" stop-color="#0039ff"/><stop offset="0.35" stop-color="#004bff"/><stop offset="0.4" stop-color="#0059ff"/><stop offset="0.45" stop-color="#006aff"/><stop offset="0.5" stop-color="#007aff"/><stop offset="0.55" stop-color="#0086ff"/><stop offset="0.6" stop-color="#008eff"/><stop offset="0.65" stop-color="#0094ff"/><stop offset="0.7" stop-color="#0094ff"/><stop offset="0.75" stop-color="#008dff"/><stop offset="0.8" stop-color="#0089ff"/><stop offset="0.85" stop-color="#0092ff"/><stop offset="0.9" stop-color="#009fff"/><stop offset="0.95" stop-color="#00a4ff"/><stop offset="1" stop-color="#0095ff"/></linearGradient><clipPath id="cc"><rect x="395.5" y="1241.2" width="742.8" height="744"/></clipPath><filter id="cf" filterUnits="userSpaceOnUse" x="395.5" y="1227.2" width="742.8" height="772"><feGaussianBlur stdDeviation="0 3"/></filter></defs>
<g clip-path="url(#cc)"><g filter="url(#cf)"><rect x="395.5" y="1226.9" width="742.8" height="20.6" fill="url(#c0)"/><rect x="395.5" y="1246.9" width="742.8" height="6.6" fill="url(#c1)"/><rect x="395.5" y="1252.9" width="742.8" height="6.6" fill="url(#c2)"/><rect x="395.5" y="1258.9" width="742.8" height="6.6" fill="url(#c3)"/><rect x="395.5" y="1264.9" width="742.8" height="6.6" fill="url(#c4)"/><rect x="395.5" y="1270.9" width="742.8" height="6.6" fill="url(#c5)"/><rect x="395.5" y="1276.9" width="742.8" height="6.6" fill="url(#c6)"/><rect x="395.5" y="1282.9" width="742.8" height="6.6" fill="url(#c7)"/><rect x="395.5" y="1288.9" width="742.8" height="6.6" fill="url(#c8)"/><rect x="395.5" y="1294.9" width="742.8" height="6.6" fill="url(#c9)"/><rect x="395.5" y="1300.9" width="742.8" height="6.6" fill="url(#c10)"/><rect x="395.5" y="1306.9" width="742.8" height="6.6" fill="url(#c11)"/><rect x="395.5" y="1312.9" width="742.8" height="6.6" fill="url(#c12)"/><rect x="395.5" y="1318.9" width="742.8" height="6.6" fill="url(#c13)"/><rect x="395.5" y="1324.9" width="742.8" height="6.6" fill="url(#c14)"/><rect x="395.5" y="1330.9" width="742.8" height="6.6" fill="url(#c15)"/><rect x="395.5" y="1336.9" width="742.8" height="6.6" fill="url(#c16)"/><rect x="395.5" y="1342.9" width="742.8" height="6.6" fill="url(#c17)"/><rect x="395.5" y="1348.9" width="742.8" height="6.6" fill="url(#c18)"/><rect x="395.5" y="1354.9" width="742.8" height="6.6" fill="url(#c19)"/><rect x="395.5" y="1360.9" width="742.8" height="6.6" fill="url(#c20)"/><rect x="395.5" y="1366.9" width="742.8" height="6.6" fill="url(#c21)"/><rect x="395.5" y="1372.9" width="742.8" height="6.6" fill="url(#c22)"/><rect x="395.5" y="1378.9" width="742.8" height="6.6" fill="url(#c23)"/><rect x="395.5" y="1384.9" width="742.8" height="6.6" fill="url(#c24)"/><rect x="395.5" y="1390.9" width="742.8" height="6.6" fill="url(#c25)"/><rect x="395.5" y="1396.9" width="742.8" height="6.6" fill="url(#c26)"/><rect x="395.5" y="1402.9" width="742.8" height="6.6" fill="url(#c27)"/><rect x="395.5" y="1408.9" width="742.8" height="6.6" fill="url(#c28)"/><rect x="395.5" y="1414.9" width="742.8" height="6.6" fill="url(#c29)"/><rect x="395.5" y="1420.9" width="742.8" height="6.6" fill="url(#c30)"/><rect x="395.5" y="1426.9" width="742.8" height="6.6" fill="url(#c31)"/><rect x="395.5" y="1432.9" width="742.8" height="6.6" fill="url(#c32)"/><rect x="395.5" y="1438.9" width="742.8" height="6.6" fill="url(#c33)"/><rect x="395.5" y="1444.9" width="742.8" height="6.6" fill="url(#c34)"/><rect x="395.5" y="1450.9" width="742.8" height="6.6" fill="url(#c35)"/><rect x="395.5" y="1456.9" width="742.8" height="6.6" fill="url(#c36)"/><rect x="395.5" y="1462.9" width="742.8" height="6.6" fill="url(#c37)"/><rect x="395.5" y="1468.9" width="742.8" height="6.6" fill="url(#c38)"/><rect x="395.5" y="1474.9" width="742.8" height="6.6" fill="url(#c39)"/><rect x="395.5" y="1480.9" width="742.8" height="6.6" fill="url(#c40)"/><rect x="395.5" y="1486.9" width="742.8" height="6.6" fill="url(#c41)"/><rect x="395.5" y="1492.9" width="742.8" height="6.6" fill="url(#c42)"/><rect x="395.5" y="1498.9" width="742.8" height="6.6" fill="url(#c43)"/><rect x="395.5" y="1504.9" width="742.8" height="6.6" fill="url(#c44)"/><rect x="395.5" y="1510.9" width="742.8" height="6.6" fill="url(#c45)"/><rect x="395.5" y="1516.9" width="742.8" height="6.6" fill="url(#c46)"/><rect x="395.5" y="1522.9" width="742.8" height="6.6" fill="url(#c47)"/><rect x="395.5" y="1528.9" width="742.8" height="6.6" fill="url(#c48)"/><rect x="395.5" y="1534.9" width="742.8" height="6.6" fill="url(#c49)"/><rect x="395.5" y="1540.9" width="742.8" height="6.6" fill="url(#c50)"/><rect x="395.5" y="1546.9" width="742.8" height="6.6" fill="url(#c51)"/><rect x="395.5" y="1552.9" width="742.8" height="6.6" fill="url(#c52)"/><rect x="395.5" y="1558.9" width="742.8" height="6.6" fill="url(#c53)"/><rect x="395.5" y="1564.9" width="742.8" height="6.6" fill="url(#c54)"/><rect x="395.5" y="1570.9" width="742.8" height="6.6" fill="url(#c55)"/><rect x="395.5" y="1576.9" width="742.8" height="6.6" fill="url(#c56)"/><rect x="395.5" y="1582.9" width="742.8" height="6.6" fill="url(#c57)"/><rect x="395.5" y="1588.9" width="742.8" height="6.6" fill="url(#c58)"/><rect x="395.5" y="1594.9" width="742.8" height="6.6" fill="url(#c59)"/><rect x="395.5" y="1600.9" width="742.8" height="6.6" fill="url(#c60)"/><rect x="395.5" y="1606.9" width="742.8" height="6.6" fill="url(#c61)"/><rect x="395.5" y="1612.9" width="742.8" height="6.6" fill="url(#c62)"/><rect x="395.5" y="1618.9" width="742.8" height="6.6" fill="url(#c63)"/><rect x="395.5" y="1624.9" width="742.8" height="6.6" fill="url(#c64)"/><rect x="395.5" y="1630.9" width="742.8" height="6.6" fill="url(#c65)"/><rect x="395.5" y="1636.9" width="742.8" height="6.6" fill="url(#c66)"/><rect x="395.5" y="1642.9" width="742.8" height="6.6" fill="url(#c67)"/><rect x="395.5" y="1648.9" width="742.8" height="6.6" fill="url(#c68)"/><rect x="395.5" y="1654.9" width="742.8" height="6.6" fill="url(#c69)"/><rect x="395.5" y="1660.9" width="742.8" height="6.6" fill="url(#c70)"/><rect x="395.5" y="1666.9" width="742.8" height="6.6" fill="url(#c71)"/><rect x="395.5" y="1672.9" width="742.8" height="6.6" fill="url(#c72)"/><rect x="395.5" y="1678.9" width="742.8" height="6.6" fill="url(#c73)"/><rect x="395.5" y="1684.9" width="742.8" height="6.6" fill="url(#c74)"/><rect x="395.5" y="1690.9" width="742.8" height="6.6" fill="url(#c75)"/><rect x="395.5" y="1696.9" width="742.8" height="6.6" fill="url(#c76)"/><rect x="395.5" y="1702.9" width="742.8" height="6.6" fill="url(#c77)"/><rect x="395.5" y="1708.9" width="742.8" height="6.6" fill="url(#c78)"/><rect x="395.5" y="1714.9" width="742.8" height="6.6" fill="url(#c79)"/><rect x="395.5" y="1720.9" width="742.8" height="6.6" fill="url(#c80)"/><rect x="395.5" y="1726.9" width="742.8" height="6.6" fill="url(#c81)"/><rect x="395.5" y="1732.9" width="742.8" height="6.6" fill="url(#c82)"/><rect x="395.5" y="1738.9" width="742.8" height="6.6" fill="url(#c83)"/><rect x="395.5" y="1744.9" width="742.8" height="6.6" fill="url(#c84)"/><rect x="395.5" y="1750.9" width="742.8" height="6.6" fill="url(#c85)"/><rect x="395.5" y="1756.9" width="742.8" height="6.6" fill="url(#c86)"/><rect x="395.5" y="1762.9" width="742.8" height="6.6" fill="url(#c87)"/><rect x="395.5" y="1768.9" width="742.8" height="6.6" fill="url(#c88)"/><rect x="395.5" y="1774.9" width="742.8" height="6.6" fill="url(#c89)"/><rect x="395.5" y="1780.9" width="742.8" height="6.6" fill="url(#c90)"/><rect x="395.5" y="1786.9" width="742.8" height="6.6" fill="url(#c91)"/><rect x="395.5" y="1792.9" width="742.8" height="6.6" fill="url(#c92)"/><rect x="395.5" y="1798.9" width="742.8" height="6.6" fill="url(#c93)"/><rect x="395.5" y="1804.9" width="742.8" height="6.6" fill="url(#c94)"/><rect x="395.5" y="1810.9" width="742.8" height="6.6" fill="url(#c95)"/><rect x="395.5" y="1816.9" width="742.8" height="6.6" fill="url(#c96)"/><rect x="395.5" y="1822.9" width="742.8" height="6.6" fill="url(#c97)"/><rect x="395.5" y="1828.9" width="742.8" height="6.6" fill="url(#c98)"/><rect x="395.5" y="1834.9" width="742.8" height="6.6" fill="url(#c99)"/><rect x="395.5" y="1840.9" width="742.8" height="6.6" fill="url(#c100)"/><rect x="395.5" y="1846.9" width="742.8" height="6.6" fill="url(#c101)"/><rect x="395.5" y="1852.9" width="742.8" height="6.6" fill="url(#c102)"/><rect x="395.5" y="1858.9" width="742.8" height="6.6" fill="url(#c103)"/><rect x="395.5" y="1864.9" width="742.8" height="6.6" fill="url(#c104)"/><rect x="395.5" y="1870.9" width="742.8" height="6.6" fill="url(#c105)"/><rect x="395.5" y="1876.9" width="742.8" height="6.6" fill="url(#c106)"/><rect x="395.5" y="1882.9" width="742.8" height="6.6" fill="url(#c107)"/><rect x="395.5" y="1888.9" width="742.8" height="6.6" fill="url(#c108)"/><rect x="395.5" y="1894.9" width="742.8" height="6.6" fill="url(#c109)"/><rect x="395.5" y="1900.9" width="742.8" height="6.6" fill="url(#c110)"/><rect x="395.5" y="1906.9" width="742.8" height="6.6" fill="url(#c111)"/><rect x="395.5" y="1912.9" width="742.8" height="6.6" fill="url(#c112)"/><rect x="395.5" y="1918.9" width="742.8" height="6.6" fill="url(#c113)"/><rect x="395.5" y="1924.9" width="742.8" height="6.6" fill="url(#c114)"/><rect x="395.5" y="1930.9" width="742.8" height="6.6" fill="url(#c115)"/><rect x="395.5" y="1936.9" width="742.8" height="6.6" fill="url(#c116)"/><rect x="395.5" y="1942.9" width="742.8" height="6.6" fill="url(#c117)"/><rect x="395.5" y="1948.9" width="742.8" height="6.6" fill="url(#c118)"/><rect x="395.5" y="1954.9" width="742.8" height="6.6" fill="url(#c119)"/><rect x="395.5" y="1960.9" width="742.8" height="6.6" fill="url(#c120)"/><rect x="395.5" y="1966.9" width="742.8" height="6.6" fill="url(#c121)"/><rect x="395.5" y="1972.9" width="742.8" height="6.6" fill="url(#c122)"/><rect x="395.5" y="1978.9" width="742.8" height="20.6" fill="url(#c123)"/></g></g>
<rect x="395.5" y="1241.2" width="742.8" height="744" fill="none" stroke="#000" stroke-width="3"/>
<text transform="translate(355.5 1258.2) scale(1.09 1)" text-anchor="end" style="font-size:52.5px">0</text>
<text transform="translate(355.5 1407) scale(1.09 1)" text-anchor="end" style="font-size:52.5px">0.5</text>
<text transform="translate(355.5 1555.8) scale(1.09 1)" text-anchor="end" style="font-size:52.5px">1.0</text>
<text transform="translate(355.5 1704.6) scale(1.09 1)" text-anchor="end" style="font-size:52.5px">1.5</text>
<text transform="translate(355.5 1853.4) scale(1.09 1)" text-anchor="end" style="font-size:52.5px">2.0</text>
<text transform="translate(355.5 2002.2) scale(1.09 1)" text-anchor="end" style="font-size:52.5px">2.5</text>
<text transform="translate(395 2059.7) scale(1.09 1)" text-anchor="middle" style="font-size:52.5px">0</text>
<text transform="translate(692.1 2059.7) scale(1.09 1)" text-anchor="middle" style="font-size:52.5px">1</text>
<text transform="translate(989.2 2059.7) scale(1.09 1)" text-anchor="middle" style="font-size:52.5px">2</text>
<rect x="1176.7" y="1241.2" width="38.1" height="744" fill="url(#jetv)"/>
<rect x="1176.7" y="1241.2" width="38.1" height="744" fill="none" stroke="#000" stroke-width="3"/>
<text transform="translate(1233.5 1373.4) scale(1.09 1)" style="font-size:52.5px"><tspan font-size="44" dy="-5.5">−</tspan><tspan dy="5.5">1.45</tspan></text>
<text transform="translate(1233.5 1548.9) scale(1.09 1)" style="font-size:52.5px"><tspan font-size="44" dy="-5.5">−</tspan><tspan dy="5.5">1.50</tspan></text>
<text transform="translate(1233.5 1724.4) scale(1.09 1)" style="font-size:52.5px"><tspan font-size="44" dy="-5.5">−</tspan><tspan dy="5.5">1.55</tspan></text>
<text transform="translate(1233.5 1899.9) scale(1.09 1)" style="font-size:52.5px"><tspan font-size="44" dy="-5.5">−</tspan><tspan dy="5.5">1.60</tspan></text>
<path d="M395.5 1390h15M395.5 1538.8h15M395.5 1687.6h15M395.5 1836.4h15M692.6 1985.2v-15M989.7 1985.2v-15M1216.3 1352.7h-11M1216.3 1528.2h-11M1216.3 1703.7h-11M1216.3 1879.2h-11" stroke="#000" stroke-width="3" fill="none"/>
<text transform="translate(1198.7 1210.2) scale(1.05 1)" text-anchor="middle">(m)</text>
<text transform="translate(769.5 2135.7) scale(1.12 1)" text-anchor="middle"><tspan font-style="italic">X</tspan> (m)</text>
<text transform="translate(242 1610.2) rotate(-90) scale(1.10 1)" text-anchor="middle"><tspan font-style="italic">Y</tspan> (m)</text>
<text transform="translate(589.5 2231) scale(1.1 1)">(c)</text>
<text x="673.3" y="2232.5" class="cj">选区</text>
<text transform="translate(785.9 2231) scale(1.12 1)" font-style="italic">β</text>
<text x="819.8" y="2232.5" class="cj">高程值</text>
<text transform="translate(787.6 2299) scale(1.052 1)" text-anchor="middle" word-spacing="3.8">(c) Elevation values of selected region <tspan font-style="italic">β</tspan></text>
<polygon points="1742.3,1251.1 1746.7,1257.5 1751.2,1263.9 1755.6,1270.4 1760,1277 1764.4,1283.6 1768.9,1290.3 1773.3,1297.1 1777.7,1304 1782.1,1311.2 1786.6,1318.5 1791,1325.9 1795.4,1333.3 1799.8,1340.6 1804.3,1347.7 1808.7,1354.4 1813.1,1360.7 1817.5,1366.9 1822,1372.9 1826.4,1378.8 1830.8,1384.5 1835.2,1390 1839.7,1395.4 1844.1,1400.5 1848.5,1405.5 1852.9,1410.2 1857.4,1414.8 1861.8,1419.2 1866.2,1423.5 1870.6,1427.8 1875.1,1432.2 1879.5,1436.6 1883.9,1441 1888.3,1445.3 1892.8,1450.1 1897.2,1455.7 1901.6,1462.1 1906,1468.9 1910.5,1475.7 1914.9,1482 1919.3,1487.8 1923.7,1493.6 1928.2,1499.3 1932.6,1504.8 1937,1510 1941.4,1515 1945.9,1519.6 1950.3,1523.8 1954.7,1527.9 1959.1,1531.8 1963.6,1535.6 1968,1539.3 1972.4,1542.7 1976.8,1546 1981.3,1549.2 1985.7,1552.1 1990.1,1554.8 1994.5,1557.3 1999,1559.7 2003.4,1562 2007.8,1564.1 2012.2,1566.1 2016.7,1568 2021.1,1569.8 2025.5,1571.5 2029.9,1573.2 2034.4,1574.7 2038.8,1576.2 2043.2,1577.6 2047.6,1579 2052.1,1580.3 2056.5,1581.5 2060.9,1582.7 2065.3,1583.9 2069.8,1585 2074.2,1586 2078.6,1587.1 2083,1588.2 2087.5,1589.1 2091.9,1589.5 2096.3,1589.7 2100.7,1589.9 2105.2,1590.1 2109.6,1590.2 2114,1590.3 2118.4,1590.4 2122.9,1590.4 2127.3,1590.4 2131.7,1590.4 2136.2,1590.3 2140.6,1590.2 2145,1590 2149.4,1589.9 2153.9,1589.7 2158.3,1589.6 2162.7,1589.4 2167.1,1589.2 2171.6,1589 2176,1588.8 2180.4,1588.5 2184.8,1588.2 2189.3,1588 2193.7,1587.7 2198.1,1587.5 2202.5,1587.3 2207,1587 2211.4,1586.8 2215.8,1586.5 2220.2,1586.3 2224.7,1586.1 2229.1,1585.9 2233.5,1585.8 2237.9,1585.7 2242.4,1585.5 2246.8,1585.4 2251.2,1585.3 2255.6,1585.2 2260.1,1585.2 2264.5,1585.1 2268.9,1585.1 2273.3,1585.2 2277.8,1585.2 2282.2,1585.3 2286.6,1585.4 2291,1585.4 2295.5,1585.5 2299.9,1585.5 2304.3,1585.5 2308.7,1585.5 2313.2,1585.5 2317.6,1585.5 2322,1585.4 2326.4,1585.4 2330.9,1585.4 2335.3,1585.4 2339.7,1585.3 2344.1,1585.3 2348.6,1585.3 2353,1585.2 2357.4,1585.2 2361.8,1585.2 2366.3,1585.2 2370.7,1585.1 2375.1,1585.1 2379.5,1585.1 2384,1585.2 2388.4,1585.2 2392.8,1585.3 2397.2,1585.4 2401.7,1585.5 2406.1,1585.7 2410.5,1585.9 2414.9,1586.1 2419.4,1586.3 2423.8,1586.5 2428.2,1586.7 2432.6,1587 2437.1,1587.2 2441.5,1587.5 2445.9,1587.8 2450.3,1588.2 2454.8,1588.5 2459.2,1588.9 2463.6,1589.4 2468,1589.8 2472.5,1590.3 2476.9,1590.8 2481.3,1591.3 2485.7,1591.7 2490.2,1592.2 2494.6,1592.8 2499,1593.4 2503.5,1594 2507.9,1594.6 2512.3,1595.3 2516.7,1595.9 2521.2,1596.6 2525.6,1597.2 2530,1597.9 2534.4,1598.5 2538.9,1599.2 2543.3,1599.8 2547.7,1600.4 2552.1,1600.9 2556.6,1601.5 2561,1602.1 2565.4,1602.8 2569.8,1603.5 2574.3,1604.3 2578.7,1605.1 2583.1,1605.9 2587.5,1606.8 2592,1607.6 2596.4,1608.4 2600.8,1609.2 2605.2,1610 2609.7,1610.8 2614.1,1611.6 2618.5,1612.4 2622.9,1613.1 2627.4,1613.8 2631.8,1614.5 2636.2,1615.1 2640.6,1615.8 2645.1,1616.4 2649.5,1617.1 2653.9,1617.8 2658.3,1618.5 2662.8,1619.1 2667.2,1619.7 2671.6,1620.3 2676,1620.7 2680.5,1621 2684.9,1621.3 2689.3,1621.6 2693.7,1621.9 2698.2,1622.3 2702.6,1622.7 2707,1623.3 2711.4,1623.9 2715.9,1624.6 2720.3,1625.2 2724.7,1625.7 2729.1,1626 2733.6,1626.2 2738,1626.4 2742.4,1626.6 2746.8,1626.8 2751.3,1626.9 2755.7,1627.1 2760.1,1627.2 2764.5,1627.4 2769,1627.5 2773.4,1627.6 2777.8,1627.7 2782.2,1627.8 2786.7,1627.8 2791.1,1627.9 2795.5,1627.9 2799.9,1627.9 2799.9,1632.4 2795.5,1632.4 2791.1,1632.4 2786.7,1632.4 2782.2,1632.4 2777.8,1632.4 2773.4,1632.4 2769,1632.4 2764.5,1632.4 2760.1,1632.4 2755.7,1632.4 2751.3,1632.4 2746.8,1632.4 2742.4,1632.4 2738,1632.4 2733.6,1632.4 2729.1,1632.4 2724.7,1632.4 2720.3,1632.4 2715.9,1632.4 2711.4,1632.4 2707,1632.4 2702.6,1632.4 2698.2,1632.4 2693.7,1632.4 2689.3,1632.4 2684.9,1632.4 2680.5,1632.4 2676,1632.4 2671.6,1632.4 2667.2,1632.4 2662.8,1632.4 2658.3,1632.4 2653.9,1632.4 2649.5,1632.4 2645.1,1632.4 2640.6,1632.4 2636.2,1632.4 2631.8,1632.4 2627.4,1632.4 2622.9,1632.4 2618.5,1632.4 2614.1,1632.4 2609.7,1632.4 2605.2,1632.5 2600.8,1632.6 2596.4,1632.7 2592,1632.9 2587.5,1633.2 2583.1,1633.5 2578.7,1633.8 2574.3,1634.1 2569.8,1634.5 2565.4,1634.8 2561,1635.2 2556.6,1635.5 2552.1,1635.9 2547.7,1636.3 2543.3,1636.7 2538.9,1637.1 2534.4,1637.6 2530,1638 2525.6,1638.5 2521.2,1639 2516.7,1639.6 2512.3,1640.1 2507.9,1640.7 2503.5,1641.3 2499,1641.9 2494.6,1642.5 2490.2,1643.1 2485.7,1643.9 2481.3,1645 2476.9,1647.5 2472.5,1650.8 2468,1654.2 2463.6,1657.8 2459.2,1661.4 2454.8,1665 2450.3,1668.7 2445.9,1672.3 2441.5,1675.9 2437.1,1679.4 2432.6,1682.6 2428.2,1685.7 2423.8,1688.6 2419.4,1691.4 2414.9,1694.2 2410.5,1696.9 2406.1,1699.7 2401.7,1702.5 2397.2,1705.3 2392.8,1708 2388.4,1710.7 2384,1713.3 2379.5,1715.8 2375.1,1718.2 2370.7,1720.5 2366.3,1722.7 2361.8,1724.9 2357.4,1727 2353,1729 2348.6,1730.9 2344.1,1732.8 2339.7,1734.6 2335.3,1736.3 2330.9,1738 2326.4,1739.6 2322,1741.2 2317.6,1742.7 2313.2,1744.2 2308.7,1745.6 2304.3,1746.9 2299.9,1748 2295.5,1749.1 2291,1750.2 2286.6,1751.3 2282.2,1752.2 2277.8,1753.1 2273.3,1753.8 2268.9,1754.3 2264.5,1754.7 2260.1,1755 2255.6,1755.2 2251.2,1755.5 2246.8,1755.7 2242.4,1755.8 2237.9,1755.9 2233.5,1756 2229.1,1756 2224.7,1755.8 2220.2,1755.5 2215.8,1755.1 2211.4,1754.6 2207,1754.1 2202.5,1753.5 2198.1,1752.9 2193.7,1752.2 2189.3,1751.4 2184.8,1750.5 2180.4,1749.4 2176,1748.3 2171.6,1747.1 2167.1,1745.8 2162.7,1744.4 2158.3,1743.1 2153.9,1741.5 2149.4,1739.9 2145,1738.2 2140.6,1736.3 2136.2,1734.4 2131.7,1732.4 2127.3,1730.4 2122.9,1728.3 2118.4,1726.2 2114,1724 2109.6,1721.7 2105.2,1719.4 2100.7,1717 2096.3,1714.5 2091.9,1712 2087.5,1709.4 2083,1706.8 2078.6,1704.1 2074.2,1701.3 2069.8,1698.5 2065.3,1695.7 2060.9,1692.7 2056.5,1689.6 2052.1,1686.4 2047.6,1683.1 2043.2,1679.6 2038.8,1676.2 2034.4,1672.6 2029.9,1669 2025.5,1665.4 2021.1,1661.7 2016.7,1658 2012.2,1654.2 2007.8,1650.4 2003.4,1646.5 1999,1642.5 1994.5,1638.4 1990.1,1634.1 1985.7,1629.8 1981.3,1625.3 1976.8,1620.5 1972.4,1615.6 1968,1610.4 1963.6,1605.2 1959.1,1599.8 1954.7,1594.3 1950.3,1588.9 1945.9,1583.4 1941.4,1577.7 1937,1572.1 1932.6,1566.3 1928.2,1560.5 1923.7,1554.6 1919.3,1548.7 1914.9,1542.7 1910.5,1536.7 1906,1530.6 1901.6,1524.6 1897.2,1518.5 1892.8,1512.4 1888.3,1506.3 1883.9,1500.2 1879.5,1494 1875.1,1487.8 1870.6,1481.5 1866.2,1475.2 1861.8,1468.8 1857.4,1462.3 1852.9,1455.7 1848.5,1449 1844.1,1442.3 1839.7,1435.5 1835.2,1428.6 1830.8,1421.6 1826.4,1414.6 1822,1407.4 1817.5,1400.1 1813.1,1392.6 1808.7,1385 1804.3,1377.2 1799.8,1369.2 1795.4,1360.9 1791,1352.5 1786.6,1343.9 1782.1,1335.1 1777.7,1326.3 1773.3,1317.3 1768.9,1308.3 1764.4,1299.1 1760,1289.8 1755.6,1280.3 1751.2,1270.7 1746.7,1261 1742.3,1251.1" fill="#cbcbcb"/>
<path d="M1742.7 1252L1743 1252.5L1746.2 1257.7L1749.4 1262.8L1752.5 1267.8L1755.7 1272.8L1758.9 1277.7L1762 1282.6L1763.7 1285M1784.2 1314.5L1784.3 1314.6L1788.1 1319.9L1792 1325.1L1795.9 1330.2L1799.8 1335.3L1803.7 1340.2L1807.5 1345.1L1808 1345.7M1831.3 1373.2L1831.5 1373.4L1835.8 1378L1840 1382.7L1844.2 1387.2L1848.5 1391.6L1852.7 1396L1856.9 1400.2L1858.5 1401.8M1884.9 1426.6L1885.1 1426.8L1890.1 1431.1L1895 1435.4L1899.9 1439.5L1904.9 1443.6L1909.8 1447.5L1914.8 1451.4L1915.4 1451.9M1944.9 1473.4L1945.1 1473.5L1950.7 1477.3L1956.4 1481L1962 1484.6L1967.7 1488.1L1973.3 1491.6L1978.6 1494.7M2010.7 1512.4L2011 1512.5L2017 1515.5L2023 1518.5L2029 1521.3L2035 1524.1L2041 1526.9L2047 1529.5L2047 1529.5M2081.2 1543.3L2081.2 1543.4L2087.6 1545.7L2093.9 1548L2100.3 1550.2L2106.6 1552.4L2113 1554.5L2119.2 1556.5M2154.6 1567L2154.9 1567L2161.3 1568.8L2167.6 1570.4L2174 1572L2180.3 1573.6L2186.7 1575.1L2193 1576.6L2193.8 1576.8M2230 1584.5L2230 1584.5L2236.4 1585.7L2242.7 1586.9L2249.1 1588.1L2255.4 1589.2L2261.8 1590.3L2268.1 1591.4L2269.8 1591.6M2306.5 1597.2L2306.6 1597.2L2313.3 1598.2L2320 1599.1L2326.7 1599.9L2333.4 1600.8L2340.1 1601.6L2346.6 1602.4M2383.4 1606.4L2383.4 1606.4L2390.1 1607.1L2396.8 1607.7L2403.5 1608.3L2410.2 1608.9L2416.9 1609.5L2423.7 1610.1L2423.8 1610.1M2460.7 1613L2461 1613L2467.7 1613.5L2474.4 1613.9L2481.1 1614.4L2487.8 1614.8L2494.5 1615.2L2501.1 1615.6M2538.2 1617.7L2538.3 1617.7L2545 1618L2551.7 1618.3L2558.4 1618.7L2565.1 1619L2571.8 1619.3L2578.5 1619.6L2578.6 1619.6M2615.7 1621L2615.9 1621L2622.6 1621.3L2629.3 1621.5L2636 1621.7L2642.7 1622L2649.4 1622.2L2656.1 1622.4L2656.2 1622.4M2693.3 1623.4L2693.4 1623.4L2700.1 1623.6L2706.8 1623.8L2713.5 1623.9L2720.2 1624.1L2726.9 1624.2L2733.6 1624.4L2733.7 1624.4M2770.8 1625.1L2771 1625.1L2775.6 1625.2L2780.2 1625.3L2784.8 1625.4L2789.4 1625.5L2793.9 1625.5L2798.5 1625.6L2799.9 1625.6" fill="none" stroke="#0000ff" stroke-width="10.5"/>
<path d="M1742.3 1251.3L1742.7 1251.3L1747.9 1251.5L1753.2 1252.2L1758.5 1253.2L1763.8 1254.6L1769.1 1256.4L1774.1 1258.5M1805.8 1279.1L1806.1 1279.4L1810.7 1283.4L1815.3 1287.6L1819.9 1292L1824.5 1296.7L1829.1 1301.5L1833.6 1306.6L1833.9 1306.9M1857.7 1335.7L1858 1336L1861.9 1341L1865.7 1346.1L1869.6 1351.3L1873.5 1356.5L1877.4 1361.8L1881.2 1367.1M1902.9 1397.4L1903.1 1397.7L1906.6 1402.7L1910.2 1407.7L1913.7 1412.7L1917.2 1417.6L1920.7 1422.6L1924.3 1427.5L1925.6 1429.3M1947.7 1459.4L1947.9 1459.6L1951.8 1464.7L1955.7 1469.8L1959.5 1474.7L1963.4 1479.6L1967.3 1484.5L1971.2 1489.2L1972 1490.2M1996.6 1518.4L1996.9 1518.7L2001.5 1523.5L2006.1 1528.2L2010.7 1532.8L2015.3 1537.2L2019.8 1541.5L2024.4 1545.7L2024.8 1546M2054.3 1569.6L2054.4 1569.6L2060.1 1573.5L2065.7 1577.2L2071.3 1580.7L2077 1584.1L2082.6 1587.2L2088.3 1590.2L2088.4 1590.3M2123.6 1605.3L2123.9 1605.4L2130.2 1607.5L2136.6 1609.5L2142.9 1611.3L2149.3 1613L2155.6 1614.5L2162 1615.9L2162.4 1616M2200.3 1622.2L2200.4 1622.3L2207.1 1623L2213.8 1623.7L2220.5 1624.4L2227.2 1625L2233.9 1625.5L2240.6 1625.9L2240.7 1625.9M2279.1 1627.7L2279.4 1627.8L2286.1 1628L2292.8 1628.1L2299.5 1628.3L2306.2 1628.4L2312.9 1628.6L2319.6 1628.7M2358.1 1629.1L2358.4 1629.1L2365.1 1629.1L2371.8 1629.1L2378.5 1629.2L2385.2 1629.2L2391.9 1629.2L2398.6 1629.2M2437.1 1629.3L2437.4 1629.3L2444.1 1629.3L2450.8 1629.3L2457.5 1629.3L2464.2 1629.3L2470.9 1629.3L2477.6 1629.3M2516.1 1629.3L2516.4 1629.3L2523.1 1629.3L2529.8 1629.3L2536.5 1629.3L2543.2 1629.3L2549.9 1629.3L2556.6 1629.3M2595.1 1629.3L2595.4 1629.3L2602.1 1629.3L2608.8 1629.3L2615.5 1629.3L2622.2 1629.3L2628.9 1629.3L2635.6 1629.3M2674.1 1629.3L2674.4 1629.3L2681.1 1629.3L2687.8 1629.3L2694.5 1629.3L2701.2 1629.3L2707.9 1629.3L2714.6 1629.3M2753.1 1629.3L2753.4 1629.3L2760.1 1629.3L2766.8 1629.3L2773.5 1629.3L2780.2 1629.3L2786.9 1629.3L2793.6 1629.3" fill="none" stroke="#00ff00" stroke-width="10.5"/>
<polyline points="1742.3,1251.3 1745.8,1256.3 1749.4,1261.3 1752.9,1266.5 1756.4,1271.8 1760,1277.2 1763.5,1282.7 1767.1,1288.2 1770.6,1293.8 1774.1,1299.5 1777.7,1305.3 1781.2,1311.2 1784.7,1317.2 1788.3,1323.2 1791.8,1329.3 1795.4,1335.4 1798.9,1341.5 1802.4,1347.7 1806,1353.9 1809.5,1360.2 1813,1366.4 1816.6,1372.6 1820.1,1378.7 1823.7,1384.8 1827.2,1390.9 1830.7,1396.9 1834.3,1402.8 1837.8,1408.7 1841.3,1414.5 1844.9,1420.3 1848.4,1426.1 1852,1431.8 1855.5,1437.5 1859,1443.1 1862.6,1448.7 1866.1,1454.2 1869.6,1459.7 1873.2,1465.1 1876.7,1470.5 1880.3,1475.8 1883.8,1481.1 1887.3,1486.3 1890.9,1491.4 1894.4,1496.4 1897.9,1501.4 1901.5,1506.3 1905,1511.1 1908.6,1515.9 1912.1,1520.6 1915.6,1525.2 1919.2,1529.7 1922.7,1534.2 1926.2,1538.6 1929.8,1542.9 1933.3,1547.1 1936.9,1551.3 1940.4,1555.4 1943.9,1559.4 1947.5,1563.3 1951,1567.2 1954.5,1571 1958.1,1574.7 1961.6,1578.4 1965.1,1581.9 1968.7,1585.4 1972.2,1588.8 1975.8,1592.1 1979.3,1595.3 1982.8,1598.5 1986.4,1601.5 1989.9,1604.4 1993.4,1607.2 1997,1609.9 2000.5,1612.5 2004.1,1614.9 2007.6,1617.3 2011.1,1619.6 2014.7,1621.7 2018.2,1623.6 2021.7,1625.5 2025.3,1627.3 2028.8,1628.9 2032.4,1630.5 2035.9,1631.9 2039.4,1633.3 2043,1634.5 2046.5,1635.6 2050,1636.7 2053.6,1637.7 2057.1,1638.7 2060.7,1639.7 2064.2,1640.7 2067.7,1641.6 2071.3,1642.4 2074.8,1643.3 2078.3,1644 2081.9,1644.8 2085.4,1645.4 2089,1646.1 2092.5,1646.7 2096,1647.2 2099.6,1647.6 2103.1,1648.1 2106.6,1648.4 2110.2,1648.8 2113.7,1649.1 2117.3,1649.4 2120.8,1649.7 2124.3,1650 2127.9,1650.3 2131.4,1650.5 2134.9,1650.7 2138.5,1650.9 2142,1651.1 2145.5,1651.2 2149.1,1651.3 2152.6,1651.3 2156.2,1651.4 2159.7,1651.4 2163.2,1651.3 2166.8,1651.3 2170.3,1651.3 2173.8,1651.3 2177.4,1651.3 2180.9,1651.2 2184.5,1651.2 2188,1651.1 2191.5,1651 2195.1,1650.9 2198.6,1650.7 2202.1,1650.6 2205.7,1650.4 2209.2,1650.2 2212.8,1650 2216.3,1649.8 2219.8,1649.6 2223.4,1649.3 2226.9,1649.1 2230.4,1648.8 2234,1648.5 2237.5,1648.2 2241.1,1647.9 2244.6,1647.6 2248.1,1647.3 2251.7,1646.9 2255.2,1646.6 2258.7,1646.2 2262.3,1645.9 2265.8,1645.5 2269.4,1645.1 2272.9,1644.7 2276.4,1644.4 2280,1644 2283.5,1643.6 2287,1643.2 2290.6,1642.8 2294.1,1642.4 2297.7,1642 2301.2,1641.6 2304.7,1641.2 2308.3,1640.8 2311.8,1640.4 2315.3,1640.1 2318.9,1639.7 2322.4,1639.3 2326,1638.9 2329.5,1638.5 2333,1638.1 2336.6,1637.8 2340.1,1637.4 2343.6,1637 2347.2,1636.7 2350.7,1636.3 2354.2,1636 2357.8,1635.7 2361.3,1635.3 2364.9,1635 2368.4,1634.7 2371.9,1634.4 2375.5,1634.1 2379,1633.8 2382.5,1633.6 2386.1,1633.3 2389.6,1633 2393.2,1632.8 2396.7,1632.5 2400.2,1632.3 2403.8,1632 2407.3,1631.8 2410.8,1631.5 2414.4,1631.3 2417.9,1631.1 2421.5,1630.8 2425,1630.6 2428.5,1630.4 2432.1,1630.2 2435.6,1630 2439.1,1629.9 2442.7,1629.7 2446.2,1629.5 2449.8,1629.3 2453.3,1629.2 2456.8,1629 2460.4,1628.9 2463.9,1628.8 2467.4,1628.6 2471,1628.5 2474.5,1628.3 2478.1,1628.2 2481.6,1628.1 2485.1,1627.9 2488.7,1627.8 2492.2,1627.7 2495.7,1627.6 2499.3,1627.5 2502.8,1627.4 2506.4,1627.3 2509.9,1627.2 2513.4,1627.1 2517,1627 2520.5,1627 2524,1626.9 2527.6,1626.8 2531.1,1626.8 2534.6,1626.7 2538.2,1626.7 2541.7,1626.6 2545.3,1626.6 2548.8,1626.5 2552.3,1626.5 2555.9,1626.5 2559.4,1626.5 2562.9,1626.5 2566.5,1626.4 2570,1626.5 2573.6,1626.5 2577.1,1626.5 2580.6,1626.5 2584.2,1626.5 2587.7,1626.5 2591.2,1626.5 2594.8,1626.6 2598.3,1626.6 2601.9,1626.6 2605.4,1626.7 2608.9,1626.7 2612.5,1626.8 2616,1626.8 2619.5,1626.9 2623.1,1627 2626.6,1627 2630.2,1627.1 2633.7,1627.2 2637.2,1627.3 2640.8,1627.3 2644.3,1627.4 2647.8,1627.5 2651.4,1627.6 2654.9,1627.7 2658.5,1627.8 2662,1627.9 2665.5,1628 2669.1,1628.1 2672.6,1628.1 2676.1,1628.2 2679.7,1628.3 2683.2,1628.4 2686.8,1628.5 2690.3,1628.7 2693.8,1628.8 2697.4,1628.9 2700.9,1629 2704.4,1629.1 2708,1629.2 2711.5,1629.3 2715.1,1629.4 2718.6,1629.5 2722.1,1629.6 2725.7,1629.7 2729.2,1629.8 2732.7,1629.9 2736.3,1630 2739.8,1630.1 2743.3,1630.2 2746.9,1630.3 2750.4,1630.4 2754,1630.5 2757.5,1630.6 2761,1630.6 2764.6,1630.7 2768.1,1630.8 2771.6,1630.9 2775.2,1631 2778.7,1631 2782.3,1631.1 2785.8,1631.2 2789.3,1631.3 2792.9,1631.3 2796.4,1631.4 2799.9,1631.5" fill="none" stroke="#ff0000" stroke-width="13" stroke-linejoin="round"/>
<polyline points="1742.3,1251.3 1745.8,1251.5 1749.4,1252.1 1752.9,1252.9 1756.4,1254.2 1760,1255.7 1763.5,1257.6 1767.1,1259.8 1770.6,1262.3 1774.1,1265.1 1777.7,1268.2 1781.2,1271.5 1784.7,1275.1 1788.3,1279 1791.8,1283 1795.4,1287.3 1798.9,1291.8 1802.4,1296.4 1806,1301.3 1809.5,1306.3 1813,1311.6 1816.6,1316.9 1820.1,1322.5 1823.7,1328.2 1827.2,1334 1830.7,1340 1834.3,1346.1 1837.8,1352.4 1841.3,1358.7 1844.9,1365.2 1848.4,1371.8 1852,1378.4 1855.5,1385.1 1859,1391.9 1862.6,1398.7 1866.1,1405.6 1869.6,1412.6 1873.2,1419.5 1876.7,1426.5 1880.3,1433.4 1883.8,1440.3 1887.3,1447.3 1890.9,1454.2 1894.4,1461.1 1897.9,1468 1901.5,1474.9 1905,1481.6 1908.6,1488.2 1912.1,1494.8 1915.6,1501.3 1919.2,1507.7 1922.7,1514 1926.2,1520.1 1929.8,1526.1 1933.3,1532 1936.9,1537.7 1940.4,1543.2 1943.9,1548.6 1947.5,1553.9 1951,1558.9 1954.5,1563.8 1958.1,1568.4 1961.6,1572.8 1965.1,1577.1 1968.7,1581.2 1972.2,1585.1 1975.8,1588.8 1979.3,1592.4 1982.8,1595.8 1986.4,1599 1989.9,1602.1 1993.4,1605.1 1997,1607.9 2000.5,1610.6 2004.1,1613.1 2007.6,1615.5 2011.1,1617.7 2014.7,1619.7 2018.2,1621.6 2021.7,1623.4 2025.3,1625 2028.8,1626.4 2032.4,1627.7 2035.9,1628.8 2039.4,1629.8 2043,1630.7 2046.5,1631.5 2050,1632.2 2053.6,1632.9 2057.1,1633.5 2060.7,1634.1 2064.2,1634.6 2067.7,1635 2071.3,1635.4 2074.8,1635.7 2078.3,1636 2081.9,1636.2 2085.4,1636.4 2089,1636.5 2092.5,1636.6 2096,1636.7 2099.6,1636.7 2103.1,1636.7 2106.6,1636.6 2110.2,1636.6 2113.7,1636.5 2117.3,1636.4 2120.8,1636.2 2124.3,1636.1 2127.9,1635.9 2131.4,1635.7 2134.9,1635.6 2138.5,1635.4 2142,1635.2 2145.5,1635 2149.1,1634.8 2152.6,1634.7 2156.2,1634.5 2159.7,1634.3 2163.2,1634.1 2166.8,1633.9 2170.3,1633.7 2173.8,1633.5 2177.4,1633.3 2180.9,1633.2 2184.5,1633 2188,1632.9 2191.5,1632.7 2195.1,1632.6 2198.6,1632.4 2202.1,1632.3 2205.7,1632.2 2209.2,1632 2212.8,1631.9 2216.3,1631.8 2219.8,1631.7 2223.4,1631.6 2226.9,1631.5 2230.4,1631.4 2234,1631.3 2237.5,1631.2 2241.1,1631.2 2244.6,1631.1 2248.1,1631 2251.7,1630.9 2255.2,1630.9 2258.7,1630.8 2262.3,1630.8 2265.8,1630.7 2269.4,1630.7 2272.9,1630.7 2276.4,1630.6 2280,1630.6 2283.5,1630.6 2287,1630.6 2290.6,1630.5 2294.1,1630.5 2297.7,1630.5 2301.2,1630.5 2304.7,1630.4 2308.3,1630.4 2311.8,1630.4 2315.3,1630.4 2318.9,1630.3 2322.4,1630.3 2326,1630.3 2329.5,1630.3 2333,1630.3 2336.6,1630.3 2340.1,1630.2 2343.6,1630.2 2347.2,1630.2 2350.7,1630.2 2354.2,1630.2 2357.8,1630.2 2361.3,1630.2 2364.9,1630.2 2368.4,1630.2 2371.9,1630.2 2375.5,1630.2 2379,1630.2 2382.5,1630.2 2386.1,1630.2 2389.6,1630.2 2393.2,1630.2 2396.7,1630.2 2400.2,1630.2 2403.8,1630.2 2407.3,1630.2 2410.8,1630.2 2414.4,1630.2 2417.9,1630.2 2421.5,1630.2 2425,1630.2 2428.5,1630.2 2432.1,1630.2 2435.6,1630.2 2439.1,1630.2 2442.7,1630.2 2446.2,1630.2 2449.8,1630.2 2453.3,1630.2 2456.8,1630.2 2460.4,1630.2 2463.9,1630.2 2467.4,1630.2 2471,1630.2 2474.5,1630.2 2478.1,1630.2 2481.6,1630.2 2485.1,1630.2 2488.7,1630.2 2492.2,1630.2 2495.7,1630.2 2499.3,1630.2 2502.8,1630.2 2506.4,1630.2 2509.9,1630.2 2513.4,1630.2 2517,1630.2 2520.5,1630.2 2524,1630.2 2527.6,1630.2 2531.1,1630.2 2534.6,1630.2 2538.2,1630.2 2541.7,1630.2 2545.3,1630.2 2548.8,1630.2 2552.3,1630.2 2555.9,1630.2 2559.4,1630.2 2562.9,1630.2 2566.5,1630.2 2570,1630.2 2573.6,1630.2 2577.1,1630.2 2580.6,1630.2 2584.2,1630.2 2587.7,1630.2 2591.2,1630.2 2594.8,1630.2 2598.3,1630.3 2601.9,1630.3 2605.4,1630.3 2608.9,1630.3 2612.5,1630.3 2616,1630.3 2619.5,1630.3 2623.1,1630.3 2626.6,1630.3 2630.2,1630.3 2633.7,1630.3 2637.2,1630.3 2640.8,1630.3 2644.3,1630.3 2647.8,1630.3 2651.4,1630.3 2654.9,1630.3 2658.5,1630.3 2662,1630.3 2665.5,1630.3 2669.1,1630.3 2672.6,1630.3 2676.1,1630.3 2679.7,1630.3 2683.2,1630.3 2686.8,1630.3 2690.3,1630.3 2693.8,1630.3 2697.4,1630.3 2700.9,1630.3 2704.4,1630.3 2708,1630.3 2711.5,1630.3 2715.1,1630.3 2718.6,1630.3 2722.1,1630.3 2725.7,1630.3 2729.2,1630.3 2732.7,1630.3 2736.3,1630.3 2739.8,1630.3 2743.3,1630.3 2746.9,1630.3 2750.4,1630.3 2754,1630.3 2757.5,1630.3 2761,1630.3 2764.6,1630.3 2768.1,1630.3 2771.6,1630.3 2775.2,1630.3 2778.7,1630.3 2782.3,1630.3 2785.8,1630.3 2789.3,1630.3 2792.9,1630.3 2796.4,1630.3 2799.9,1630.3" fill="none" stroke="#000" stroke-width="10.5" stroke-linejoin="round"/>
<rect x="1742.3" y="1251.3" width="1196.6" height="565.2" fill="none" stroke="#000" stroke-width="3"/>
<text transform="translate(1702 1264.9) scale(1.09 1)" text-anchor="end" style="font-size:52.5px">1.0</text>
<text transform="translate(1702 1453.9) scale(1.09 1)" text-anchor="end" style="font-size:52.5px">0.5</text>
<text transform="translate(1702 1642.9) scale(1.09 1)" text-anchor="end" style="font-size:52.5px">0</text>
<text transform="translate(1702 1832.1) scale(1.09 1)" text-anchor="end" style="font-size:52.5px"><tspan font-size="44" dy="-5.5">−</tspan><tspan dy="5.5">0.5</tspan></text>
<text transform="translate(1741.8 1893.9) scale(1.09 1)" text-anchor="middle" style="font-size:52.5px">0</text>
<text transform="translate(2041 1893.9) scale(1.09 1)" text-anchor="middle" style="font-size:52.5px">1</text>
<text transform="translate(2340.1 1893.9) scale(1.09 1)" text-anchor="middle" style="font-size:52.5px">2</text>
<text transform="translate(2639.2 1893.9) scale(1.09 1)" text-anchor="middle" style="font-size:52.5px">3</text>
<text transform="translate(2938.4 1893.9) scale(1.09 1)" text-anchor="middle" style="font-size:52.5px">4</text>
<path d="M1742.3 1440.3h12M1742.3 1629.3h12M2041.5 1816.5v-12M2340.6 1816.5v-12M2639.8 1816.5v-12" stroke="#000" stroke-width="3" fill="none"/>
<text transform="translate(1567 1473.6) rotate(-90)" text-anchor="middle" class="cj">相关函数</text>
<text x="2203.5" y="1977.8" class="cj">偏移量</text>
<text transform="translate(2390 1975.7) scale(1.05 1)">(m)</text>
<rect x="1828" y="2041.5" width="67" height="28.5" fill="#bebebe"/>
<text x="1913.5" y="2075.3" class="cj">实际数据</text>
<path d="M2182 2055.6h71" stroke="#2a3fcc" stroke-width="4" stroke-dasharray="17.5 10.2" fill="none"/>
<text x="2273" y="2075.3" class="cj">指数模型</text>
<path d="M2555 2055.6h71" stroke="#55dd33" stroke-width="4" stroke-dasharray="17.5 10.2" fill="none"/>
<text x="2640" y="2075.3" class="cj">高斯模型</text>
<path d="M1826.6 2123.7h70" stroke="#e00000" stroke-width="3.5" fill="none"/>
<text x="1913.5" y="2143.3" class="cj">调制指数模型</text>
<path d="M2311.3 2123.7h70" stroke="#000" stroke-width="3.5" fill="none"/>
<text x="2396.3" y="2143.3" class="cj">调制高斯模型</text>
<text transform="translate(2028.6 2231) scale(1.1 1)">(d)</text>
<text x="2119.6" y="2232.5" class="cj">选区</text>
<text transform="translate(2232.5 2231) scale(1.12 1)" font-style="italic">β</text>
<text x="2265.1" y="2232.5" class="cj">相关函数曲线图</text>
<text transform="translate(2341 2298) scale(1.056 1)" text-anchor="middle" word-spacing="3.8">(d) Correlation function curve of selected region <tspan font-style="italic">β</tspan></text>
</svg></body></html>
